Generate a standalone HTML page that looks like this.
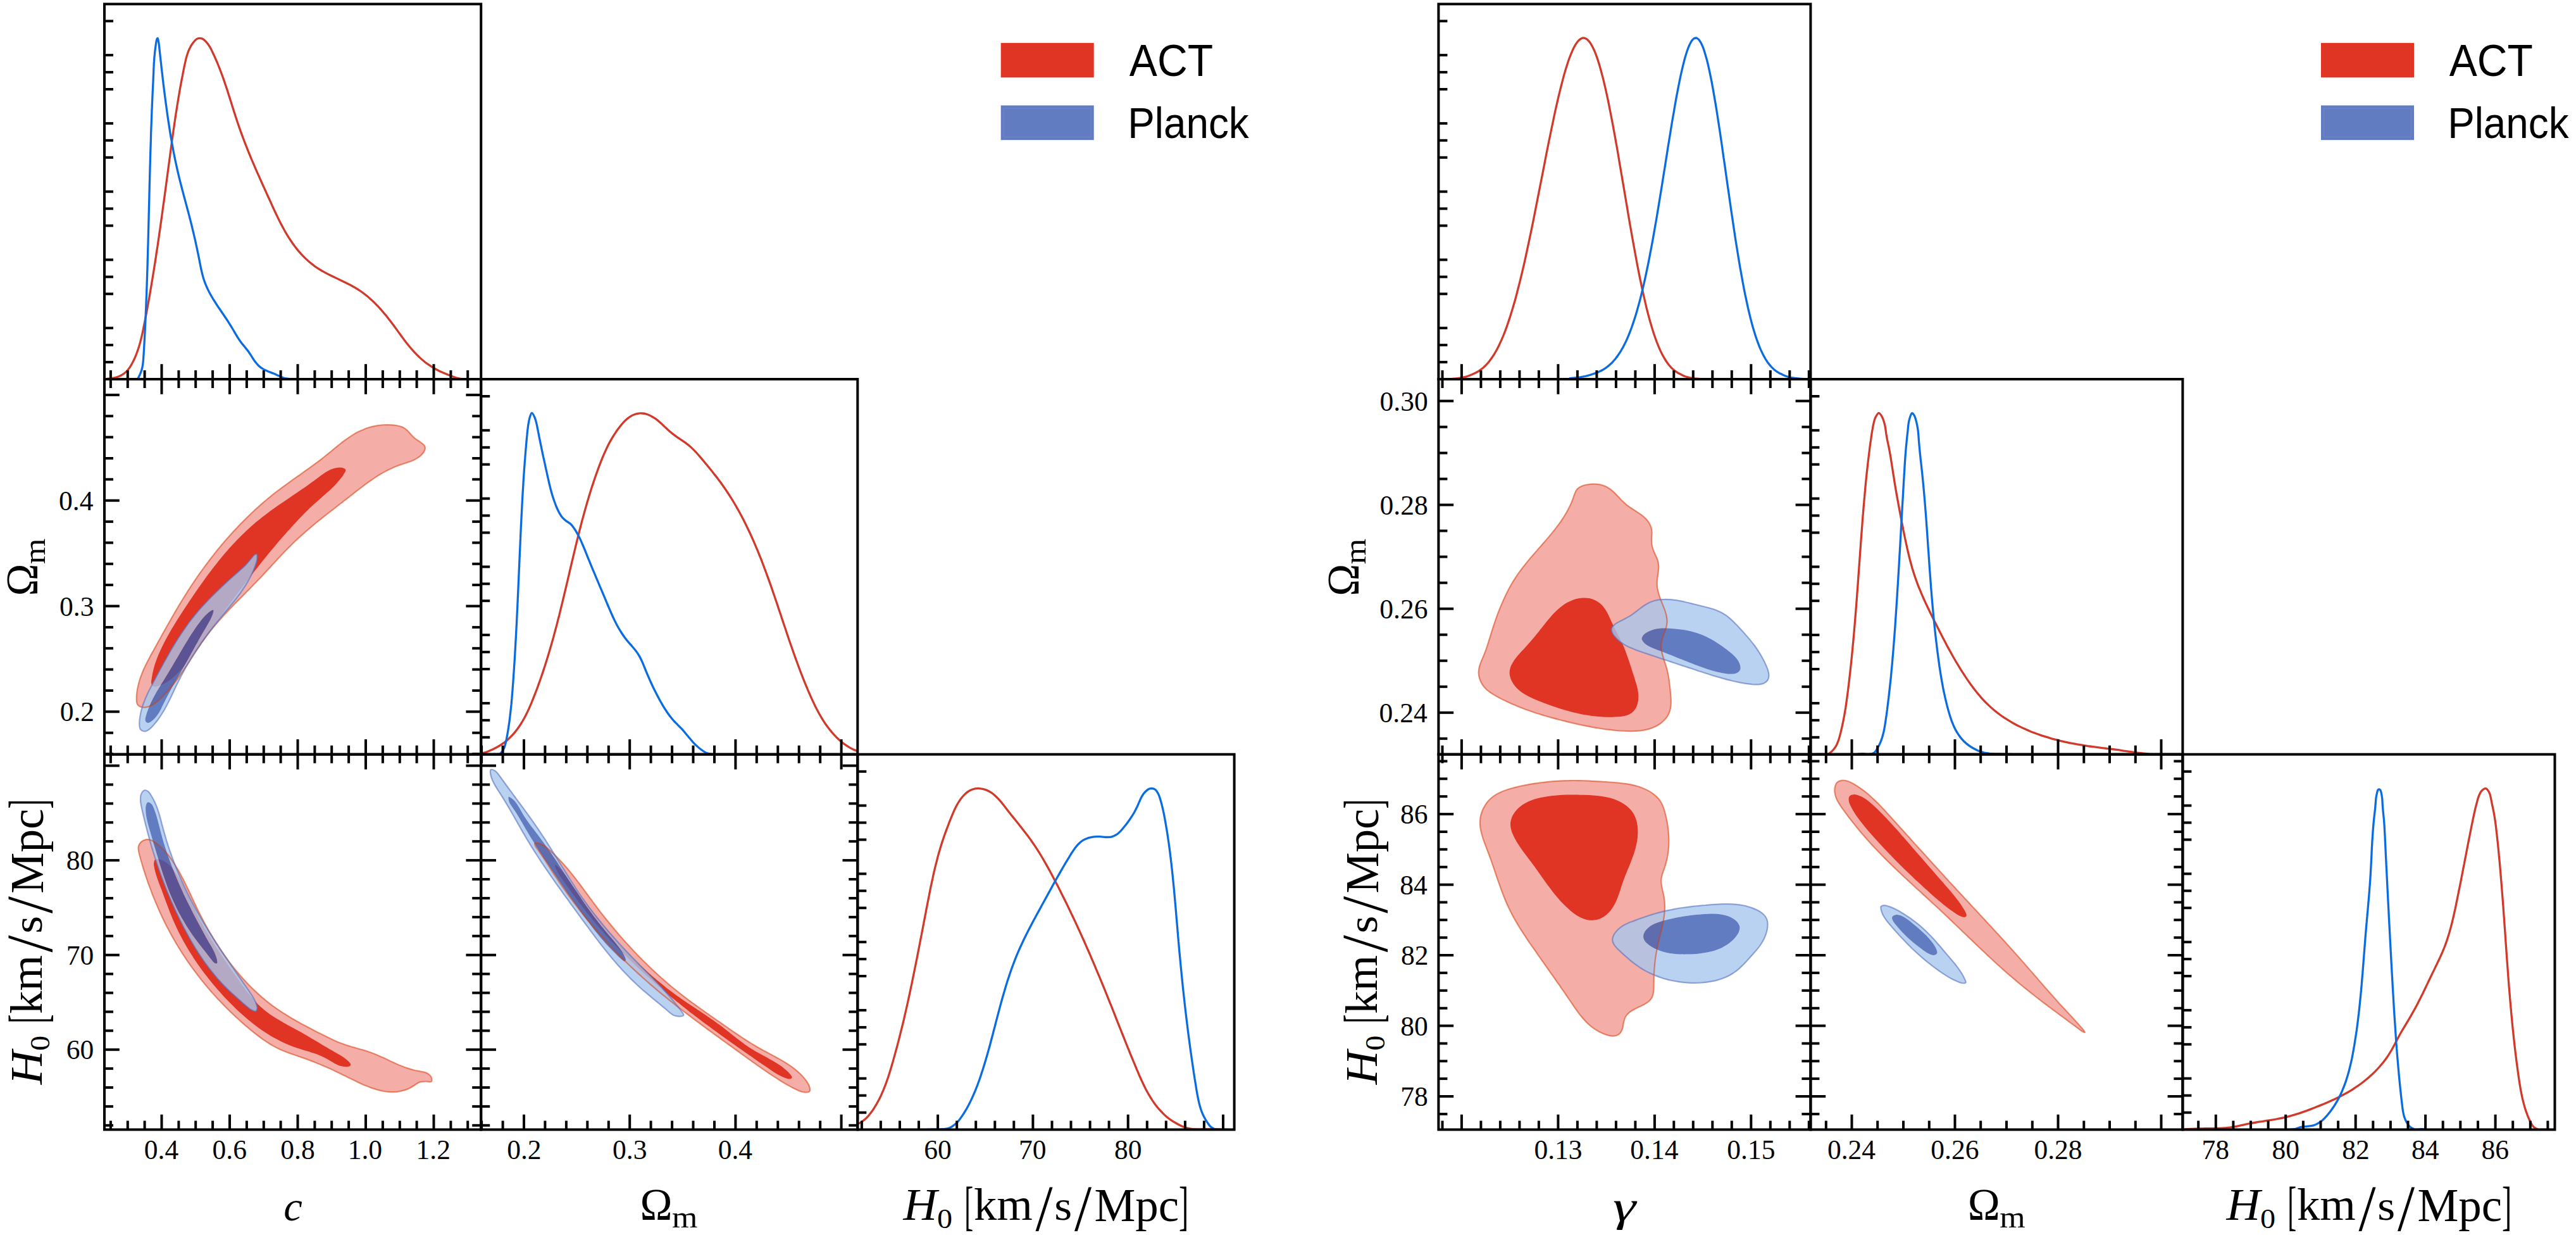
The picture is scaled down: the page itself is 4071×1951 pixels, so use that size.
<!DOCTYPE html>
<html><head><meta charset="utf-8"><title>Triangle plots: ACT vs Planck</title>
<style>html,body{margin:0;padding:0;background:#fff}svg{display:block}</style></head>
<body>
<svg width="4071" height="1951" viewBox="0 0 4071 1951">
<rect width="4071" height="1951" fill="#fff"/>
<clipPath id="cL00"><rect x="165" y="6.4" width="595.2" height="592.6"/></clipPath>
<g clip-path="url(#cL00)">
<path d="M165 598.8C166.4 598.7 170.5 598.4 173.5 598C176.5 597.6 179.9 597.2 183 596.3C186.1 595.5 189.2 594.3 191.9 592.8C194.6 591.4 197 589.5 199.2 587.4C201.3 585.4 203.1 583.1 204.9 580.6C206.6 578.2 208 575.5 209.5 572.8C210.9 570.1 212.2 567.4 213.4 564.6C214.6 561.9 215.7 559.1 216.7 556.3C217.7 553.5 218.7 550.6 219.6 547.8C220.4 544.9 221.3 542 222 539.1C222.8 536.2 223.5 533.3 224.2 530.3C224.9 527.4 225.5 524.5 226.1 521.5C226.7 518.6 227.3 515.6 227.9 512.6C228.5 509.7 229.1 506.7 229.6 503.7C230.2 500.8 230.8 497.8 231.3 494.9C231.9 491.9 232.4 488.9 233 486C233.5 483 234.1 480 234.6 477.1C235.1 474.1 235.7 471.1 236.2 468.2C236.7 465.2 237.2 462.2 237.7 459.3C238.2 456.3 238.7 453.3 239.2 450.4C239.7 447.4 240.2 444.4 240.7 441.5C241.2 438.5 241.7 435.5 242.2 432.5C242.7 429.6 243.1 426.6 243.6 423.6C244.1 420.7 244.5 417.7 245 414.7C245.5 411.7 245.9 408.8 246.4 405.8C246.8 402.8 247.3 399.9 247.7 396.9C248.2 393.9 248.6 390.9 249.1 388C249.5 385 250 382 250.4 379C250.8 376.1 251.3 373.1 251.7 370.1C252.1 367.1 252.5 364.1 253 361.2C253.4 358.2 253.8 355.2 254.2 352.2C254.6 349.3 255.1 346.3 255.5 343.3C255.9 340.3 256.3 337.3 256.7 334.4C257.1 331.4 257.5 328.4 257.9 325.4C258.3 322.4 258.8 319.5 259.2 316.5C259.6 313.5 260 310.5 260.4 307.5C260.8 304.6 261.2 301.6 261.6 298.6C262 295.6 262.4 292.6 262.8 289.7C263.2 286.7 263.6 283.7 264 280.7C264.4 277.7 264.8 274.7 265.2 271.8C265.6 268.8 266 265.8 266.4 262.8C266.8 259.8 267.2 256.8 267.6 253.9C268 250.9 268.4 247.9 268.8 244.9C269.2 241.9 269.6 238.9 270 235.9C270.4 233 270.8 230 271.2 227C271.6 224 272 221 272.4 218C272.9 215.1 273.3 212.1 273.7 209.1C274.1 206.1 274.5 203.1 275 200.2C275.4 197.2 275.8 194.2 276.3 191.2C276.7 188.2 277.2 185.3 277.6 182.3C278.1 179.3 278.5 176.3 279 173.4C279.5 170.4 279.9 167.4 280.4 164.4C280.9 161.5 281.4 158.5 281.9 155.5C282.4 152.6 282.9 149.6 283.4 146.6C283.9 143.7 284.4 140.7 284.9 137.8C285.5 134.8 286 131.9 286.6 128.9C287.1 126 287.7 123 288.3 120.1C288.8 117.1 289.4 114.2 290 111.2C290.6 108.3 291.2 105.4 291.8 102.4C292.5 99.5 293.1 96.5 293.8 93.6C294.5 90.7 295.3 87.8 296.3 85C297.2 82.2 298.3 79.3 299.7 76.6C301 73.9 302.5 71.1 304.4 68.6C306.3 66.1 308.5 62.9 310.9 61.6C313.3 60.3 316.3 60 318.9 60.9C321.5 61.7 324.3 64.5 326.5 66.8C328.6 69.1 330.2 71.8 331.8 74.4C333.4 77.1 334.6 79.8 335.9 82.5C337.2 85.2 338.5 88 339.7 90.7C340.9 93.4 342.1 96.1 343.3 98.9C344.4 101.6 345.5 104.4 346.6 107.1C347.7 109.9 348.8 112.7 349.8 115.5C350.9 118.3 351.9 121.1 352.9 123.9C353.9 126.8 354.9 129.6 355.8 132.4C356.8 135.3 357.7 138.1 358.7 141C359.6 143.9 360.5 146.7 361.4 149.6C362.4 152.5 363.3 155.4 364.2 158.3C365.1 161.1 366 164 366.9 166.9C367.8 169.8 368.7 172.7 369.6 175.6C370.6 178.4 371.5 181.3 372.4 184.2C373.3 187.1 374.3 189.9 375.2 192.8C376.2 195.7 377.2 198.5 378.1 201.4C379.1 204.2 380.1 207 381.2 209.9C382.2 212.7 383.2 215.5 384.3 218.3C385.3 221.2 386.4 224 387.5 226.8C388.6 229.6 389.7 232.3 390.8 235.1C391.9 237.9 393 240.7 394.2 243.5C395.3 246.2 396.5 249 397.6 251.8C398.8 254.5 400 257.3 401.2 260.1C402.3 262.8 403.5 265.6 404.7 268.3C405.9 271.1 407.1 273.8 408.4 276.6C409.6 279.3 410.8 282.1 412 284.8C413.3 287.5 414.5 290.3 415.7 293C417 295.8 418.2 298.5 419.5 301.3C420.7 304 422 306.7 423.2 309.5C424.5 312.2 425.7 315 427 317.7C428.2 320.5 429.5 323.2 430.7 326C432 328.7 433.2 331.5 434.5 334.2C435.8 337 437.1 339.7 438.4 342.4C439.7 345.1 441.1 347.9 442.4 350.5C443.8 353.2 445.2 355.9 446.6 358.6C448 361.2 449.5 363.9 451 366.5C452.5 369.1 454.1 371.6 455.6 374.2C457.2 376.7 458.9 379.2 460.6 381.7C462.3 384.2 464 386.6 465.8 389C467.6 391.4 469.5 393.8 471.4 396.1C473.3 398.3 475.3 400.6 477.4 402.8C479.4 404.9 481.5 407.1 483.7 409.1C485.9 411.2 488.1 413.2 490.4 415.1C492.7 417 495 418.8 497.4 420.6C499.9 422.3 502.4 424 504.9 425.5C507.5 427.1 510.1 428.6 512.8 430.1C515.4 431.5 518.1 432.9 520.8 434.3C523.6 435.7 526.3 437 529.1 438.3C531.8 439.6 534.6 440.9 537.4 442.2C540.1 443.5 542.9 444.8 545.6 446.2C548.4 447.5 551.1 448.9 553.8 450.3C556.4 451.7 559.1 453.1 561.6 454.7C564.2 456.2 566.7 457.8 569.2 459.5C571.7 461.2 574.1 462.9 576.4 464.7C578.8 466.5 581.1 468.4 583.3 470.4C585.5 472.3 587.7 474.3 589.9 476.4C592 478.4 594.1 480.6 596.2 482.7C598.3 484.9 600.3 487.1 602.3 489.3C604.3 491.6 606.2 493.8 608.1 496.2C610.1 498.5 612 500.8 613.8 503.2C615.7 505.6 617.5 508 619.4 510.4C621.2 512.8 623 515.3 624.8 517.7C626.6 520.2 628.3 522.6 630.1 525.1C631.9 527.6 633.7 530 635.5 532.5C637.3 534.9 639.1 537.3 640.9 539.7C642.8 542.1 644.6 544.5 646.5 546.8C648.4 549.1 650.4 551.4 652.4 553.7C654.4 555.9 656.4 558.1 658.5 560.2C660.6 562.4 662.8 564.4 665 566.4C667.3 568.4 669.6 570.3 671.9 572.2C674.3 574 676.8 575.7 679.3 577.4C681.8 579.1 684.3 580.7 686.9 582.2C689.5 583.6 692.2 585.1 694.9 586.4C697.6 587.7 700.4 588.8 703.2 590C705.9 591.2 708.8 592.4 711.7 593.5C714.5 594.6 717.4 595.6 720.3 596.5C723.3 597.3 726.2 598.2 729.2 598.6C732.2 599 735.2 598.8 738.2 598.8C741.2 598.8 744.2 598.8 747.3 598.8C750.3 598.8 754.9 598.8 756.4 598.8" fill="none" stroke="#D1392B" stroke-width="3.3" stroke-linejoin="round"/>
<path d="M217.6 598.8C218.4 597.2 220.9 592.4 222.1 589.4C223.3 586.5 224.1 583.9 224.8 581C225.4 578.2 225.8 575.2 226.1 572.2C226.5 569.2 226.6 566.2 226.8 563.2C227.1 560.2 227.2 557.1 227.4 554.1C227.6 551.1 227.7 548.1 227.9 545C228.1 542 228.3 539 228.4 536C228.6 533 228.7 530 228.9 527C229 524 229.2 521 229.3 518C229.5 515 229.6 512 229.8 509C229.9 506 230 503 230.2 500C230.3 497 230.4 494 230.5 491C230.7 488 230.8 485 230.9 482C231 479 231.1 476 231.2 473C231.4 470 231.5 467 231.6 464C231.7 461 231.8 458 231.9 455C232 452 232.1 449 232.2 446C232.3 443 232.4 440 232.5 437C232.6 434 232.7 431 232.8 428C232.9 425 233 422 233.1 419C233.1 416 233.2 413 233.3 410C233.4 407 233.5 404 233.6 401C233.7 398 233.7 395 233.8 392C233.9 389 234 386 234.1 383C234.1 380 234.2 377 234.3 374C234.4 371 234.5 368 234.5 365C234.6 361.9 234.7 358.9 234.8 355.9C234.8 352.9 234.9 349.9 235 346.9C235.1 343.9 235.1 340.9 235.2 337.9C235.3 334.9 235.4 331.9 235.4 328.9C235.5 325.9 235.6 322.9 235.7 319.9C235.7 316.9 235.8 313.9 235.9 310.9C236 307.9 236 304.9 236.1 301.9C236.2 298.9 236.3 295.8 236.3 292.8C236.4 289.8 236.5 286.8 236.6 283.8C236.6 280.8 236.7 277.8 236.8 274.8C236.9 271.8 237 268.8 237 265.8C237.1 262.8 237.2 259.8 237.3 256.8C237.4 253.8 237.5 250.8 237.5 247.8C237.6 244.8 237.7 241.8 237.8 238.8C237.9 235.8 238 232.8 238.1 229.8C238.2 226.8 238.3 223.8 238.4 220.8C238.5 217.8 238.5 214.8 238.6 211.8C238.7 208.8 238.8 205.8 238.9 202.8C239.1 199.8 239.2 196.8 239.3 193.8C239.4 190.8 239.5 187.8 239.6 184.7C239.7 181.7 239.8 178.7 239.9 175.7C240.1 172.7 240.2 169.7 240.3 166.7C240.4 163.7 240.6 160.7 240.7 157.7C240.8 154.6 241 151.6 241.1 148.6C241.2 145.6 241.4 142.5 241.5 139.5C241.7 136.5 241.8 133.5 242 130.6C242.1 127.7 242.2 124.7 242.3 121.9C242.5 119.1 242.6 116.3 242.7 113.6C242.8 110.8 242.8 108.2 243 105.4C243.1 102.6 243.2 99.8 243.5 96.7C243.7 93.6 243.9 90.5 244.3 86.9C244.6 83.3 245.1 79.1 245.6 75.4C246.1 71.6 246.7 66.9 247.3 64.4C247.9 61.9 248.5 60 249.1 60.4C249.7 60.8 250.2 63.7 250.7 66.7C251.2 69.7 251.7 74.6 252.1 78.4C252.5 82.2 252.9 86.1 253.3 89.6C253.7 93 254 96.1 254.4 99.1C254.7 102.1 255 104.9 255.3 107.7C255.6 110.5 255.9 113.1 256.3 115.9C256.6 118.6 256.9 121.4 257.2 124.2C257.6 127 257.9 129.9 258.2 132.7C258.6 135.6 258.9 138.5 259.3 141.4C259.7 144.3 260 147.2 260.4 150.2C260.8 153.1 261.2 156.1 261.6 159.1C261.9 162.1 262.3 165.1 262.8 168.1C263.2 171.1 263.6 174.1 264 177.1C264.4 180.1 264.9 183.2 265.3 186.2C265.7 189.2 266.2 192.2 266.7 195.3C267.1 198.3 267.6 201.3 268.1 204.3C268.5 207.3 269 210.3 269.5 213.3C270 216.3 270.5 219.3 271.1 222.3C271.6 225.2 272.1 228.2 272.7 231.1C273.2 234.1 273.7 237 274.3 240C274.9 242.9 275.5 245.8 276 248.7C276.6 251.6 277.2 254.5 277.9 257.4C278.5 260.3 279.1 263.2 279.8 266.2C280.4 269.1 281.1 272 281.8 274.9C282.5 277.8 283.2 280.7 283.9 283.6C284.6 286.5 285.4 289.4 286.1 292.3C286.9 295.2 287.6 298.1 288.4 301.1C289.2 304 289.9 306.9 290.7 309.8C291.5 312.7 292.3 315.6 293.1 318.6C293.9 321.5 294.6 324.4 295.4 327.3C296.2 330.2 297 333.2 297.8 336.1C298.5 339 299.3 341.9 300 344.8C300.8 347.7 301.5 350.6 302.3 353.5C303 356.4 303.7 359.3 304.4 362.3C305.1 365.2 305.8 368.1 306.5 371C307.1 373.9 307.8 376.8 308.5 379.7C309.1 382.6 309.7 385.5 310.4 388.5C311 391.4 311.6 394.3 312.3 397.3C312.9 400.2 313.5 403.1 314.1 406.1C314.7 409.1 315.2 412 315.8 415C316.4 418 317 421 317.6 424C318.3 426.9 318.9 429.9 319.7 432.8C320.4 435.8 321.2 438.7 322.1 441.5C323.1 444.4 324.1 447.2 325.2 449.9C326.4 452.7 327.6 455.4 328.9 458.1C330.2 460.7 331.6 463.4 333.1 466C334.5 468.6 336.1 471.1 337.6 473.7C339.2 476.3 340.8 478.8 342.5 481.3C344.1 483.8 345.8 486.3 347.5 488.8C349.2 491.3 350.9 493.8 352.6 496.3C354.3 498.8 356 501.3 357.7 503.8C359.4 506.3 361 508.8 362.6 511.4C364.2 513.9 365.8 516.5 367.3 519C368.9 521.6 370.3 524.2 371.9 526.8C373.4 529.3 374.9 531.9 376.5 534.4C378.1 536.9 379.8 539.3 381.6 541.7C383.4 544 385.4 546.2 387.2 548.6C389.1 550.9 391.1 553.2 392.9 555.7C394.6 558.2 396.2 560.8 397.9 563.4C399.6 566 401.1 568.7 402.9 571.1C404.7 573.4 406.6 575.8 408.7 577.7C410.8 579.7 413.2 581.4 415.7 582.9C418.2 584.3 421 585.5 423.7 586.7C426.5 587.9 429.4 588.8 432.2 590C435.1 591.1 437.9 592.5 440.8 593.7C443.6 594.9 446.4 596.4 449.3 597.3C452.1 598.1 456.5 598.5 458 598.8" fill="none" stroke="#0A6CE0" stroke-width="3.3" stroke-linejoin="round"/>
</g>
<clipPath id="cL10"><rect x="165" y="599" width="595.2" height="592.7"/></clipPath>
<g clip-path="url(#cL10)">
<path d="M215.7 1102.8C215.7 1099.8 216.1 1096.6 216.4 1093.6C216.8 1090.5 217.3 1087.5 218 1084.6C218.6 1081.7 219.4 1078.7 220.2 1075.9C221.1 1073 222 1070.2 223.1 1067.3C224.1 1064.5 225.2 1061.8 226.4 1059C227.6 1056.2 228.9 1053.5 230.2 1050.8C231.5 1048.1 232.9 1045.4 234.3 1042.7C235.7 1040 237.2 1037.3 238.6 1034.6C240.1 1032 241.5 1029.3 243 1026.7C244.5 1024 246 1021.4 247.4 1018.7C248.9 1016.1 250.4 1013.4 251.8 1010.8C253.3 1008.1 254.8 1005.5 256.2 1002.8C257.7 1000.2 259.2 997.5 260.7 994.9C262.1 992.3 263.6 989.6 265.1 987C266.6 984.4 268.1 981.8 269.6 979.2C271 976.5 272.5 973.9 274.1 971.3C275.6 968.7 277.1 966.1 278.6 963.5C280.1 960.9 281.7 958.3 283.2 955.8C284.8 953.2 286.3 950.6 287.9 948C289.5 945.5 291.1 942.9 292.7 940.4C294.3 937.8 295.9 935.3 297.5 932.7C299.2 930.2 300.8 927.7 302.5 925.2C304.1 922.6 305.8 920.1 307.5 917.6C309.2 915.1 310.9 912.7 312.6 910.2C314.3 907.7 316.1 905.2 317.8 902.8C319.6 900.3 321.4 897.9 323.2 895.4C324.9 893 326.7 890.6 328.6 888.2C330.4 885.8 332.2 883.4 334.1 881C335.9 878.6 337.8 876.2 339.6 873.9C341.5 871.5 343.4 869.1 345.3 866.8C347.2 864.5 349.2 862.2 351.1 859.8C353.1 857.5 355 855.2 357 853C359 850.7 361 848.4 363 846.2C365 843.9 367 841.7 369 839.5C371.1 837.3 373.1 835.1 375.2 832.9C377.3 830.7 379.4 828.5 381.5 826.4C383.6 824.2 385.7 822.1 387.9 820C390 817.8 392.2 815.7 394.3 813.7C396.5 811.6 398.7 809.5 400.9 807.5C403.1 805.4 405.3 803.4 407.6 801.4C409.8 799.4 412.1 797.4 414.3 795.4C416.6 793.4 418.9 791.5 421.2 789.5C423.5 787.6 425.9 785.7 428.2 783.8C430.5 781.9 432.9 780.1 435.3 778.2C437.7 776.4 440.1 774.5 442.5 772.7C444.9 770.9 447.3 769.1 449.7 767.3C452.2 765.5 454.6 763.8 457.1 762C459.5 760.2 462 758.5 464.4 756.7C466.9 755 469.4 753.2 471.8 751.5C474.3 749.7 476.8 748 479.2 746.2C481.7 744.5 484.2 742.7 486.6 741C489.1 739.2 491.5 737.4 494 735.7C496.4 733.9 498.8 732.1 501.2 730.3C503.7 728.5 506.1 726.6 508.5 724.8C510.9 722.9 513.2 721.1 515.6 719.2C517.9 717.3 520.3 715.4 522.6 713.5C525 711.5 527.3 709.6 529.6 707.7C531.9 705.8 534.3 703.9 536.6 702C539 700.1 541.3 698.3 543.7 696.5C546.1 694.7 548.6 692.9 551 691.3C553.5 689.6 556 688 558.5 686.4C561.1 684.9 563.7 683.4 566.3 682.1C569 680.8 571.7 679.5 574.5 678.4C577.3 677.2 580.2 676.2 583.1 675.3C586.1 674.5 589.1 673.7 592.1 673.1C595.2 672.5 598.3 672 601.4 671.7C604.4 671.3 607.6 671.1 610.6 671C613.7 671 616.8 671.1 619.8 671.3C622.8 671.5 625.8 671.8 628.6 672.5C631.4 673.1 634.2 673.8 636.7 675C639.2 676.2 641.3 677.9 643.5 679.8C645.6 681.7 647.3 684.2 649.5 686.4C651.6 688.6 653.9 691.1 656.5 693.2C659.1 695.3 662.7 697.1 665.1 699C667.5 700.9 670.2 702.7 671.2 704.8C672.2 706.9 671.9 709.3 671.1 711.5C670.2 713.8 668.3 716.3 666.2 718.4C664.2 720.5 661.4 722.5 658.8 724.1C656.2 725.8 653.4 727.1 650.6 728.3C647.7 729.5 644.8 730.4 641.9 731.3C639 732.3 636 733.1 633.1 734.1C630.2 735.1 627.4 736.2 624.6 737.3C621.8 738.4 619.1 739.7 616.3 741C613.6 742.3 611 743.6 608.3 745.1C605.7 746.5 603.1 748 600.5 749.5C598 751.1 595.4 752.7 592.9 754.3C590.4 756 587.9 757.7 585.5 759.4C583 761.1 580.6 762.9 578.1 764.7C575.7 766.5 573.3 768.3 570.9 770.1C568.5 772 566.1 773.8 563.7 775.7C561.3 777.5 558.9 779.4 556.5 781.3C554.2 783.2 551.8 785 549.4 786.9C547 788.8 544.6 790.6 542.2 792.5C539.8 794.3 537.4 796.2 535 798C532.7 799.9 530.3 801.7 527.9 803.6C525.5 805.4 523.1 807.3 520.7 809.1C518.3 811 516 812.9 513.6 814.7C511.2 816.6 508.9 818.5 506.5 820.4C504.2 822.2 501.8 824.1 499.5 826C497.2 827.9 494.8 829.9 492.5 831.8C490.2 833.7 487.9 835.7 485.7 837.6C483.4 839.6 481.1 841.6 478.9 843.6C476.6 845.6 474.4 847.6 472.2 849.6C470 851.6 467.8 853.7 465.6 855.8C463.4 857.8 461.3 860 459.2 862.1C457 864.2 454.9 866.3 452.8 868.5C450.7 870.6 448.6 872.8 446.5 875C444.5 877.2 442.4 879.4 440.3 881.6C438.3 883.8 436.2 886 434.2 888.2C432.1 890.4 430.1 892.7 428 894.9C426 897.1 423.9 899.3 421.9 901.5C419.8 903.8 417.8 906 415.7 908.2C413.6 910.4 411.6 912.6 409.5 914.8C407.4 917 405.3 919.1 403.2 921.3C401.1 923.5 399 925.6 396.9 927.8C394.8 929.9 392.7 932.1 390.5 934.2C388.4 936.4 386.3 938.5 384.2 940.7C382.1 942.8 379.9 944.9 377.8 947.1C375.7 949.2 373.6 951.4 371.5 953.5C369.4 955.7 367.3 957.8 365.2 960C363.1 962.2 361 964.3 358.9 966.5C356.9 968.7 354.8 970.9 352.8 973.1C350.8 975.3 348.8 977.6 346.8 979.8C344.8 982.1 342.8 984.3 340.8 986.6C338.9 988.9 337 991.2 335.1 993.5C333.2 995.9 331.3 998.2 329.4 1000.6C327.6 1003 325.8 1005.4 324 1007.9C322.2 1010.3 320.5 1012.8 318.7 1015.2C317 1017.7 315.3 1020.2 313.6 1022.8C311.9 1025.3 310.2 1027.8 308.6 1030.3C306.9 1032.9 305.3 1035.4 303.6 1038C302 1040.5 300.3 1043.1 298.7 1045.6C297 1048.1 295.4 1050.7 293.7 1053.2C292 1055.7 290.4 1058.2 288.7 1060.7C287 1063.2 285.3 1065.7 283.5 1068.1C281.8 1070.6 280 1073 278.3 1075.4C276.5 1077.8 274.7 1080.1 272.8 1082.5C270.9 1084.8 269 1087.1 267.1 1089.4C265.1 1091.6 263.1 1093.9 261 1096.1C259 1098.3 256.9 1100.4 254.6 1102.6C252.4 1104.7 250.2 1106.9 247.8 1108.8C245.4 1110.7 242.9 1112.7 240.2 1114.1C237.5 1115.5 234.4 1116.7 231.4 1117.2C228.4 1117.6 224.6 1117.7 222.2 1116.8C219.7 1115.9 217.7 1113.9 216.6 1111.6C215.6 1109.3 215.8 1105.8 215.7 1102.8Z" fill="#F4ADA7"/>
<path d="M239.7 1078.9C239.3 1076.6 240.2 1072.7 240.7 1069.7C241.1 1066.7 241.7 1063.6 242.4 1060.7C243.1 1057.7 243.9 1054.7 244.7 1051.8C245.6 1048.9 246.6 1046 247.6 1043.2C248.6 1040.3 249.8 1037.5 250.9 1034.7C252.1 1031.9 253.3 1029.2 254.6 1026.4C255.9 1023.7 257.2 1021 258.6 1018.3C259.9 1015.6 261.3 1012.9 262.7 1010.3C264.2 1007.6 265.6 1005 267.1 1002.4C268.5 999.8 270 997.2 271.5 994.6C273 992.1 274.6 989.5 276.1 987C277.7 984.4 279.2 981.9 280.8 979.4C282.4 976.8 284 974.3 285.6 971.8C287.2 969.3 288.9 966.8 290.5 964.3C292.1 961.8 293.8 959.3 295.4 956.8C297.1 954.3 298.8 951.8 300.4 949.3C302.1 946.8 303.8 944.3 305.5 941.8C307.2 939.3 308.9 936.8 310.6 934.3C312.3 931.9 314 929.4 315.8 926.9C317.5 924.4 319.2 922 321 919.5C322.8 917.1 324.5 914.6 326.3 912.2C328.1 909.7 329.9 907.3 331.7 904.9C333.5 902.5 335.4 900.1 337.2 897.7C339.1 895.3 340.9 892.9 342.8 890.5C344.7 888.2 346.6 885.8 348.5 883.5C350.4 881.2 352.3 878.8 354.3 876.5C356.2 874.2 358.2 871.9 360.2 869.7C362.1 867.4 364.1 865.2 366.2 863C368.2 860.7 370.2 858.5 372.3 856.4C374.3 854.2 376.4 852 378.5 849.9C380.6 847.8 382.8 845.6 384.9 843.6C387 841.5 389.2 839.4 391.4 837.4C393.6 835.4 395.8 833.4 398 831.4C400.3 829.4 402.5 827.5 404.8 825.5C407.1 823.6 409.4 821.7 411.8 819.9C414.1 818 416.5 816.2 418.8 814.4C421.2 812.6 423.6 810.8 426 809C428.4 807.3 430.8 805.5 433.3 803.8C435.7 802 438.2 800.3 440.6 798.6C443.1 796.9 445.6 795.2 448.1 793.5C450.5 791.8 453 790.1 455.5 788.4C458 786.7 460.5 785 463 783.3C465.5 781.7 468 780 470.5 778.3C473 776.6 475.5 774.9 478 773.1C480.5 771.4 483 769.7 485.5 767.9C487.9 766.2 490.4 764.4 492.9 762.6C495.3 760.8 497.8 759 500.2 757.2C502.7 755.4 505.1 753.5 507.5 751.7C510 750 512.4 748.2 515 746.6C517.5 745.1 520 743.6 522.7 742.4C525.4 741.3 528.1 740.4 531 739.8C533.9 739.3 537.6 739 540 739.4C542.5 739.9 545.4 740.8 545.7 742.6C545.9 744.4 543.5 747.7 541.8 750.3C540.1 753 537.7 755.8 535.6 758.3C533.5 760.8 531.4 763.2 529.3 765.5C527.1 767.7 524.9 769.9 522.8 772C520.6 774.1 518.4 776.1 516.2 778.1C514 780.1 511.8 782 509.6 783.9C507.4 785.8 505.1 787.7 502.9 789.7C500.7 791.6 498.5 793.6 496.4 795.6C494.2 797.5 492 799.6 489.8 801.6C487.7 803.7 485.5 805.8 483.4 807.9C481.3 810 479.1 812.2 477 814.4C474.9 816.5 472.8 818.7 470.7 820.9C468.6 823.1 466.6 825.4 464.5 827.6C462.4 829.8 460.4 832 458.4 834.3C456.3 836.5 454.3 838.8 452.3 841C450.3 843.3 448.3 845.6 446.3 847.8C444.3 850.1 442.4 852.4 440.4 854.6C438.4 856.9 436.5 859.2 434.6 861.5C432.6 863.8 430.7 866.1 428.8 868.4C426.9 870.7 424.9 873 423 875.3C421.1 877.6 419.3 880 417.4 882.3C415.5 884.6 413.6 887 411.7 889.3C409.9 891.6 408 894 406.2 896.3C404.3 898.7 402.5 901 400.6 903.4C398.8 905.8 396.9 908.1 395.1 910.5C393.3 912.9 391.5 915.2 389.6 917.6C387.8 920 386 922.4 384.2 924.8C382.4 927.2 380.6 929.6 378.8 932C377 934.4 375.2 936.8 373.4 939.2C371.6 941.6 369.8 944 368 946.5C366.2 948.9 364.4 951.3 362.6 953.7C360.8 956.2 359 958.6 357.2 961C355.5 963.5 353.7 965.9 351.9 968.3C350.1 970.8 348.3 973.2 346.6 975.7C344.8 978.1 343 980.6 341.3 983C339.5 985.4 337.8 987.9 336 990.3C334.2 992.8 332.5 995.2 330.7 997.7C329 1000.1 327.3 1002.6 325.5 1005C323.8 1007.4 322.1 1009.9 320.3 1012.3C318.6 1014.7 316.9 1017.2 315.2 1019.6C313.5 1022 311.7 1024.4 310 1026.9C308.3 1029.3 306.5 1031.7 304.8 1034.1C303 1036.4 301.2 1038.8 299.4 1041.2C297.6 1043.5 295.7 1045.9 293.8 1048.2C291.9 1050.5 289.9 1052.8 287.9 1055C285.9 1057.3 283.8 1059.5 281.6 1061.7C279.5 1063.9 277.2 1066.1 274.9 1068.2C272.6 1070.2 270.2 1072.2 267.8 1074C265.3 1075.8 262.8 1077.5 260.1 1078.9C257.5 1080.3 254.7 1081.6 251.9 1082.4C249.1 1083.3 245.4 1084.6 243.3 1084C241.3 1083.4 240.1 1081.3 239.7 1078.9Z" fill="#E03424" stroke="#E03424" stroke-width="1.2"/>
<path d="M220.3 1143.2C220.2 1140.3 220.6 1137 221 1134C221.4 1131 222 1128 222.6 1125C223.3 1122.1 224.1 1119.2 225 1116.3C225.9 1113.5 226.9 1110.6 228 1107.8C229.1 1105 230.3 1102.2 231.5 1099.5C232.8 1096.7 234.1 1094 235.4 1091.3C236.8 1088.6 238.2 1085.9 239.6 1083.2C241 1080.5 242.4 1077.8 243.8 1075.1C245.3 1072.4 246.7 1069.7 248.1 1067C249.6 1064.4 251 1061.7 252.4 1059C253.9 1056.3 255.3 1053.7 256.8 1051C258.2 1048.4 259.7 1045.7 261.1 1043.1C262.6 1040.4 264.1 1037.8 265.6 1035.2C267.1 1032.5 268.6 1029.9 270.1 1027.3C271.6 1024.7 273.1 1022.1 274.7 1019.6C276.2 1017 277.8 1014.4 279.4 1011.9C281 1009.3 282.6 1006.8 284.3 1004.3C285.9 1001.8 287.6 999.3 289.3 996.8C290.9 994.3 292.7 991.8 294.4 989.4C296.2 986.9 297.9 984.5 299.7 982.1C301.5 979.7 303.4 977.3 305.3 975C307.1 972.6 309.1 970.3 311 968C312.9 965.7 314.9 963.4 316.9 961.1C318.9 958.9 321 956.6 323 954.4C325.1 952.2 327.2 950 329.3 947.8C331.4 945.6 333.5 943.4 335.7 941.3C337.8 939.1 340 937 342.1 934.9C344.3 932.8 346.5 930.7 348.7 928.6C350.9 926.5 353.1 924.5 355.3 922.4C357.6 920.3 359.8 918.3 362 916.3C364.2 914.3 366.5 912.3 368.7 910.3C370.9 908.3 373.1 906.3 375.4 904.3C377.6 902.3 379.8 900.4 382 898.4C384.2 896.4 386.4 894.5 388.6 892.2C390.7 890 392.8 887.4 394.9 884.9C397.1 882.4 399.6 878.8 401.4 877.2C403.2 875.7 405.1 874.7 405.9 875.8C406.7 876.9 406.6 880.8 406.2 883.7C405.9 886.5 404.7 889.8 403.7 892.8C402.7 895.7 401.5 898.7 400.3 901.6C399.1 904.5 397.7 907.3 396.4 910C395 912.7 393.5 915.4 392 918.1C390.5 920.7 389 923.3 387.4 925.8C385.7 928.4 384.1 930.9 382.3 933.4C380.6 935.8 378.9 938.3 377.1 940.7C375.3 943.1 373.5 945.4 371.6 947.8C369.8 950.2 367.9 952.5 366 954.8C364.1 957.2 362.2 959.5 360.3 961.8C358.4 964.1 356.4 966.4 354.5 968.7C352.6 971 350.7 973.4 348.8 975.7C346.9 978 345 980.4 343.1 982.7C341.2 985.1 339.3 987.5 337.5 989.8C335.6 992.2 333.8 994.6 331.9 997C330.1 999.5 328.3 1001.9 326.5 1004.3C324.7 1006.8 322.9 1009.2 321.2 1011.7C319.4 1014.2 317.7 1016.7 316 1019.2C314.3 1021.7 312.6 1024.2 310.9 1026.7C309.2 1029.2 307.6 1031.8 305.9 1034.3C304.3 1036.9 302.7 1039.4 301.1 1042C299.5 1044.6 298 1047.2 296.4 1049.8C294.9 1052.4 293.4 1055 291.9 1057.7C290.4 1060.3 289 1063 287.6 1065.6C286.1 1068.3 284.7 1071 283.4 1073.7C282 1076.4 280.7 1079.1 279.3 1081.8C278 1084.5 276.7 1087.2 275.4 1090C274.2 1092.7 272.9 1095.4 271.6 1098.2C270.3 1100.9 269 1103.6 267.7 1106.3C266.3 1109 265 1111.7 263.6 1114.3C262.1 1117 260.7 1119.7 259.2 1122.3C257.7 1124.9 256.1 1127.4 254.4 1130C252.8 1132.5 251 1135 249.2 1137.5C247.4 1139.9 245.4 1142.3 243.4 1144.6C241.3 1147 239.2 1149.6 236.9 1151.4C234.6 1153.2 231.9 1155.2 229.4 1155.3C226.8 1155.4 223.3 1153.9 221.8 1151.9C220.3 1149.9 220.4 1146.2 220.3 1143.2ZM337 963.8C336.2 963.1 333.1 965 330.9 966.7C328.6 968.3 325.9 971.2 323.6 973.5C321.4 975.8 319.5 978.3 317.5 980.7C315.6 983.1 313.8 985.6 312 988C310.2 990.4 308.6 992.9 306.9 995.4C305.2 997.8 303.6 1000.3 302 1002.8C300.4 1005.3 298.8 1007.9 297.3 1010.4C295.7 1013 294.1 1015.6 292.6 1018.1C291 1020.7 289.4 1023.4 287.9 1026C286.3 1028.6 284.8 1031.2 283.2 1033.9C281.7 1036.5 280.2 1039.1 278.6 1041.8C277.1 1044.4 275.5 1047 274 1049.7C272.4 1052.3 270.9 1054.9 269.3 1057.5C267.8 1060.1 266.2 1062.7 264.7 1065.3C263.1 1067.9 261.5 1070.4 260 1073C258.4 1075.5 256.8 1078 255.2 1080.5C253.7 1083.1 252.1 1085.6 250.6 1088.1C249 1090.7 247.5 1093.2 246 1095.8C244.6 1098.5 243.1 1101.1 241.7 1103.8C240.3 1106.5 239 1109.2 237.7 1112.1C236.4 1114.9 235.2 1117.8 234 1120.8C232.9 1123.9 231.6 1127.2 230.8 1130.2C230.1 1133.1 229.1 1136.7 229.7 1138.6C230.3 1140.6 232.3 1142.2 234.3 1142C236.4 1141.8 239.5 1139.5 241.8 1137.5C244.2 1135.5 246.6 1132.5 248.5 1130C250.4 1127.4 251.9 1124.8 253.4 1122.2C254.8 1119.6 256 1116.9 257.3 1114.3C258.7 1111.6 259.9 1109 261.3 1106.3C262.6 1103.6 264 1101 265.4 1098.3C266.8 1095.6 268.2 1093 269.7 1090.3C271.1 1087.6 272.6 1084.9 274.1 1082.2C275.5 1079.6 277 1076.9 278.5 1074.2C280 1071.6 281.6 1068.9 283.1 1066.2C284.6 1063.6 286.1 1060.9 287.6 1058.3C289.1 1055.6 290.5 1053 292 1050.4C293.5 1047.8 294.9 1045.2 296.4 1042.5C297.8 1039.9 299.3 1037.3 300.7 1034.7C302.1 1032.1 303.6 1029.6 305 1027C306.5 1024.3 307.9 1021.7 309.3 1019.1C310.8 1016.5 312.3 1013.9 313.7 1011.2C315.2 1008.6 316.7 1005.9 318.2 1003.3C319.8 1000.6 321.3 997.9 322.9 995.2C324.5 992.5 326.2 989.7 327.7 986.9C329.3 984.2 331 981.4 332.4 978.7C333.7 975.9 335.1 973.1 335.9 970.6C336.7 968.1 337.9 964.5 337 963.8Z" fill="#A9C7EE" fill-opacity="0.8" fill-rule="evenodd" stroke="none"/>
<path d="M337 963.8C336.2 963.1 333.1 965 330.9 966.7C328.6 968.3 325.9 971.2 323.6 973.5C321.4 975.8 319.5 978.3 317.5 980.7C315.6 983.1 313.8 985.6 312 988C310.2 990.4 308.6 992.9 306.9 995.4C305.2 997.8 303.6 1000.3 302 1002.8C300.4 1005.3 298.8 1007.9 297.3 1010.4C295.7 1013 294.1 1015.6 292.6 1018.1C291 1020.7 289.4 1023.4 287.9 1026C286.3 1028.6 284.8 1031.2 283.2 1033.9C281.7 1036.5 280.2 1039.1 278.6 1041.8C277.1 1044.4 275.5 1047 274 1049.7C272.4 1052.3 270.9 1054.9 269.3 1057.5C267.8 1060.1 266.2 1062.7 264.7 1065.3C263.1 1067.9 261.5 1070.4 260 1073C258.4 1075.5 256.8 1078 255.2 1080.5C253.7 1083.1 252.1 1085.6 250.6 1088.1C249 1090.7 247.5 1093.2 246 1095.8C244.6 1098.5 243.1 1101.1 241.7 1103.8C240.3 1106.5 239 1109.2 237.7 1112.1C236.4 1114.9 235.2 1117.8 234 1120.8C232.9 1123.9 231.6 1127.2 230.8 1130.2C230.1 1133.1 229.1 1136.7 229.7 1138.6C230.3 1140.6 232.3 1142.2 234.3 1142C236.4 1141.8 239.5 1139.5 241.8 1137.5C244.2 1135.5 246.6 1132.5 248.5 1130C250.4 1127.4 251.9 1124.8 253.4 1122.2C254.8 1119.6 256 1116.9 257.3 1114.3C258.7 1111.6 259.9 1109 261.3 1106.3C262.6 1103.6 264 1101 265.4 1098.3C266.8 1095.6 268.2 1093 269.7 1090.3C271.1 1087.6 272.6 1084.9 274.1 1082.2C275.5 1079.6 277 1076.9 278.5 1074.2C280 1071.6 281.6 1068.9 283.1 1066.2C284.6 1063.6 286.1 1060.9 287.6 1058.3C289.1 1055.6 290.5 1053 292 1050.4C293.5 1047.8 294.9 1045.2 296.4 1042.5C297.8 1039.9 299.3 1037.3 300.7 1034.7C302.1 1032.1 303.6 1029.6 305 1027C306.5 1024.3 307.9 1021.7 309.3 1019.1C310.8 1016.5 312.3 1013.9 313.7 1011.2C315.2 1008.6 316.7 1005.9 318.2 1003.3C319.8 1000.6 321.3 997.9 322.9 995.2C324.5 992.5 326.2 989.7 327.7 986.9C329.3 984.2 331 981.4 332.4 978.7C333.7 975.9 335.1 973.1 335.9 970.6C336.7 968.1 337.9 964.5 337 963.8Z" fill="#3A5BB0" fill-opacity="0.8"/>
<path d="M215.7 1102.8C215.7 1099.8 216.1 1096.6 216.4 1093.6C216.8 1090.5 217.3 1087.5 218 1084.6C218.6 1081.7 219.4 1078.7 220.2 1075.9C221.1 1073 222 1070.2 223.1 1067.3C224.1 1064.5 225.2 1061.8 226.4 1059C227.6 1056.2 228.9 1053.5 230.2 1050.8C231.5 1048.1 232.9 1045.4 234.3 1042.7C235.7 1040 237.2 1037.3 238.6 1034.6C240.1 1032 241.5 1029.3 243 1026.7C244.5 1024 246 1021.4 247.4 1018.7C248.9 1016.1 250.4 1013.4 251.8 1010.8C253.3 1008.1 254.8 1005.5 256.2 1002.8C257.7 1000.2 259.2 997.5 260.7 994.9C262.1 992.3 263.6 989.6 265.1 987C266.6 984.4 268.1 981.8 269.6 979.2C271 976.5 272.5 973.9 274.1 971.3C275.6 968.7 277.1 966.1 278.6 963.5C280.1 960.9 281.7 958.3 283.2 955.8C284.8 953.2 286.3 950.6 287.9 948C289.5 945.5 291.1 942.9 292.7 940.4C294.3 937.8 295.9 935.3 297.5 932.7C299.2 930.2 300.8 927.7 302.5 925.2C304.1 922.6 305.8 920.1 307.5 917.6C309.2 915.1 310.9 912.7 312.6 910.2C314.3 907.7 316.1 905.2 317.8 902.8C319.6 900.3 321.4 897.9 323.2 895.4C324.9 893 326.7 890.6 328.6 888.2C330.4 885.8 332.2 883.4 334.1 881C335.9 878.6 337.8 876.2 339.6 873.9C341.5 871.5 343.4 869.1 345.3 866.8C347.2 864.5 349.2 862.2 351.1 859.8C353.1 857.5 355 855.2 357 853C359 850.7 361 848.4 363 846.2C365 843.9 367 841.7 369 839.5C371.1 837.3 373.1 835.1 375.2 832.9C377.3 830.7 379.4 828.5 381.5 826.4C383.6 824.2 385.7 822.1 387.9 820C390 817.8 392.2 815.7 394.3 813.7C396.5 811.6 398.7 809.5 400.9 807.5C403.1 805.4 405.3 803.4 407.6 801.4C409.8 799.4 412.1 797.4 414.3 795.4C416.6 793.4 418.9 791.5 421.2 789.5C423.5 787.6 425.9 785.7 428.2 783.8C430.5 781.9 432.9 780.1 435.3 778.2C437.7 776.4 440.1 774.5 442.5 772.7C444.9 770.9 447.3 769.1 449.7 767.3C452.2 765.5 454.6 763.8 457.1 762C459.5 760.2 462 758.5 464.4 756.7C466.9 755 469.4 753.2 471.8 751.5C474.3 749.7 476.8 748 479.2 746.2C481.7 744.5 484.2 742.7 486.6 741C489.1 739.2 491.5 737.4 494 735.7C496.4 733.9 498.8 732.1 501.2 730.3C503.7 728.5 506.1 726.6 508.5 724.8C510.9 722.9 513.2 721.1 515.6 719.2C517.9 717.3 520.3 715.4 522.6 713.5C525 711.5 527.3 709.6 529.6 707.7C531.9 705.8 534.3 703.9 536.6 702C539 700.1 541.3 698.3 543.7 696.5C546.1 694.7 548.6 692.9 551 691.3C553.5 689.6 556 688 558.5 686.4C561.1 684.9 563.7 683.4 566.3 682.1C569 680.8 571.7 679.5 574.5 678.4C577.3 677.2 580.2 676.2 583.1 675.3C586.1 674.5 589.1 673.7 592.1 673.1C595.2 672.5 598.3 672 601.4 671.7C604.4 671.3 607.6 671.1 610.6 671C613.7 671 616.8 671.1 619.8 671.3C622.8 671.5 625.8 671.8 628.6 672.5C631.4 673.1 634.2 673.8 636.7 675C639.2 676.2 641.3 677.9 643.5 679.8C645.6 681.7 647.3 684.2 649.5 686.4C651.6 688.6 653.9 691.1 656.5 693.2C659.1 695.3 662.7 697.1 665.1 699C667.5 700.9 670.2 702.7 671.2 704.8C672.2 706.9 671.9 709.3 671.1 711.5C670.2 713.8 668.3 716.3 666.2 718.4C664.2 720.5 661.4 722.5 658.8 724.1C656.2 725.8 653.4 727.1 650.6 728.3C647.7 729.5 644.8 730.4 641.9 731.3C639 732.3 636 733.1 633.1 734.1C630.2 735.1 627.4 736.2 624.6 737.3C621.8 738.4 619.1 739.7 616.3 741C613.6 742.3 611 743.6 608.3 745.1C605.7 746.5 603.1 748 600.5 749.5C598 751.1 595.4 752.7 592.9 754.3C590.4 756 587.9 757.7 585.5 759.4C583 761.1 580.6 762.9 578.1 764.7C575.7 766.5 573.3 768.3 570.9 770.1C568.5 772 566.1 773.8 563.7 775.7C561.3 777.5 558.9 779.4 556.5 781.3C554.2 783.2 551.8 785 549.4 786.9C547 788.8 544.6 790.6 542.2 792.5C539.8 794.3 537.4 796.2 535 798C532.7 799.9 530.3 801.7 527.9 803.6C525.5 805.4 523.1 807.3 520.7 809.1C518.3 811 516 812.9 513.6 814.7C511.2 816.6 508.9 818.5 506.5 820.4C504.2 822.2 501.8 824.1 499.5 826C497.2 827.9 494.8 829.9 492.5 831.8C490.2 833.7 487.9 835.7 485.7 837.6C483.4 839.6 481.1 841.6 478.9 843.6C476.6 845.6 474.4 847.6 472.2 849.6C470 851.6 467.8 853.7 465.6 855.8C463.4 857.8 461.3 860 459.2 862.1C457 864.2 454.9 866.3 452.8 868.5C450.7 870.6 448.6 872.8 446.5 875C444.5 877.2 442.4 879.4 440.3 881.6C438.3 883.8 436.2 886 434.2 888.2C432.1 890.4 430.1 892.7 428 894.9C426 897.1 423.9 899.3 421.9 901.5C419.8 903.8 417.8 906 415.7 908.2C413.6 910.4 411.6 912.6 409.5 914.8C407.4 917 405.3 919.1 403.2 921.3C401.1 923.5 399 925.6 396.9 927.8C394.8 929.9 392.7 932.1 390.5 934.2C388.4 936.4 386.3 938.5 384.2 940.7C382.1 942.8 379.9 944.9 377.8 947.1C375.7 949.2 373.6 951.4 371.5 953.5C369.4 955.7 367.3 957.8 365.2 960C363.1 962.2 361 964.3 358.9 966.5C356.9 968.7 354.8 970.9 352.8 973.1C350.8 975.3 348.8 977.6 346.8 979.8C344.8 982.1 342.8 984.3 340.8 986.6C338.9 988.9 337 991.2 335.1 993.5C333.2 995.9 331.3 998.2 329.4 1000.6C327.6 1003 325.8 1005.4 324 1007.9C322.2 1010.3 320.5 1012.8 318.7 1015.2C317 1017.7 315.3 1020.2 313.6 1022.8C311.9 1025.3 310.2 1027.8 308.6 1030.3C306.9 1032.9 305.3 1035.4 303.6 1038C302 1040.5 300.3 1043.1 298.7 1045.6C297 1048.1 295.4 1050.7 293.7 1053.2C292 1055.7 290.4 1058.2 288.7 1060.7C287 1063.2 285.3 1065.7 283.5 1068.1C281.8 1070.6 280 1073 278.3 1075.4C276.5 1077.8 274.7 1080.1 272.8 1082.5C270.9 1084.8 269 1087.1 267.1 1089.4C265.1 1091.6 263.1 1093.9 261 1096.1C259 1098.3 256.9 1100.4 254.6 1102.6C252.4 1104.7 250.2 1106.9 247.8 1108.8C245.4 1110.7 242.9 1112.7 240.2 1114.1C237.5 1115.5 234.4 1116.7 231.4 1117.2C228.4 1117.6 224.6 1117.7 222.2 1116.8C219.7 1115.9 217.7 1113.9 216.6 1111.6C215.6 1109.3 215.8 1105.8 215.7 1102.8Z" fill="none" stroke="#D63C0C" stroke-opacity="0.55" stroke-width="2.2"/>
<path d="M220.3 1143.2C220.2 1140.3 220.6 1137 221 1134C221.4 1131 222 1128 222.6 1125C223.3 1122.1 224.1 1119.2 225 1116.3C225.9 1113.5 226.9 1110.6 228 1107.8C229.1 1105 230.3 1102.2 231.5 1099.5C232.8 1096.7 234.1 1094 235.4 1091.3C236.8 1088.6 238.2 1085.9 239.6 1083.2C241 1080.5 242.4 1077.8 243.8 1075.1C245.3 1072.4 246.7 1069.7 248.1 1067C249.6 1064.4 251 1061.7 252.4 1059C253.9 1056.3 255.3 1053.7 256.8 1051C258.2 1048.4 259.7 1045.7 261.1 1043.1C262.6 1040.4 264.1 1037.8 265.6 1035.2C267.1 1032.5 268.6 1029.9 270.1 1027.3C271.6 1024.7 273.1 1022.1 274.7 1019.6C276.2 1017 277.8 1014.4 279.4 1011.9C281 1009.3 282.6 1006.8 284.3 1004.3C285.9 1001.8 287.6 999.3 289.3 996.8C290.9 994.3 292.7 991.8 294.4 989.4C296.2 986.9 297.9 984.5 299.7 982.1C301.5 979.7 303.4 977.3 305.3 975C307.1 972.6 309.1 970.3 311 968C312.9 965.7 314.9 963.4 316.9 961.1C318.9 958.9 321 956.6 323 954.4C325.1 952.2 327.2 950 329.3 947.8C331.4 945.6 333.5 943.4 335.7 941.3C337.8 939.1 340 937 342.1 934.9C344.3 932.8 346.5 930.7 348.7 928.6C350.9 926.5 353.1 924.5 355.3 922.4C357.6 920.3 359.8 918.3 362 916.3C364.2 914.3 366.5 912.3 368.7 910.3C370.9 908.3 373.1 906.3 375.4 904.3C377.6 902.3 379.8 900.4 382 898.4C384.2 896.4 386.4 894.5 388.6 892.2C390.7 890 392.8 887.4 394.9 884.9C397.1 882.4 399.6 878.8 401.4 877.2C403.2 875.7 405.1 874.7 405.9 875.8C406.7 876.9 406.6 880.8 406.2 883.7C405.9 886.5 404.7 889.8 403.7 892.8C402.7 895.7 401.5 898.7 400.3 901.6C399.1 904.5 397.7 907.3 396.4 910C395 912.7 393.5 915.4 392 918.1C390.5 920.7 389 923.3 387.4 925.8C385.7 928.4 384.1 930.9 382.3 933.4C380.6 935.8 378.9 938.3 377.1 940.7C375.3 943.1 373.5 945.4 371.6 947.8C369.8 950.2 367.9 952.5 366 954.8C364.1 957.2 362.2 959.5 360.3 961.8C358.4 964.1 356.4 966.4 354.5 968.7C352.6 971 350.7 973.4 348.8 975.7C346.9 978 345 980.4 343.1 982.7C341.2 985.1 339.3 987.5 337.5 989.8C335.6 992.2 333.8 994.6 331.9 997C330.1 999.5 328.3 1001.9 326.5 1004.3C324.7 1006.8 322.9 1009.2 321.2 1011.7C319.4 1014.2 317.7 1016.7 316 1019.2C314.3 1021.7 312.6 1024.2 310.9 1026.7C309.2 1029.2 307.6 1031.8 305.9 1034.3C304.3 1036.9 302.7 1039.4 301.1 1042C299.5 1044.6 298 1047.2 296.4 1049.8C294.9 1052.4 293.4 1055 291.9 1057.7C290.4 1060.3 289 1063 287.6 1065.6C286.1 1068.3 284.7 1071 283.4 1073.7C282 1076.4 280.7 1079.1 279.3 1081.8C278 1084.5 276.7 1087.2 275.4 1090C274.2 1092.7 272.9 1095.4 271.6 1098.2C270.3 1100.9 269 1103.6 267.7 1106.3C266.3 1109 265 1111.7 263.6 1114.3C262.1 1117 260.7 1119.7 259.2 1122.3C257.7 1124.9 256.1 1127.4 254.4 1130C252.8 1132.5 251 1135 249.2 1137.5C247.4 1139.9 245.4 1142.3 243.4 1144.6C241.3 1147 239.2 1149.6 236.9 1151.4C234.6 1153.2 231.9 1155.2 229.4 1155.3C226.8 1155.4 223.3 1153.9 221.8 1151.9C220.3 1149.9 220.4 1146.2 220.3 1143.2Z" fill="none" stroke="#5570BE" stroke-opacity="0.6" stroke-width="2.2"/>
</g>
<clipPath id="cL11"><rect x="760.2" y="599" width="595.1" height="592.7"/></clipPath>
<g clip-path="url(#cL11)">
<path d="M760 1190.4C761.5 1190 765.9 1189.1 768.8 1188.1C771.7 1187.1 774.6 1185.7 777.4 1184.4C780.2 1183.1 783 1181.8 785.7 1180.3C788.3 1178.8 791 1177.2 793.5 1175.4C796 1173.7 798.5 1171.8 800.8 1169.9C803.1 1167.9 805.3 1165.9 807.4 1163.7C809.5 1161.6 811.5 1159.4 813.4 1157.1C815.3 1154.8 817.1 1152.5 818.9 1150C820.6 1147.6 822.3 1145.1 823.8 1142.6C825.4 1140 826.9 1137.4 828.4 1134.8C829.8 1132.2 831.2 1129.5 832.5 1126.8C833.9 1124.1 835.1 1121.3 836.4 1118.5C837.6 1115.8 838.8 1113 840 1110.2C841.1 1107.4 842.3 1104.5 843.4 1101.7C844.5 1098.9 845.6 1096 846.7 1093.2C847.8 1090.4 848.9 1087.5 849.9 1084.7C850.9 1081.8 852 1079 853 1076.1C854 1073.2 855 1070.4 856 1067.5C857 1064.7 857.9 1061.8 858.9 1058.9C859.8 1056 860.8 1053.2 861.7 1050.3C862.6 1047.4 863.5 1044.5 864.4 1041.6C865.3 1038.8 866.2 1035.9 867 1033C867.9 1030.1 868.8 1027.2 869.6 1024.3C870.5 1021.4 871.3 1018.5 872.1 1015.6C872.9 1012.7 873.7 1009.8 874.6 1006.9C875.4 1004 876.1 1001.1 876.9 998.1C877.7 995.2 878.5 992.3 879.3 989.4C880 986.5 880.8 983.6 881.5 980.6C882.3 977.7 883 974.8 883.8 971.9C884.5 968.9 885.2 966 885.9 963.1C886.7 960.2 887.4 957.2 888.1 954.3C888.8 951.4 889.5 948.4 890.2 945.5C890.9 942.6 891.6 939.6 892.3 936.7C893 933.8 893.7 930.8 894.4 927.9C895.1 924.9 895.8 922 896.5 919.1C897.2 916.1 897.9 913.2 898.6 910.2C899.3 907.3 900 904.4 900.6 901.4C901.3 898.5 902 895.5 902.7 892.6C903.4 889.7 904.1 886.7 904.8 883.8C905.5 880.8 906.2 877.9 906.9 875C907.6 872 908.3 869.1 909 866.1C909.7 863.2 910.4 860.3 911.1 857.3C911.8 854.4 912.6 851.5 913.3 848.5C914 845.6 914.8 842.7 915.5 839.7C916.2 836.8 917 833.9 917.7 831C918.5 828 919.3 825.1 920 822.2C920.8 819.3 921.6 816.4 922.4 813.5C923.2 810.5 924 807.6 924.8 804.7C925.6 801.8 926.5 798.9 927.3 796C928.1 793.1 929 790.2 929.9 787.3C930.7 784.4 931.6 781.6 932.5 778.7C933.4 775.8 934.3 772.9 935.2 770C936.2 767.2 937.1 764.3 938.1 761.4C939 758.6 940 755.7 941 752.8C942 750 943 747.1 944 744.3C945 741.4 946.1 738.6 947.1 735.8C948.2 732.9 949.3 730.1 950.4 727.3C951.5 724.5 952.7 721.7 953.9 718.9C955.1 716.1 956.3 713.4 957.6 710.6C958.8 707.9 960.2 705.2 961.5 702.5C962.9 699.8 964.4 697.2 965.8 694.6C967.3 692 968.9 689.4 970.5 686.8C972.2 684.3 973.8 681.8 975.6 679.3C977.4 676.9 979.2 674.4 981.2 672.1C983.1 669.7 985.1 667.4 987.3 665.2C989.4 663.1 991.7 661 994.1 659.3C996.6 657.6 999.2 656 1002 655C1004.8 653.9 1007.8 653.1 1010.8 652.9C1013.7 652.6 1016.8 653 1019.7 653.6C1022.6 654.3 1025.6 655.5 1028.3 656.9C1031.1 658.2 1033.7 660 1036.2 661.7C1038.7 663.5 1041 665.5 1043.3 667.5C1045.6 669.5 1047.7 671.6 1049.8 673.6C1052 675.6 1054.1 677.7 1056.4 679.7C1058.6 681.7 1060.9 683.6 1063.2 685.4C1065.6 687.3 1068 689.1 1070.5 690.8C1073 692.5 1075.6 694.1 1078.1 695.8C1080.6 697.5 1083.1 699.2 1085.5 701.1C1087.9 702.9 1090.2 704.9 1092.4 706.9C1094.6 708.9 1096.7 711.1 1098.7 713.2C1100.8 715.4 1102.8 717.7 1104.8 719.9C1106.8 722.2 1108.7 724.5 1110.7 726.8C1112.6 729.1 1114.5 731.5 1116.5 733.8C1118.4 736.1 1120.3 738.5 1122.2 740.8C1124.2 743.2 1126.1 745.5 1127.9 747.9C1129.8 750.3 1131.7 752.6 1133.5 755C1135.3 757.5 1137.2 759.9 1139 762.3C1140.7 764.7 1142.5 767.2 1144.2 769.7C1146 772.2 1147.7 774.7 1149.3 777.2C1151 779.7 1152.6 782.2 1154.3 784.8C1155.9 787.3 1157.5 789.9 1159 792.5C1160.6 795.1 1162.1 797.7 1163.6 800.3C1165.1 802.9 1166.6 805.5 1168.1 808.2C1169.5 810.8 1171 813.5 1172.4 816.2C1173.8 818.8 1175.2 821.5 1176.5 824.2C1177.9 826.9 1179.2 829.6 1180.5 832.4C1181.9 835.1 1183.2 837.8 1184.4 840.5C1185.7 843.3 1187 846 1188.2 848.8C1189.5 851.6 1190.7 854.3 1191.9 857.1C1193.1 859.9 1194.3 862.6 1195.4 865.4C1196.6 868.2 1197.8 871 1198.9 873.8C1200 876.6 1201.1 879.4 1202.3 882.2C1203.4 885 1204.5 887.8 1205.5 890.6C1206.6 893.4 1207.7 896.3 1208.7 899.1C1209.8 901.9 1210.8 904.7 1211.9 907.6C1212.9 910.4 1213.9 913.3 1215 916.1C1216 918.9 1217 921.8 1218 924.6C1219 927.5 1220 930.3 1221 933.2C1221.9 936 1222.9 938.9 1223.9 941.7C1224.9 944.6 1225.8 947.5 1226.8 950.3C1227.8 953.2 1228.7 956 1229.7 958.9C1230.6 961.8 1231.6 964.6 1232.6 967.5C1233.5 970.4 1234.5 973.2 1235.4 976.1C1236.4 979 1237.3 981.8 1238.3 984.7C1239.2 987.5 1240.2 990.4 1241.2 993.3C1242.1 996.1 1243.1 999 1244 1001.9C1245 1004.7 1246 1007.6 1246.9 1010.5C1247.9 1013.3 1248.9 1016.2 1249.9 1019C1250.9 1021.9 1251.9 1024.7 1252.9 1027.6C1253.9 1030.4 1254.9 1033.3 1255.9 1036.1C1256.9 1039 1257.9 1041.8 1259 1044.7C1260 1047.5 1261.1 1050.3 1262.1 1053.2C1263.2 1056 1264.3 1058.8 1265.3 1061.7C1266.4 1064.5 1267.5 1067.3 1268.6 1070.1C1269.7 1072.9 1270.9 1075.7 1272 1078.6C1273.1 1081.4 1274.3 1084.2 1275.5 1087C1276.6 1089.8 1277.8 1092.5 1279 1095.3C1280.3 1098.1 1281.5 1100.9 1282.7 1103.6C1284 1106.4 1285.3 1109.2 1286.6 1111.9C1287.9 1114.6 1289.2 1117.3 1290.6 1120C1292 1122.7 1293.4 1125.4 1294.9 1128C1296.4 1130.6 1297.9 1133.2 1299.5 1135.8C1301 1138.3 1302.7 1140.8 1304.3 1143.3C1306 1145.8 1307.8 1148.2 1309.6 1150.6C1311.4 1153 1313.3 1155.3 1315.3 1157.6C1317.3 1159.8 1319.3 1162 1321.4 1164.2C1323.6 1166.3 1325.8 1168.4 1328.1 1170.4C1330.4 1172.4 1332.8 1174.4 1335.3 1176.2C1337.7 1177.9 1340.3 1179.6 1343 1181.1C1345.6 1182.6 1348.4 1184 1351.2 1185.1C1354.1 1186.2 1358.5 1187.4 1360 1187.9" fill="none" stroke="#D1392B" stroke-width="3.3" stroke-linejoin="round"/>
<path d="M780 1191.4C781.6 1191.3 787.1 1192.1 789.7 1190.9C792.2 1189.8 793.9 1186.9 795.4 1184.5C796.9 1182.1 797.7 1179.2 798.5 1176.3C799.4 1173.4 799.9 1170.2 800.5 1167.2C801.1 1164.1 801.7 1161 802.2 1158C802.7 1154.9 803.2 1151.9 803.7 1148.8C804.1 1145.8 804.6 1142.8 805 1139.7C805.4 1136.7 805.8 1133.7 806.1 1130.7C806.5 1127.7 806.8 1124.7 807.1 1121.7C807.5 1118.7 807.8 1115.7 808.1 1112.7C808.3 1109.7 808.6 1106.7 808.9 1103.7C809.1 1100.7 809.4 1097.7 809.6 1094.7C809.9 1091.7 810.1 1088.7 810.3 1085.7C810.5 1082.7 810.8 1079.7 811 1076.7C811.2 1073.7 811.4 1070.7 811.6 1067.7C811.8 1064.7 812 1061.7 812.2 1058.7C812.4 1055.7 812.6 1052.7 812.8 1049.7C813 1046.7 813.2 1043.7 813.4 1040.7C813.5 1037.7 813.7 1034.7 813.9 1031.7C814.1 1028.7 814.3 1025.6 814.4 1022.6C814.6 1019.6 814.8 1016.6 814.9 1013.6C815.1 1010.6 815.3 1007.6 815.4 1004.5C815.6 1001.5 815.7 998.5 815.9 995.5C816 992.5 816.2 989.4 816.4 986.4C816.5 983.4 816.7 980.4 816.8 977.4C816.9 974.3 817.1 971.3 817.2 968.3C817.4 965.3 817.5 962.3 817.7 959.2C817.8 956.2 817.9 953.2 818.1 950.2C818.2 947.1 818.3 944.1 818.5 941.1C818.6 938.1 818.8 935 818.9 932C819 929 819.2 926 819.3 923C819.4 919.9 819.6 916.9 819.7 913.9C819.8 910.9 819.9 907.8 820.1 904.8C820.2 901.8 820.3 898.8 820.5 895.7C820.6 892.7 820.7 889.7 820.9 886.7C821 883.6 821.1 880.6 821.3 877.6C821.4 874.6 821.5 871.6 821.7 868.5C821.8 865.5 821.9 862.5 822.1 859.5C822.2 856.5 822.3 853.4 822.5 850.4C822.6 847.4 822.7 844.4 822.9 841.4C823 838.4 823.2 835.4 823.3 832.3C823.5 829.3 823.6 826.3 823.8 823.3C823.9 820.3 824 817.3 824.2 814.3C824.4 811.3 824.5 808.3 824.7 805.2C824.8 802.2 825 799.2 825.1 796.2C825.3 793.2 825.5 790.2 825.6 787.2C825.8 784.2 826 781.2 826.1 778.2C826.3 775.2 826.5 772.2 826.7 769.2C826.9 766.2 827 763.2 827.2 760.1C827.4 757.1 827.6 754.1 827.8 751.1C828 748.1 828.2 745 828.4 742C828.6 739 828.9 735.9 829.1 732.9C829.3 729.9 829.5 726.8 829.8 723.7C830 720.7 830.3 717.6 830.5 714.6C830.8 711.5 831 708.4 831.3 705.4C831.5 702.4 831.8 699.4 832.1 696.5C832.3 693.6 832.6 690.7 832.9 687.9C833.1 685 833.4 682.5 833.7 679.6C834.1 676.8 834.4 674.1 834.9 670.8C835.5 667.5 836.1 663 837.1 659.9C838 656.9 839.2 652.4 840.5 652.3C841.9 652.2 843.7 656.5 844.9 659.3C846.2 662.1 847.2 666.1 847.9 669.2C848.7 672.3 849.2 675 849.7 677.9C850.3 680.8 850.8 683.6 851.4 686.4C851.9 689.3 852.5 692.2 853.1 695.1C853.7 698 854.3 700.9 854.9 703.9C855.5 706.8 856.1 709.7 856.7 712.7C857.3 715.6 858 718.6 858.6 721.6C859.3 724.5 859.9 727.5 860.6 730.5C861.2 733.4 861.9 736.4 862.5 739.4C863.2 742.3 863.8 745.3 864.5 748.3C865.1 751.2 865.8 754.2 866.5 757.2C867.1 760.1 867.8 763.1 868.5 766C869.2 768.9 870 771.9 870.7 774.8C871.5 777.7 872.3 780.6 873.2 783.5C874.1 786.3 875 789.2 876.1 792C877.1 794.9 878.1 797.7 879.3 800.5C880.5 803.3 881.7 806.1 883.1 808.8C884.5 811.4 886 814.1 887.8 816.5C889.7 818.8 891.9 820.7 894.3 822.6C896.6 824.5 899.6 825.8 901.8 827.8C904 829.8 905.7 832.4 907.4 834.8C909.1 837.2 910.6 839.8 912.1 842.4C913.6 845.1 914.9 847.7 916.3 850.4C917.6 853.1 918.8 855.9 920 858.7C921.3 861.5 922.4 864.3 923.6 867.1C924.7 869.9 925.8 872.7 927 875.6C928.1 878.4 929.2 881.2 930.4 884C931.5 886.8 932.7 889.6 933.8 892.4C935 895.2 936.1 898 937.3 900.8C938.5 903.6 939.6 906.3 940.8 909.1C942 911.9 943.1 914.7 944.3 917.4C945.5 920.2 946.7 923 947.8 925.8C949 928.5 950.2 931.3 951.4 934.1C952.5 936.9 953.7 939.7 954.9 942.4C956.1 945.2 957.2 948 958.4 950.8C959.6 953.6 960.7 956.4 961.9 959.2C963.1 961.9 964.3 964.7 965.5 967.5C966.7 970.3 967.9 973 969.2 975.7C970.5 978.5 971.8 981.2 973.2 983.9C974.5 986.5 976 989.2 977.4 991.8C978.9 994.4 980.5 997 982.1 999.5C983.7 1002.1 985.4 1004.5 987.2 1007C989 1009.4 990.9 1011.8 992.9 1014.1C994.8 1016.4 996.9 1018.7 998.9 1021C1000.9 1023.3 1002.9 1025.6 1004.7 1028C1006.6 1030.4 1008.3 1032.9 1009.8 1035.5C1011.4 1038 1012.7 1040.8 1014 1043.5C1015.3 1046.2 1016.4 1049.1 1017.6 1051.9C1018.7 1054.7 1019.8 1057.5 1021 1060.3C1022.1 1063.1 1023.3 1065.9 1024.5 1068.7C1025.7 1071.5 1026.9 1074.3 1028.2 1077C1029.4 1079.8 1030.7 1082.5 1032 1085.2C1033.3 1087.9 1034.6 1090.6 1036 1093.3C1037.3 1096 1038.7 1098.7 1040.2 1101.4C1041.6 1104 1043 1106.7 1044.5 1109.3C1046 1111.9 1047.5 1114.6 1049.1 1117.2C1050.7 1119.8 1052.3 1122.3 1054 1124.8C1055.7 1127.3 1057.4 1129.8 1059.3 1132.1C1061.1 1134.5 1063 1136.8 1065 1139C1067 1141.1 1069.2 1143.1 1071.3 1145.3C1073.4 1147.4 1075.5 1149.5 1077.6 1151.7C1079.6 1154 1081.6 1156.3 1083.6 1158.7C1085.6 1161 1087.5 1163.5 1089.5 1165.8C1091.5 1168.2 1093.5 1170.6 1095.5 1172.8C1097.6 1175 1099.7 1177.2 1101.9 1179.1C1104.1 1181.1 1106.4 1182.9 1108.8 1184.7C1111.2 1186.4 1113.8 1188.4 1116.5 1189.6C1119.2 1190.7 1122.1 1191.2 1125.2 1191.5C1128.3 1191.8 1133.4 1191.5 1135 1191.5" fill="none" stroke="#0A6CE0" stroke-width="3.3" stroke-linejoin="round"/>
</g>
<clipPath id="cL20"><rect x="165" y="1191.7" width="595.2" height="592.8"/></clipPath>
<g clip-path="url(#cL20)">
<path d="M230.6 1326.3C227.9 1326.8 224.9 1328.3 223 1330.1C221 1332 219.3 1334.8 218.7 1337.6C218.2 1340.3 219 1343.7 219.5 1346.7C220.1 1349.8 221.1 1353 221.9 1356C222.7 1359 223.6 1361.9 224.4 1364.8C225.3 1367.8 226.1 1370.6 227 1373.4C227.9 1376.3 228.8 1379.1 229.7 1381.9C230.6 1384.7 231.6 1387.5 232.6 1390.3C233.5 1393.1 234.5 1395.9 235.5 1398.7C236.6 1401.5 237.6 1404.3 238.7 1407.1C239.7 1409.9 240.8 1412.7 241.9 1415.5C243 1418.3 244.2 1421.1 245.3 1423.9C246.5 1426.7 247.7 1429.4 248.9 1432.2C250.1 1435 251.3 1437.7 252.5 1440.5C253.8 1443.2 255 1446 256.3 1448.7C257.6 1451.5 259 1454.2 260.3 1456.9C261.6 1459.6 263 1462.3 264.4 1465C265.8 1467.6 267.2 1470.3 268.6 1473C270 1475.6 271.5 1478.3 273 1480.9C274.5 1483.5 276 1486.1 277.5 1488.7C279 1491.3 280.6 1493.9 282.1 1496.4C283.7 1499 285.3 1501.5 286.9 1504.1C288.5 1506.6 290.1 1509.1 291.8 1511.6C293.4 1514.1 295.1 1516.6 296.8 1519.1C298.5 1521.5 300.2 1524 302 1526.4C303.7 1528.8 305.5 1531.3 307.3 1533.7C309.1 1536.1 310.9 1538.5 312.7 1540.8C314.5 1543.2 316.4 1545.6 318.2 1547.9C320.1 1550.3 322 1552.6 323.9 1554.9C325.8 1557.2 327.7 1559.5 329.7 1561.8C331.6 1564.1 333.6 1566.3 335.6 1568.6C337.6 1570.8 339.6 1573 341.6 1575.2C343.6 1577.5 345.7 1579.7 347.8 1581.8C349.8 1584 351.9 1586.2 354 1588.3C356.1 1590.5 358.2 1592.6 360.4 1594.7C362.5 1596.8 364.7 1598.9 366.9 1601C369 1603.1 371.2 1605.1 373.5 1607.2C375.7 1609.2 377.9 1611.3 380.2 1613.3C382.4 1615.3 384.7 1617.3 387 1619.3C389.3 1621.2 391.6 1623.2 393.9 1625.1C396.2 1627.1 398.6 1629 400.9 1630.9C403.3 1632.8 405.7 1634.7 408.1 1636.5C410.5 1638.3 412.9 1640.1 415.4 1641.9C417.8 1643.6 420.3 1645.3 422.8 1646.9C425.4 1648.5 427.9 1650.1 430.5 1651.6C433.1 1653.1 435.7 1654.5 438.3 1655.8C441 1657.2 443.7 1658.4 446.4 1659.6C449.1 1660.7 451.9 1661.8 454.7 1662.8C457.5 1663.9 460.3 1664.8 463.1 1665.8C465.9 1666.8 468.8 1667.7 471.6 1668.7C474.5 1669.7 477.3 1670.6 480.2 1671.6C483 1672.6 485.9 1673.7 488.7 1674.7C491.5 1675.8 494.4 1676.9 497.2 1678C500 1679.1 502.8 1680.3 505.6 1681.4C508.4 1682.6 511.2 1683.8 513.9 1685C516.7 1686.1 519.4 1687.4 522.1 1688.6C524.8 1689.8 527.5 1691.1 530.2 1692.4C532.8 1693.6 535.5 1694.9 538.1 1696.2C540.8 1697.5 543.4 1698.8 546.1 1700.1C548.7 1701.4 551.4 1702.7 554.1 1704.1C556.8 1705.4 559.5 1706.7 562.3 1708C565 1709.4 567.8 1710.7 570.6 1711.9C573.4 1713.2 576.3 1714.5 579.1 1715.6C582 1716.8 584.9 1717.9 587.8 1718.9C590.6 1719.9 593.6 1720.8 596.5 1721.6C599.4 1722.4 602.3 1723.1 605.2 1723.7C608.2 1724.2 611.1 1724.7 614 1724.9C617 1725.1 619.9 1725.2 622.8 1725.1C625.8 1725 628.7 1724.7 631.6 1724.1C634.5 1723.6 637.4 1722.8 640.3 1721.9C643.1 1720.9 645.9 1719.7 648.5 1718.4C651.2 1717 653.6 1715.2 656 1713.7C658.5 1712.2 660.7 1710.3 663.5 1709.4C666.3 1708.6 669.8 1708.6 672.8 1708.5C675.9 1708.3 680.3 1709.9 681.7 1708.6C683.1 1707.4 682.6 1703.2 681.2 1700.9C679.9 1698.6 676.4 1696.1 673.7 1694.7C671 1693.4 667.9 1693.3 665 1692.7C662.1 1692 659.1 1691.6 656.2 1691C653.3 1690.3 650.5 1689.5 647.6 1688.6C644.8 1687.8 641.9 1686.8 639.1 1685.8C636.3 1684.7 633.5 1683.6 630.7 1682.5C628 1681.3 625.2 1680.1 622.5 1678.8C619.7 1677.6 617 1676.3 614.3 1675C611.5 1673.7 608.8 1672.4 606.1 1671.1C603.4 1669.8 600.7 1668.6 597.9 1667.4C595.2 1666.2 592.4 1665 589.6 1664C586.8 1662.9 584 1661.9 581.2 1661C578.3 1660.1 575.4 1659.2 572.6 1658.4C569.7 1657.6 566.8 1656.8 563.9 1656C561.1 1655.1 558.2 1654.4 555.3 1653.5C552.4 1652.7 549.6 1651.8 546.7 1650.9C543.9 1649.9 541.1 1648.9 538.3 1647.8C535.5 1646.8 532.7 1645.6 530 1644.4C527.2 1643.2 524.5 1641.9 521.8 1640.6C519.1 1639.3 516.4 1638 513.7 1636.6C511 1635.3 508.3 1633.9 505.6 1632.5C502.9 1631.2 500.2 1629.8 497.5 1628.4C494.8 1627 492.2 1625.6 489.5 1624.2C486.8 1622.8 484.1 1621.4 481.5 1620C478.8 1618.6 476.2 1617.2 473.5 1615.7C470.9 1614.2 468.3 1612.8 465.7 1611.3C463.1 1609.8 460.5 1608.3 457.9 1606.7C455.4 1605.2 452.8 1603.6 450.3 1602C447.7 1600.4 445.2 1598.8 442.7 1597.1C440.3 1595.5 437.8 1593.8 435.4 1592.1C432.9 1590.3 430.5 1588.6 428.2 1586.8C425.8 1585 423.4 1583.2 421.1 1581.3C418.8 1579.4 416.5 1577.5 414.2 1575.6C412 1573.6 409.7 1571.6 407.5 1569.6C405.3 1567.6 403.1 1565.6 401 1563.5C398.8 1561.4 396.7 1559.3 394.6 1557.2C392.5 1555.1 390.4 1552.9 388.4 1550.7C386.3 1548.5 384.3 1546.3 382.3 1544.1C380.3 1541.8 378.3 1539.5 376.4 1537.2C374.5 1535 372.5 1532.6 370.6 1530.3C368.8 1527.9 366.9 1525.6 365.1 1523.2C363.2 1520.8 361.4 1518.4 359.6 1515.9C357.8 1513.5 356.1 1511 354.3 1508.6C352.6 1506.1 350.9 1503.6 349.2 1501.1C347.5 1498.6 345.8 1496 344.2 1493.5C342.5 1491 340.9 1488.4 339.3 1485.8C337.7 1483.2 336.1 1480.6 334.6 1478C333 1475.4 331.5 1472.8 330 1470.2C328.5 1467.6 327 1464.9 325.5 1462.3C324.1 1459.6 322.7 1457 321.2 1454.3C319.8 1451.6 318.4 1448.9 317.1 1446.3C315.7 1443.6 314.3 1440.9 313 1438.2C311.7 1435.5 310.4 1432.8 309.1 1430.1C307.8 1427.4 306.5 1424.7 305.3 1422C304 1419.3 302.7 1416.5 301.5 1413.8C300.2 1411.1 299 1408.4 297.7 1405.8C296.4 1403.1 295.1 1400.4 293.8 1397.7C292.5 1395.1 291.2 1392.4 289.9 1389.8C288.5 1387.1 287.1 1384.5 285.7 1381.9C284.3 1379.3 282.9 1376.7 281.4 1374.1C279.9 1371.5 278.3 1369 276.7 1366.5C275.2 1364 273.5 1361.5 271.8 1359C270.1 1356.6 268.3 1354.1 266.5 1351.7C264.6 1349.3 262.7 1347 260.7 1344.7C258.6 1342.4 256.5 1340.2 254.2 1338.1C251.9 1335.9 249.4 1333.7 246.8 1331.9C244.3 1330.1 241.6 1328.3 238.8 1327.3C236.1 1326.4 233.2 1325.8 230.6 1326.3Z" fill="#F4ADA7"/>
<path d="M245.7 1358.3C244 1359.4 243.8 1362.3 243.7 1365.1C243.7 1367.9 244.7 1371.8 245.4 1374.9C246.1 1378.1 247.1 1381.1 248 1384.1C248.9 1387 249.9 1389.8 251 1392.6C252 1395.5 253.1 1398.2 254.2 1401C255.2 1403.7 256.3 1406.5 257.3 1409.3C258.4 1412.1 259.4 1414.9 260.4 1417.8C261.5 1420.6 262.5 1423.4 263.6 1426.3C264.6 1429.1 265.7 1432 266.8 1434.8C267.8 1437.6 268.9 1440.5 270.1 1443.3C271.2 1446.1 272.3 1448.9 273.5 1451.7C274.7 1454.5 275.9 1457.3 277.2 1460C278.4 1462.8 279.7 1465.5 281 1468.2C282.3 1471 283.7 1473.7 285.1 1476.4C286.5 1479 287.9 1481.7 289.3 1484.4C290.7 1487 292.2 1489.7 293.7 1492.3C295.2 1494.9 296.8 1497.5 298.3 1500.1C299.9 1502.7 301.5 1505.3 303.1 1507.8C304.7 1510.4 306.4 1512.9 308 1515.4C309.7 1517.9 311.4 1520.4 313.1 1522.9C314.9 1525.4 316.6 1527.9 318.4 1530.3C320.2 1532.8 322 1535.2 323.8 1537.6C325.7 1540 327.5 1542.4 329.4 1544.8C331.3 1547.2 333.2 1549.5 335.1 1551.9C337 1554.2 339 1556.5 341 1558.8C342.9 1561.2 344.9 1563.4 346.9 1565.7C349 1568 351 1570.2 353.1 1572.5C355.1 1574.7 357.2 1576.9 359.3 1579.1C361.4 1581.3 363.5 1583.5 365.7 1585.6C367.8 1587.8 370 1589.9 372.2 1592C374.4 1594.2 376.6 1596.2 378.8 1598.3C381 1600.4 383.3 1602.4 385.6 1604.4C387.8 1606.4 390.1 1608.4 392.4 1610.3C394.8 1612.2 397.1 1614.1 399.5 1616C401.9 1617.9 404.3 1619.7 406.7 1621.5C409.1 1623.3 411.5 1625 414 1626.7C416.5 1628.4 419 1630.1 421.5 1631.7C424 1633.3 426.6 1634.9 429.2 1636.4C431.8 1638 434.4 1639.4 437 1640.8C439.6 1642.3 442.3 1643.6 445 1644.9C447.7 1646.3 450.4 1647.5 453.2 1648.7C455.9 1649.9 458.7 1651 461.5 1652.1C464.3 1653.2 467.2 1654.2 470.1 1655.2C472.9 1656.1 475.8 1657 478.8 1657.9C481.7 1658.8 484.6 1659.6 487.5 1660.5C490.4 1661.5 493.3 1662.3 496.2 1663.3C499.1 1664.3 502 1665.3 504.8 1666.5C507.6 1667.6 510.4 1668.8 513.1 1670.2C515.9 1671.6 518.5 1673.1 521.1 1674.7C523.8 1676.2 526.4 1678 529.1 1679.4C531.8 1680.8 534.6 1682.3 537.6 1683.2C540.6 1684 544.6 1684.7 547.2 1684.6C549.9 1684.4 553.2 1683.5 553.6 1682.2C554.1 1680.9 551.6 1678.5 549.9 1676.7C548.1 1674.9 545.6 1673.1 543.2 1671.3C540.8 1669.6 538 1667.9 535.3 1666.3C532.6 1664.6 529.7 1663 526.9 1661.4C524.1 1659.8 521.3 1658.3 518.6 1656.7C515.9 1655.1 513.3 1653.6 510.7 1652C508 1650.4 505.5 1648.9 502.9 1647.3C500.3 1645.8 497.8 1644.3 495.2 1642.7C492.7 1641.2 490.2 1639.7 487.6 1638.2C485.1 1636.7 482.5 1635.2 479.9 1633.8C477.4 1632.3 474.7 1630.8 472.1 1629.4C469.5 1627.9 466.8 1626.5 464.1 1625C461.5 1623.6 458.8 1622.1 456.1 1620.7C453.4 1619.2 450.7 1617.7 448 1616.2C445.4 1614.7 442.7 1613.2 440.1 1611.6C437.4 1610.1 434.8 1608.5 432.3 1606.8C429.7 1605.1 427.2 1603.4 424.7 1601.7C422.3 1599.9 419.9 1598.1 417.5 1596.2C415.2 1594.3 412.9 1592.3 410.7 1590.3C408.5 1588.2 406.4 1586.1 404.4 1583.9C402.3 1581.7 400.3 1579.5 398.4 1577.2C396.4 1574.9 394.5 1572.5 392.7 1570.1C390.8 1567.8 389 1565.3 387.2 1562.9C385.3 1560.5 383.5 1558 381.8 1555.6C380 1553.1 378.2 1550.7 376.4 1548.2C374.6 1545.7 372.9 1543.3 371.1 1540.8C369.3 1538.3 367.6 1535.9 365.8 1533.4C364.1 1530.9 362.3 1528.4 360.6 1525.9C358.9 1523.4 357.2 1520.9 355.5 1518.4C353.8 1515.9 352.1 1513.4 350.4 1510.9C348.7 1508.4 347 1505.9 345.4 1503.3C343.7 1500.8 342.1 1498.3 340.4 1495.7C338.8 1493.2 337.2 1490.6 335.6 1488C334 1485.5 332.4 1482.9 330.9 1480.3C329.3 1477.7 327.8 1475.1 326.3 1472.5C324.7 1469.9 323.2 1467.3 321.7 1464.6C320.3 1462 318.8 1459.4 317.4 1456.7C315.9 1454.1 314.5 1451.4 313.1 1448.7C311.7 1446 310.3 1443.3 309 1440.6C307.6 1437.9 306.3 1435.2 305 1432.5C303.7 1429.7 302.4 1427 301.1 1424.2C299.9 1421.5 298.6 1418.8 297.3 1416C296 1413.3 294.7 1410.5 293.4 1407.8C292 1405.1 290.7 1402.4 289.3 1399.7C287.9 1397.1 286.4 1394.4 284.9 1391.8C283.4 1389.1 281.9 1386.5 280.3 1384C278.6 1381.4 277 1378.9 275.2 1376.4C273.3 1374 271.5 1371.5 269.4 1369.3C267.3 1367.1 265.1 1364.9 262.6 1363.2C260 1361.4 256.7 1359.6 253.9 1358.8C251.1 1357.9 247.4 1357.2 245.7 1358.3Z" fill="#E03424" stroke="#E03424" stroke-width="1.2"/>
<path d="M228.2 1248.5C226.2 1249.2 223.8 1252.6 222.8 1255.3C221.7 1258 222 1261.8 222.1 1264.9C222.2 1268 222.8 1270.9 223.4 1273.9C223.9 1276.8 224.7 1279.7 225.3 1282.7C226 1285.6 226.7 1288.5 227.4 1291.5C228.1 1294.4 228.8 1297.4 229.5 1300.3C230.3 1303.3 231 1306.2 231.8 1309.2C232.5 1312.1 233.3 1315.1 234.1 1318C234.9 1320.9 235.7 1323.9 236.5 1326.8C237.3 1329.7 238.2 1332.7 239 1335.6C239.9 1338.5 240.8 1341.4 241.6 1344.3C242.5 1347.2 243.4 1350.1 244.3 1353C245.2 1355.9 246.2 1358.8 247.1 1361.7C248.1 1364.6 249 1367.4 250 1370.3C251 1373.1 252 1376 253 1378.8C254 1381.7 255 1384.5 256.1 1387.3C257.1 1390.2 258.2 1393 259.3 1395.8C260.4 1398.6 261.5 1401.4 262.6 1404.3C263.7 1407.1 264.8 1409.8 266 1412.6C267.2 1415.4 268.3 1418.2 269.5 1421C270.7 1423.8 271.9 1426.5 273.2 1429.3C274.4 1432.1 275.6 1434.8 276.9 1437.6C278.2 1440.3 279.4 1443.1 280.8 1445.8C282.1 1448.5 283.4 1451.3 284.7 1454C286.1 1456.7 287.4 1459.5 288.8 1462.2C290.2 1464.9 291.6 1467.6 293.1 1470.3C294.5 1473 295.9 1475.6 297.4 1478.3C298.9 1481 300.4 1483.6 301.9 1486.3C303.4 1488.9 305 1491.5 306.6 1494.2C308.1 1496.8 309.7 1499.4 311.4 1501.9C313 1504.5 314.6 1507 316.3 1509.6C318 1512.1 319.7 1514.6 321.4 1517.1C323.2 1519.6 324.9 1522.1 326.7 1524.5C328.5 1526.9 330.3 1529.3 332.2 1531.7C334 1534.1 335.9 1536.5 337.8 1538.8C339.7 1541.1 341.7 1543.4 343.6 1545.7C345.6 1547.9 347.6 1550.2 349.7 1552.4C351.7 1554.6 353.8 1556.7 355.9 1558.9C358 1561 360.2 1563.1 362.3 1565.2C364.5 1567.2 366.7 1569.3 368.9 1571.3C371.2 1573.3 373.4 1575.4 375.7 1577.4C378 1579.4 380.3 1581.4 382.6 1583.5C384.9 1585.5 387.2 1587.7 389.6 1589.6C392 1591.6 394.7 1593.9 397.1 1595.2C399.6 1596.5 402.8 1598.1 404.4 1597.5C405.9 1596.8 406.6 1593.9 406.4 1591.2C406.2 1588.6 404.6 1584.7 403.3 1581.7C401.9 1578.6 400.1 1575.7 398.5 1573C396.9 1570.3 395.2 1568 393.6 1565.6C391.9 1563.1 390.2 1560.7 388.5 1558.3C386.8 1555.9 385.1 1553.4 383.4 1551C381.7 1548.5 380 1546 378.2 1543.5C376.5 1541.1 374.8 1538.6 373.1 1536.1C371.3 1533.6 369.6 1531.1 367.9 1528.6C366.2 1526.1 364.4 1523.6 362.7 1521C361 1518.5 359.3 1516 357.6 1513.5C355.9 1511 354.1 1508.4 352.5 1505.9C350.8 1503.4 349.1 1500.9 347.4 1498.3C345.7 1495.8 344.1 1493.2 342.4 1490.7C340.7 1488.2 339.1 1485.6 337.5 1483.1C335.8 1480.5 334.2 1478 332.6 1475.4C331 1472.8 329.4 1470.3 327.8 1467.7C326.2 1465.1 324.7 1462.5 323.1 1459.9C321.5 1457.3 320 1454.7 318.5 1452.1C317 1449.5 315.4 1446.9 314 1444.3C312.5 1441.6 311 1439 309.5 1436.4C308.1 1433.7 306.6 1431.1 305.2 1428.4C303.8 1425.7 302.4 1423 301 1420.4C299.6 1417.7 298.2 1415 296.9 1412.2C295.5 1409.5 294.2 1406.8 292.9 1404.1C291.6 1401.3 290.3 1398.6 289.1 1395.8C287.8 1393.1 286.6 1390.3 285.4 1387.5C284.1 1384.7 282.9 1381.9 281.8 1379.1C280.6 1376.3 279.4 1373.5 278.3 1370.7C277.2 1367.9 276.1 1365 275 1362.2C273.9 1359.4 272.8 1356.5 271.8 1353.7C270.8 1350.8 269.8 1347.9 268.8 1345.1C267.8 1342.2 266.8 1339.3 265.9 1336.5C265 1333.6 264 1330.7 263.1 1327.8C262.3 1324.9 261.4 1322 260.6 1319.1C259.7 1316.2 258.9 1313.3 258.1 1310.4C257.3 1307.5 256.6 1304.5 255.8 1301.6C255.1 1298.7 254.3 1295.8 253.5 1292.9C252.7 1290 251.9 1287.1 251 1284.2C250.1 1281.3 249.1 1278.4 248.1 1275.5C247 1272.7 245.8 1269.8 244.5 1267C243.2 1264.2 241.7 1261.4 240.1 1258.7C238.5 1256 236.7 1252.6 234.7 1250.9C232.7 1249.2 230.2 1247.7 228.2 1248.5ZM233.7 1267.3C232.1 1267.8 231 1270.8 230.4 1273.6C229.9 1276.3 230.2 1280.6 230.4 1283.8C230.7 1287 231.2 1290 231.8 1293C232.4 1295.9 233.1 1298.7 233.8 1301.5C234.6 1304.4 235.4 1307.2 236.2 1310.1C237 1313 237.8 1315.9 238.7 1318.8C239.5 1321.6 240.4 1324.5 241.3 1327.4C242.2 1330.3 243 1333.3 243.9 1336.2C244.8 1339.1 245.7 1342 246.6 1344.9C247.5 1347.8 248.3 1350.7 249.2 1353.6C250.1 1356.5 251 1359.3 251.9 1362.2C252.8 1365.1 253.6 1368 254.6 1370.9C255.5 1373.8 256.4 1376.6 257.3 1379.5C258.3 1382.4 259.2 1385.2 260.2 1388.1C261.2 1390.9 262.2 1393.8 263.2 1396.6C264.2 1399.4 265.2 1402.2 266.3 1405.1C267.4 1407.9 268.5 1410.7 269.7 1413.5C270.8 1416.2 272 1419 273.3 1421.8C274.5 1424.5 275.8 1427.3 277.1 1430C278.4 1432.8 279.7 1435.5 281.1 1438.2C282.5 1440.9 283.9 1443.6 285.4 1446.2C286.8 1448.9 288.3 1451.5 289.9 1454.1C291.4 1456.7 292.9 1459.3 294.5 1461.9C296.1 1464.4 297.7 1467 299.4 1469.5C301 1472 302.7 1474.4 304.4 1476.9C306.1 1479.3 307.8 1481.7 309.5 1484C311.3 1486.4 313 1488.7 314.8 1491.1C316.7 1493.4 318.5 1495.8 320.4 1498.2C322.3 1500.6 324.2 1503 326.2 1505.6C328.2 1508.2 330.3 1511 332.3 1513.5C334.4 1516.1 336.8 1519.4 338.6 1520.8C340.3 1522.1 342.4 1522.6 343 1521.5C343.6 1520.4 343 1517 342.2 1514.1C341.5 1511.2 339.9 1507.3 338.6 1504.3C337.2 1501.3 335.7 1498.7 334.3 1496C332.8 1493.4 331.3 1491 329.8 1488.4C328.4 1485.9 326.9 1483.3 325.4 1480.7C324 1478.1 322.5 1475.5 321.1 1472.8C319.6 1470.2 318.2 1467.5 316.7 1464.8C315.3 1462.1 313.9 1459.4 312.4 1456.7C311 1454.1 309.6 1451.4 308.2 1448.7C306.8 1446 305.4 1443.3 304 1440.7C302.7 1438 301.3 1435.3 300 1432.6C298.6 1429.9 297.3 1427.2 295.9 1424.5C294.6 1421.8 293.3 1419.1 292 1416.4C290.7 1413.7 289.4 1411 288.2 1408.2C286.9 1405.5 285.7 1402.7 284.4 1400C283.2 1397.2 282 1394.4 280.8 1391.7C279.6 1388.9 278.5 1386.1 277.3 1383.3C276.2 1380.5 275 1377.7 273.9 1374.8C272.8 1372 271.7 1369.2 270.7 1366.3C269.6 1363.5 268.6 1360.7 267.5 1357.8C266.5 1355 265.5 1352.1 264.6 1349.2C263.6 1346.4 262.6 1343.5 261.7 1340.6C260.8 1337.8 259.9 1334.9 259 1332C258.2 1329.1 257.3 1326.3 256.5 1323.4C255.7 1320.5 254.9 1317.6 254.2 1314.7C253.4 1311.9 252.7 1309 251.9 1306.1C251.2 1303.2 250.5 1300.3 249.7 1297.4C248.9 1294.5 248.1 1291.5 247.2 1288.6C246.2 1285.6 245.3 1282.5 244.1 1279.5C242.9 1276.5 241.7 1272.8 240 1270.8C238.3 1268.8 235.3 1266.8 233.7 1267.3Z" fill="#A9C7EE" fill-opacity="0.8" fill-rule="evenodd" stroke="none"/>
<path d="M233.7 1267.3C232.1 1267.8 231 1270.8 230.4 1273.6C229.9 1276.3 230.2 1280.6 230.4 1283.8C230.7 1287 231.2 1290 231.8 1293C232.4 1295.9 233.1 1298.7 233.8 1301.5C234.6 1304.4 235.4 1307.2 236.2 1310.1C237 1313 237.8 1315.9 238.7 1318.8C239.5 1321.6 240.4 1324.5 241.3 1327.4C242.2 1330.3 243 1333.3 243.9 1336.2C244.8 1339.1 245.7 1342 246.6 1344.9C247.5 1347.8 248.3 1350.7 249.2 1353.6C250.1 1356.5 251 1359.3 251.9 1362.2C252.8 1365.1 253.6 1368 254.6 1370.9C255.5 1373.8 256.4 1376.6 257.3 1379.5C258.3 1382.4 259.2 1385.2 260.2 1388.1C261.2 1390.9 262.2 1393.8 263.2 1396.6C264.2 1399.4 265.2 1402.2 266.3 1405.1C267.4 1407.9 268.5 1410.7 269.7 1413.5C270.8 1416.2 272 1419 273.3 1421.8C274.5 1424.5 275.8 1427.3 277.1 1430C278.4 1432.8 279.7 1435.5 281.1 1438.2C282.5 1440.9 283.9 1443.6 285.4 1446.2C286.8 1448.9 288.3 1451.5 289.9 1454.1C291.4 1456.7 292.9 1459.3 294.5 1461.9C296.1 1464.4 297.7 1467 299.4 1469.5C301 1472 302.7 1474.4 304.4 1476.9C306.1 1479.3 307.8 1481.7 309.5 1484C311.3 1486.4 313 1488.7 314.8 1491.1C316.7 1493.4 318.5 1495.8 320.4 1498.2C322.3 1500.6 324.2 1503 326.2 1505.6C328.2 1508.2 330.3 1511 332.3 1513.5C334.4 1516.1 336.8 1519.4 338.6 1520.8C340.3 1522.1 342.4 1522.6 343 1521.5C343.6 1520.4 343 1517 342.2 1514.1C341.5 1511.2 339.9 1507.3 338.6 1504.3C337.2 1501.3 335.7 1498.7 334.3 1496C332.8 1493.4 331.3 1491 329.8 1488.4C328.4 1485.9 326.9 1483.3 325.4 1480.7C324 1478.1 322.5 1475.5 321.1 1472.8C319.6 1470.2 318.2 1467.5 316.7 1464.8C315.3 1462.1 313.9 1459.4 312.4 1456.7C311 1454.1 309.6 1451.4 308.2 1448.7C306.8 1446 305.4 1443.3 304 1440.7C302.7 1438 301.3 1435.3 300 1432.6C298.6 1429.9 297.3 1427.2 295.9 1424.5C294.6 1421.8 293.3 1419.1 292 1416.4C290.7 1413.7 289.4 1411 288.2 1408.2C286.9 1405.5 285.7 1402.7 284.4 1400C283.2 1397.2 282 1394.4 280.8 1391.7C279.6 1388.9 278.5 1386.1 277.3 1383.3C276.2 1380.5 275 1377.7 273.9 1374.8C272.8 1372 271.7 1369.2 270.7 1366.3C269.6 1363.5 268.6 1360.7 267.5 1357.8C266.5 1355 265.5 1352.1 264.6 1349.2C263.6 1346.4 262.6 1343.5 261.7 1340.6C260.8 1337.8 259.9 1334.9 259 1332C258.2 1329.1 257.3 1326.3 256.5 1323.4C255.7 1320.5 254.9 1317.6 254.2 1314.7C253.4 1311.9 252.7 1309 251.9 1306.1C251.2 1303.2 250.5 1300.3 249.7 1297.4C248.9 1294.5 248.1 1291.5 247.2 1288.6C246.2 1285.6 245.3 1282.5 244.1 1279.5C242.9 1276.5 241.7 1272.8 240 1270.8C238.3 1268.8 235.3 1266.8 233.7 1267.3Z" fill="#3A5BB0" fill-opacity="0.8"/>
<path d="M230.6 1326.3C227.9 1326.8 224.9 1328.3 223 1330.1C221 1332 219.3 1334.8 218.7 1337.6C218.2 1340.3 219 1343.7 219.5 1346.7C220.1 1349.8 221.1 1353 221.9 1356C222.7 1359 223.6 1361.9 224.4 1364.8C225.3 1367.8 226.1 1370.6 227 1373.4C227.9 1376.3 228.8 1379.1 229.7 1381.9C230.6 1384.7 231.6 1387.5 232.6 1390.3C233.5 1393.1 234.5 1395.9 235.5 1398.7C236.6 1401.5 237.6 1404.3 238.7 1407.1C239.7 1409.9 240.8 1412.7 241.9 1415.5C243 1418.3 244.2 1421.1 245.3 1423.9C246.5 1426.7 247.7 1429.4 248.9 1432.2C250.1 1435 251.3 1437.7 252.5 1440.5C253.8 1443.2 255 1446 256.3 1448.7C257.6 1451.5 259 1454.2 260.3 1456.9C261.6 1459.6 263 1462.3 264.4 1465C265.8 1467.6 267.2 1470.3 268.6 1473C270 1475.6 271.5 1478.3 273 1480.9C274.5 1483.5 276 1486.1 277.5 1488.7C279 1491.3 280.6 1493.9 282.1 1496.4C283.7 1499 285.3 1501.5 286.9 1504.1C288.5 1506.6 290.1 1509.1 291.8 1511.6C293.4 1514.1 295.1 1516.6 296.8 1519.1C298.5 1521.5 300.2 1524 302 1526.4C303.7 1528.8 305.5 1531.3 307.3 1533.7C309.1 1536.1 310.9 1538.5 312.7 1540.8C314.5 1543.2 316.4 1545.6 318.2 1547.9C320.1 1550.3 322 1552.6 323.9 1554.9C325.8 1557.2 327.7 1559.5 329.7 1561.8C331.6 1564.1 333.6 1566.3 335.6 1568.6C337.6 1570.8 339.6 1573 341.6 1575.2C343.6 1577.5 345.7 1579.7 347.8 1581.8C349.8 1584 351.9 1586.2 354 1588.3C356.1 1590.5 358.2 1592.6 360.4 1594.7C362.5 1596.8 364.7 1598.9 366.9 1601C369 1603.1 371.2 1605.1 373.5 1607.2C375.7 1609.2 377.9 1611.3 380.2 1613.3C382.4 1615.3 384.7 1617.3 387 1619.3C389.3 1621.2 391.6 1623.2 393.9 1625.1C396.2 1627.1 398.6 1629 400.9 1630.9C403.3 1632.8 405.7 1634.7 408.1 1636.5C410.5 1638.3 412.9 1640.1 415.4 1641.9C417.8 1643.6 420.3 1645.3 422.8 1646.9C425.4 1648.5 427.9 1650.1 430.5 1651.6C433.1 1653.1 435.7 1654.5 438.3 1655.8C441 1657.2 443.7 1658.4 446.4 1659.6C449.1 1660.7 451.9 1661.8 454.7 1662.8C457.5 1663.9 460.3 1664.8 463.1 1665.8C465.9 1666.8 468.8 1667.7 471.6 1668.7C474.5 1669.7 477.3 1670.6 480.2 1671.6C483 1672.6 485.9 1673.7 488.7 1674.7C491.5 1675.8 494.4 1676.9 497.2 1678C500 1679.1 502.8 1680.3 505.6 1681.4C508.4 1682.6 511.2 1683.8 513.9 1685C516.7 1686.1 519.4 1687.4 522.1 1688.6C524.8 1689.8 527.5 1691.1 530.2 1692.4C532.8 1693.6 535.5 1694.9 538.1 1696.2C540.8 1697.5 543.4 1698.8 546.1 1700.1C548.7 1701.4 551.4 1702.7 554.1 1704.1C556.8 1705.4 559.5 1706.7 562.3 1708C565 1709.4 567.8 1710.7 570.6 1711.9C573.4 1713.2 576.3 1714.5 579.1 1715.6C582 1716.8 584.9 1717.9 587.8 1718.9C590.6 1719.9 593.6 1720.8 596.5 1721.6C599.4 1722.4 602.3 1723.1 605.2 1723.7C608.2 1724.2 611.1 1724.7 614 1724.9C617 1725.1 619.9 1725.2 622.8 1725.1C625.8 1725 628.7 1724.7 631.6 1724.1C634.5 1723.6 637.4 1722.8 640.3 1721.9C643.1 1720.9 645.9 1719.7 648.5 1718.4C651.2 1717 653.6 1715.2 656 1713.7C658.5 1712.2 660.7 1710.3 663.5 1709.4C666.3 1708.6 669.8 1708.6 672.8 1708.5C675.9 1708.3 680.3 1709.9 681.7 1708.6C683.1 1707.4 682.6 1703.2 681.2 1700.9C679.9 1698.6 676.4 1696.1 673.7 1694.7C671 1693.4 667.9 1693.3 665 1692.7C662.1 1692 659.1 1691.6 656.2 1691C653.3 1690.3 650.5 1689.5 647.6 1688.6C644.8 1687.8 641.9 1686.8 639.1 1685.8C636.3 1684.7 633.5 1683.6 630.7 1682.5C628 1681.3 625.2 1680.1 622.5 1678.8C619.7 1677.6 617 1676.3 614.3 1675C611.5 1673.7 608.8 1672.4 606.1 1671.1C603.4 1669.8 600.7 1668.6 597.9 1667.4C595.2 1666.2 592.4 1665 589.6 1664C586.8 1662.9 584 1661.9 581.2 1661C578.3 1660.1 575.4 1659.2 572.6 1658.4C569.7 1657.6 566.8 1656.8 563.9 1656C561.1 1655.1 558.2 1654.4 555.3 1653.5C552.4 1652.7 549.6 1651.8 546.7 1650.9C543.9 1649.9 541.1 1648.9 538.3 1647.8C535.5 1646.8 532.7 1645.6 530 1644.4C527.2 1643.2 524.5 1641.9 521.8 1640.6C519.1 1639.3 516.4 1638 513.7 1636.6C511 1635.3 508.3 1633.9 505.6 1632.5C502.9 1631.2 500.2 1629.8 497.5 1628.4C494.8 1627 492.2 1625.6 489.5 1624.2C486.8 1622.8 484.1 1621.4 481.5 1620C478.8 1618.6 476.2 1617.2 473.5 1615.7C470.9 1614.2 468.3 1612.8 465.7 1611.3C463.1 1609.8 460.5 1608.3 457.9 1606.7C455.4 1605.2 452.8 1603.6 450.3 1602C447.7 1600.4 445.2 1598.8 442.7 1597.1C440.3 1595.5 437.8 1593.8 435.4 1592.1C432.9 1590.3 430.5 1588.6 428.2 1586.8C425.8 1585 423.4 1583.2 421.1 1581.3C418.8 1579.4 416.5 1577.5 414.2 1575.6C412 1573.6 409.7 1571.6 407.5 1569.6C405.3 1567.6 403.1 1565.6 401 1563.5C398.8 1561.4 396.7 1559.3 394.6 1557.2C392.5 1555.1 390.4 1552.9 388.4 1550.7C386.3 1548.5 384.3 1546.3 382.3 1544.1C380.3 1541.8 378.3 1539.5 376.4 1537.2C374.5 1535 372.5 1532.6 370.6 1530.3C368.8 1527.9 366.9 1525.6 365.1 1523.2C363.2 1520.8 361.4 1518.4 359.6 1515.9C357.8 1513.5 356.1 1511 354.3 1508.6C352.6 1506.1 350.9 1503.6 349.2 1501.1C347.5 1498.6 345.8 1496 344.2 1493.5C342.5 1491 340.9 1488.4 339.3 1485.8C337.7 1483.2 336.1 1480.6 334.6 1478C333 1475.4 331.5 1472.8 330 1470.2C328.5 1467.6 327 1464.9 325.5 1462.3C324.1 1459.6 322.7 1457 321.2 1454.3C319.8 1451.6 318.4 1448.9 317.1 1446.3C315.7 1443.6 314.3 1440.9 313 1438.2C311.7 1435.5 310.4 1432.8 309.1 1430.1C307.8 1427.4 306.5 1424.7 305.3 1422C304 1419.3 302.7 1416.5 301.5 1413.8C300.2 1411.1 299 1408.4 297.7 1405.8C296.4 1403.1 295.1 1400.4 293.8 1397.7C292.5 1395.1 291.2 1392.4 289.9 1389.8C288.5 1387.1 287.1 1384.5 285.7 1381.9C284.3 1379.3 282.9 1376.7 281.4 1374.1C279.9 1371.5 278.3 1369 276.7 1366.5C275.2 1364 273.5 1361.5 271.8 1359C270.1 1356.6 268.3 1354.1 266.5 1351.7C264.6 1349.3 262.7 1347 260.7 1344.7C258.6 1342.4 256.5 1340.2 254.2 1338.1C251.9 1335.9 249.4 1333.7 246.8 1331.9C244.3 1330.1 241.6 1328.3 238.8 1327.3C236.1 1326.4 233.2 1325.8 230.6 1326.3Z" fill="none" stroke="#D63C0C" stroke-opacity="0.55" stroke-width="2.2"/>
<path d="M228.2 1248.5C226.2 1249.2 223.8 1252.6 222.8 1255.3C221.7 1258 222 1261.8 222.1 1264.9C222.2 1268 222.8 1270.9 223.4 1273.9C223.9 1276.8 224.7 1279.7 225.3 1282.7C226 1285.6 226.7 1288.5 227.4 1291.5C228.1 1294.4 228.8 1297.4 229.5 1300.3C230.3 1303.3 231 1306.2 231.8 1309.2C232.5 1312.1 233.3 1315.1 234.1 1318C234.9 1320.9 235.7 1323.9 236.5 1326.8C237.3 1329.7 238.2 1332.7 239 1335.6C239.9 1338.5 240.8 1341.4 241.6 1344.3C242.5 1347.2 243.4 1350.1 244.3 1353C245.2 1355.9 246.2 1358.8 247.1 1361.7C248.1 1364.6 249 1367.4 250 1370.3C251 1373.1 252 1376 253 1378.8C254 1381.7 255 1384.5 256.1 1387.3C257.1 1390.2 258.2 1393 259.3 1395.8C260.4 1398.6 261.5 1401.4 262.6 1404.3C263.7 1407.1 264.8 1409.8 266 1412.6C267.2 1415.4 268.3 1418.2 269.5 1421C270.7 1423.8 271.9 1426.5 273.2 1429.3C274.4 1432.1 275.6 1434.8 276.9 1437.6C278.2 1440.3 279.4 1443.1 280.8 1445.8C282.1 1448.5 283.4 1451.3 284.7 1454C286.1 1456.7 287.4 1459.5 288.8 1462.2C290.2 1464.9 291.6 1467.6 293.1 1470.3C294.5 1473 295.9 1475.6 297.4 1478.3C298.9 1481 300.4 1483.6 301.9 1486.3C303.4 1488.9 305 1491.5 306.6 1494.2C308.1 1496.8 309.7 1499.4 311.4 1501.9C313 1504.5 314.6 1507 316.3 1509.6C318 1512.1 319.7 1514.6 321.4 1517.1C323.2 1519.6 324.9 1522.1 326.7 1524.5C328.5 1526.9 330.3 1529.3 332.2 1531.7C334 1534.1 335.9 1536.5 337.8 1538.8C339.7 1541.1 341.7 1543.4 343.6 1545.7C345.6 1547.9 347.6 1550.2 349.7 1552.4C351.7 1554.6 353.8 1556.7 355.9 1558.9C358 1561 360.2 1563.1 362.3 1565.2C364.5 1567.2 366.7 1569.3 368.9 1571.3C371.2 1573.3 373.4 1575.4 375.7 1577.4C378 1579.4 380.3 1581.4 382.6 1583.5C384.9 1585.5 387.2 1587.7 389.6 1589.6C392 1591.6 394.7 1593.9 397.1 1595.2C399.6 1596.5 402.8 1598.1 404.4 1597.5C405.9 1596.8 406.6 1593.9 406.4 1591.2C406.2 1588.6 404.6 1584.7 403.3 1581.7C401.9 1578.6 400.1 1575.7 398.5 1573C396.9 1570.3 395.2 1568 393.6 1565.6C391.9 1563.1 390.2 1560.7 388.5 1558.3C386.8 1555.9 385.1 1553.4 383.4 1551C381.7 1548.5 380 1546 378.2 1543.5C376.5 1541.1 374.8 1538.6 373.1 1536.1C371.3 1533.6 369.6 1531.1 367.9 1528.6C366.2 1526.1 364.4 1523.6 362.7 1521C361 1518.5 359.3 1516 357.6 1513.5C355.9 1511 354.1 1508.4 352.5 1505.9C350.8 1503.4 349.1 1500.9 347.4 1498.3C345.7 1495.8 344.1 1493.2 342.4 1490.7C340.7 1488.2 339.1 1485.6 337.5 1483.1C335.8 1480.5 334.2 1478 332.6 1475.4C331 1472.8 329.4 1470.3 327.8 1467.7C326.2 1465.1 324.7 1462.5 323.1 1459.9C321.5 1457.3 320 1454.7 318.5 1452.1C317 1449.5 315.4 1446.9 314 1444.3C312.5 1441.6 311 1439 309.5 1436.4C308.1 1433.7 306.6 1431.1 305.2 1428.4C303.8 1425.7 302.4 1423 301 1420.4C299.6 1417.7 298.2 1415 296.9 1412.2C295.5 1409.5 294.2 1406.8 292.9 1404.1C291.6 1401.3 290.3 1398.6 289.1 1395.8C287.8 1393.1 286.6 1390.3 285.4 1387.5C284.1 1384.7 282.9 1381.9 281.8 1379.1C280.6 1376.3 279.4 1373.5 278.3 1370.7C277.2 1367.9 276.1 1365 275 1362.2C273.9 1359.4 272.8 1356.5 271.8 1353.7C270.8 1350.8 269.8 1347.9 268.8 1345.1C267.8 1342.2 266.8 1339.3 265.9 1336.5C265 1333.6 264 1330.7 263.1 1327.8C262.3 1324.9 261.4 1322 260.6 1319.1C259.7 1316.2 258.9 1313.3 258.1 1310.4C257.3 1307.5 256.6 1304.5 255.8 1301.6C255.1 1298.7 254.3 1295.8 253.5 1292.9C252.7 1290 251.9 1287.1 251 1284.2C250.1 1281.3 249.1 1278.4 248.1 1275.5C247 1272.7 245.8 1269.8 244.5 1267C243.2 1264.2 241.7 1261.4 240.1 1258.7C238.5 1256 236.7 1252.6 234.7 1250.9C232.7 1249.2 230.2 1247.7 228.2 1248.5Z" fill="none" stroke="#5570BE" stroke-opacity="0.6" stroke-width="2.2"/>
</g>
<clipPath id="cL21"><rect x="760.2" y="1191.7" width="595.1" height="592.8"/></clipPath>
<g clip-path="url(#cL21)">
<path d="M845.2 1331.8C846.2 1331 850.1 1331.7 852.7 1332.6C855.4 1333.5 858.6 1335.3 861.2 1337C863.8 1338.8 866.1 1340.9 868.4 1342.9C870.7 1344.9 872.9 1347 875.1 1349.1C877.3 1351.2 879.5 1353.3 881.6 1355.5C883.7 1357.6 885.8 1359.8 887.8 1362C889.9 1364.3 891.9 1366.5 893.8 1368.8C895.8 1371 897.8 1373.3 899.7 1375.6C901.6 1377.9 903.5 1380.3 905.3 1382.6C907.2 1385 909.1 1387.4 910.9 1389.8C912.7 1392.1 914.5 1394.5 916.4 1397C918.2 1399.4 920 1401.8 921.7 1404.2C923.5 1406.6 925.3 1409.1 927.1 1411.5C928.9 1413.9 930.7 1416.4 932.5 1418.8C934.3 1421.2 936.1 1423.7 937.9 1426.1C939.7 1428.5 941.5 1431 943.3 1433.4C945.1 1435.8 947 1438.2 948.8 1440.6C950.7 1443 952.5 1445.3 954.4 1447.7C956.3 1450.1 958.2 1452.5 960.1 1454.8C962 1457.2 963.9 1459.5 965.8 1461.8C967.8 1464.2 969.7 1466.5 971.6 1468.8C973.6 1471.1 975.6 1473.4 977.5 1475.7C979.5 1478 981.5 1480.3 983.5 1482.6C985.5 1484.8 987.5 1487.1 989.5 1489.3C991.6 1491.6 993.6 1493.8 995.7 1496C997.7 1498.2 999.8 1500.5 1001.9 1502.7C1003.9 1504.8 1006 1507 1008.1 1509.2C1010.2 1511.4 1012.3 1513.5 1014.5 1515.7C1016.6 1517.8 1018.7 1519.9 1020.9 1522C1023.1 1524.2 1025.2 1526.3 1027.4 1528.3C1029.6 1530.4 1031.8 1532.5 1034 1534.6C1036.2 1536.6 1038.4 1538.6 1040.7 1540.7C1042.9 1542.7 1045.1 1544.7 1047.4 1546.7C1049.7 1548.7 1051.9 1550.7 1054.2 1552.6C1056.5 1554.6 1058.8 1556.5 1061.1 1558.5C1063.5 1560.4 1065.8 1562.3 1068.1 1564.2C1070.5 1566.1 1072.8 1568 1075.2 1569.8C1077.6 1571.7 1080 1573.5 1082.4 1575.3C1084.8 1577.2 1087.2 1579 1089.6 1580.8C1092 1582.6 1094.4 1584.4 1096.9 1586.1C1099.3 1587.9 1101.7 1589.7 1104.2 1591.4C1106.6 1593.2 1109.1 1595 1111.6 1596.7C1114 1598.4 1116.5 1600.2 1119 1601.9C1121.4 1603.7 1123.9 1605.4 1126.4 1607.1C1128.9 1608.9 1131.4 1610.6 1133.9 1612.3C1136.3 1614 1138.8 1615.8 1141.3 1617.5C1143.8 1619.2 1146.3 1621 1148.8 1622.7C1151.3 1624.4 1153.7 1626.2 1156.2 1627.9C1158.7 1629.6 1161.2 1631.3 1163.7 1633C1166.2 1634.7 1168.7 1636.4 1171.3 1638.1C1173.8 1639.8 1176.3 1641.4 1178.8 1643C1181.4 1644.7 1183.9 1646.3 1186.5 1647.9C1189.1 1649.4 1191.6 1651 1194.2 1652.5C1196.8 1654.1 1199.4 1655.6 1202 1657C1204.6 1658.5 1207.2 1659.9 1209.9 1661.3C1212.5 1662.7 1215.2 1664.1 1217.8 1665.5C1220.4 1666.9 1223.1 1668.3 1225.7 1669.7C1228.4 1671.1 1231 1672.6 1233.6 1674.1C1236.2 1675.6 1238.8 1677.1 1241.3 1678.7C1243.9 1680.3 1246.4 1681.9 1248.9 1683.7C1251.4 1685.4 1253.9 1687.2 1256.3 1689.1C1258.7 1691.1 1261.1 1693.1 1263.4 1695.3C1265.6 1697.4 1268 1699.7 1270 1702.1C1272.1 1704.5 1274.1 1707 1275.7 1709.6C1277.3 1712.1 1278.9 1714.9 1279.5 1717.4C1280.1 1719.8 1280.7 1722.9 1279.3 1724.2C1277.9 1725.6 1273.9 1725.7 1271 1725.4C1268 1725.2 1264.6 1723.9 1261.7 1722.7C1258.7 1721.6 1256 1720.1 1253.3 1718.7C1250.5 1717.3 1247.9 1715.9 1245.2 1714.4C1242.6 1712.9 1240 1711.4 1237.4 1709.8C1234.8 1708.3 1232.3 1706.7 1229.8 1705C1227.3 1703.4 1224.7 1701.8 1222.2 1700.1C1219.7 1698.5 1217.2 1696.8 1214.7 1695.2C1212.2 1693.5 1209.7 1691.8 1207.3 1690.1C1204.8 1688.4 1202.3 1686.6 1199.8 1684.9C1197.3 1683.2 1194.9 1681.4 1192.4 1679.7C1190 1677.9 1187.5 1676.2 1185 1674.4C1182.6 1672.7 1180.1 1670.9 1177.7 1669.1C1175.2 1667.4 1172.8 1665.6 1170.3 1663.8C1167.9 1662 1165.4 1660.3 1163 1658.5C1160.5 1656.7 1158.1 1654.9 1155.6 1653.2C1153.2 1651.4 1150.7 1649.6 1148.3 1647.8C1145.8 1646.1 1143.4 1644.3 1140.9 1642.5C1138.5 1640.7 1136 1639 1133.6 1637.2C1131.1 1635.4 1128.7 1633.6 1126.3 1631.8C1123.8 1630.1 1121.4 1628.3 1118.9 1626.5C1116.5 1624.7 1114.1 1622.9 1111.6 1621.1C1109.2 1619.3 1106.8 1617.5 1104.4 1615.7C1101.9 1613.9 1099.5 1612.1 1097.1 1610.3C1094.7 1608.5 1092.3 1606.7 1089.9 1604.9C1087.5 1603 1085.1 1601.2 1082.7 1599.4C1080.3 1597.5 1077.9 1595.7 1075.5 1593.8C1073.1 1592 1070.7 1590.1 1068.4 1588.3C1066 1586.4 1063.6 1584.5 1061.3 1582.7C1058.9 1580.8 1056.6 1578.9 1054.2 1577C1051.9 1575.1 1049.5 1573.2 1047.2 1571.3C1044.8 1569.4 1042.5 1567.4 1040.2 1565.5C1037.9 1563.6 1035.6 1561.6 1033.3 1559.7C1031 1557.7 1028.7 1555.7 1026.4 1553.8C1024.1 1551.8 1021.8 1549.8 1019.6 1547.8C1017.3 1545.8 1015 1543.8 1012.8 1541.7C1010.5 1539.7 1008.3 1537.7 1006.1 1535.6C1003.9 1533.6 1001.6 1531.5 999.4 1529.4C997.2 1527.4 995 1525.3 992.9 1523.2C990.7 1521.1 988.5 1519 986.4 1516.9C984.2 1514.8 982.1 1512.6 979.9 1510.5C977.8 1508.3 975.7 1506.2 973.6 1504C971.5 1501.9 969.4 1499.7 967.3 1497.5C965.3 1495.3 963.2 1493.1 961.2 1490.9C959.1 1488.7 957.1 1486.5 955.1 1484.2C953.1 1482 951.1 1479.8 949.1 1477.5C947.1 1475.2 945.1 1473 943.1 1470.7C941.2 1468.4 939.2 1466.1 937.3 1463.8C935.3 1461.5 933.4 1459.2 931.5 1456.8C929.5 1454.5 927.6 1452.2 925.7 1449.8C923.8 1447.5 921.9 1445.1 920 1442.7C918.2 1440.3 916.3 1437.9 914.4 1435.5C912.6 1433.1 910.7 1430.7 908.9 1428.3C907 1425.8 905.2 1423.4 903.4 1421C901.6 1418.5 899.8 1416.1 898 1413.6C896.2 1411.2 894.4 1408.7 892.7 1406.2C890.9 1403.8 889.2 1401.3 887.5 1398.8C885.8 1396.3 884.1 1393.9 882.4 1391.4C880.7 1388.9 879.1 1386.5 877.4 1384C875.8 1381.5 874.2 1379 872.6 1376.6C871 1374.1 869.4 1371.6 867.8 1369.2C866.2 1366.7 864.7 1364.2 863 1361.6C861.4 1359.1 859.7 1356.5 858 1353.9C856.2 1351.2 854.3 1348.5 852.5 1345.8C850.6 1343 847.8 1339.7 846.6 1337.4C845.4 1335 844.2 1332.6 845.2 1331.8Z" fill="#F4ADA7"/>
<path d="M877.5 1367C878 1366.7 880.8 1369 882.7 1370.9C884.7 1372.7 887.1 1375.7 889.1 1378.2C891.1 1380.7 892.9 1383.3 894.7 1385.8C896.6 1388.3 898.4 1390.8 900.2 1393.3C902 1395.8 903.9 1398.2 905.7 1400.6C907.5 1403 909.3 1405.4 911.1 1407.8C912.9 1410.2 914.7 1412.6 916.5 1415C918.3 1417.4 920.2 1419.8 922 1422.2C923.8 1424.5 925.6 1426.9 927.4 1429.3C929.3 1431.7 931.1 1434.1 932.9 1436.5C934.8 1438.9 936.6 1441.3 938.5 1443.7C940.3 1446.1 942.2 1448.5 944.1 1450.8C945.9 1453.2 947.8 1455.6 949.7 1457.9C951.6 1460.3 953.5 1462.6 955.5 1465C957.4 1467.3 959.3 1469.7 961.3 1472C963.2 1474.3 965.2 1476.6 967.2 1478.9C969.2 1481.2 971.2 1483.4 973.2 1485.7C975.2 1488 977.2 1490.2 979.3 1492.5C981.3 1494.7 983.4 1496.9 985.4 1499.1C987.5 1501.3 989.6 1503.5 991.7 1505.7C993.8 1507.9 995.9 1510 998.1 1512.2C1000.2 1514.3 1002.3 1516.5 1004.5 1518.6C1006.7 1520.7 1008.8 1522.8 1011 1524.9C1013.2 1526.9 1015.4 1529 1017.7 1531C1019.9 1533.1 1022.1 1535.1 1024.4 1537.1C1026.6 1539.1 1028.9 1541.1 1031.2 1543.1C1033.5 1545.1 1035.8 1547 1038.1 1549C1040.4 1550.9 1042.7 1552.8 1045.1 1554.7C1047.4 1556.6 1049.8 1558.5 1052.1 1560.4C1054.5 1562.2 1056.9 1564.1 1059.3 1565.9C1061.7 1567.7 1064.1 1569.5 1066.5 1571.3C1069 1573.1 1071.4 1574.8 1073.9 1576.6C1076.4 1578.3 1078.8 1580 1081.3 1581.7C1083.8 1583.4 1086.3 1585.1 1088.8 1586.8C1091.3 1588.5 1093.8 1590.1 1096.4 1591.8C1098.9 1593.5 1101.4 1595.1 1103.9 1596.8C1106.4 1598.5 1108.9 1600.2 1111.5 1601.8C1114 1603.5 1116.5 1605.2 1119 1606.9C1121.5 1608.6 1124 1610.3 1126.5 1612.1C1128.9 1613.8 1131.4 1615.6 1133.9 1617.4C1136.3 1619.2 1138.8 1621 1141.2 1622.8C1143.6 1624.7 1146 1626.6 1148.4 1628.4C1150.8 1630.3 1153.2 1632.2 1155.6 1634.1C1157.9 1636 1160.3 1637.9 1162.7 1639.8C1165.1 1641.6 1167.5 1643.5 1169.9 1645.3C1172.3 1647.1 1174.7 1648.9 1177.2 1650.7C1179.6 1652.4 1182.1 1654.1 1184.6 1655.7C1187.1 1657.3 1189.6 1658.8 1192.2 1660.4C1194.8 1661.9 1197.4 1663.3 1200 1664.7C1202.6 1666.2 1205.2 1667.6 1207.8 1669C1210.5 1670.4 1213.1 1671.9 1215.8 1673.4C1218.4 1674.9 1221.1 1676.4 1223.8 1678C1226.4 1679.6 1229.1 1681.3 1231.7 1683.1C1234.4 1684.9 1237.1 1686.9 1239.5 1688.9C1241.9 1690.8 1244.4 1693 1246.3 1695.1C1248.2 1697.2 1250.7 1700 1251 1701.5C1251.2 1703 1249.9 1704 1247.8 1704C1245.6 1704 1241.3 1702.4 1238.3 1701.2C1235.3 1700.1 1232.4 1698.6 1229.7 1697.1C1227 1695.6 1224.5 1693.8 1222 1692.2C1219.5 1690.5 1217 1688.8 1214.5 1687.1C1212 1685.4 1209.5 1683.7 1207 1682C1204.5 1680.3 1202.1 1678.6 1199.6 1676.9C1197.1 1675.2 1194.6 1673.5 1192.1 1671.7C1189.7 1670 1187.2 1668.3 1184.7 1666.6C1182.2 1664.9 1179.8 1663.1 1177.3 1661.4C1174.8 1659.7 1172.3 1657.9 1169.9 1656.2C1167.4 1654.5 1164.9 1652.7 1162.5 1651C1160 1649.2 1157.5 1647.5 1155.1 1645.7C1152.6 1644 1150.1 1642.2 1147.7 1640.5C1145.2 1638.7 1142.8 1636.9 1140.3 1635.2C1137.8 1633.4 1135.4 1631.6 1132.9 1629.8C1130.5 1628.1 1128.1 1626.3 1125.6 1624.5C1123.2 1622.7 1120.7 1620.9 1118.3 1619.1C1115.9 1617.3 1113.5 1615.5 1111 1613.7C1108.6 1611.8 1106.2 1610 1103.8 1608.2C1101.4 1606.4 1099 1604.5 1096.6 1602.7C1094.2 1600.9 1091.8 1599 1089.4 1597.2C1087 1595.3 1084.6 1593.4 1082.2 1591.6C1079.8 1589.7 1077.5 1587.8 1075.1 1585.9C1072.8 1584 1070.4 1582.2 1068.1 1580.3C1065.7 1578.4 1063.4 1576.4 1061 1574.5C1058.7 1572.6 1056.4 1570.7 1054.1 1568.7C1051.8 1566.8 1049.5 1564.9 1047.2 1562.9C1044.9 1561 1042.6 1559 1040.3 1557C1038 1555.1 1035.7 1553.1 1033.5 1551.1C1031.2 1549.1 1029 1547.1 1026.7 1545.1C1024.5 1543.1 1022.2 1541 1020 1539C1017.8 1537 1015.6 1534.9 1013.3 1532.9C1011.1 1530.8 1008.9 1528.8 1006.7 1526.7C1004.5 1524.6 1002.4 1522.5 1000.2 1520.4C998 1518.3 995.8 1516.2 993.7 1514.1C991.5 1512 989.4 1509.8 987.2 1507.7C985.1 1505.5 983 1503.4 980.8 1501.2C978.7 1499 976.6 1496.8 974.5 1494.6C972.4 1492.4 970.3 1490.2 968.2 1488C966.2 1485.8 964.1 1483.5 962.1 1481.3C960 1479.1 958 1476.8 956 1474.6C953.9 1472.3 951.9 1470 950 1467.8C948 1465.5 946 1463.2 944.1 1460.9C942.1 1458.6 940.2 1456.3 938.3 1454C936.4 1451.7 934.5 1449.4 932.6 1447.1C930.8 1444.8 928.9 1442.5 927.1 1440.1C925.2 1437.8 923.4 1435.4 921.6 1433.1C919.8 1430.7 917.9 1428.3 916.1 1425.9C914.3 1423.5 912.5 1421.1 910.7 1418.7C908.9 1416.2 907.1 1413.8 905.3 1411.3C903.5 1408.8 901.7 1406.3 899.8 1403.7C898 1401.2 896.2 1398.7 894.4 1396.1C892.5 1393.5 890.6 1390.8 888.8 1388.2C887.1 1385.6 885.2 1383 883.7 1380.4C882.1 1377.9 880.6 1375.3 879.5 1373C878.5 1370.8 876.9 1367.4 877.5 1367Z" fill="#E03424" stroke="#E03424" stroke-width="1.2"/>
<path d="M775.5 1215.9C776.7 1214.9 780.6 1216.6 782.9 1218.1C785.2 1219.7 787.2 1222.7 789.2 1225.2C791.2 1227.7 792.9 1230.4 794.8 1233C796.6 1235.5 798.4 1238 800.2 1240.5C802 1243 803.8 1245.4 805.6 1247.8C807.4 1250.3 809.1 1252.7 810.9 1255.1C812.7 1257.5 814.5 1259.8 816.2 1262.3C818 1264.7 819.8 1267.1 821.6 1269.5C823.4 1271.9 825.2 1274.3 826.9 1276.7C828.7 1279.2 830.5 1281.6 832.3 1284.1C834.1 1286.5 835.8 1289 837.6 1291.4C839.4 1293.9 841.1 1296.3 842.9 1298.8C844.6 1301.3 846.3 1303.8 848.1 1306.3C849.8 1308.8 851.5 1311.3 853.2 1313.8C854.9 1316.3 856.5 1318.9 858.2 1321.4C859.9 1323.9 861.5 1326.5 863.2 1329C864.8 1331.6 866.4 1334.1 868 1336.7C869.7 1339.2 871.3 1341.8 872.9 1344.4C874.5 1346.9 876.1 1349.5 877.7 1352.1C879.3 1354.7 880.9 1357.2 882.5 1359.8C884.1 1362.4 885.7 1365 887.3 1367.5C888.9 1370.1 890.5 1372.7 892.1 1375.2C893.7 1377.8 895.3 1380.4 896.9 1382.9C898.5 1385.5 900.1 1388 901.7 1390.6C903.4 1393.1 905 1395.7 906.7 1398.2C908.3 1400.7 910 1403.3 911.6 1405.8C913.3 1408.3 915 1410.8 916.7 1413.3C918.4 1415.8 920.1 1418.3 921.9 1420.7C923.6 1423.2 925.4 1425.7 927.2 1428.1C928.9 1430.5 930.7 1433 932.6 1435.4C934.4 1437.8 936.2 1440.2 938.1 1442.6C939.9 1445 941.8 1447.3 943.7 1449.7C945.6 1452.1 947.5 1454.4 949.4 1456.8C951.3 1459.1 953.2 1461.4 955.2 1463.8C957.1 1466.1 959.1 1468.4 961 1470.7C963 1473 965 1475.3 967 1477.5C969 1479.8 971 1482.1 973 1484.3C975 1486.6 977.1 1488.8 979.1 1491.1C981.2 1493.3 983.2 1495.5 985.3 1497.7C987.3 1500 989.4 1502.2 991.5 1504.4C993.5 1506.6 995.6 1508.7 997.7 1510.9C999.8 1513.1 1001.9 1515.3 1004 1517.5C1006.1 1519.6 1008.2 1521.8 1010.3 1523.9C1012.4 1526.1 1014.5 1528.2 1016.7 1530.4C1018.8 1532.5 1020.9 1534.6 1023 1536.8C1025.1 1538.9 1027.3 1541.1 1029.4 1543.2C1031.5 1545.4 1033.6 1547.5 1035.7 1549.7C1037.8 1551.8 1039.9 1554 1042 1556.2C1044.1 1558.4 1046.1 1560.6 1048.2 1562.9C1050.2 1565.1 1052.3 1567.4 1054.3 1569.7C1056.3 1572 1058.3 1574.3 1060.3 1576.7C1062.3 1579 1064.3 1581.4 1066.2 1583.8C1068.1 1586.2 1070 1588.6 1071.9 1590.9C1073.7 1593.3 1075.9 1595.9 1077.3 1598C1078.7 1600.2 1081.1 1602.7 1080.3 1604C1079.5 1605.2 1075.2 1605.7 1072.4 1605.6C1069.7 1605.5 1066.4 1604.7 1063.8 1603.5C1061.3 1602.3 1059.2 1600.1 1056.9 1598.3C1054.6 1596.5 1052.4 1594.4 1050.1 1592.5C1047.8 1590.6 1045.5 1588.6 1043.2 1586.7C1040.8 1584.8 1038.5 1582.9 1036.1 1580.9C1033.8 1579 1031.4 1577.1 1029.1 1575.1C1026.8 1573.2 1024.4 1571.2 1022.1 1569.2C1019.8 1567.3 1017.4 1565.3 1015.1 1563.3C1012.8 1561.3 1010.6 1559.2 1008.3 1557.2C1006.1 1555.1 1003.9 1553 1001.7 1550.9C999.5 1548.8 997.3 1546.7 995.2 1544.6C993.1 1542.4 991 1540.3 988.9 1538.1C986.8 1535.9 984.7 1533.7 982.7 1531.5C980.7 1529.2 978.6 1527 976.6 1524.7C974.6 1522.5 972.7 1520.2 970.7 1517.9C968.7 1515.6 966.8 1513.3 964.9 1511C963 1508.7 961.1 1506.3 959.2 1504C957.3 1501.6 955.4 1499.3 953.5 1496.9C951.6 1494.5 949.8 1492.2 947.9 1489.8C946.1 1487.4 944.3 1485 942.4 1482.6C940.6 1480.2 938.8 1477.8 937 1475.4C935.2 1472.9 933.4 1470.5 931.6 1468.1C929.8 1465.7 928 1463.2 926.2 1460.8C924.4 1458.3 922.6 1455.9 920.8 1453.5C919 1451 917.2 1448.6 915.4 1446.1C913.7 1443.7 911.9 1441.2 910.1 1438.8C908.3 1436.4 906.5 1433.9 904.7 1431.5C902.9 1429 901.1 1426.6 899.4 1424.1C897.6 1421.7 895.8 1419.2 894 1416.8C892.2 1414.3 890.5 1411.8 888.7 1409.4C886.9 1406.9 885.2 1404.5 883.4 1402C881.6 1399.5 879.9 1397.1 878.1 1394.6C876.4 1392.1 874.6 1389.6 872.9 1387.2C871.2 1384.7 869.4 1382.2 867.7 1379.7C866 1377.2 864.3 1374.7 862.6 1372.2C860.9 1369.7 859.2 1367.2 857.5 1364.7C855.8 1362.2 854.2 1359.7 852.5 1357.1C850.9 1354.6 849.2 1352.1 847.6 1349.5C845.9 1347 844.3 1344.5 842.7 1341.9C841.1 1339.4 839.5 1336.8 837.9 1334.2C836.4 1331.7 834.8 1329.1 833.2 1326.5C831.7 1323.9 830.2 1321.3 828.7 1318.7C827.1 1316.1 825.6 1313.5 824.1 1310.9C822.6 1308.3 821.2 1305.7 819.7 1303.1C818.2 1300.4 816.7 1297.8 815.2 1295.2C813.7 1292.6 812.2 1289.9 810.7 1287.3C809.2 1284.7 807.7 1282.1 806.2 1279.5C804.7 1276.8 803.2 1274.2 801.6 1271.6C800.1 1269 798.5 1266.4 796.9 1263.8C795.3 1261.2 793.7 1258.6 792.1 1256.1C790.4 1253.5 788.7 1250.9 787.1 1248.4C785.5 1245.8 783.8 1243.2 782.3 1240.6C780.8 1237.9 779.4 1235.3 778.2 1232.5C777.1 1229.7 775.9 1226.6 775.4 1223.8C775 1221 774.2 1216.8 775.5 1215.9ZM803.8 1258.8C804.9 1258.1 808.8 1261.1 811 1263C813.2 1264.9 815.2 1267.7 817 1270.2C818.8 1272.7 820.2 1275.4 821.8 1278C823.3 1280.6 824.8 1283.3 826.3 1285.9C827.9 1288.5 829.5 1291 831.2 1293.6C832.9 1296.1 834.6 1298.5 836.4 1301C838.2 1303.4 840 1305.9 841.9 1308.3C843.7 1310.7 845.6 1313.1 847.4 1315.5C849.3 1317.9 851.1 1320.3 852.9 1322.7C854.7 1325.1 856.5 1327.6 858.3 1330C860.1 1332.5 861.8 1334.9 863.6 1337.4C865.3 1339.9 867.1 1342.3 868.8 1344.8C870.5 1347.3 872.2 1349.8 873.9 1352.3C875.6 1354.8 877.3 1357.3 879 1359.8C880.6 1362.4 882.3 1364.9 884 1367.4C885.6 1369.9 887.3 1372.5 889 1375C890.6 1377.5 892.3 1380.1 893.9 1382.6C895.6 1385.2 897.3 1387.7 898.9 1390.2C900.6 1392.8 902.3 1395.3 903.9 1397.9C905.6 1400.4 907.3 1403 909 1405.5C910.7 1408 912.4 1410.6 914.1 1413.1C915.8 1415.6 917.5 1418.1 919.2 1420.7C920.9 1423.2 922.7 1425.7 924.4 1428.2C926.1 1430.7 927.9 1433.1 929.6 1435.6C931.4 1438.1 933.2 1440.6 935 1443C936.8 1445.5 938.6 1447.9 940.4 1450.3C942.2 1452.7 944 1455.1 945.9 1457.5C947.7 1459.9 949.6 1462.3 951.5 1464.6C953.4 1467 955.3 1469.3 957.2 1471.6C959.1 1473.9 961.1 1476.2 963 1478.5C965 1480.7 966.9 1483 968.9 1485.3C970.9 1487.7 972.8 1490 974.8 1492.4C976.7 1494.9 978.7 1497.4 980.5 1500C982.4 1502.6 984.5 1505.5 985.9 1508.2C987.3 1510.9 988.8 1514.4 988.9 1516.1C988.9 1517.8 987.9 1519.1 986.2 1518.6C984.6 1518 981.5 1515 979 1512.8C976.5 1510.5 973.6 1507.4 971.2 1505C968.8 1502.6 966.7 1500.6 964.7 1498.5C962.6 1496.4 960.7 1494.5 958.7 1492.3C956.8 1490.2 954.8 1488 952.9 1485.8C950.9 1483.5 949 1481.2 947.1 1478.9C945.2 1476.5 943.2 1474.1 941.3 1471.7C939.4 1469.3 937.5 1466.9 935.7 1464.4C933.8 1462 931.9 1459.5 930.1 1457.1C928.2 1454.6 926.4 1452.2 924.6 1449.7C922.8 1447.3 921 1444.8 919.2 1442.4C917.4 1439.9 915.6 1437.5 913.9 1435C912.1 1432.5 910.3 1430.1 908.6 1427.6C906.8 1425.1 905.1 1422.6 903.4 1420.2C901.6 1417.7 899.9 1415.2 898.2 1412.7C896.5 1410.2 894.8 1407.7 893 1405.3C891.3 1402.8 889.6 1400.3 887.9 1397.8C886.2 1395.3 884.5 1392.8 882.8 1390.3C881.1 1387.8 879.4 1385.2 877.7 1382.7C876 1380.2 874.3 1377.7 872.6 1375.2C870.9 1372.7 869.2 1370.1 867.5 1367.6C865.8 1365.1 864.1 1362.5 862.4 1360C860.7 1357.5 859.1 1354.9 857.4 1352.4C855.7 1349.8 854.1 1347.3 852.4 1344.7C850.8 1342.1 849.1 1339.6 847.5 1337C845.9 1334.4 844.3 1331.9 842.7 1329.3C841.1 1326.7 839.5 1324.1 837.9 1321.5C836.4 1318.9 834.8 1316.3 833.3 1313.7C831.7 1311.1 830.2 1308.5 828.7 1305.9C827.2 1303.3 825.7 1300.7 824.1 1298.1C822.6 1295.5 821.1 1292.8 819.5 1290.2C817.9 1287.7 816.3 1285.1 814.7 1282.5C813 1279.9 811.1 1277.5 809.5 1274.9C807.8 1272.3 805.6 1269.6 804.7 1266.9C803.7 1264.2 802.8 1259.4 803.8 1258.8Z" fill="#A9C7EE" fill-opacity="0.8" fill-rule="evenodd" stroke="none"/>
<path d="M803.8 1258.8C804.9 1258.1 808.8 1261.1 811 1263C813.2 1264.9 815.2 1267.7 817 1270.2C818.8 1272.7 820.2 1275.4 821.8 1278C823.3 1280.6 824.8 1283.3 826.3 1285.9C827.9 1288.5 829.5 1291 831.2 1293.6C832.9 1296.1 834.6 1298.5 836.4 1301C838.2 1303.4 840 1305.9 841.9 1308.3C843.7 1310.7 845.6 1313.1 847.4 1315.5C849.3 1317.9 851.1 1320.3 852.9 1322.7C854.7 1325.1 856.5 1327.6 858.3 1330C860.1 1332.5 861.8 1334.9 863.6 1337.4C865.3 1339.9 867.1 1342.3 868.8 1344.8C870.5 1347.3 872.2 1349.8 873.9 1352.3C875.6 1354.8 877.3 1357.3 879 1359.8C880.6 1362.4 882.3 1364.9 884 1367.4C885.6 1369.9 887.3 1372.5 889 1375C890.6 1377.5 892.3 1380.1 893.9 1382.6C895.6 1385.2 897.3 1387.7 898.9 1390.2C900.6 1392.8 902.3 1395.3 903.9 1397.9C905.6 1400.4 907.3 1403 909 1405.5C910.7 1408 912.4 1410.6 914.1 1413.1C915.8 1415.6 917.5 1418.1 919.2 1420.7C920.9 1423.2 922.7 1425.7 924.4 1428.2C926.1 1430.7 927.9 1433.1 929.6 1435.6C931.4 1438.1 933.2 1440.6 935 1443C936.8 1445.5 938.6 1447.9 940.4 1450.3C942.2 1452.7 944 1455.1 945.9 1457.5C947.7 1459.9 949.6 1462.3 951.5 1464.6C953.4 1467 955.3 1469.3 957.2 1471.6C959.1 1473.9 961.1 1476.2 963 1478.5C965 1480.7 966.9 1483 968.9 1485.3C970.9 1487.7 972.8 1490 974.8 1492.4C976.7 1494.9 978.7 1497.4 980.5 1500C982.4 1502.6 984.5 1505.5 985.9 1508.2C987.3 1510.9 988.8 1514.4 988.9 1516.1C988.9 1517.8 987.9 1519.1 986.2 1518.6C984.6 1518 981.5 1515 979 1512.8C976.5 1510.5 973.6 1507.4 971.2 1505C968.8 1502.6 966.7 1500.6 964.7 1498.5C962.6 1496.4 960.7 1494.5 958.7 1492.3C956.8 1490.2 954.8 1488 952.9 1485.8C950.9 1483.5 949 1481.2 947.1 1478.9C945.2 1476.5 943.2 1474.1 941.3 1471.7C939.4 1469.3 937.5 1466.9 935.7 1464.4C933.8 1462 931.9 1459.5 930.1 1457.1C928.2 1454.6 926.4 1452.2 924.6 1449.7C922.8 1447.3 921 1444.8 919.2 1442.4C917.4 1439.9 915.6 1437.5 913.9 1435C912.1 1432.5 910.3 1430.1 908.6 1427.6C906.8 1425.1 905.1 1422.6 903.4 1420.2C901.6 1417.7 899.9 1415.2 898.2 1412.7C896.5 1410.2 894.8 1407.7 893 1405.3C891.3 1402.8 889.6 1400.3 887.9 1397.8C886.2 1395.3 884.5 1392.8 882.8 1390.3C881.1 1387.8 879.4 1385.2 877.7 1382.7C876 1380.2 874.3 1377.7 872.6 1375.2C870.9 1372.7 869.2 1370.1 867.5 1367.6C865.8 1365.1 864.1 1362.5 862.4 1360C860.7 1357.5 859.1 1354.9 857.4 1352.4C855.7 1349.8 854.1 1347.3 852.4 1344.7C850.8 1342.1 849.1 1339.6 847.5 1337C845.9 1334.4 844.3 1331.9 842.7 1329.3C841.1 1326.7 839.5 1324.1 837.9 1321.5C836.4 1318.9 834.8 1316.3 833.3 1313.7C831.7 1311.1 830.2 1308.5 828.7 1305.9C827.2 1303.3 825.7 1300.7 824.1 1298.1C822.6 1295.5 821.1 1292.8 819.5 1290.2C817.9 1287.7 816.3 1285.1 814.7 1282.5C813 1279.9 811.1 1277.5 809.5 1274.9C807.8 1272.3 805.6 1269.6 804.7 1266.9C803.7 1264.2 802.8 1259.4 803.8 1258.8Z" fill="#3A5BB0" fill-opacity="0.8"/>
<path d="M845.2 1331.8C846.2 1331 850.1 1331.7 852.7 1332.6C855.4 1333.5 858.6 1335.3 861.2 1337C863.8 1338.8 866.1 1340.9 868.4 1342.9C870.7 1344.9 872.9 1347 875.1 1349.1C877.3 1351.2 879.5 1353.3 881.6 1355.5C883.7 1357.6 885.8 1359.8 887.8 1362C889.9 1364.3 891.9 1366.5 893.8 1368.8C895.8 1371 897.8 1373.3 899.7 1375.6C901.6 1377.9 903.5 1380.3 905.3 1382.6C907.2 1385 909.1 1387.4 910.9 1389.8C912.7 1392.1 914.5 1394.5 916.4 1397C918.2 1399.4 920 1401.8 921.7 1404.2C923.5 1406.6 925.3 1409.1 927.1 1411.5C928.9 1413.9 930.7 1416.4 932.5 1418.8C934.3 1421.2 936.1 1423.7 937.9 1426.1C939.7 1428.5 941.5 1431 943.3 1433.4C945.1 1435.8 947 1438.2 948.8 1440.6C950.7 1443 952.5 1445.3 954.4 1447.7C956.3 1450.1 958.2 1452.5 960.1 1454.8C962 1457.2 963.9 1459.5 965.8 1461.8C967.8 1464.2 969.7 1466.5 971.6 1468.8C973.6 1471.1 975.6 1473.4 977.5 1475.7C979.5 1478 981.5 1480.3 983.5 1482.6C985.5 1484.8 987.5 1487.1 989.5 1489.3C991.6 1491.6 993.6 1493.8 995.7 1496C997.7 1498.2 999.8 1500.5 1001.9 1502.7C1003.9 1504.8 1006 1507 1008.1 1509.2C1010.2 1511.4 1012.3 1513.5 1014.5 1515.7C1016.6 1517.8 1018.7 1519.9 1020.9 1522C1023.1 1524.2 1025.2 1526.3 1027.4 1528.3C1029.6 1530.4 1031.8 1532.5 1034 1534.6C1036.2 1536.6 1038.4 1538.6 1040.7 1540.7C1042.9 1542.7 1045.1 1544.7 1047.4 1546.7C1049.7 1548.7 1051.9 1550.7 1054.2 1552.6C1056.5 1554.6 1058.8 1556.5 1061.1 1558.5C1063.5 1560.4 1065.8 1562.3 1068.1 1564.2C1070.5 1566.1 1072.8 1568 1075.2 1569.8C1077.6 1571.7 1080 1573.5 1082.4 1575.3C1084.8 1577.2 1087.2 1579 1089.6 1580.8C1092 1582.6 1094.4 1584.4 1096.9 1586.1C1099.3 1587.9 1101.7 1589.7 1104.2 1591.4C1106.6 1593.2 1109.1 1595 1111.6 1596.7C1114 1598.4 1116.5 1600.2 1119 1601.9C1121.4 1603.7 1123.9 1605.4 1126.4 1607.1C1128.9 1608.9 1131.4 1610.6 1133.9 1612.3C1136.3 1614 1138.8 1615.8 1141.3 1617.5C1143.8 1619.2 1146.3 1621 1148.8 1622.7C1151.3 1624.4 1153.7 1626.2 1156.2 1627.9C1158.7 1629.6 1161.2 1631.3 1163.7 1633C1166.2 1634.7 1168.7 1636.4 1171.3 1638.1C1173.8 1639.8 1176.3 1641.4 1178.8 1643C1181.4 1644.7 1183.9 1646.3 1186.5 1647.9C1189.1 1649.4 1191.6 1651 1194.2 1652.5C1196.8 1654.1 1199.4 1655.6 1202 1657C1204.6 1658.5 1207.2 1659.9 1209.9 1661.3C1212.5 1662.7 1215.2 1664.1 1217.8 1665.5C1220.4 1666.9 1223.1 1668.3 1225.7 1669.7C1228.4 1671.1 1231 1672.6 1233.6 1674.1C1236.2 1675.6 1238.8 1677.1 1241.3 1678.7C1243.9 1680.3 1246.4 1681.9 1248.9 1683.7C1251.4 1685.4 1253.9 1687.2 1256.3 1689.1C1258.7 1691.1 1261.1 1693.1 1263.4 1695.3C1265.6 1697.4 1268 1699.7 1270 1702.1C1272.1 1704.5 1274.1 1707 1275.7 1709.6C1277.3 1712.1 1278.9 1714.9 1279.5 1717.4C1280.1 1719.8 1280.7 1722.9 1279.3 1724.2C1277.9 1725.6 1273.9 1725.7 1271 1725.4C1268 1725.2 1264.6 1723.9 1261.7 1722.7C1258.7 1721.6 1256 1720.1 1253.3 1718.7C1250.5 1717.3 1247.9 1715.9 1245.2 1714.4C1242.6 1712.9 1240 1711.4 1237.4 1709.8C1234.8 1708.3 1232.3 1706.7 1229.8 1705C1227.3 1703.4 1224.7 1701.8 1222.2 1700.1C1219.7 1698.5 1217.2 1696.8 1214.7 1695.2C1212.2 1693.5 1209.7 1691.8 1207.3 1690.1C1204.8 1688.4 1202.3 1686.6 1199.8 1684.9C1197.3 1683.2 1194.9 1681.4 1192.4 1679.7C1190 1677.9 1187.5 1676.2 1185 1674.4C1182.6 1672.7 1180.1 1670.9 1177.7 1669.1C1175.2 1667.4 1172.8 1665.6 1170.3 1663.8C1167.9 1662 1165.4 1660.3 1163 1658.5C1160.5 1656.7 1158.1 1654.9 1155.6 1653.2C1153.2 1651.4 1150.7 1649.6 1148.3 1647.8C1145.8 1646.1 1143.4 1644.3 1140.9 1642.5C1138.5 1640.7 1136 1639 1133.6 1637.2C1131.1 1635.4 1128.7 1633.6 1126.3 1631.8C1123.8 1630.1 1121.4 1628.3 1118.9 1626.5C1116.5 1624.7 1114.1 1622.9 1111.6 1621.1C1109.2 1619.3 1106.8 1617.5 1104.4 1615.7C1101.9 1613.9 1099.5 1612.1 1097.1 1610.3C1094.7 1608.5 1092.3 1606.7 1089.9 1604.9C1087.5 1603 1085.1 1601.2 1082.7 1599.4C1080.3 1597.5 1077.9 1595.7 1075.5 1593.8C1073.1 1592 1070.7 1590.1 1068.4 1588.3C1066 1586.4 1063.6 1584.5 1061.3 1582.7C1058.9 1580.8 1056.6 1578.9 1054.2 1577C1051.9 1575.1 1049.5 1573.2 1047.2 1571.3C1044.8 1569.4 1042.5 1567.4 1040.2 1565.5C1037.9 1563.6 1035.6 1561.6 1033.3 1559.7C1031 1557.7 1028.7 1555.7 1026.4 1553.8C1024.1 1551.8 1021.8 1549.8 1019.6 1547.8C1017.3 1545.8 1015 1543.8 1012.8 1541.7C1010.5 1539.7 1008.3 1537.7 1006.1 1535.6C1003.9 1533.6 1001.6 1531.5 999.4 1529.4C997.2 1527.4 995 1525.3 992.9 1523.2C990.7 1521.1 988.5 1519 986.4 1516.9C984.2 1514.8 982.1 1512.6 979.9 1510.5C977.8 1508.3 975.7 1506.2 973.6 1504C971.5 1501.9 969.4 1499.7 967.3 1497.5C965.3 1495.3 963.2 1493.1 961.2 1490.9C959.1 1488.7 957.1 1486.5 955.1 1484.2C953.1 1482 951.1 1479.8 949.1 1477.5C947.1 1475.2 945.1 1473 943.1 1470.7C941.2 1468.4 939.2 1466.1 937.3 1463.8C935.3 1461.5 933.4 1459.2 931.5 1456.8C929.5 1454.5 927.6 1452.2 925.7 1449.8C923.8 1447.5 921.9 1445.1 920 1442.7C918.2 1440.3 916.3 1437.9 914.4 1435.5C912.6 1433.1 910.7 1430.7 908.9 1428.3C907 1425.8 905.2 1423.4 903.4 1421C901.6 1418.5 899.8 1416.1 898 1413.6C896.2 1411.2 894.4 1408.7 892.7 1406.2C890.9 1403.8 889.2 1401.3 887.5 1398.8C885.8 1396.3 884.1 1393.9 882.4 1391.4C880.7 1388.9 879.1 1386.5 877.4 1384C875.8 1381.5 874.2 1379 872.6 1376.6C871 1374.1 869.4 1371.6 867.8 1369.2C866.2 1366.7 864.7 1364.2 863 1361.6C861.4 1359.1 859.7 1356.5 858 1353.9C856.2 1351.2 854.3 1348.5 852.5 1345.8C850.6 1343 847.8 1339.7 846.6 1337.4C845.4 1335 844.2 1332.6 845.2 1331.8Z" fill="none" stroke="#D63C0C" stroke-opacity="0.55" stroke-width="2.2"/>
<path d="M775.5 1215.9C776.7 1214.9 780.6 1216.6 782.9 1218.1C785.2 1219.7 787.2 1222.7 789.2 1225.2C791.2 1227.7 792.9 1230.4 794.8 1233C796.6 1235.5 798.4 1238 800.2 1240.5C802 1243 803.8 1245.4 805.6 1247.8C807.4 1250.3 809.1 1252.7 810.9 1255.1C812.7 1257.5 814.5 1259.8 816.2 1262.3C818 1264.7 819.8 1267.1 821.6 1269.5C823.4 1271.9 825.2 1274.3 826.9 1276.7C828.7 1279.2 830.5 1281.6 832.3 1284.1C834.1 1286.5 835.8 1289 837.6 1291.4C839.4 1293.9 841.1 1296.3 842.9 1298.8C844.6 1301.3 846.3 1303.8 848.1 1306.3C849.8 1308.8 851.5 1311.3 853.2 1313.8C854.9 1316.3 856.5 1318.9 858.2 1321.4C859.9 1323.9 861.5 1326.5 863.2 1329C864.8 1331.6 866.4 1334.1 868 1336.7C869.7 1339.2 871.3 1341.8 872.9 1344.4C874.5 1346.9 876.1 1349.5 877.7 1352.1C879.3 1354.7 880.9 1357.2 882.5 1359.8C884.1 1362.4 885.7 1365 887.3 1367.5C888.9 1370.1 890.5 1372.7 892.1 1375.2C893.7 1377.8 895.3 1380.4 896.9 1382.9C898.5 1385.5 900.1 1388 901.7 1390.6C903.4 1393.1 905 1395.7 906.7 1398.2C908.3 1400.7 910 1403.3 911.6 1405.8C913.3 1408.3 915 1410.8 916.7 1413.3C918.4 1415.8 920.1 1418.3 921.9 1420.7C923.6 1423.2 925.4 1425.7 927.2 1428.1C928.9 1430.5 930.7 1433 932.6 1435.4C934.4 1437.8 936.2 1440.2 938.1 1442.6C939.9 1445 941.8 1447.3 943.7 1449.7C945.6 1452.1 947.5 1454.4 949.4 1456.8C951.3 1459.1 953.2 1461.4 955.2 1463.8C957.1 1466.1 959.1 1468.4 961 1470.7C963 1473 965 1475.3 967 1477.5C969 1479.8 971 1482.1 973 1484.3C975 1486.6 977.1 1488.8 979.1 1491.1C981.2 1493.3 983.2 1495.5 985.3 1497.7C987.3 1500 989.4 1502.2 991.5 1504.4C993.5 1506.6 995.6 1508.7 997.7 1510.9C999.8 1513.1 1001.9 1515.3 1004 1517.5C1006.1 1519.6 1008.2 1521.8 1010.3 1523.9C1012.4 1526.1 1014.5 1528.2 1016.7 1530.4C1018.8 1532.5 1020.9 1534.6 1023 1536.8C1025.1 1538.9 1027.3 1541.1 1029.4 1543.2C1031.5 1545.4 1033.6 1547.5 1035.7 1549.7C1037.8 1551.8 1039.9 1554 1042 1556.2C1044.1 1558.4 1046.1 1560.6 1048.2 1562.9C1050.2 1565.1 1052.3 1567.4 1054.3 1569.7C1056.3 1572 1058.3 1574.3 1060.3 1576.7C1062.3 1579 1064.3 1581.4 1066.2 1583.8C1068.1 1586.2 1070 1588.6 1071.9 1590.9C1073.7 1593.3 1075.9 1595.9 1077.3 1598C1078.7 1600.2 1081.1 1602.7 1080.3 1604C1079.5 1605.2 1075.2 1605.7 1072.4 1605.6C1069.7 1605.5 1066.4 1604.7 1063.8 1603.5C1061.3 1602.3 1059.2 1600.1 1056.9 1598.3C1054.6 1596.5 1052.4 1594.4 1050.1 1592.5C1047.8 1590.6 1045.5 1588.6 1043.2 1586.7C1040.8 1584.8 1038.5 1582.9 1036.1 1580.9C1033.8 1579 1031.4 1577.1 1029.1 1575.1C1026.8 1573.2 1024.4 1571.2 1022.1 1569.2C1019.8 1567.3 1017.4 1565.3 1015.1 1563.3C1012.8 1561.3 1010.6 1559.2 1008.3 1557.2C1006.1 1555.1 1003.9 1553 1001.7 1550.9C999.5 1548.8 997.3 1546.7 995.2 1544.6C993.1 1542.4 991 1540.3 988.9 1538.1C986.8 1535.9 984.7 1533.7 982.7 1531.5C980.7 1529.2 978.6 1527 976.6 1524.7C974.6 1522.5 972.7 1520.2 970.7 1517.9C968.7 1515.6 966.8 1513.3 964.9 1511C963 1508.7 961.1 1506.3 959.2 1504C957.3 1501.6 955.4 1499.3 953.5 1496.9C951.6 1494.5 949.8 1492.2 947.9 1489.8C946.1 1487.4 944.3 1485 942.4 1482.6C940.6 1480.2 938.8 1477.8 937 1475.4C935.2 1472.9 933.4 1470.5 931.6 1468.1C929.8 1465.7 928 1463.2 926.2 1460.8C924.4 1458.3 922.6 1455.9 920.8 1453.5C919 1451 917.2 1448.6 915.4 1446.1C913.7 1443.7 911.9 1441.2 910.1 1438.8C908.3 1436.4 906.5 1433.9 904.7 1431.5C902.9 1429 901.1 1426.6 899.4 1424.1C897.6 1421.7 895.8 1419.2 894 1416.8C892.2 1414.3 890.5 1411.8 888.7 1409.4C886.9 1406.9 885.2 1404.5 883.4 1402C881.6 1399.5 879.9 1397.1 878.1 1394.6C876.4 1392.1 874.6 1389.6 872.9 1387.2C871.2 1384.7 869.4 1382.2 867.7 1379.7C866 1377.2 864.3 1374.7 862.6 1372.2C860.9 1369.7 859.2 1367.2 857.5 1364.7C855.8 1362.2 854.2 1359.7 852.5 1357.1C850.9 1354.6 849.2 1352.1 847.6 1349.5C845.9 1347 844.3 1344.5 842.7 1341.9C841.1 1339.4 839.5 1336.8 837.9 1334.2C836.4 1331.7 834.8 1329.1 833.2 1326.5C831.7 1323.9 830.2 1321.3 828.7 1318.7C827.1 1316.1 825.6 1313.5 824.1 1310.9C822.6 1308.3 821.2 1305.7 819.7 1303.1C818.2 1300.4 816.7 1297.8 815.2 1295.2C813.7 1292.6 812.2 1289.9 810.7 1287.3C809.2 1284.7 807.7 1282.1 806.2 1279.5C804.7 1276.8 803.2 1274.2 801.6 1271.6C800.1 1269 798.5 1266.4 796.9 1263.8C795.3 1261.2 793.7 1258.6 792.1 1256.1C790.4 1253.5 788.7 1250.9 787.1 1248.4C785.5 1245.8 783.8 1243.2 782.3 1240.6C780.8 1237.9 779.4 1235.3 778.2 1232.5C777.1 1229.7 775.9 1226.6 775.4 1223.8C775 1221 774.2 1216.8 775.5 1215.9Z" fill="none" stroke="#5570BE" stroke-opacity="0.6" stroke-width="2.2"/>
</g>
<clipPath id="cL22"><rect x="1355.3" y="1191.7" width="595.3" height="592.8"/></clipPath>
<g clip-path="url(#cL22)">
<path d="M1352 1777.1C1353.4 1776.4 1357.8 1774.6 1360.4 1773.1C1363 1771.5 1365.3 1769.6 1367.5 1767.7C1369.8 1765.7 1371.8 1763.5 1373.7 1761.2C1375.7 1758.9 1377.4 1756.4 1379.2 1754C1380.9 1751.5 1382.5 1748.9 1384 1746.3C1385.5 1743.8 1387 1741.1 1388.4 1738.5C1389.8 1735.8 1391.1 1733.1 1392.4 1730.4C1393.6 1727.7 1394.8 1725 1396 1722.2C1397.1 1719.4 1398.2 1716.6 1399.3 1713.8C1400.4 1711 1401.4 1708.2 1402.4 1705.3C1403.3 1702.5 1404.3 1699.6 1405.2 1696.7C1406.1 1693.8 1407 1691 1407.9 1688.1C1408.7 1685.2 1409.6 1682.3 1410.4 1679.4C1411.3 1676.4 1412.1 1673.5 1412.9 1670.6C1413.7 1667.7 1414.5 1664.8 1415.3 1661.9C1416.1 1659 1416.9 1656.1 1417.7 1653.2C1418.5 1650.2 1419.2 1647.3 1420 1644.4C1420.7 1641.5 1421.5 1638.6 1422.2 1635.7C1423 1632.7 1423.7 1629.8 1424.4 1626.9C1425.1 1624 1425.9 1621 1426.6 1618.1C1427.3 1615.2 1428 1612.3 1428.7 1609.3C1429.3 1606.4 1430 1603.5 1430.7 1600.5C1431.4 1597.6 1432.1 1594.7 1432.7 1591.7C1433.4 1588.8 1434 1585.9 1434.7 1582.9C1435.3 1580 1436 1577.1 1436.6 1574.1C1437.3 1571.2 1437.9 1568.2 1438.5 1565.3C1439.1 1562.3 1439.8 1559.4 1440.4 1556.5C1441 1553.5 1441.6 1550.6 1442.2 1547.6C1442.8 1544.7 1443.4 1541.7 1444 1538.8C1444.6 1535.8 1445.2 1532.9 1445.8 1529.9C1446.4 1527 1447 1524 1447.6 1521.1C1448.2 1518.1 1448.8 1515.2 1449.4 1512.2C1449.9 1509.3 1450.5 1506.3 1451.1 1503.4C1451.7 1500.4 1452.2 1497.5 1452.8 1494.5C1453.4 1491.6 1454 1488.6 1454.5 1485.7C1455.1 1482.7 1455.7 1479.7 1456.3 1476.8C1456.8 1473.8 1457.4 1470.9 1458 1467.9C1458.5 1465 1459.1 1462 1459.7 1459C1460.2 1456.1 1460.8 1453.1 1461.4 1450.2C1461.9 1447.2 1462.5 1444.2 1463.1 1441.3C1463.6 1438.3 1464.2 1435.4 1464.8 1432.4C1465.4 1429.4 1465.9 1426.5 1466.5 1423.5C1467.1 1420.5 1467.7 1417.6 1468.3 1414.6C1468.8 1411.7 1469.4 1408.7 1470 1405.8C1470.6 1402.8 1471.2 1399.8 1471.9 1396.9C1472.5 1393.9 1473.1 1391 1473.8 1388C1474.4 1385.1 1475 1382.2 1475.7 1379.2C1476.4 1376.3 1477.1 1373.4 1477.8 1370.4C1478.5 1367.5 1479.2 1364.6 1480 1361.7C1480.7 1358.8 1481.5 1355.8 1482.2 1352.9C1483 1350 1483.8 1347.2 1484.7 1344.3C1485.5 1341.4 1486.4 1338.5 1487.3 1335.6C1488.2 1332.8 1489.1 1329.9 1490 1327.1C1491 1324.2 1491.9 1321.4 1492.9 1318.6C1494 1315.7 1495 1312.9 1496 1310.1C1497.1 1307.3 1498.2 1304.5 1499.2 1301.7C1500.3 1298.8 1501.4 1296 1502.6 1293.2C1503.7 1290.4 1504.8 1287.6 1506 1284.8C1507.2 1282 1508.4 1279.2 1509.8 1276.5C1511.1 1273.8 1512.5 1271.1 1514.1 1268.5C1515.7 1265.9 1517.3 1263.4 1519.2 1261C1521.1 1258.6 1523.2 1256.2 1525.4 1254.1C1527.7 1252.1 1530.1 1250.2 1532.8 1248.8C1535.4 1247.4 1538.2 1246.3 1541.1 1245.8C1544 1245.3 1547.2 1245.4 1550.2 1245.8C1553.1 1246.1 1556.1 1247 1558.9 1248.1C1561.6 1249.1 1564.1 1250.6 1566.6 1252.2C1569 1253.8 1571.2 1255.7 1573.4 1257.7C1575.6 1259.7 1577.7 1261.9 1579.7 1264.2C1581.7 1266.5 1583.7 1268.9 1585.6 1271.3C1587.5 1273.7 1589.4 1276.2 1591.3 1278.7C1593.2 1281.1 1595.1 1283.5 1597 1285.9C1598.9 1288.3 1600.8 1290.7 1602.7 1293.1C1604.6 1295.4 1606.5 1297.8 1608.3 1300.1C1610.2 1302.5 1612.1 1304.8 1613.9 1307.1C1615.8 1309.5 1617.6 1311.8 1619.5 1314.2C1621.3 1316.5 1623.1 1318.9 1624.9 1321.3C1626.6 1323.7 1628.4 1326.1 1630.1 1328.5C1631.8 1331 1633.5 1333.4 1635.2 1335.9C1636.8 1338.4 1638.5 1340.9 1640.1 1343.4C1641.7 1345.9 1643.3 1348.5 1644.8 1351C1646.4 1353.6 1647.9 1356.2 1649.4 1358.8C1650.9 1361.4 1652.4 1364 1653.9 1366.6C1655.4 1369.2 1656.9 1371.9 1658.3 1374.5C1659.8 1377.2 1661.2 1379.8 1662.6 1382.5C1664 1385.1 1665.4 1387.8 1666.8 1390.5C1668.2 1393.2 1669.6 1395.9 1671 1398.5C1672.4 1401.2 1673.8 1403.9 1675.1 1406.6C1676.5 1409.3 1677.8 1412 1679.2 1414.7C1680.5 1417.4 1681.9 1420.1 1683.2 1422.8C1684.6 1425.5 1685.9 1428.2 1687.2 1430.9C1688.5 1433.7 1689.8 1436.4 1691.1 1439.1C1692.4 1441.8 1693.7 1444.5 1695 1447.3C1696.3 1450 1697.6 1452.7 1698.9 1455.4C1700.2 1458.2 1701.4 1460.9 1702.7 1463.6C1703.9 1466.4 1705.2 1469.1 1706.5 1471.9C1707.7 1474.6 1708.9 1477.3 1710.2 1480.1C1711.4 1482.8 1712.7 1485.6 1713.9 1488.3C1715.1 1491.1 1716.3 1493.8 1717.5 1496.6C1718.7 1499.3 1720 1502.1 1721.2 1504.9C1722.4 1507.6 1723.6 1510.4 1724.7 1513.1C1725.9 1515.9 1727.1 1518.7 1728.3 1521.4C1729.5 1524.2 1730.7 1527 1731.8 1529.8C1733 1532.5 1734.2 1535.3 1735.3 1538.1C1736.5 1540.8 1737.6 1543.6 1738.8 1546.4C1739.9 1549.2 1741.1 1552 1742.2 1554.7C1743.4 1557.5 1744.5 1560.3 1745.7 1563.1C1746.8 1565.9 1747.9 1568.6 1749 1571.4C1750.2 1574.2 1751.3 1577 1752.4 1579.8C1753.5 1582.6 1754.6 1585.4 1755.8 1588.2C1756.9 1590.9 1758 1593.7 1759.1 1596.5C1760.2 1599.3 1761.3 1602.1 1762.4 1604.9C1763.5 1607.7 1764.6 1610.5 1765.7 1613.3C1766.8 1616.1 1767.9 1618.9 1769 1621.7C1770.2 1624.5 1771.3 1627.3 1772.4 1630.1C1773.5 1632.8 1774.6 1635.6 1775.7 1638.4C1776.8 1641.2 1777.9 1644 1779.1 1646.8C1780.2 1649.6 1781.3 1652.4 1782.4 1655.2C1783.6 1658 1784.7 1660.8 1785.8 1663.6C1787 1666.4 1788.1 1669.2 1789.3 1672C1790.4 1674.8 1791.6 1677.6 1792.8 1680.4C1793.9 1683.2 1795.1 1686 1796.3 1688.8C1797.5 1691.6 1798.6 1694.4 1799.8 1697.2C1801.1 1700 1802.3 1702.8 1803.5 1705.5C1804.8 1708.3 1806 1711 1807.4 1713.8C1808.7 1716.5 1810 1719.2 1811.4 1721.9C1812.9 1724.5 1814.3 1727.2 1815.8 1729.7C1817.3 1732.3 1818.9 1734.9 1820.5 1737.4C1822.2 1739.9 1823.9 1742.3 1825.6 1744.7C1827.4 1747.1 1829.3 1749.4 1831.2 1751.7C1833.2 1754 1835.2 1756.2 1837.4 1758.3C1839.5 1760.4 1841.7 1762.5 1844 1764.4C1846.3 1766.3 1848.7 1768.2 1851.2 1769.8C1853.7 1771.5 1856.3 1773 1858.9 1774.5C1861.5 1776 1864.3 1777.4 1867 1778.7C1869.8 1779.9 1872.7 1781.1 1875.6 1781.9C1878.5 1782.8 1881.5 1783.3 1884.5 1783.7C1887.5 1784 1890.6 1784.1 1893.7 1784.2C1896.8 1784.2 1899.9 1784 1903 1783.9C1906.1 1783.8 1909.2 1783.6 1912.3 1783.6C1915.3 1783.5 1918.4 1783.5 1921.3 1783.7C1924.3 1783.8 1928.6 1784.2 1930 1784.3" fill="none" stroke="#D1392B" stroke-width="3.3" stroke-linejoin="round"/>
<path d="M1465 1784.3C1466.4 1784.3 1470.4 1784.2 1473.4 1784.1C1476.4 1784.1 1479.6 1784.3 1482.8 1784.2C1486 1784.1 1489.3 1784.1 1492.4 1783.7C1495.5 1783.2 1498.6 1782.6 1501.4 1781.4C1504.2 1780.2 1506.8 1778.2 1509.1 1776.3C1511.5 1774.4 1513.5 1772.3 1515.4 1770C1517.3 1767.7 1519 1765.1 1520.7 1762.6C1522.4 1760.1 1524.1 1757.5 1525.6 1754.9C1527.2 1752.3 1528.7 1749.6 1530.1 1747C1531.5 1744.3 1532.9 1741.6 1534.2 1738.9C1535.5 1736.2 1536.8 1733.5 1538 1730.7C1539.2 1728 1540.4 1725.2 1541.5 1722.4C1542.6 1719.6 1543.7 1716.8 1544.8 1714C1545.8 1711.1 1546.9 1708.3 1547.9 1705.5C1548.9 1702.6 1549.8 1699.8 1550.8 1696.9C1551.7 1694 1552.7 1691.2 1553.6 1688.3C1554.5 1685.4 1555.4 1682.5 1556.3 1679.6C1557.1 1676.8 1558 1673.9 1558.8 1671C1559.7 1668.1 1560.5 1665.2 1561.3 1662.2C1562.1 1659.3 1563 1656.4 1563.8 1653.5C1564.6 1650.6 1565.3 1647.7 1566.1 1644.7C1566.9 1641.8 1567.7 1638.9 1568.4 1636C1569.2 1633 1570 1630.1 1570.7 1627.2C1571.5 1624.3 1572.3 1621.3 1573 1618.4C1573.8 1615.5 1574.5 1612.6 1575.3 1609.6C1576.1 1606.7 1576.8 1603.8 1577.6 1600.8C1578.4 1597.9 1579.2 1595 1579.9 1592.1C1580.7 1589.2 1581.5 1586.3 1582.3 1583.3C1583.1 1580.4 1583.9 1577.5 1584.7 1574.6C1585.6 1571.7 1586.4 1568.8 1587.3 1565.9C1588.1 1563 1589 1560.1 1589.8 1557.3C1590.7 1554.4 1591.6 1551.5 1592.5 1548.6C1593.5 1545.8 1594.4 1542.9 1595.4 1540C1596.3 1537.2 1597.3 1534.3 1598.3 1531.5C1599.3 1528.7 1600.3 1525.8 1601.4 1523C1602.5 1520.2 1603.5 1517.4 1604.6 1514.6C1605.8 1511.8 1606.9 1509 1608.1 1506.2C1609.2 1503.5 1610.5 1500.7 1611.7 1497.9C1612.9 1495.2 1614.2 1492.4 1615.5 1489.7C1616.7 1487 1618 1484.3 1619.4 1481.5C1620.7 1478.8 1622.1 1476.1 1623.4 1473.4C1624.8 1470.7 1626.2 1468 1627.6 1465.3C1629 1462.7 1630.4 1460 1631.8 1457.3C1633.2 1454.6 1634.6 1452 1636.1 1449.3C1637.5 1446.6 1639 1444 1640.4 1441.3C1641.9 1438.7 1643.3 1436 1644.8 1433.4C1646.2 1430.7 1647.7 1428.1 1649.1 1425.5C1650.6 1422.8 1652 1420.2 1653.5 1417.5C1654.9 1414.9 1656.3 1412.3 1657.8 1409.6C1659.2 1407 1660.7 1404.4 1662.1 1401.8C1663.6 1399.1 1665 1396.5 1666.5 1393.9C1668 1391.2 1669.4 1388.6 1670.9 1386C1672.4 1383.4 1673.9 1380.8 1675.4 1378.1C1676.9 1375.5 1678.4 1372.9 1679.9 1370.3C1681.4 1367.7 1683 1365.1 1684.5 1362.4C1686.1 1359.8 1687.7 1357.2 1689.3 1354.6C1690.9 1352 1692.4 1349.3 1694.1 1346.8C1695.8 1344.2 1697.5 1341.6 1699.3 1339.2C1701.1 1336.9 1703 1334.5 1705.2 1332.5C1707.3 1330.5 1709.6 1328.7 1712.1 1327.2C1714.6 1325.7 1717.4 1324.5 1720.3 1323.6C1723.1 1322.8 1726.2 1322.2 1729.2 1321.8C1732.2 1321.5 1735.4 1321.6 1738.5 1321.7C1741.5 1321.8 1744.6 1322.4 1747.6 1322.5C1750.6 1322.5 1753.6 1322.7 1756.3 1322.1C1759.1 1321.5 1761.7 1320.3 1764.2 1318.7C1766.7 1317.1 1769 1314.8 1771.2 1312.6C1773.4 1310.3 1775.4 1307.7 1777.4 1305.3C1779.4 1302.9 1781.2 1300.5 1783 1298C1784.8 1295.6 1786.4 1293.2 1788 1290.7C1789.6 1288.3 1791.1 1285.8 1792.6 1283.2C1794 1280.7 1795.3 1278 1796.7 1275.3C1798 1272.6 1799.1 1269.7 1800.4 1266.9C1801.7 1264 1802.8 1261 1804.4 1258.4C1805.9 1255.7 1807.5 1253 1809.7 1251C1811.8 1248.9 1814.5 1246.5 1817.1 1245.8C1819.8 1245.2 1823.1 1245.7 1825.4 1247.2C1827.7 1248.7 1829.4 1252 1830.8 1254.8C1832.3 1257.5 1833 1260.7 1833.9 1263.6C1834.8 1266.5 1835.6 1269.5 1836.3 1272.4C1837.1 1275.4 1837.8 1278.3 1838.4 1281.3C1839.1 1284.2 1839.6 1287.1 1840.2 1290.1C1840.8 1293 1841.3 1295.9 1841.8 1298.9C1842.3 1301.9 1842.8 1304.8 1843.3 1307.8C1843.8 1310.7 1844.3 1313.7 1844.8 1316.7C1845.2 1319.6 1845.7 1322.6 1846.1 1325.6C1846.5 1328.6 1847 1331.6 1847.4 1334.6C1847.8 1337.5 1848.2 1340.5 1848.6 1343.5C1849 1346.5 1849.4 1349.5 1849.7 1352.5C1850.1 1355.5 1850.5 1358.5 1850.8 1361.5C1851.2 1364.5 1851.5 1367.5 1851.8 1370.5C1852.2 1373.5 1852.5 1376.5 1852.8 1379.6C1853.1 1382.6 1853.4 1385.6 1853.7 1388.6C1854 1391.6 1854.3 1394.6 1854.6 1397.6C1854.9 1400.6 1855.2 1403.6 1855.5 1406.6C1855.8 1409.6 1856 1412.6 1856.3 1415.7C1856.6 1418.7 1856.9 1421.7 1857.1 1424.7C1857.4 1427.7 1857.6 1430.7 1857.9 1433.7C1858.2 1436.7 1858.4 1439.7 1858.7 1442.8C1858.9 1445.8 1859.2 1448.8 1859.4 1451.8C1859.7 1454.8 1860 1457.8 1860.2 1460.8C1860.5 1463.8 1860.7 1466.8 1861 1469.8C1861.2 1472.8 1861.5 1475.9 1861.7 1478.9C1862 1481.9 1862.3 1484.9 1862.5 1487.9C1862.8 1490.9 1863 1493.9 1863.3 1496.9C1863.6 1499.9 1863.8 1502.9 1864.1 1505.9C1864.4 1508.9 1864.7 1511.9 1865 1514.9C1865.2 1517.9 1865.5 1520.9 1865.8 1523.9C1866.1 1526.9 1866.4 1529.9 1866.7 1532.9C1867 1535.9 1867.3 1538.9 1867.6 1541.9C1867.9 1544.9 1868.2 1547.9 1868.5 1550.9C1868.8 1553.9 1869.1 1556.9 1869.4 1559.9C1869.7 1562.9 1870.1 1565.9 1870.4 1568.9C1870.7 1571.9 1871 1574.9 1871.4 1577.9C1871.7 1580.9 1872 1583.8 1872.4 1586.8C1872.7 1589.8 1873.1 1592.8 1873.4 1595.8C1873.8 1598.8 1874.1 1601.8 1874.5 1604.8C1874.8 1607.8 1875.2 1610.8 1875.6 1613.8C1875.9 1616.8 1876.3 1619.8 1876.7 1622.8C1877 1625.8 1877.4 1628.8 1877.8 1631.7C1878.2 1634.7 1878.6 1637.7 1879 1640.7C1879.4 1643.7 1879.8 1646.7 1880.2 1649.7C1880.6 1652.7 1881 1655.7 1881.4 1658.7C1881.8 1661.7 1882.3 1664.7 1882.7 1667.7C1883.1 1670.7 1883.5 1673.7 1884 1676.7C1884.4 1679.7 1884.8 1682.7 1885.3 1685.7C1885.7 1688.7 1886.2 1691.7 1886.6 1694.7C1887.1 1697.7 1887.6 1700.7 1888 1703.7C1888.5 1706.7 1889 1709.7 1889.5 1712.7C1889.9 1715.7 1890.4 1718.7 1890.9 1721.7C1891.4 1724.7 1891.9 1727.7 1892.5 1730.6C1893 1733.6 1893.6 1736.6 1894.3 1739.5C1894.9 1742.5 1895.7 1745.4 1896.5 1748.2C1897.3 1751.1 1898.3 1753.9 1899.3 1756.7C1900.4 1759.5 1901.6 1762.2 1903 1764.8C1904.3 1767.4 1905.8 1769.9 1907.6 1772.5C1909.3 1775 1911.1 1778.1 1913.4 1780.1C1915.7 1782 1918.3 1783.6 1921.3 1784.3C1924.3 1785 1928.2 1784.3 1931.3 1784.3C1934.4 1784.3 1938.5 1784.3 1940 1784.3" fill="none" stroke="#0A6CE0" stroke-width="3.3" stroke-linejoin="round"/>
</g>
<g stroke="#000" fill="none" stroke-linecap="butt">
<rect x="165" y="6.4" width="595.2" height="592.6" stroke-width="4.0"/>
<line x1="174.9" x2="174.9" y1="585" y2="599" stroke-width="4.0"/>
<line x1="201.8" x2="201.8" y1="585" y2="599" stroke-width="4.0"/>
<line x1="228.6" x2="228.6" y1="585" y2="599" stroke-width="4.0"/>
<line x1="255.5" x2="255.5" y1="575.2" y2="599" stroke-width="4.0"/>
<line x1="282.4" x2="282.4" y1="585" y2="599" stroke-width="4.0"/>
<line x1="309.2" x2="309.2" y1="585" y2="599" stroke-width="4.0"/>
<line x1="336.1" x2="336.1" y1="585" y2="599" stroke-width="4.0"/>
<line x1="363" x2="363" y1="575.2" y2="599" stroke-width="4.0"/>
<line x1="389.9" x2="389.9" y1="585" y2="599" stroke-width="4.0"/>
<line x1="416.8" x2="416.8" y1="585" y2="599" stroke-width="4.0"/>
<line x1="443.6" x2="443.6" y1="585" y2="599" stroke-width="4.0"/>
<line x1="470.5" x2="470.5" y1="575.2" y2="599" stroke-width="4.0"/>
<line x1="497.4" x2="497.4" y1="585" y2="599" stroke-width="4.0"/>
<line x1="524.2" x2="524.2" y1="585" y2="599" stroke-width="4.0"/>
<line x1="551.1" x2="551.1" y1="585" y2="599" stroke-width="4.0"/>
<line x1="578" x2="578" y1="575.2" y2="599" stroke-width="4.0"/>
<line x1="604.9" x2="604.9" y1="585" y2="599" stroke-width="4.0"/>
<line x1="631.8" x2="631.8" y1="585" y2="599" stroke-width="4.0"/>
<line x1="658.6" x2="658.6" y1="585" y2="599" stroke-width="4.0"/>
<line x1="685.5" x2="685.5" y1="575.2" y2="599" stroke-width="4.0"/>
<line x1="712.4" x2="712.4" y1="585" y2="599" stroke-width="4.0"/>
<line x1="739.2" x2="739.2" y1="585" y2="599" stroke-width="4.0"/>
<line x1="165" x2="179" y1="572.1" y2="572.1" stroke-width="4.0"/>
<line x1="165" x2="179" y1="545.1" y2="545.1" stroke-width="4.0"/>
<line x1="165" x2="179" y1="518.2" y2="518.2" stroke-width="4.0"/>
<line x1="165" x2="179" y1="464.3" y2="464.3" stroke-width="4.0"/>
<line x1="165" x2="179" y1="437.4" y2="437.4" stroke-width="4.0"/>
<line x1="165" x2="179" y1="410.4" y2="410.4" stroke-width="4.0"/>
<line x1="165" x2="179" y1="356.5" y2="356.5" stroke-width="4.0"/>
<line x1="165" x2="179" y1="329.6" y2="329.6" stroke-width="4.0"/>
<line x1="165" x2="179" y1="302.7" y2="302.7" stroke-width="4.0"/>
<line x1="165" x2="179" y1="248.8" y2="248.8" stroke-width="4.0"/>
<line x1="165" x2="179" y1="221.8" y2="221.8" stroke-width="4.0"/>
<line x1="165" x2="179" y1="194.9" y2="194.9" stroke-width="4.0"/>
<line x1="165" x2="179" y1="141" y2="141" stroke-width="4.0"/>
<line x1="165" x2="179" y1="114.1" y2="114.1" stroke-width="4.0"/>
<line x1="165" x2="179" y1="87.1" y2="87.1" stroke-width="4.0"/>
<line x1="165" x2="179" y1="33.3" y2="33.3" stroke-width="4.0"/>
<rect x="165" y="599" width="595.2" height="592.7" stroke-width="4.0"/>
<line x1="174.9" x2="174.9" y1="1177.7" y2="1191.7" stroke-width="4.0"/>
<line x1="174.9" x2="174.9" y1="599" y2="613" stroke-width="4.0"/>
<line x1="201.8" x2="201.8" y1="1177.7" y2="1191.7" stroke-width="4.0"/>
<line x1="201.8" x2="201.8" y1="599" y2="613" stroke-width="4.0"/>
<line x1="228.6" x2="228.6" y1="1177.7" y2="1191.7" stroke-width="4.0"/>
<line x1="228.6" x2="228.6" y1="599" y2="613" stroke-width="4.0"/>
<line x1="255.5" x2="255.5" y1="1167.9" y2="1191.7" stroke-width="4.0"/>
<line x1="255.5" x2="255.5" y1="599" y2="622.8" stroke-width="4.0"/>
<line x1="282.4" x2="282.4" y1="1177.7" y2="1191.7" stroke-width="4.0"/>
<line x1="282.4" x2="282.4" y1="599" y2="613" stroke-width="4.0"/>
<line x1="309.2" x2="309.2" y1="1177.7" y2="1191.7" stroke-width="4.0"/>
<line x1="309.2" x2="309.2" y1="599" y2="613" stroke-width="4.0"/>
<line x1="336.1" x2="336.1" y1="1177.7" y2="1191.7" stroke-width="4.0"/>
<line x1="336.1" x2="336.1" y1="599" y2="613" stroke-width="4.0"/>
<line x1="363" x2="363" y1="1167.9" y2="1191.7" stroke-width="4.0"/>
<line x1="363" x2="363" y1="599" y2="622.8" stroke-width="4.0"/>
<line x1="389.9" x2="389.9" y1="1177.7" y2="1191.7" stroke-width="4.0"/>
<line x1="389.9" x2="389.9" y1="599" y2="613" stroke-width="4.0"/>
<line x1="416.8" x2="416.8" y1="1177.7" y2="1191.7" stroke-width="4.0"/>
<line x1="416.8" x2="416.8" y1="599" y2="613" stroke-width="4.0"/>
<line x1="443.6" x2="443.6" y1="1177.7" y2="1191.7" stroke-width="4.0"/>
<line x1="443.6" x2="443.6" y1="599" y2="613" stroke-width="4.0"/>
<line x1="470.5" x2="470.5" y1="1167.9" y2="1191.7" stroke-width="4.0"/>
<line x1="470.5" x2="470.5" y1="599" y2="622.8" stroke-width="4.0"/>
<line x1="497.4" x2="497.4" y1="1177.7" y2="1191.7" stroke-width="4.0"/>
<line x1="497.4" x2="497.4" y1="599" y2="613" stroke-width="4.0"/>
<line x1="524.2" x2="524.2" y1="1177.7" y2="1191.7" stroke-width="4.0"/>
<line x1="524.2" x2="524.2" y1="599" y2="613" stroke-width="4.0"/>
<line x1="551.1" x2="551.1" y1="1177.7" y2="1191.7" stroke-width="4.0"/>
<line x1="551.1" x2="551.1" y1="599" y2="613" stroke-width="4.0"/>
<line x1="578" x2="578" y1="1167.9" y2="1191.7" stroke-width="4.0"/>
<line x1="578" x2="578" y1="599" y2="622.8" stroke-width="4.0"/>
<line x1="604.9" x2="604.9" y1="1177.7" y2="1191.7" stroke-width="4.0"/>
<line x1="604.9" x2="604.9" y1="599" y2="613" stroke-width="4.0"/>
<line x1="631.8" x2="631.8" y1="1177.7" y2="1191.7" stroke-width="4.0"/>
<line x1="631.8" x2="631.8" y1="599" y2="613" stroke-width="4.0"/>
<line x1="658.6" x2="658.6" y1="1177.7" y2="1191.7" stroke-width="4.0"/>
<line x1="658.6" x2="658.6" y1="599" y2="613" stroke-width="4.0"/>
<line x1="685.5" x2="685.5" y1="1167.9" y2="1191.7" stroke-width="4.0"/>
<line x1="685.5" x2="685.5" y1="599" y2="622.8" stroke-width="4.0"/>
<line x1="712.4" x2="712.4" y1="1177.7" y2="1191.7" stroke-width="4.0"/>
<line x1="712.4" x2="712.4" y1="599" y2="613" stroke-width="4.0"/>
<line x1="739.2" x2="739.2" y1="1177.7" y2="1191.7" stroke-width="4.0"/>
<line x1="739.2" x2="739.2" y1="599" y2="613" stroke-width="4.0"/>
<line x1="165" x2="179" y1="1191" y2="1191" stroke-width="4.0"/>
<line x1="746.2" x2="760.2" y1="1191" y2="1191" stroke-width="4.0"/>
<line x1="165" x2="179" y1="1157.7" y2="1157.7" stroke-width="4.0"/>
<line x1="746.2" x2="760.2" y1="1157.7" y2="1157.7" stroke-width="4.0"/>
<line x1="165" x2="188.8" y1="1124.3" y2="1124.3" stroke-width="4.0"/>
<line x1="736.4" x2="760.2" y1="1124.3" y2="1124.3" stroke-width="4.0"/>
<line x1="165" x2="179" y1="1090.9" y2="1090.9" stroke-width="4.0"/>
<line x1="746.2" x2="760.2" y1="1090.9" y2="1090.9" stroke-width="4.0"/>
<line x1="165" x2="179" y1="1057.6" y2="1057.6" stroke-width="4.0"/>
<line x1="746.2" x2="760.2" y1="1057.6" y2="1057.6" stroke-width="4.0"/>
<line x1="165" x2="179" y1="1024.2" y2="1024.2" stroke-width="4.0"/>
<line x1="746.2" x2="760.2" y1="1024.2" y2="1024.2" stroke-width="4.0"/>
<line x1="165" x2="179" y1="990.9" y2="990.9" stroke-width="4.0"/>
<line x1="746.2" x2="760.2" y1="990.9" y2="990.9" stroke-width="4.0"/>
<line x1="165" x2="188.8" y1="957.5" y2="957.5" stroke-width="4.0"/>
<line x1="736.4" x2="760.2" y1="957.5" y2="957.5" stroke-width="4.0"/>
<line x1="165" x2="179" y1="924.1" y2="924.1" stroke-width="4.0"/>
<line x1="746.2" x2="760.2" y1="924.1" y2="924.1" stroke-width="4.0"/>
<line x1="165" x2="179" y1="890.8" y2="890.8" stroke-width="4.0"/>
<line x1="746.2" x2="760.2" y1="890.8" y2="890.8" stroke-width="4.0"/>
<line x1="165" x2="179" y1="857.4" y2="857.4" stroke-width="4.0"/>
<line x1="746.2" x2="760.2" y1="857.4" y2="857.4" stroke-width="4.0"/>
<line x1="165" x2="179" y1="824.1" y2="824.1" stroke-width="4.0"/>
<line x1="746.2" x2="760.2" y1="824.1" y2="824.1" stroke-width="4.0"/>
<line x1="165" x2="188.8" y1="790.7" y2="790.7" stroke-width="4.0"/>
<line x1="736.4" x2="760.2" y1="790.7" y2="790.7" stroke-width="4.0"/>
<line x1="165" x2="179" y1="757.3" y2="757.3" stroke-width="4.0"/>
<line x1="746.2" x2="760.2" y1="757.3" y2="757.3" stroke-width="4.0"/>
<line x1="165" x2="179" y1="724" y2="724" stroke-width="4.0"/>
<line x1="746.2" x2="760.2" y1="724" y2="724" stroke-width="4.0"/>
<line x1="165" x2="179" y1="690.6" y2="690.6" stroke-width="4.0"/>
<line x1="746.2" x2="760.2" y1="690.6" y2="690.6" stroke-width="4.0"/>
<line x1="165" x2="179" y1="657.3" y2="657.3" stroke-width="4.0"/>
<line x1="746.2" x2="760.2" y1="657.3" y2="657.3" stroke-width="4.0"/>
<line x1="165" x2="188.8" y1="623.9" y2="623.9" stroke-width="4.0"/>
<line x1="736.4" x2="760.2" y1="623.9" y2="623.9" stroke-width="4.0"/>
<rect x="760.2" y="599" width="595.1" height="592.7" stroke-width="4.0"/>
<line x1="761.1" x2="761.1" y1="1177.7" y2="1191.7" stroke-width="4.0"/>
<line x1="794.6" x2="794.6" y1="1177.7" y2="1191.7" stroke-width="4.0"/>
<line x1="828" x2="828" y1="1167.9" y2="1191.7" stroke-width="4.0"/>
<line x1="861.4" x2="861.4" y1="1177.7" y2="1191.7" stroke-width="4.0"/>
<line x1="894.9" x2="894.9" y1="1177.7" y2="1191.7" stroke-width="4.0"/>
<line x1="928.3" x2="928.3" y1="1177.7" y2="1191.7" stroke-width="4.0"/>
<line x1="961.8" x2="961.8" y1="1177.7" y2="1191.7" stroke-width="4.0"/>
<line x1="995.2" x2="995.2" y1="1167.9" y2="1191.7" stroke-width="4.0"/>
<line x1="1028.6" x2="1028.6" y1="1177.7" y2="1191.7" stroke-width="4.0"/>
<line x1="1062.1" x2="1062.1" y1="1177.7" y2="1191.7" stroke-width="4.0"/>
<line x1="1095.5" x2="1095.5" y1="1177.7" y2="1191.7" stroke-width="4.0"/>
<line x1="1129" x2="1129" y1="1177.7" y2="1191.7" stroke-width="4.0"/>
<line x1="1162.4" x2="1162.4" y1="1167.9" y2="1191.7" stroke-width="4.0"/>
<line x1="1195.8" x2="1195.8" y1="1177.7" y2="1191.7" stroke-width="4.0"/>
<line x1="1229.3" x2="1229.3" y1="1177.7" y2="1191.7" stroke-width="4.0"/>
<line x1="1262.7" x2="1262.7" y1="1177.7" y2="1191.7" stroke-width="4.0"/>
<line x1="1296.2" x2="1296.2" y1="1177.7" y2="1191.7" stroke-width="4.0"/>
<line x1="1329.6" x2="1329.6" y1="1167.9" y2="1191.7" stroke-width="4.0"/>
<line x1="760.2" x2="774.2" y1="1164.8" y2="1164.8" stroke-width="4.0"/>
<line x1="760.2" x2="774.2" y1="1137.8" y2="1137.8" stroke-width="4.0"/>
<line x1="760.2" x2="774.2" y1="1110.9" y2="1110.9" stroke-width="4.0"/>
<line x1="760.2" x2="774.2" y1="1057" y2="1057" stroke-width="4.0"/>
<line x1="760.2" x2="774.2" y1="1030.1" y2="1030.1" stroke-width="4.0"/>
<line x1="760.2" x2="774.2" y1="1003.1" y2="1003.1" stroke-width="4.0"/>
<line x1="760.2" x2="774.2" y1="949.2" y2="949.2" stroke-width="4.0"/>
<line x1="760.2" x2="774.2" y1="922.3" y2="922.3" stroke-width="4.0"/>
<line x1="760.2" x2="774.2" y1="895.4" y2="895.4" stroke-width="4.0"/>
<line x1="760.2" x2="774.2" y1="841.5" y2="841.5" stroke-width="4.0"/>
<line x1="760.2" x2="774.2" y1="814.5" y2="814.5" stroke-width="4.0"/>
<line x1="760.2" x2="774.2" y1="787.6" y2="787.6" stroke-width="4.0"/>
<line x1="760.2" x2="774.2" y1="733.7" y2="733.7" stroke-width="4.0"/>
<line x1="760.2" x2="774.2" y1="706.8" y2="706.8" stroke-width="4.0"/>
<line x1="760.2" x2="774.2" y1="679.8" y2="679.8" stroke-width="4.0"/>
<line x1="760.2" x2="774.2" y1="626" y2="626" stroke-width="4.0"/>
<rect x="165" y="1191.7" width="595.2" height="592.8" stroke-width="4.0"/>
<line x1="174.9" x2="174.9" y1="1770.5" y2="1784.5" stroke-width="4.0"/>
<line x1="174.9" x2="174.9" y1="1191.7" y2="1205.7" stroke-width="4.0"/>
<line x1="201.8" x2="201.8" y1="1770.5" y2="1784.5" stroke-width="4.0"/>
<line x1="201.8" x2="201.8" y1="1191.7" y2="1205.7" stroke-width="4.0"/>
<line x1="228.6" x2="228.6" y1="1770.5" y2="1784.5" stroke-width="4.0"/>
<line x1="228.6" x2="228.6" y1="1191.7" y2="1205.7" stroke-width="4.0"/>
<line x1="255.5" x2="255.5" y1="1760.7" y2="1784.5" stroke-width="4.0"/>
<line x1="255.5" x2="255.5" y1="1191.7" y2="1215.5" stroke-width="4.0"/>
<line x1="282.4" x2="282.4" y1="1770.5" y2="1784.5" stroke-width="4.0"/>
<line x1="282.4" x2="282.4" y1="1191.7" y2="1205.7" stroke-width="4.0"/>
<line x1="309.2" x2="309.2" y1="1770.5" y2="1784.5" stroke-width="4.0"/>
<line x1="309.2" x2="309.2" y1="1191.7" y2="1205.7" stroke-width="4.0"/>
<line x1="336.1" x2="336.1" y1="1770.5" y2="1784.5" stroke-width="4.0"/>
<line x1="336.1" x2="336.1" y1="1191.7" y2="1205.7" stroke-width="4.0"/>
<line x1="363" x2="363" y1="1760.7" y2="1784.5" stroke-width="4.0"/>
<line x1="363" x2="363" y1="1191.7" y2="1215.5" stroke-width="4.0"/>
<line x1="389.9" x2="389.9" y1="1770.5" y2="1784.5" stroke-width="4.0"/>
<line x1="389.9" x2="389.9" y1="1191.7" y2="1205.7" stroke-width="4.0"/>
<line x1="416.8" x2="416.8" y1="1770.5" y2="1784.5" stroke-width="4.0"/>
<line x1="416.8" x2="416.8" y1="1191.7" y2="1205.7" stroke-width="4.0"/>
<line x1="443.6" x2="443.6" y1="1770.5" y2="1784.5" stroke-width="4.0"/>
<line x1="443.6" x2="443.6" y1="1191.7" y2="1205.7" stroke-width="4.0"/>
<line x1="470.5" x2="470.5" y1="1760.7" y2="1784.5" stroke-width="4.0"/>
<line x1="470.5" x2="470.5" y1="1191.7" y2="1215.5" stroke-width="4.0"/>
<line x1="497.4" x2="497.4" y1="1770.5" y2="1784.5" stroke-width="4.0"/>
<line x1="497.4" x2="497.4" y1="1191.7" y2="1205.7" stroke-width="4.0"/>
<line x1="524.2" x2="524.2" y1="1770.5" y2="1784.5" stroke-width="4.0"/>
<line x1="524.2" x2="524.2" y1="1191.7" y2="1205.7" stroke-width="4.0"/>
<line x1="551.1" x2="551.1" y1="1770.5" y2="1784.5" stroke-width="4.0"/>
<line x1="551.1" x2="551.1" y1="1191.7" y2="1205.7" stroke-width="4.0"/>
<line x1="578" x2="578" y1="1760.7" y2="1784.5" stroke-width="4.0"/>
<line x1="578" x2="578" y1="1191.7" y2="1215.5" stroke-width="4.0"/>
<line x1="604.9" x2="604.9" y1="1770.5" y2="1784.5" stroke-width="4.0"/>
<line x1="604.9" x2="604.9" y1="1191.7" y2="1205.7" stroke-width="4.0"/>
<line x1="631.8" x2="631.8" y1="1770.5" y2="1784.5" stroke-width="4.0"/>
<line x1="631.8" x2="631.8" y1="1191.7" y2="1205.7" stroke-width="4.0"/>
<line x1="658.6" x2="658.6" y1="1770.5" y2="1784.5" stroke-width="4.0"/>
<line x1="658.6" x2="658.6" y1="1191.7" y2="1205.7" stroke-width="4.0"/>
<line x1="685.5" x2="685.5" y1="1760.7" y2="1784.5" stroke-width="4.0"/>
<line x1="685.5" x2="685.5" y1="1191.7" y2="1215.5" stroke-width="4.0"/>
<line x1="712.4" x2="712.4" y1="1770.5" y2="1784.5" stroke-width="4.0"/>
<line x1="712.4" x2="712.4" y1="1191.7" y2="1205.7" stroke-width="4.0"/>
<line x1="739.2" x2="739.2" y1="1770.5" y2="1784.5" stroke-width="4.0"/>
<line x1="739.2" x2="739.2" y1="1191.7" y2="1205.7" stroke-width="4.0"/>
<line x1="165" x2="179" y1="1777.8" y2="1777.8" stroke-width="4.0"/>
<line x1="746.2" x2="760.2" y1="1777.8" y2="1777.8" stroke-width="4.0"/>
<line x1="165" x2="179" y1="1747.9" y2="1747.9" stroke-width="4.0"/>
<line x1="746.2" x2="760.2" y1="1747.9" y2="1747.9" stroke-width="4.0"/>
<line x1="165" x2="179" y1="1718" y2="1718" stroke-width="4.0"/>
<line x1="746.2" x2="760.2" y1="1718" y2="1718" stroke-width="4.0"/>
<line x1="165" x2="179" y1="1688.1" y2="1688.1" stroke-width="4.0"/>
<line x1="746.2" x2="760.2" y1="1688.1" y2="1688.1" stroke-width="4.0"/>
<line x1="165" x2="188.8" y1="1658.2" y2="1658.2" stroke-width="4.0"/>
<line x1="736.4" x2="760.2" y1="1658.2" y2="1658.2" stroke-width="4.0"/>
<line x1="165" x2="179" y1="1628.3" y2="1628.3" stroke-width="4.0"/>
<line x1="746.2" x2="760.2" y1="1628.3" y2="1628.3" stroke-width="4.0"/>
<line x1="165" x2="179" y1="1598.4" y2="1598.4" stroke-width="4.0"/>
<line x1="746.2" x2="760.2" y1="1598.4" y2="1598.4" stroke-width="4.0"/>
<line x1="165" x2="179" y1="1568.5" y2="1568.5" stroke-width="4.0"/>
<line x1="746.2" x2="760.2" y1="1568.5" y2="1568.5" stroke-width="4.0"/>
<line x1="165" x2="179" y1="1538.6" y2="1538.6" stroke-width="4.0"/>
<line x1="746.2" x2="760.2" y1="1538.6" y2="1538.6" stroke-width="4.0"/>
<line x1="165" x2="188.8" y1="1508.7" y2="1508.7" stroke-width="4.0"/>
<line x1="736.4" x2="760.2" y1="1508.7" y2="1508.7" stroke-width="4.0"/>
<line x1="165" x2="179" y1="1478.7" y2="1478.7" stroke-width="4.0"/>
<line x1="746.2" x2="760.2" y1="1478.7" y2="1478.7" stroke-width="4.0"/>
<line x1="165" x2="179" y1="1448.8" y2="1448.8" stroke-width="4.0"/>
<line x1="746.2" x2="760.2" y1="1448.8" y2="1448.8" stroke-width="4.0"/>
<line x1="165" x2="179" y1="1418.9" y2="1418.9" stroke-width="4.0"/>
<line x1="746.2" x2="760.2" y1="1418.9" y2="1418.9" stroke-width="4.0"/>
<line x1="165" x2="179" y1="1389" y2="1389" stroke-width="4.0"/>
<line x1="746.2" x2="760.2" y1="1389" y2="1389" stroke-width="4.0"/>
<line x1="165" x2="188.8" y1="1359.1" y2="1359.1" stroke-width="4.0"/>
<line x1="736.4" x2="760.2" y1="1359.1" y2="1359.1" stroke-width="4.0"/>
<line x1="165" x2="179" y1="1329.2" y2="1329.2" stroke-width="4.0"/>
<line x1="746.2" x2="760.2" y1="1329.2" y2="1329.2" stroke-width="4.0"/>
<line x1="165" x2="179" y1="1299.3" y2="1299.3" stroke-width="4.0"/>
<line x1="746.2" x2="760.2" y1="1299.3" y2="1299.3" stroke-width="4.0"/>
<line x1="165" x2="179" y1="1269.4" y2="1269.4" stroke-width="4.0"/>
<line x1="746.2" x2="760.2" y1="1269.4" y2="1269.4" stroke-width="4.0"/>
<line x1="165" x2="179" y1="1239.5" y2="1239.5" stroke-width="4.0"/>
<line x1="746.2" x2="760.2" y1="1239.5" y2="1239.5" stroke-width="4.0"/>
<line x1="165" x2="188.8" y1="1209.6" y2="1209.6" stroke-width="4.0"/>
<line x1="736.4" x2="760.2" y1="1209.6" y2="1209.6" stroke-width="4.0"/>
<rect x="760.2" y="1191.7" width="595.1" height="592.8" stroke-width="4.0"/>
<line x1="761.1" x2="761.1" y1="1770.5" y2="1784.5" stroke-width="4.0"/>
<line x1="761.1" x2="761.1" y1="1191.7" y2="1205.7" stroke-width="4.0"/>
<line x1="794.6" x2="794.6" y1="1770.5" y2="1784.5" stroke-width="4.0"/>
<line x1="794.6" x2="794.6" y1="1191.7" y2="1205.7" stroke-width="4.0"/>
<line x1="828" x2="828" y1="1760.7" y2="1784.5" stroke-width="4.0"/>
<line x1="828" x2="828" y1="1191.7" y2="1215.5" stroke-width="4.0"/>
<line x1="861.4" x2="861.4" y1="1770.5" y2="1784.5" stroke-width="4.0"/>
<line x1="861.4" x2="861.4" y1="1191.7" y2="1205.7" stroke-width="4.0"/>
<line x1="894.9" x2="894.9" y1="1770.5" y2="1784.5" stroke-width="4.0"/>
<line x1="894.9" x2="894.9" y1="1191.7" y2="1205.7" stroke-width="4.0"/>
<line x1="928.3" x2="928.3" y1="1770.5" y2="1784.5" stroke-width="4.0"/>
<line x1="928.3" x2="928.3" y1="1191.7" y2="1205.7" stroke-width="4.0"/>
<line x1="961.8" x2="961.8" y1="1770.5" y2="1784.5" stroke-width="4.0"/>
<line x1="961.8" x2="961.8" y1="1191.7" y2="1205.7" stroke-width="4.0"/>
<line x1="995.2" x2="995.2" y1="1760.7" y2="1784.5" stroke-width="4.0"/>
<line x1="995.2" x2="995.2" y1="1191.7" y2="1215.5" stroke-width="4.0"/>
<line x1="1028.6" x2="1028.6" y1="1770.5" y2="1784.5" stroke-width="4.0"/>
<line x1="1028.6" x2="1028.6" y1="1191.7" y2="1205.7" stroke-width="4.0"/>
<line x1="1062.1" x2="1062.1" y1="1770.5" y2="1784.5" stroke-width="4.0"/>
<line x1="1062.1" x2="1062.1" y1="1191.7" y2="1205.7" stroke-width="4.0"/>
<line x1="1095.5" x2="1095.5" y1="1770.5" y2="1784.5" stroke-width="4.0"/>
<line x1="1095.5" x2="1095.5" y1="1191.7" y2="1205.7" stroke-width="4.0"/>
<line x1="1129" x2="1129" y1="1770.5" y2="1784.5" stroke-width="4.0"/>
<line x1="1129" x2="1129" y1="1191.7" y2="1205.7" stroke-width="4.0"/>
<line x1="1162.4" x2="1162.4" y1="1760.7" y2="1784.5" stroke-width="4.0"/>
<line x1="1162.4" x2="1162.4" y1="1191.7" y2="1215.5" stroke-width="4.0"/>
<line x1="1195.8" x2="1195.8" y1="1770.5" y2="1784.5" stroke-width="4.0"/>
<line x1="1195.8" x2="1195.8" y1="1191.7" y2="1205.7" stroke-width="4.0"/>
<line x1="1229.3" x2="1229.3" y1="1770.5" y2="1784.5" stroke-width="4.0"/>
<line x1="1229.3" x2="1229.3" y1="1191.7" y2="1205.7" stroke-width="4.0"/>
<line x1="1262.7" x2="1262.7" y1="1770.5" y2="1784.5" stroke-width="4.0"/>
<line x1="1262.7" x2="1262.7" y1="1191.7" y2="1205.7" stroke-width="4.0"/>
<line x1="1296.2" x2="1296.2" y1="1770.5" y2="1784.5" stroke-width="4.0"/>
<line x1="1296.2" x2="1296.2" y1="1191.7" y2="1205.7" stroke-width="4.0"/>
<line x1="1329.6" x2="1329.6" y1="1760.7" y2="1784.5" stroke-width="4.0"/>
<line x1="1329.6" x2="1329.6" y1="1191.7" y2="1215.5" stroke-width="4.0"/>
<line x1="760.2" x2="774.2" y1="1777.8" y2="1777.8" stroke-width="4.0"/>
<line x1="1341.3" x2="1355.3" y1="1777.8" y2="1777.8" stroke-width="4.0"/>
<line x1="760.2" x2="774.2" y1="1747.9" y2="1747.9" stroke-width="4.0"/>
<line x1="1341.3" x2="1355.3" y1="1747.9" y2="1747.9" stroke-width="4.0"/>
<line x1="760.2" x2="774.2" y1="1718" y2="1718" stroke-width="4.0"/>
<line x1="1341.3" x2="1355.3" y1="1718" y2="1718" stroke-width="4.0"/>
<line x1="760.2" x2="774.2" y1="1688.1" y2="1688.1" stroke-width="4.0"/>
<line x1="1341.3" x2="1355.3" y1="1688.1" y2="1688.1" stroke-width="4.0"/>
<line x1="760.2" x2="784" y1="1658.2" y2="1658.2" stroke-width="4.0"/>
<line x1="1331.5" x2="1355.3" y1="1658.2" y2="1658.2" stroke-width="4.0"/>
<line x1="760.2" x2="774.2" y1="1628.3" y2="1628.3" stroke-width="4.0"/>
<line x1="1341.3" x2="1355.3" y1="1628.3" y2="1628.3" stroke-width="4.0"/>
<line x1="760.2" x2="774.2" y1="1598.4" y2="1598.4" stroke-width="4.0"/>
<line x1="1341.3" x2="1355.3" y1="1598.4" y2="1598.4" stroke-width="4.0"/>
<line x1="760.2" x2="774.2" y1="1568.5" y2="1568.5" stroke-width="4.0"/>
<line x1="1341.3" x2="1355.3" y1="1568.5" y2="1568.5" stroke-width="4.0"/>
<line x1="760.2" x2="774.2" y1="1538.6" y2="1538.6" stroke-width="4.0"/>
<line x1="1341.3" x2="1355.3" y1="1538.6" y2="1538.6" stroke-width="4.0"/>
<line x1="760.2" x2="784" y1="1508.7" y2="1508.7" stroke-width="4.0"/>
<line x1="1331.5" x2="1355.3" y1="1508.7" y2="1508.7" stroke-width="4.0"/>
<line x1="760.2" x2="774.2" y1="1478.7" y2="1478.7" stroke-width="4.0"/>
<line x1="1341.3" x2="1355.3" y1="1478.7" y2="1478.7" stroke-width="4.0"/>
<line x1="760.2" x2="774.2" y1="1448.8" y2="1448.8" stroke-width="4.0"/>
<line x1="1341.3" x2="1355.3" y1="1448.8" y2="1448.8" stroke-width="4.0"/>
<line x1="760.2" x2="774.2" y1="1418.9" y2="1418.9" stroke-width="4.0"/>
<line x1="1341.3" x2="1355.3" y1="1418.9" y2="1418.9" stroke-width="4.0"/>
<line x1="760.2" x2="774.2" y1="1389" y2="1389" stroke-width="4.0"/>
<line x1="1341.3" x2="1355.3" y1="1389" y2="1389" stroke-width="4.0"/>
<line x1="760.2" x2="784" y1="1359.1" y2="1359.1" stroke-width="4.0"/>
<line x1="1331.5" x2="1355.3" y1="1359.1" y2="1359.1" stroke-width="4.0"/>
<line x1="760.2" x2="774.2" y1="1329.2" y2="1329.2" stroke-width="4.0"/>
<line x1="1341.3" x2="1355.3" y1="1329.2" y2="1329.2" stroke-width="4.0"/>
<line x1="760.2" x2="774.2" y1="1299.3" y2="1299.3" stroke-width="4.0"/>
<line x1="1341.3" x2="1355.3" y1="1299.3" y2="1299.3" stroke-width="4.0"/>
<line x1="760.2" x2="774.2" y1="1269.4" y2="1269.4" stroke-width="4.0"/>
<line x1="1341.3" x2="1355.3" y1="1269.4" y2="1269.4" stroke-width="4.0"/>
<line x1="760.2" x2="774.2" y1="1239.5" y2="1239.5" stroke-width="4.0"/>
<line x1="1341.3" x2="1355.3" y1="1239.5" y2="1239.5" stroke-width="4.0"/>
<line x1="760.2" x2="784" y1="1209.6" y2="1209.6" stroke-width="4.0"/>
<line x1="1331.5" x2="1355.3" y1="1209.6" y2="1209.6" stroke-width="4.0"/>
<rect x="1355.3" y="1191.7" width="595.3" height="592.8" stroke-width="4.0"/>
<line x1="1361.9" x2="1361.9" y1="1770.5" y2="1784.5" stroke-width="4.0"/>
<line x1="1391.9" x2="1391.9" y1="1770.5" y2="1784.5" stroke-width="4.0"/>
<line x1="1422" x2="1422" y1="1770.5" y2="1784.5" stroke-width="4.0"/>
<line x1="1452" x2="1452" y1="1770.5" y2="1784.5" stroke-width="4.0"/>
<line x1="1482.1" x2="1482.1" y1="1760.7" y2="1784.5" stroke-width="4.0"/>
<line x1="1512.2" x2="1512.2" y1="1770.5" y2="1784.5" stroke-width="4.0"/>
<line x1="1542.2" x2="1542.2" y1="1770.5" y2="1784.5" stroke-width="4.0"/>
<line x1="1572.3" x2="1572.3" y1="1770.5" y2="1784.5" stroke-width="4.0"/>
<line x1="1602.3" x2="1602.3" y1="1770.5" y2="1784.5" stroke-width="4.0"/>
<line x1="1632.4" x2="1632.4" y1="1760.7" y2="1784.5" stroke-width="4.0"/>
<line x1="1662.5" x2="1662.5" y1="1770.5" y2="1784.5" stroke-width="4.0"/>
<line x1="1692.5" x2="1692.5" y1="1770.5" y2="1784.5" stroke-width="4.0"/>
<line x1="1722.6" x2="1722.6" y1="1770.5" y2="1784.5" stroke-width="4.0"/>
<line x1="1752.6" x2="1752.6" y1="1770.5" y2="1784.5" stroke-width="4.0"/>
<line x1="1782.7" x2="1782.7" y1="1760.7" y2="1784.5" stroke-width="4.0"/>
<line x1="1812.8" x2="1812.8" y1="1770.5" y2="1784.5" stroke-width="4.0"/>
<line x1="1842.8" x2="1842.8" y1="1770.5" y2="1784.5" stroke-width="4.0"/>
<line x1="1872.9" x2="1872.9" y1="1770.5" y2="1784.5" stroke-width="4.0"/>
<line x1="1902.9" x2="1902.9" y1="1770.5" y2="1784.5" stroke-width="4.0"/>
<line x1="1933" x2="1933" y1="1760.7" y2="1784.5" stroke-width="4.0"/>
<line x1="1355.3" x2="1369.3" y1="1757.6" y2="1757.6" stroke-width="4.0"/>
<line x1="1355.3" x2="1369.3" y1="1730.6" y2="1730.6" stroke-width="4.0"/>
<line x1="1355.3" x2="1369.3" y1="1703.7" y2="1703.7" stroke-width="4.0"/>
<line x1="1355.3" x2="1369.3" y1="1649.8" y2="1649.8" stroke-width="4.0"/>
<line x1="1355.3" x2="1369.3" y1="1622.9" y2="1622.9" stroke-width="4.0"/>
<line x1="1355.3" x2="1369.3" y1="1595.9" y2="1595.9" stroke-width="4.0"/>
<line x1="1355.3" x2="1369.3" y1="1542" y2="1542" stroke-width="4.0"/>
<line x1="1355.3" x2="1369.3" y1="1515.1" y2="1515.1" stroke-width="4.0"/>
<line x1="1355.3" x2="1369.3" y1="1488.2" y2="1488.2" stroke-width="4.0"/>
<line x1="1355.3" x2="1369.3" y1="1434.3" y2="1434.3" stroke-width="4.0"/>
<line x1="1355.3" x2="1369.3" y1="1407.3" y2="1407.3" stroke-width="4.0"/>
<line x1="1355.3" x2="1369.3" y1="1380.4" y2="1380.4" stroke-width="4.0"/>
<line x1="1355.3" x2="1369.3" y1="1326.5" y2="1326.5" stroke-width="4.0"/>
<line x1="1355.3" x2="1369.3" y1="1299.6" y2="1299.6" stroke-width="4.0"/>
<line x1="1355.3" x2="1369.3" y1="1272.6" y2="1272.6" stroke-width="4.0"/>
<line x1="1355.3" x2="1369.3" y1="1218.8" y2="1218.8" stroke-width="4.0"/>
</g>
<text font-family="'Liberation Serif', serif" font-size="43.5" x="227.8" y="1831">0.4</text>
<text font-family="'Liberation Serif', serif" font-size="43.5" x="335.6" y="1831">0.6</text>
<text font-family="'Liberation Serif', serif" font-size="43.5" x="443.3" y="1831">0.8</text>
<text font-family="'Liberation Serif', serif" font-size="43.5" x="549.7" y="1831">1.0</text>
<text font-family="'Liberation Serif', serif" font-size="43.5" x="657.6" y="1831">1.2</text>
<text font-family="'Liberation Serif', serif" font-size="43.5" x="801.2" y="1831">0.2</text>
<text font-family="'Liberation Serif', serif" font-size="43.5" x="968.1" y="1831">0.3</text>
<text font-family="'Liberation Serif', serif" font-size="43.5" x="1134.7" y="1831">0.4</text>
<text font-family="'Liberation Serif', serif" font-size="43.5" x="1460.2" y="1831.3">60</text>
<text font-family="'Liberation Serif', serif" font-size="43.5" x="1610.1" y="1831.3">70</text>
<text font-family="'Liberation Serif', serif" font-size="43.5" x="1760.9" y="1831.3">80</text>
<text font-family="'Liberation Serif', serif" font-size="43.5" x="94.7" y="1139.4">0.2</text>
<text font-family="'Liberation Serif', serif" font-size="43.5" x="94.1" y="972.6">0.3</text>
<text font-family="'Liberation Serif', serif" font-size="43.5" x="93" y="805.8">0.4</text>
<text font-family="'Liberation Serif', serif" font-size="43.5" x="104.8" y="1673.4">60</text>
<text font-family="'Liberation Serif', serif" font-size="43.5" x="104.8" y="1523.9">70</text>
<text font-family="'Liberation Serif', serif" font-size="43.5" x="104.8" y="1374.3">80</text>
<clipPath id="cR00"><rect x="2273.4" y="6.4" width="588" height="592.6"/></clipPath>
<g clip-path="url(#cR00)">
<path d="M2273 598.8C2273.6 598.8 2275.4 598.8 2276.6 598.8C2277.8 598.8 2279 598.8 2280.2 598.8C2281.3 598.8 2282.5 598.8 2283.7 598.8C2284.9 598.8 2286.1 598.7 2287.3 598.7C2288.5 598.7 2289.7 598.6 2290.9 598.6C2292.1 598.5 2293.3 598.4 2294.5 598.4C2295.6 598.3 2296.8 598.2 2298 598.1C2299.2 598 2300.4 597.9 2301.6 597.8C2302.8 597.7 2304 597.5 2305.2 597.4C2306.4 597.2 2307.6 597 2308.8 596.8C2309.9 596.6 2311.1 596.4 2312.3 596.1C2313.5 595.9 2314.7 595.6 2315.9 595.3C2317.1 595 2318.3 594.6 2319.5 594.2C2320.7 593.8 2321.9 593.4 2323.1 592.9C2324.2 592.5 2325.4 591.9 2326.6 591.4C2327.8 590.8 2329 590.3 2330.2 589.8C2331.4 589.2 2332.6 588.6 2333.8 588C2335 587.3 2336.2 586.6 2337.4 585.8C2338.6 585 2339.7 584.2 2340.9 583.3C2342.1 582.4 2343.3 581.4 2344.5 580.4C2345.7 579.3 2346.9 578.2 2348.1 577C2349.3 575.7 2350.5 574.4 2351.7 573.1C2352.9 571.7 2354 570.2 2355.2 568.6C2356.4 567 2357.6 565.3 2358.8 563.5C2360 561.7 2361.2 559.8 2362.4 557.8C2363.6 555.8 2364.8 553.7 2366 551.5C2367.2 549.2 2368.3 546.9 2369.5 544.4C2370.7 541.9 2371.9 539.3 2373.1 536.6C2374.3 533.8 2375.5 531 2376.7 528C2377.9 525 2379.1 521.9 2380.3 518.6C2381.5 515.4 2382.6 512 2383.8 508.5C2385 505 2386.2 501.3 2387.4 497.5C2388.6 493.7 2389.8 489.8 2391 485.8C2392.2 481.7 2393.4 477.5 2394.6 473.2C2395.8 468.9 2397 464.5 2398.1 459.9C2399.3 455.3 2400.5 450.6 2401.7 445.8C2402.9 441 2404.1 436.1 2405.3 431.1C2406.5 426 2407.7 420.9 2408.9 415.6C2410.1 410.4 2411.3 405 2412.4 399.6C2413.6 394.1 2414.8 388.6 2416 382.9C2417.2 377.3 2418.4 371.6 2419.6 365.8C2420.8 360.1 2422 354.2 2423.2 348.3C2424.4 342.4 2425.6 336.4 2426.7 330.4C2427.9 324.4 2429.1 318.4 2430.3 312.3C2431.5 306.3 2432.7 300.1 2433.9 294C2435.1 287.9 2436.3 281.8 2437.5 275.7C2438.7 269.6 2439.9 263.5 2441.1 257.4C2442.2 251.4 2443.4 245.3 2444.6 239.3C2445.8 233.3 2447 227.3 2448.2 221.5C2449.4 215.6 2450.6 209.7 2451.8 204C2453 198.2 2454.2 192.5 2455.4 187C2456.5 181.4 2457.7 175.9 2458.9 170.6C2460.1 165.3 2461.3 160 2462.5 154.9C2463.7 149.9 2464.9 144.9 2466.1 140.1C2467.3 135.3 2468.5 130.7 2469.7 126.2C2470.8 121.8 2472 117.5 2473.2 113.4C2474.4 109.3 2475.6 105.4 2476.8 101.7C2478 98.1 2479.2 94.6 2480.4 91.3C2481.6 88.1 2482.8 85.1 2484 82.3C2485.1 79.5 2486.3 77 2487.5 74.7C2488.7 72.4 2489.9 70.4 2491.1 68.6C2492.3 66.8 2493.5 65.3 2494.7 64.1C2495.9 62.8 2497.1 61.9 2498.3 61.2C2499.5 60.5 2500.6 60.1 2501.8 60C2503 59.9 2504.2 60.1 2505.4 60.6C2506.6 61 2507.8 61.8 2509 62.9C2510.2 63.9 2511.4 65.3 2512.6 66.9C2513.8 68.5 2514.9 70.5 2516.1 72.7C2517.3 74.9 2518.5 77.4 2519.7 80.2C2520.9 83 2522.1 86.1 2523.3 89.4C2524.5 92.7 2525.7 96.3 2526.9 100.2C2528.1 104.1 2529.2 108.2 2530.4 112.6C2531.6 117 2532.8 121.6 2534 126.4C2535.2 131.3 2536.4 136.4 2537.6 141.7C2538.8 147 2540 152.5 2541.2 158.2C2542.4 163.8 2543.5 169.7 2544.7 175.8C2545.9 181.8 2547.1 188.1 2548.3 194.4C2549.5 200.8 2550.7 207.3 2551.9 213.9C2553.1 220.5 2554.3 227.2 2555.5 234C2556.7 240.8 2557.9 247.7 2559 254.7C2560.2 261.6 2561.4 268.7 2562.6 275.7C2563.8 282.8 2565 289.9 2566.2 296.9C2567.4 304 2568.6 311.1 2569.8 318.2C2571 325.2 2572.2 332.3 2573.3 339.2C2574.5 346.2 2575.7 353.2 2576.9 360C2578.1 366.8 2579.3 373.6 2580.5 380.3C2581.7 387 2582.9 393.6 2584.1 400C2585.3 406.5 2586.5 412.8 2587.6 419C2588.8 425.2 2590 431.2 2591.2 437.1C2592.4 443 2593.6 448.8 2594.8 454.3C2596 459.9 2597.2 465.3 2598.4 470.5C2599.6 475.7 2600.8 480.8 2601.9 485.6C2603.1 490.5 2604.3 495.1 2605.5 499.6C2606.7 504.1 2607.9 508.4 2609.1 512.4C2610.3 516.5 2611.5 520.4 2612.7 524.2C2613.9 527.9 2615.1 531.4 2616.3 534.7C2617.4 538.1 2618.6 541.2 2619.8 544.2C2621 547.2 2622.2 550 2623.4 552.6C2624.6 555.2 2625.8 557.7 2627 560C2628.2 562.3 2629.4 564.4 2630.6 566.4C2631.7 568.4 2632.9 570.3 2634.1 572C2635.3 573.7 2636.5 575.3 2637.7 576.7C2638.9 578.2 2640.1 579.5 2641.3 580.8C2642.5 582 2643.7 583.1 2644.9 584.1C2646 585.2 2647.2 586.1 2648.4 586.9C2649.6 587.8 2650.8 588.5 2652 589.2C2653.2 589.9 2654.4 590.5 2655.6 591.1C2656.8 591.7 2658 592.4 2659.2 593C2660.4 593.5 2661.5 594 2662.7 594.5C2663.9 594.9 2665.1 595.3 2666.3 595.6C2667.5 596 2668.7 596.3 2669.9 596.5C2671.1 596.8 2672.3 597 2673.5 597.2C2674.7 597.4 2675.8 597.6 2677 597.7C2678.2 597.9 2679.4 598 2680.6 598.1C2681.8 598.2 2683 598.3 2684.2 598.4C2685.4 598.5 2686.6 598.6 2687.8 598.6C2689 598.7 2690.1 598.7 2691.3 598.8C2692.5 598.8 2693.7 598.8 2694.9 598.8C2696.1 598.8 2697.3 598.8 2698.5 598.8C2699.7 598.8 2700.9 598.8 2702.1 598.8C2703.3 598.8 2704.4 598.8 2705.6 598.8C2706.8 598.8 2708 598.8 2709.2 598.8C2710.4 598.8 2711.6 598.8 2712.8 598.8C2714 598.8 2715.2 598.8 2716.4 598.8C2717.6 598.8 2718.8 598.8 2719.9 598.8C2721.1 598.8 2722.3 598.8 2723.5 598.8C2724.7 598.8 2725.9 598.8 2727.1 598.8C2728.3 598.8 2729.5 598.8 2730.7 598.8C2731.9 598.8 2733.1 598.8 2734.2 598.8C2735.4 598.8 2736.6 598.8 2737.8 598.8C2739 598.8 2740.2 598.8 2741.4 598.8C2742.6 598.8 2743.8 598.8 2745 598.8C2746.2 598.8 2747.4 598.8 2748.5 598.8C2749.7 598.8 2750.9 598.8 2752.1 598.8C2753.3 598.8 2754.5 598.8 2755.7 598.8C2756.9 598.8 2758.1 598.8 2759.3 598.8C2760.5 598.8 2761.7 598.8 2762.8 598.8C2764 598.8 2765.2 598.8 2766.4 598.8C2767.6 598.8 2769.4 598.8 2770 598.8" fill="none" stroke="#D1392B" stroke-width="3.3" stroke-linejoin="round"/>
<path d="M2480 597.7C2480.5 597.6 2481.8 597.5 2482.7 597.5C2483.7 597.4 2484.6 597.3 2485.5 597.2C2486.4 597.2 2487.3 597.1 2488.2 597C2489.1 596.9 2490.1 596.8 2491 596.7C2491.9 596.6 2492.8 596.5 2493.7 596.3C2494.6 596.2 2495.5 596.1 2496.4 596C2497.4 595.8 2498.3 595.7 2499.2 595.5C2500.1 595.4 2501 595.2 2501.9 595C2502.8 594.9 2503.8 594.7 2504.7 594.5C2505.6 594.3 2506.5 594.1 2507.4 593.9C2508.3 593.6 2509.2 593.4 2510.2 593.1C2511.1 592.9 2512 592.6 2512.9 592.3C2513.8 592.1 2514.7 591.7 2515.6 591.4C2516.5 591.1 2517.5 590.8 2518.4 590.5C2519.3 590.2 2520.2 589.9 2521.1 589.6C2522 589.3 2522.9 589 2523.9 588.6C2524.8 588.2 2525.7 587.8 2526.6 587.4C2527.5 587 2528.4 586.6 2529.3 586.1C2530.3 585.7 2531.2 585.2 2532.1 584.7C2533 584.2 2533.9 583.7 2534.8 583.1C2535.7 582.5 2536.6 581.9 2537.6 581.3C2538.5 580.6 2539.4 580 2540.3 579.3C2541.2 578.6 2542.1 577.8 2543 577C2544 576.3 2544.9 575.4 2545.8 574.6C2546.7 573.7 2547.6 572.8 2548.5 571.8C2549.4 570.9 2550.4 569.9 2551.3 568.8C2552.2 567.7 2553.1 566.6 2554 565.4C2554.9 564.3 2555.8 563.1 2556.7 561.8C2557.7 560.5 2558.6 559.1 2559.5 557.7C2560.4 556.3 2561.3 554.8 2562.2 553.3C2563.1 551.7 2564.1 550.1 2565 548.4C2565.9 546.7 2566.8 545 2567.7 543.1C2568.6 541.3 2569.5 539.4 2570.5 537.4C2571.4 535.4 2572.3 533.3 2573.2 531.1C2574.1 528.9 2575 526.7 2575.9 524.3C2576.8 522 2577.8 519.5 2578.7 517C2579.6 514.4 2580.5 511.8 2581.4 509.1C2582.3 506.3 2583.2 503.5 2584.2 500.6C2585.1 497.6 2586 494.6 2586.9 491.5C2587.8 488.3 2588.7 485.1 2589.6 481.7C2590.6 478.4 2591.5 474.9 2592.4 471.3C2593.3 467.8 2594.2 464.1 2595.1 460.3C2596 456.5 2596.9 452.7 2597.9 448.7C2598.8 444.7 2599.7 440.5 2600.6 436.3C2601.5 432.1 2602.4 427.8 2603.3 423.4C2604.3 419 2605.2 414.4 2606.1 409.8C2607 405.2 2607.9 400.4 2608.8 395.6C2609.7 390.8 2610.7 385.9 2611.6 380.9C2612.5 375.9 2613.4 370.8 2614.3 365.6C2615.2 360.4 2616.1 355.1 2617.1 349.8C2618 344.5 2618.9 339.1 2619.8 333.6C2620.7 328.1 2621.6 322.6 2622.5 317C2623.4 311.4 2624.4 305.8 2625.3 300.1C2626.2 294.5 2627.1 288.7 2628 283C2628.9 277.3 2629.8 271.5 2630.8 265.8C2631.7 260 2632.6 254.2 2633.5 248.5C2634.4 242.8 2635.3 237 2636.2 231.3C2637.2 225.6 2638.1 219.9 2639 214.3C2639.9 208.6 2640.8 203 2641.7 197.5C2642.6 192 2643.5 186.6 2644.5 181.2C2645.4 175.8 2646.3 170.6 2647.2 165.4C2648.1 160.3 2649 155.2 2649.9 150.3C2650.9 145.4 2651.8 140.6 2652.7 135.9C2653.6 131.3 2654.5 126.8 2655.4 122.5C2656.3 118.2 2657.3 114 2658.2 110.1C2659.1 106.1 2660 102.3 2660.9 98.8C2661.8 95.2 2662.7 91.9 2663.6 88.8C2664.6 85.7 2665.5 82.8 2666.4 80.1C2667.3 77.5 2668.2 75.1 2669.1 72.9C2670 70.8 2671 68.9 2671.9 67.2C2672.8 65.6 2673.7 64.2 2674.6 63.2C2675.5 62.1 2676.4 61.3 2677.4 60.7C2678.3 60.2 2679.2 60 2680.1 60C2681 60 2681.9 60.4 2682.8 61C2683.7 61.6 2684.7 62.5 2685.6 63.7C2686.5 64.9 2687.4 66.4 2688.3 68.1C2689.2 69.9 2690.1 71.9 2691.1 74.2C2692 76.5 2692.9 79.1 2693.8 81.9C2694.7 84.8 2695.6 87.9 2696.5 91.3C2697.5 94.6 2698.4 98.3 2699.3 102.1C2700.2 105.9 2701.1 110 2702 114.3C2702.9 118.6 2703.8 123.2 2704.8 127.9C2705.7 132.6 2706.6 137.5 2707.5 142.6C2708.4 147.7 2709.3 153 2710.2 158.4C2711.2 163.9 2712.1 169.5 2713 175.2C2713.9 180.9 2714.8 186.8 2715.7 192.7C2716.6 198.7 2717.6 204.8 2718.5 210.9C2719.4 217.1 2720.3 223.3 2721.2 229.6C2722.1 235.9 2723 242.3 2723.9 248.7C2724.9 255 2725.8 261.5 2726.7 267.9C2727.6 274.4 2728.5 280.8 2729.4 287.3C2730.3 293.7 2731.3 300.2 2732.2 306.5C2733.1 312.9 2734 319.3 2734.9 325.6C2735.8 332 2736.7 338.2 2737.7 344.4C2738.6 350.6 2739.5 356.8 2740.4 362.8C2741.3 368.8 2742.2 374.8 2743.1 380.7C2744.1 386.5 2745 392.3 2745.9 397.9C2746.8 403.6 2747.7 409.1 2748.6 414.5C2749.5 419.9 2750.4 425.2 2751.4 430.4C2752.3 435.5 2753.2 440.6 2754.1 445.5C2755 450.3 2755.9 455.1 2756.8 459.7C2757.8 464.3 2758.7 468.8 2759.6 473.1C2760.5 477.4 2761.4 481.6 2762.3 485.7C2763.2 489.7 2764.2 493.6 2765.1 497.3C2766 501.1 2766.9 504.7 2767.8 508.1C2768.7 511.6 2769.6 514.9 2770.5 518.1C2771.5 521.3 2772.4 524.3 2773.3 527.2C2774.2 530.1 2775.1 532.9 2776 535.6C2776.9 538.2 2777.9 540.7 2778.8 543.1C2779.7 545.5 2780.6 547.8 2781.5 550C2782.4 552.1 2783.3 554.2 2784.3 556.1C2785.2 558 2786.1 559.9 2787 561.6C2787.9 563.3 2788.8 565 2789.7 566.5C2790.6 568 2791.6 569.5 2792.5 570.8C2793.4 572.2 2794.3 573.5 2795.2 574.6C2796.1 575.8 2797 577 2798 578C2798.9 579 2799.8 580 2800.7 580.9C2801.6 581.8 2802.5 582.7 2803.4 583.5C2804.4 584.3 2805.3 585 2806.2 585.7C2807.1 586.4 2808 587 2808.9 587.6C2809.8 588.2 2810.7 588.7 2811.7 589.2C2812.6 589.7 2813.5 590.1 2814.4 590.6C2815.3 591 2816.2 591.5 2817.1 592C2818.1 592.4 2819 592.8 2819.9 593.2C2820.8 593.6 2821.7 593.9 2822.6 594.3C2823.5 594.6 2824.5 594.9 2825.4 595.1C2826.3 595.4 2827.2 595.7 2828.1 595.9C2829 596.1 2829.9 596.3 2830.8 596.5C2831.8 596.7 2832.7 596.8 2833.6 597C2834.5 597.1 2835.4 597.3 2836.3 597.4C2837.2 597.5 2838.2 597.6 2839.1 597.7C2840 597.8 2840.9 597.9 2841.8 598C2842.7 598.1 2843.6 598.2 2844.6 598.2C2845.5 598.3 2846.4 598.4 2847.3 598.4C2848.2 598.5 2849.1 598.5 2850 598.6C2850.9 598.6 2851.9 598.6 2852.8 598.7C2853.7 598.7 2854.6 598.7 2855.5 598.8C2856.4 598.8 2857.3 598.8 2858.3 598.8C2859.2 598.8 2860.5 598.8 2861 598.8" fill="none" stroke="#0A6CE0" stroke-width="3.3" stroke-linejoin="round"/>
</g>
<clipPath id="cR10"><rect x="2273.4" y="599" width="588" height="592.7"/></clipPath>
<g clip-path="url(#cR10)">
<path d="M2336.7 1062.7C2336.7 1059.6 2337.1 1056.6 2337.8 1053.7C2338.5 1050.7 2339.6 1047.9 2340.7 1045.1C2341.8 1042.3 2343.1 1039.6 2344.3 1036.8C2345.4 1034 2346.5 1031.2 2347.6 1028.4C2348.6 1025.6 2349.6 1022.8 2350.5 1020C2351.5 1017.1 2352.3 1014.3 2353.2 1011.4C2354.1 1008.6 2355 1005.7 2355.9 1002.9C2356.7 1000 2357.6 997.1 2358.5 994.3C2359.5 991.4 2360.4 988.5 2361.4 985.7C2362.3 982.8 2363.3 979.9 2364.3 977.1C2365.3 974.2 2366.4 971.4 2367.4 968.5C2368.5 965.7 2369.6 962.9 2370.7 960.1C2371.9 957.3 2373.1 954.5 2374.3 951.7C2375.5 948.9 2376.7 946.1 2378 943.4C2379.3 940.7 2380.6 937.9 2382 935.3C2383.3 932.6 2384.7 929.9 2386.2 927.3C2387.6 924.6 2389.1 922 2390.7 919.4C2392.2 916.9 2393.8 914.3 2395.5 911.8C2397.2 909.3 2398.9 906.8 2400.6 904.4C2402.4 901.9 2404.2 899.5 2406 897.2C2407.8 894.8 2409.7 892.4 2411.6 890.1C2413.5 887.7 2415.4 885.4 2417.3 883.1C2419.3 880.8 2421.2 878.5 2423.2 876.2C2425.2 873.9 2427.2 871.7 2429.2 869.4C2431.1 867.1 2433.1 864.9 2435.1 862.6C2437.1 860.3 2439.1 858 2441.1 855.8C2443.1 853.5 2445 851.2 2447 848.9C2448.9 846.6 2450.9 844.3 2452.8 841.9C2454.7 839.6 2456.5 837.3 2458.4 834.9C2460.2 832.5 2462 830.1 2463.8 827.7C2465.5 825.3 2467.3 822.8 2468.9 820.3C2470.6 817.8 2472.2 815.3 2473.7 812.7C2475.3 810.2 2476.7 807.6 2478.1 804.9C2479.5 802.3 2480.9 799.6 2482.1 796.9C2483.4 794.1 2484.5 791.4 2485.6 788.5C2486.6 785.7 2487.4 782.6 2488.6 779.9C2489.7 777.3 2490.8 774.5 2492.6 772.5C2494.5 770.5 2496.9 769.2 2499.6 768C2502.2 766.8 2505.4 766 2508.5 765.5C2511.6 764.9 2515 764.6 2518.2 764.6C2521.5 764.6 2524.9 764.8 2527.9 765.4C2531 766 2534.1 766.9 2536.8 768.1C2539.5 769.3 2542 770.8 2544.4 772.5C2546.7 774.1 2548.9 776.1 2551 778.1C2553.2 780.1 2555.2 782.3 2557.2 784.4C2559.3 786.5 2561.3 788.8 2563.4 790.9C2565.6 793 2567.7 795.1 2570.1 797.1C2572.4 799 2575 800.8 2577.5 802.5C2580 804.3 2582.7 805.8 2585.3 807.5C2587.9 809.2 2590.5 810.8 2593 812.7C2595.4 814.5 2597.8 816.3 2599.9 818.4C2602 820.5 2603.9 822.7 2605.5 825.1C2607.1 827.5 2608.4 830.1 2609.3 832.8C2610.1 835.6 2610.5 838.5 2610.6 841.5C2610.7 844.4 2610.1 847.6 2610.1 850.7C2610.1 853.8 2610 856.8 2610.4 859.8C2610.9 862.8 2611.7 865.6 2612.7 868.5C2613.7 871.3 2615.1 874.1 2616.3 877C2617.5 879.8 2619 882.6 2619.8 885.4C2620.6 888.3 2621.1 891.2 2621.3 894.2C2621.4 897.1 2621 900.2 2620.7 903.2C2620.4 906.2 2619.8 909.3 2619.4 912.3C2619.1 915.3 2618.7 918.3 2618.7 921.3C2618.7 924.3 2619 927.2 2619.5 930.1C2620 933 2620.8 935.9 2621.6 938.7C2622.4 941.6 2623.5 944.4 2624.5 947.3C2625.6 950.2 2626.8 953 2627.9 955.9C2629 958.7 2630.2 961.6 2631.2 964.5C2632.2 967.4 2633.1 970.3 2633.7 973.2C2634.2 976.1 2634.6 979 2634.6 981.9C2634.5 984.8 2634 987.7 2633.3 990.7C2632.7 993.6 2631.5 996.5 2630.5 999.5C2629.5 1002.4 2628.2 1005.4 2627.4 1008.3C2626.5 1011.3 2625.7 1014.2 2625.4 1017.2C2625.1 1020.1 2625.2 1023.1 2625.5 1026C2625.9 1029 2626.7 1031.9 2627.4 1034.9C2628.2 1037.8 2629.3 1040.7 2630.2 1043.6C2631.1 1046.6 2632.2 1049.5 2633 1052.4C2633.9 1055.2 2634.6 1058.1 2635.3 1061C2635.9 1063.9 2636.5 1066.7 2637 1069.6C2637.5 1072.5 2637.9 1075.5 2638.2 1078.4C2638.6 1081.4 2638.9 1084.3 2639.3 1087.4C2639.6 1090.4 2639.9 1093.5 2640.2 1096.6C2640.4 1099.7 2640.7 1102.9 2640.8 1106C2640.8 1109.1 2640.8 1112.3 2640.4 1115.3C2640.1 1118.3 2639.6 1121.3 2638.6 1124.1C2637.7 1126.9 2636.3 1129.6 2634.7 1132.1C2633.1 1134.6 2631 1136.9 2628.8 1139C2626.7 1141 2624.3 1142.9 2621.9 1144.5C2619.5 1146.1 2616.9 1147.4 2614.3 1148.6C2611.6 1149.8 2608.9 1150.8 2606.1 1151.6C2603.2 1152.5 2600.3 1153.1 2597.4 1153.6C2594.4 1154.1 2591.4 1154.5 2588.4 1154.7C2585.3 1155 2582.2 1155.1 2579.1 1155.1C2576.1 1155.2 2572.9 1155.1 2569.8 1155C2566.7 1154.9 2563.6 1154.7 2560.5 1154.5C2557.4 1154.3 2554.4 1154 2551.3 1153.7C2548.3 1153.4 2545.3 1153.1 2542.3 1152.7C2539.3 1152.4 2536.3 1152 2533.3 1151.5C2530.3 1151.1 2527.4 1150.6 2524.4 1150.1C2521.5 1149.7 2518.5 1149.1 2515.6 1148.6C2512.7 1148.1 2509.8 1147.5 2506.8 1146.9C2503.9 1146.3 2501 1145.7 2498.1 1145.1C2495.2 1144.5 2492.3 1143.8 2489.4 1143.1C2486.5 1142.5 2483.6 1141.8 2480.7 1141.1C2477.8 1140.4 2474.9 1139.7 2472 1138.9C2469.1 1138.2 2466.1 1137.5 2463.2 1136.7C2460.3 1136 2457.4 1135.2 2454.5 1134.4C2451.6 1133.6 2448.6 1132.8 2445.7 1132C2442.8 1131.1 2439.9 1130.3 2437 1129.4C2434.1 1128.5 2431.2 1127.6 2428.3 1126.7C2425.4 1125.7 2422.5 1124.8 2419.7 1123.8C2416.8 1122.8 2413.9 1121.8 2411.1 1120.8C2408.2 1119.7 2405.4 1118.7 2402.6 1117.5C2399.8 1116.4 2397 1115.3 2394.2 1114.1C2391.4 1112.9 2388.6 1111.7 2385.9 1110.5C2383.1 1109.2 2380.4 1107.9 2377.7 1106.6C2374.9 1105.3 2372.3 1103.9 2369.6 1102.5C2366.9 1101.1 2364.2 1099.6 2361.7 1098.1C2359.1 1096.6 2356.5 1095 2354.2 1093.2C2351.8 1091.5 2349.5 1089.6 2347.5 1087.5C2345.5 1085.4 2343.6 1083.1 2342.1 1080.6C2340.5 1078 2339.2 1075.1 2338.3 1072.1C2337.4 1069.2 2336.8 1065.8 2336.7 1062.7Z" fill="#F4ADA7"/>
<path d="M2386.2 1062.8C2386.2 1060 2386.7 1057.3 2387.5 1054.6C2388.4 1051.9 2389.7 1049.3 2391.3 1046.7C2392.8 1044.1 2394.7 1041.6 2396.6 1039.1C2398.6 1036.6 2400.8 1034.1 2403 1031.7C2405.2 1029.3 2407.5 1026.9 2409.6 1024.6C2411.8 1022.2 2413.8 1020 2415.8 1017.7C2417.9 1015.5 2419.8 1013.3 2421.7 1011C2423.6 1008.8 2425.4 1006.6 2427.2 1004.4C2429.1 1002.1 2430.8 999.9 2432.7 997.6C2434.5 995.3 2436.3 992.9 2438.2 990.6C2440.1 988.2 2442 985.8 2443.9 983.4C2445.8 981 2447.8 978.6 2449.8 976.3C2451.8 974 2453.8 971.7 2455.9 969.5C2458 967.3 2460.2 965.1 2462.4 963.1C2464.7 961.1 2467 959.1 2469.4 957.4C2471.8 955.6 2474.2 954 2476.8 952.5C2479.5 951 2482.2 949.7 2485 948.7C2487.9 947.6 2490.9 946.7 2494 946.1C2497 945.5 2500.2 945.1 2503.2 945C2506.3 945 2509.4 945.2 2512.3 945.8C2515.2 946.4 2518 947.4 2520.6 948.7C2523.3 949.9 2525.7 951.6 2528 953.5C2530.2 955.3 2532.3 957.5 2534.1 959.8C2535.9 962.1 2537.5 964.7 2539 967.3C2540.5 969.9 2541.7 972.7 2543.1 975.5C2544.4 978.3 2545.6 981.2 2546.9 984C2548.2 986.8 2549.6 989.6 2550.9 992.3C2552.3 995.1 2553.8 997.8 2555.2 1000.5C2556.5 1003.2 2558 1005.8 2559.3 1008.5C2560.6 1011.2 2561.9 1013.9 2563.2 1016.6C2564.4 1019.3 2565.6 1022.1 2566.7 1024.8C2567.8 1027.5 2568.8 1030.3 2569.8 1033.1C2570.9 1035.9 2571.8 1038.7 2572.8 1041.5C2573.8 1044.3 2574.7 1047.1 2575.6 1050C2576.6 1052.9 2577.5 1055.7 2578.4 1058.6C2579.4 1061.6 2580.3 1064.5 2581.3 1067.4C2582.2 1070.4 2583.2 1073.4 2584.1 1076.4C2585.1 1079.4 2586 1082.4 2586.7 1085.4C2587.4 1088.4 2588 1091.5 2588.3 1094.5C2588.7 1097.5 2588.8 1100.5 2588.6 1103.5C2588.4 1106.5 2588 1109.6 2587.1 1112.3C2586.3 1115.1 2585.1 1117.9 2583.5 1120.2C2582 1122.4 2580.1 1124.5 2577.8 1126C2575.6 1127.6 2572.9 1128.7 2570.2 1129.6C2567.4 1130.5 2564.3 1130.9 2561.2 1131.4C2558.1 1131.8 2554.9 1131.9 2551.7 1132C2548.5 1132.2 2545.4 1132.2 2542.2 1132.2C2539.1 1132.1 2536 1132 2532.9 1131.9C2529.8 1131.7 2526.8 1131.5 2523.8 1131.2C2520.7 1130.9 2517.7 1130.6 2514.7 1130.2C2511.7 1129.8 2508.8 1129.3 2505.8 1128.8C2502.9 1128.3 2499.9 1127.7 2497 1127.1C2494.1 1126.5 2491.2 1125.9 2488.3 1125.2C2485.4 1124.5 2482.5 1123.7 2479.7 1123C2476.8 1122.2 2474 1121.4 2471.1 1120.5C2468.2 1119.7 2465.4 1118.8 2462.6 1117.9C2459.7 1116.9 2456.9 1116 2454 1115C2451.2 1114 2448.4 1113 2445.5 1111.9C2442.7 1110.8 2439.8 1109.8 2437 1108.6C2434.1 1107.5 2431.2 1106.4 2428.3 1105.2C2425.5 1104 2422.6 1102.8 2419.8 1101.5C2417 1100.1 2414.2 1098.7 2411.6 1097.2C2408.9 1095.7 2406.3 1094 2403.9 1092.2C2401.5 1090.4 2399.2 1088.4 2397.2 1086.3C2395.1 1084.1 2393.1 1081.6 2391.6 1079.1C2390 1076.6 2388.6 1073.8 2387.7 1071.1C2386.8 1068.4 2386.2 1065.5 2386.2 1062.8Z" fill="#E03424" stroke="#E03424" stroke-width="1.2"/>
<path d="M2546.7 993.4C2547.2 991 2549.1 988.8 2551.3 986.9C2553.4 985 2556.7 983.3 2559.5 981.8C2562.3 980.2 2565.1 979 2567.8 977.6C2570.5 976.2 2573 974.9 2575.5 973.4C2578.1 971.8 2580.5 970 2583 968.2C2585.4 966.4 2587.9 964.4 2590.3 962.5C2592.8 960.6 2595.3 958.7 2597.8 957C2600.3 955.3 2602.9 953.7 2605.5 952.4C2608.1 951.1 2610.8 950.1 2613.6 949.2C2616.4 948.4 2619.2 947.8 2622.1 947.4C2624.9 947 2627.9 946.8 2630.8 946.8C2633.8 946.7 2636.8 946.9 2639.8 947.1C2642.8 947.4 2645.9 947.8 2648.9 948.2C2652 948.7 2655.1 949.3 2658.2 949.9C2661.2 950.5 2664.3 951.3 2667.4 952C2670.5 952.7 2673.5 953.5 2676.6 954.2C2679.6 955 2682.7 955.8 2685.7 956.5C2688.7 957.2 2691.6 957.9 2694.6 958.7C2697.5 959.4 2700.4 960.2 2703.2 961C2706.1 961.9 2708.8 962.8 2711.6 963.8C2714.3 964.9 2717 966 2719.6 967.3C2722.2 968.6 2724.7 970.1 2727.2 971.7C2729.6 973.4 2732 975.3 2734.3 977.3C2736.6 979.3 2738.9 981.5 2741.1 983.7C2743.3 985.9 2745.4 988.3 2747.6 990.5C2749.7 992.8 2751.8 995.1 2753.8 997.3C2755.9 999.6 2757.9 1001.8 2759.9 1004.1C2761.8 1006.3 2763.8 1008.6 2765.7 1010.9C2767.5 1013.2 2769.4 1015.5 2771.2 1017.8C2773 1020.2 2774.7 1022.6 2776.4 1025C2778.1 1027.5 2779.7 1030 2781.3 1032.6C2782.9 1035.1 2784.4 1037.8 2785.8 1040.5C2787.3 1043.2 2788.7 1046 2790 1048.9C2791.3 1051.8 2792.7 1054.9 2793.7 1057.9C2794.6 1060.9 2795.5 1064 2795.5 1066.8C2795.5 1069.5 2795 1072.3 2793.6 1074.4C2792.3 1076.5 2790 1078.3 2787.5 1079.4C2785 1080.5 2781.8 1081 2778.7 1081.3C2775.6 1081.5 2772 1081.3 2768.8 1081.1C2765.5 1080.8 2762.2 1080.3 2759.2 1079.9C2756.1 1079.4 2753.2 1078.9 2750.3 1078.3C2747.4 1077.7 2744.5 1077.1 2741.6 1076.5C2738.7 1075.8 2735.8 1075.1 2732.9 1074.4C2730 1073.7 2727.1 1072.9 2724.2 1072.1C2721.3 1071.3 2718.4 1070.5 2715.5 1069.6C2712.6 1068.8 2709.7 1067.9 2706.8 1067.1C2703.9 1066.2 2701 1065.3 2698.1 1064.3C2695.2 1063.4 2692.3 1062.5 2689.4 1061.5C2686.5 1060.6 2683.6 1059.7 2680.7 1058.7C2677.8 1057.7 2674.9 1056.8 2672 1055.8C2669.1 1054.9 2666.2 1053.9 2663.4 1053C2660.5 1052 2657.6 1051 2654.7 1050.1C2651.9 1049.1 2649 1048.2 2646.1 1047.2C2643.3 1046.3 2640.4 1045.3 2637.5 1044.4C2634.7 1043.5 2631.8 1042.5 2628.9 1041.6C2626.1 1040.6 2623.2 1039.6 2620.3 1038.7C2617.5 1037.7 2614.6 1036.8 2611.7 1035.8C2608.9 1034.9 2606 1033.9 2603.1 1032.9C2600.2 1031.9 2597.4 1031 2594.5 1030C2591.6 1029 2588.7 1028 2585.9 1027C2583 1025.9 2580.2 1024.8 2577.4 1023.6C2574.6 1022.4 2571.9 1021.1 2569.2 1019.6C2566.6 1018.1 2564 1016.5 2561.6 1014.7C2559.1 1012.8 2556.7 1010.8 2554.5 1008.5C2552.4 1006.2 2549.9 1003.5 2548.6 1001C2547.3 998.5 2546.3 995.7 2546.7 993.4ZM2594.6 1009.6C2594.4 1007.4 2595.8 1004.8 2597.7 1002.7C2599.6 1000.7 2603.1 998.7 2606 997.3C2608.9 995.9 2612 994.9 2615 994.1C2617.9 993.3 2620.8 993 2623.7 992.7C2626.6 992.5 2629.5 992.5 2632.5 992.6C2635.4 992.6 2638.4 992.7 2641.4 992.9C2644.4 993.1 2647.5 993.3 2650.5 993.7C2653.6 994 2656.7 994.4 2659.7 994.8C2662.7 995.3 2665.8 995.9 2668.8 996.5C2671.8 997.1 2674.7 997.8 2677.6 998.7C2680.5 999.5 2683.4 1000.4 2686.2 1001.4C2688.9 1002.4 2691.6 1003.6 2694.3 1004.8C2697 1006 2699.6 1007.3 2702.2 1008.7C2704.7 1010.1 2707.3 1011.5 2709.8 1013.1C2712.3 1014.7 2714.8 1016.3 2717.4 1018C2719.9 1019.7 2722.4 1021.5 2724.9 1023.3C2727.4 1025.2 2730.1 1027.1 2732.5 1029.1C2735 1031.1 2737.5 1033.1 2739.8 1035.3C2742 1037.5 2744.1 1039.7 2745.7 1042.1C2747.4 1044.5 2748.9 1047.1 2749.7 1049.7C2750.4 1052.3 2751.1 1055.5 2750.2 1057.8C2749.4 1060.1 2747.1 1062.1 2744.7 1063.3C2742.4 1064.5 2739.2 1064.7 2736.1 1064.8C2733.1 1064.9 2729.6 1064.4 2726.4 1063.9C2723.2 1063.5 2720.1 1062.8 2717 1062.2C2713.9 1061.5 2710.9 1060.8 2708 1060C2705 1059.2 2702.2 1058.3 2699.3 1057.4C2696.5 1056.5 2693.7 1055.5 2690.9 1054.5C2688.1 1053.6 2685.3 1052.5 2682.6 1051.5C2679.8 1050.5 2677.1 1049.4 2674.3 1048.3C2671.5 1047.3 2668.8 1046.2 2666 1045.1C2663.2 1044 2660.5 1042.9 2657.7 1041.8C2654.9 1040.7 2652.1 1039.6 2649.3 1038.5C2646.5 1037.4 2643.7 1036.2 2640.9 1035.1C2638 1034 2635.2 1032.8 2632.4 1031.7C2629.5 1030.6 2626.6 1029.4 2623.8 1028.3C2620.9 1027.2 2618 1026.1 2615.1 1024.9C2612.2 1023.7 2609.2 1022.6 2606.6 1021.2C2604 1019.8 2601.3 1018.3 2599.3 1016.4C2597.3 1014.5 2594.9 1011.9 2594.6 1009.6Z" fill="#A9C7EE" fill-opacity="0.8" fill-rule="evenodd" stroke="none"/>
<path d="M2594.6 1009.6C2594.4 1007.4 2595.8 1004.8 2597.7 1002.7C2599.6 1000.7 2603.1 998.7 2606 997.3C2608.9 995.9 2612 994.9 2615 994.1C2617.9 993.3 2620.8 993 2623.7 992.7C2626.6 992.5 2629.5 992.5 2632.5 992.6C2635.4 992.6 2638.4 992.7 2641.4 992.9C2644.4 993.1 2647.5 993.3 2650.5 993.7C2653.6 994 2656.7 994.4 2659.7 994.8C2662.7 995.3 2665.8 995.9 2668.8 996.5C2671.8 997.1 2674.7 997.8 2677.6 998.7C2680.5 999.5 2683.4 1000.4 2686.2 1001.4C2688.9 1002.4 2691.6 1003.6 2694.3 1004.8C2697 1006 2699.6 1007.3 2702.2 1008.7C2704.7 1010.1 2707.3 1011.5 2709.8 1013.1C2712.3 1014.7 2714.8 1016.3 2717.4 1018C2719.9 1019.7 2722.4 1021.5 2724.9 1023.3C2727.4 1025.2 2730.1 1027.1 2732.5 1029.1C2735 1031.1 2737.5 1033.1 2739.8 1035.3C2742 1037.5 2744.1 1039.7 2745.7 1042.1C2747.4 1044.5 2748.9 1047.1 2749.7 1049.7C2750.4 1052.3 2751.1 1055.5 2750.2 1057.8C2749.4 1060.1 2747.1 1062.1 2744.7 1063.3C2742.4 1064.5 2739.2 1064.7 2736.1 1064.8C2733.1 1064.9 2729.6 1064.4 2726.4 1063.9C2723.2 1063.5 2720.1 1062.8 2717 1062.2C2713.9 1061.5 2710.9 1060.8 2708 1060C2705 1059.2 2702.2 1058.3 2699.3 1057.4C2696.5 1056.5 2693.7 1055.5 2690.9 1054.5C2688.1 1053.6 2685.3 1052.5 2682.6 1051.5C2679.8 1050.5 2677.1 1049.4 2674.3 1048.3C2671.5 1047.3 2668.8 1046.2 2666 1045.1C2663.2 1044 2660.5 1042.9 2657.7 1041.8C2654.9 1040.7 2652.1 1039.6 2649.3 1038.5C2646.5 1037.4 2643.7 1036.2 2640.9 1035.1C2638 1034 2635.2 1032.8 2632.4 1031.7C2629.5 1030.6 2626.6 1029.4 2623.8 1028.3C2620.9 1027.2 2618 1026.1 2615.1 1024.9C2612.2 1023.7 2609.2 1022.6 2606.6 1021.2C2604 1019.8 2601.3 1018.3 2599.3 1016.4C2597.3 1014.5 2594.9 1011.9 2594.6 1009.6Z" fill="#3A5BB0" fill-opacity="0.8"/>
<path d="M2336.7 1062.7C2336.7 1059.6 2337.1 1056.6 2337.8 1053.7C2338.5 1050.7 2339.6 1047.9 2340.7 1045.1C2341.8 1042.3 2343.1 1039.6 2344.3 1036.8C2345.4 1034 2346.5 1031.2 2347.6 1028.4C2348.6 1025.6 2349.6 1022.8 2350.5 1020C2351.5 1017.1 2352.3 1014.3 2353.2 1011.4C2354.1 1008.6 2355 1005.7 2355.9 1002.9C2356.7 1000 2357.6 997.1 2358.5 994.3C2359.5 991.4 2360.4 988.5 2361.4 985.7C2362.3 982.8 2363.3 979.9 2364.3 977.1C2365.3 974.2 2366.4 971.4 2367.4 968.5C2368.5 965.7 2369.6 962.9 2370.7 960.1C2371.9 957.3 2373.1 954.5 2374.3 951.7C2375.5 948.9 2376.7 946.1 2378 943.4C2379.3 940.7 2380.6 937.9 2382 935.3C2383.3 932.6 2384.7 929.9 2386.2 927.3C2387.6 924.6 2389.1 922 2390.7 919.4C2392.2 916.9 2393.8 914.3 2395.5 911.8C2397.2 909.3 2398.9 906.8 2400.6 904.4C2402.4 901.9 2404.2 899.5 2406 897.2C2407.8 894.8 2409.7 892.4 2411.6 890.1C2413.5 887.7 2415.4 885.4 2417.3 883.1C2419.3 880.8 2421.2 878.5 2423.2 876.2C2425.2 873.9 2427.2 871.7 2429.2 869.4C2431.1 867.1 2433.1 864.9 2435.1 862.6C2437.1 860.3 2439.1 858 2441.1 855.8C2443.1 853.5 2445 851.2 2447 848.9C2448.9 846.6 2450.9 844.3 2452.8 841.9C2454.7 839.6 2456.5 837.3 2458.4 834.9C2460.2 832.5 2462 830.1 2463.8 827.7C2465.5 825.3 2467.3 822.8 2468.9 820.3C2470.6 817.8 2472.2 815.3 2473.7 812.7C2475.3 810.2 2476.7 807.6 2478.1 804.9C2479.5 802.3 2480.9 799.6 2482.1 796.9C2483.4 794.1 2484.5 791.4 2485.6 788.5C2486.6 785.7 2487.4 782.6 2488.6 779.9C2489.7 777.3 2490.8 774.5 2492.6 772.5C2494.5 770.5 2496.9 769.2 2499.6 768C2502.2 766.8 2505.4 766 2508.5 765.5C2511.6 764.9 2515 764.6 2518.2 764.6C2521.5 764.6 2524.9 764.8 2527.9 765.4C2531 766 2534.1 766.9 2536.8 768.1C2539.5 769.3 2542 770.8 2544.4 772.5C2546.7 774.1 2548.9 776.1 2551 778.1C2553.2 780.1 2555.2 782.3 2557.2 784.4C2559.3 786.5 2561.3 788.8 2563.4 790.9C2565.6 793 2567.7 795.1 2570.1 797.1C2572.4 799 2575 800.8 2577.5 802.5C2580 804.3 2582.7 805.8 2585.3 807.5C2587.9 809.2 2590.5 810.8 2593 812.7C2595.4 814.5 2597.8 816.3 2599.9 818.4C2602 820.5 2603.9 822.7 2605.5 825.1C2607.1 827.5 2608.4 830.1 2609.3 832.8C2610.1 835.6 2610.5 838.5 2610.6 841.5C2610.7 844.4 2610.1 847.6 2610.1 850.7C2610.1 853.8 2610 856.8 2610.4 859.8C2610.9 862.8 2611.7 865.6 2612.7 868.5C2613.7 871.3 2615.1 874.1 2616.3 877C2617.5 879.8 2619 882.6 2619.8 885.4C2620.6 888.3 2621.1 891.2 2621.3 894.2C2621.4 897.1 2621 900.2 2620.7 903.2C2620.4 906.2 2619.8 909.3 2619.4 912.3C2619.1 915.3 2618.7 918.3 2618.7 921.3C2618.7 924.3 2619 927.2 2619.5 930.1C2620 933 2620.8 935.9 2621.6 938.7C2622.4 941.6 2623.5 944.4 2624.5 947.3C2625.6 950.2 2626.8 953 2627.9 955.9C2629 958.7 2630.2 961.6 2631.2 964.5C2632.2 967.4 2633.1 970.3 2633.7 973.2C2634.2 976.1 2634.6 979 2634.6 981.9C2634.5 984.8 2634 987.7 2633.3 990.7C2632.7 993.6 2631.5 996.5 2630.5 999.5C2629.5 1002.4 2628.2 1005.4 2627.4 1008.3C2626.5 1011.3 2625.7 1014.2 2625.4 1017.2C2625.1 1020.1 2625.2 1023.1 2625.5 1026C2625.9 1029 2626.7 1031.9 2627.4 1034.9C2628.2 1037.8 2629.3 1040.7 2630.2 1043.6C2631.1 1046.6 2632.2 1049.5 2633 1052.4C2633.9 1055.2 2634.6 1058.1 2635.3 1061C2635.9 1063.9 2636.5 1066.7 2637 1069.6C2637.5 1072.5 2637.9 1075.5 2638.2 1078.4C2638.6 1081.4 2638.9 1084.3 2639.3 1087.4C2639.6 1090.4 2639.9 1093.5 2640.2 1096.6C2640.4 1099.7 2640.7 1102.9 2640.8 1106C2640.8 1109.1 2640.8 1112.3 2640.4 1115.3C2640.1 1118.3 2639.6 1121.3 2638.6 1124.1C2637.7 1126.9 2636.3 1129.6 2634.7 1132.1C2633.1 1134.6 2631 1136.9 2628.8 1139C2626.7 1141 2624.3 1142.9 2621.9 1144.5C2619.5 1146.1 2616.9 1147.4 2614.3 1148.6C2611.6 1149.8 2608.9 1150.8 2606.1 1151.6C2603.2 1152.5 2600.3 1153.1 2597.4 1153.6C2594.4 1154.1 2591.4 1154.5 2588.4 1154.7C2585.3 1155 2582.2 1155.1 2579.1 1155.1C2576.1 1155.2 2572.9 1155.1 2569.8 1155C2566.7 1154.9 2563.6 1154.7 2560.5 1154.5C2557.4 1154.3 2554.4 1154 2551.3 1153.7C2548.3 1153.4 2545.3 1153.1 2542.3 1152.7C2539.3 1152.4 2536.3 1152 2533.3 1151.5C2530.3 1151.1 2527.4 1150.6 2524.4 1150.1C2521.5 1149.7 2518.5 1149.1 2515.6 1148.6C2512.7 1148.1 2509.8 1147.5 2506.8 1146.9C2503.9 1146.3 2501 1145.7 2498.1 1145.1C2495.2 1144.5 2492.3 1143.8 2489.4 1143.1C2486.5 1142.5 2483.6 1141.8 2480.7 1141.1C2477.8 1140.4 2474.9 1139.7 2472 1138.9C2469.1 1138.2 2466.1 1137.5 2463.2 1136.7C2460.3 1136 2457.4 1135.2 2454.5 1134.4C2451.6 1133.6 2448.6 1132.8 2445.7 1132C2442.8 1131.1 2439.9 1130.3 2437 1129.4C2434.1 1128.5 2431.2 1127.6 2428.3 1126.7C2425.4 1125.7 2422.5 1124.8 2419.7 1123.8C2416.8 1122.8 2413.9 1121.8 2411.1 1120.8C2408.2 1119.7 2405.4 1118.7 2402.6 1117.5C2399.8 1116.4 2397 1115.3 2394.2 1114.1C2391.4 1112.9 2388.6 1111.7 2385.9 1110.5C2383.1 1109.2 2380.4 1107.9 2377.7 1106.6C2374.9 1105.3 2372.3 1103.9 2369.6 1102.5C2366.9 1101.1 2364.2 1099.6 2361.7 1098.1C2359.1 1096.6 2356.5 1095 2354.2 1093.2C2351.8 1091.5 2349.5 1089.6 2347.5 1087.5C2345.5 1085.4 2343.6 1083.1 2342.1 1080.6C2340.5 1078 2339.2 1075.1 2338.3 1072.1C2337.4 1069.2 2336.8 1065.8 2336.7 1062.7Z" fill="none" stroke="#D63C0C" stroke-opacity="0.55" stroke-width="2.2"/>
<path d="M2546.7 993.4C2547.2 991 2549.1 988.8 2551.3 986.9C2553.4 985 2556.7 983.3 2559.5 981.8C2562.3 980.2 2565.1 979 2567.8 977.6C2570.5 976.2 2573 974.9 2575.5 973.4C2578.1 971.8 2580.5 970 2583 968.2C2585.4 966.4 2587.9 964.4 2590.3 962.5C2592.8 960.6 2595.3 958.7 2597.8 957C2600.3 955.3 2602.9 953.7 2605.5 952.4C2608.1 951.1 2610.8 950.1 2613.6 949.2C2616.4 948.4 2619.2 947.8 2622.1 947.4C2624.9 947 2627.9 946.8 2630.8 946.8C2633.8 946.7 2636.8 946.9 2639.8 947.1C2642.8 947.4 2645.9 947.8 2648.9 948.2C2652 948.7 2655.1 949.3 2658.2 949.9C2661.2 950.5 2664.3 951.3 2667.4 952C2670.5 952.7 2673.5 953.5 2676.6 954.2C2679.6 955 2682.7 955.8 2685.7 956.5C2688.7 957.2 2691.6 957.9 2694.6 958.7C2697.5 959.4 2700.4 960.2 2703.2 961C2706.1 961.9 2708.8 962.8 2711.6 963.8C2714.3 964.9 2717 966 2719.6 967.3C2722.2 968.6 2724.7 970.1 2727.2 971.7C2729.6 973.4 2732 975.3 2734.3 977.3C2736.6 979.3 2738.9 981.5 2741.1 983.7C2743.3 985.9 2745.4 988.3 2747.6 990.5C2749.7 992.8 2751.8 995.1 2753.8 997.3C2755.9 999.6 2757.9 1001.8 2759.9 1004.1C2761.8 1006.3 2763.8 1008.6 2765.7 1010.9C2767.5 1013.2 2769.4 1015.5 2771.2 1017.8C2773 1020.2 2774.7 1022.6 2776.4 1025C2778.1 1027.5 2779.7 1030 2781.3 1032.6C2782.9 1035.1 2784.4 1037.8 2785.8 1040.5C2787.3 1043.2 2788.7 1046 2790 1048.9C2791.3 1051.8 2792.7 1054.9 2793.7 1057.9C2794.6 1060.9 2795.5 1064 2795.5 1066.8C2795.5 1069.5 2795 1072.3 2793.6 1074.4C2792.3 1076.5 2790 1078.3 2787.5 1079.4C2785 1080.5 2781.8 1081 2778.7 1081.3C2775.6 1081.5 2772 1081.3 2768.8 1081.1C2765.5 1080.8 2762.2 1080.3 2759.2 1079.9C2756.1 1079.4 2753.2 1078.9 2750.3 1078.3C2747.4 1077.7 2744.5 1077.1 2741.6 1076.5C2738.7 1075.8 2735.8 1075.1 2732.9 1074.4C2730 1073.7 2727.1 1072.9 2724.2 1072.1C2721.3 1071.3 2718.4 1070.5 2715.5 1069.6C2712.6 1068.8 2709.7 1067.9 2706.8 1067.1C2703.9 1066.2 2701 1065.3 2698.1 1064.3C2695.2 1063.4 2692.3 1062.5 2689.4 1061.5C2686.5 1060.6 2683.6 1059.7 2680.7 1058.7C2677.8 1057.7 2674.9 1056.8 2672 1055.8C2669.1 1054.9 2666.2 1053.9 2663.4 1053C2660.5 1052 2657.6 1051 2654.7 1050.1C2651.9 1049.1 2649 1048.2 2646.1 1047.2C2643.3 1046.3 2640.4 1045.3 2637.5 1044.4C2634.7 1043.5 2631.8 1042.5 2628.9 1041.6C2626.1 1040.6 2623.2 1039.6 2620.3 1038.7C2617.5 1037.7 2614.6 1036.8 2611.7 1035.8C2608.9 1034.9 2606 1033.9 2603.1 1032.9C2600.2 1031.9 2597.4 1031 2594.5 1030C2591.6 1029 2588.7 1028 2585.9 1027C2583 1025.9 2580.2 1024.8 2577.4 1023.6C2574.6 1022.4 2571.9 1021.1 2569.2 1019.6C2566.6 1018.1 2564 1016.5 2561.6 1014.7C2559.1 1012.8 2556.7 1010.8 2554.5 1008.5C2552.4 1006.2 2549.9 1003.5 2548.6 1001C2547.3 998.5 2546.3 995.7 2546.7 993.4Z" fill="none" stroke="#5570BE" stroke-opacity="0.6" stroke-width="2.2"/>
</g>
<clipPath id="cR11"><rect x="2861.4" y="599" width="588" height="592.7"/></clipPath>
<g clip-path="url(#cR11)">
<path d="M2870 1191.5C2871.6 1191.5 2876.4 1191.5 2879.5 1191.5C2882.6 1191.5 2885.6 1192.4 2888.3 1191.5C2891.1 1190.6 2893.7 1188.2 2895.8 1186.1C2898 1184 2899.8 1181.4 2901.4 1178.9C2902.9 1176.3 2904 1173.6 2905 1170.8C2906.1 1167.9 2906.9 1164.9 2907.7 1162C2908.5 1159 2909.2 1156.1 2909.9 1153.1C2910.6 1150.2 2911.3 1147.2 2911.9 1144.2C2912.6 1141.3 2913.1 1138.3 2913.7 1135.3C2914.3 1132.4 2914.8 1129.4 2915.3 1126.4C2915.8 1123.4 2916.3 1120.5 2916.8 1117.5C2917.2 1114.5 2917.7 1111.5 2918.1 1108.6C2918.5 1105.6 2918.9 1102.6 2919.3 1099.6C2919.7 1096.6 2920.1 1093.7 2920.5 1090.7C2920.8 1087.7 2921.2 1084.7 2921.6 1081.7C2921.9 1078.7 2922.3 1075.8 2922.6 1072.8C2923 1069.8 2923.3 1066.8 2923.7 1063.8C2924 1060.8 2924.3 1057.8 2924.6 1054.8C2925 1051.9 2925.3 1048.9 2925.6 1045.9C2925.9 1042.9 2926.2 1039.9 2926.5 1036.9C2926.8 1033.9 2927.1 1030.9 2927.4 1027.9C2927.7 1024.9 2928 1021.9 2928.2 1018.9C2928.5 1015.9 2928.8 1012.9 2929.1 1010C2929.3 1007 2929.6 1004 2929.9 1001C2930.1 998 2930.4 995 2930.6 992C2930.9 989 2931.2 986 2931.4 983C2931.7 980 2931.9 977 2932.1 974C2932.4 971 2932.6 968 2932.9 965C2933.1 962 2933.3 959 2933.6 956C2933.8 953 2934 950 2934.3 947C2934.5 944 2934.7 941 2934.9 938C2935.2 934.9 2935.4 931.9 2935.6 928.9C2935.8 925.9 2936.1 922.9 2936.3 919.9C2936.5 916.9 2936.7 913.9 2936.9 910.9C2937.1 907.9 2937.4 904.9 2937.6 901.9C2937.8 898.9 2938 895.9 2938.2 892.9C2938.4 889.9 2938.7 886.9 2938.9 883.9C2939.1 880.9 2939.3 877.9 2939.5 874.8C2939.7 871.8 2940 868.8 2940.2 865.8C2940.4 862.8 2940.6 859.8 2940.8 856.8C2941 853.8 2941.3 850.8 2941.5 847.8C2941.7 844.8 2941.9 841.8 2942.2 838.8C2942.4 835.8 2942.6 832.8 2942.9 829.8C2943.1 826.7 2943.3 823.7 2943.5 820.7C2943.8 817.7 2944 814.7 2944.3 811.7C2944.5 808.7 2944.8 805.7 2945 802.7C2945.3 799.7 2945.5 796.7 2945.8 793.7C2946 790.7 2946.3 787.7 2946.6 784.7C2946.8 781.7 2947.1 778.7 2947.4 775.7C2947.6 772.7 2947.9 769.7 2948.2 766.7C2948.5 763.7 2948.8 760.7 2949.1 757.7C2949.4 754.8 2949.7 751.8 2950 748.8C2950.3 745.8 2950.7 742.8 2951 739.8C2951.3 736.8 2951.7 733.9 2952 730.9C2952.3 727.9 2952.7 724.9 2953.1 721.9C2953.4 719 2953.8 716 2954.2 713C2954.5 710.1 2954.9 707.1 2955.3 704.1C2955.7 701.2 2956.1 698.2 2956.6 695.2C2957 692.3 2957.4 689.3 2957.8 686.4C2958.3 683.4 2958.7 680.5 2959.3 677.5C2959.8 674.6 2960.2 671.7 2961 668.7C2961.7 665.7 2962.4 662.3 2963.8 659.6C2965.2 656.9 2967.3 652.4 2969.1 652.3C2970.9 652.2 2973.1 656.4 2974.6 659C2976 661.7 2977.1 665.3 2977.9 668.3C2978.8 671.2 2979.2 674.1 2979.7 677C2980.2 679.9 2980.5 682.7 2980.9 685.6C2981.4 688.4 2981.9 691.3 2982.4 694.3C2983 697.2 2983.7 700.2 2984.3 703.1C2984.9 706.1 2985.5 709.1 2986.1 712.1C2986.6 715.1 2987.1 718 2987.7 721C2988.2 724 2988.6 727 2989.1 729.9C2989.6 732.9 2990 735.9 2990.5 738.9C2990.9 741.9 2991.4 744.8 2991.9 747.8C2992.3 750.8 2992.8 753.7 2993.3 756.7C2993.7 759.7 2994.2 762.7 2994.7 765.6C2995.2 768.6 2995.7 771.6 2996.2 774.5C2996.7 777.5 2997.2 780.4 2997.8 783.4C2998.3 786.4 2998.8 789.3 2999.4 792.3C2999.9 795.2 3000.5 798.2 3001 801.2C3001.6 804.1 3002.1 807.1 3002.7 810C3003.2 813 3003.8 815.9 3004.4 818.9C3004.9 821.9 3005.5 824.8 3006.1 827.8C3006.7 830.7 3007.3 833.7 3007.8 836.6C3008.4 839.6 3009 842.6 3009.6 845.5C3010.2 848.5 3010.8 851.4 3011.5 854.4C3012.1 857.3 3012.7 860.3 3013.4 863.2C3014 866.2 3014.7 869.1 3015.4 872C3016.1 875 3016.8 877.9 3017.5 880.8C3018.2 883.7 3019 886.6 3019.8 889.5C3020.6 892.5 3021.4 895.3 3022.2 898.2C3023.1 901.1 3024 904 3024.9 906.8C3025.8 909.7 3026.8 912.5 3027.8 915.4C3028.8 918.2 3029.8 921 3030.9 923.8C3032 926.7 3033.1 929.4 3034.3 932.2C3035.4 935 3036.6 937.8 3037.8 940.6C3039 943.3 3040.2 946.1 3041.5 948.8C3042.7 951.6 3044 954.3 3045.3 957C3046.6 959.8 3047.9 962.5 3049.2 965.2C3050.5 967.9 3051.9 970.6 3053.2 973.3C3054.5 976 3055.9 978.7 3057.2 981.4C3058.6 984.1 3059.9 986.8 3061.3 989.5C3062.6 992.2 3064 994.8 3065.3 997.5C3066.7 1000.2 3068.1 1002.9 3069.4 1005.5C3070.8 1008.2 3072.2 1010.9 3073.6 1013.5C3075 1016.2 3076.4 1018.8 3077.8 1021.5C3079.2 1024.1 3080.7 1026.7 3082.1 1029.3C3083.6 1032 3085 1034.6 3086.5 1037.2C3088 1039.8 3089.5 1042.4 3091 1045C3092.6 1047.6 3094.1 1050.2 3095.7 1052.7C3097.2 1055.3 3098.8 1057.9 3100.4 1060.4C3102.1 1063 3103.7 1065.5 3105.4 1068C3107 1070.6 3108.7 1073.1 3110.5 1075.6C3112.2 1078.1 3114 1080.6 3115.8 1083C3117.6 1085.5 3119.4 1087.9 3121.3 1090.3C3123.1 1092.7 3125 1095 3127 1097.3C3128.9 1099.7 3130.9 1101.9 3132.9 1104.2C3135 1106.4 3137 1108.6 3139.2 1110.7C3141.3 1112.8 3143.5 1114.9 3145.7 1116.9C3147.9 1118.9 3150.1 1120.9 3152.5 1122.7C3154.8 1124.6 3157.1 1126.5 3159.5 1128.2C3161.9 1130 3164.3 1131.7 3166.8 1133.4C3169.3 1135 3171.8 1136.6 3174.4 1138.2C3176.9 1139.8 3179.5 1141.3 3182.1 1142.7C3184.7 1144.2 3187.4 1145.6 3190.1 1146.9C3192.8 1148.3 3195.5 1149.6 3198.2 1150.8C3200.9 1152.1 3203.7 1153.3 3206.5 1154.4C3209.3 1155.6 3212.1 1156.7 3214.9 1157.8C3217.7 1158.9 3220.6 1159.9 3223.4 1160.9C3226.3 1161.9 3229.2 1162.8 3232.1 1163.7C3235 1164.6 3237.9 1165.5 3240.8 1166.3C3243.7 1167.2 3246.7 1167.9 3249.6 1168.7C3252.5 1169.5 3255.5 1170.2 3258.4 1170.9C3261.4 1171.6 3264.3 1172.2 3267.3 1172.8C3270.2 1173.5 3273.2 1174.1 3276.2 1174.6C3279.1 1175.2 3282.1 1175.7 3285 1176.2C3288 1176.7 3290.9 1177.2 3293.9 1177.7C3296.8 1178.1 3299.8 1178.6 3302.8 1179C3305.7 1179.4 3308.7 1179.8 3311.6 1180.2C3314.6 1180.6 3317.6 1181 3320.5 1181.4C3323.5 1181.7 3326.5 1182.1 3329.4 1182.5C3332.4 1182.8 3335.4 1183.1 3338.4 1183.5C3341.3 1183.9 3344.3 1184.3 3347.3 1184.7C3350.3 1185.2 3353.3 1185.6 3356.3 1186.1C3359.3 1186.5 3362.3 1186.9 3365.3 1187.3C3368.3 1187.8 3371.3 1188.2 3374.3 1188.6C3377.3 1189 3380.3 1189.4 3383.3 1189.7C3386.3 1190.1 3389.3 1190.4 3392.3 1190.7C3395.3 1191 3398.4 1191.4 3401.4 1191.5C3404.4 1191.6 3407.4 1191.5 3410.4 1191.5C3413.4 1191.5 3416.4 1191.5 3419.4 1191.5C3422.5 1191.5 3425.5 1191.5 3428.5 1191.5C3431.5 1191.5 3434.5 1191.5 3437.5 1191.5C3440.5 1191.5 3445 1191.5 3446.5 1191.5" fill="none" stroke="#D1392B" stroke-width="3.3" stroke-linejoin="round"/>
<path d="M2935 1191.5C2936.4 1191.4 2940.3 1190.6 2943.4 1190.6C2946.5 1190.6 2950.5 1191.8 2953.6 1191.5C2956.7 1191.2 2959.7 1190.7 2962 1189C2964.3 1187.2 2965.9 1183.8 2967.5 1181.2C2969.1 1178.5 2970.4 1175.9 2971.6 1173.2C2972.7 1170.5 2973.7 1167.6 2974.6 1164.8C2975.5 1162 2976.2 1159.1 2976.9 1156.2C2977.5 1153.3 2978.1 1150.3 2978.6 1147.3C2979.1 1144.4 2979.6 1141.4 2980 1138.4C2980.4 1135.4 2980.8 1132.4 2981.3 1129.4C2981.7 1126.4 2982.1 1123.4 2982.5 1120.4C2982.8 1117.4 2983.2 1114.4 2983.6 1111.4C2984 1108.4 2984.3 1105.5 2984.7 1102.5C2985 1099.5 2985.4 1096.5 2985.7 1093.5C2986.1 1090.5 2986.4 1087.5 2986.7 1084.5C2987 1081.5 2987.4 1078.5 2987.7 1075.5C2988 1072.5 2988.3 1069.6 2988.6 1066.6C2988.9 1063.6 2989.1 1060.6 2989.4 1057.6C2989.7 1054.6 2990 1051.6 2990.3 1048.6C2990.5 1045.6 2990.8 1042.6 2991 1039.6C2991.3 1036.6 2991.6 1033.7 2991.8 1030.7C2992.1 1027.7 2992.3 1024.7 2992.5 1021.7C2992.8 1018.7 2993 1015.7 2993.2 1012.7C2993.5 1009.7 2993.7 1006.7 2993.9 1003.7C2994.1 1000.7 2994.3 997.7 2994.6 994.8C2994.8 991.8 2995 988.8 2995.2 985.8C2995.4 982.8 2995.6 979.8 2995.8 976.8C2996 973.8 2996.2 970.8 2996.4 967.8C2996.6 964.8 2996.8 961.8 2997 958.8C2997.2 955.8 2997.4 952.8 2997.6 949.8C2997.8 946.8 2998 943.8 2998.2 940.8C2998.3 937.8 2998.5 934.8 2998.7 931.8C2998.9 928.8 2999.1 925.8 2999.3 922.8C2999.4 919.8 2999.6 916.8 2999.8 913.8C3000 910.8 3000.2 907.8 3000.4 904.8C3000.5 901.8 3000.7 898.8 3000.9 895.8C3001.1 892.8 3001.2 889.8 3001.4 886.8C3001.6 883.8 3001.8 880.8 3001.9 877.8C3002.1 874.8 3002.3 871.8 3002.5 868.8C3002.6 865.8 3002.8 862.8 3003 859.8C3003.1 856.8 3003.3 853.8 3003.5 850.8C3003.7 847.8 3003.8 844.8 3004 841.8C3004.2 838.8 3004.3 835.8 3004.5 832.8C3004.7 829.8 3004.8 826.8 3005 823.8C3005.2 820.8 3005.4 817.8 3005.5 814.8C3005.7 811.8 3005.9 808.8 3006 805.8C3006.2 802.8 3006.4 799.8 3006.5 796.8C3006.7 793.8 3006.9 790.8 3007.1 787.8C3007.2 784.8 3007.4 781.8 3007.6 778.8C3007.7 775.8 3007.9 772.8 3008.1 769.8C3008.3 766.8 3008.4 763.8 3008.6 760.8C3008.8 757.8 3009 754.8 3009.1 751.8C3009.3 748.8 3009.5 745.8 3009.7 742.8C3009.9 739.8 3010 736.8 3010.2 733.8C3010.4 730.8 3010.6 727.8 3010.8 724.8C3011 721.8 3011.2 718.8 3011.5 715.8C3011.7 712.8 3012 709.8 3012.2 706.8C3012.5 703.8 3012.8 700.8 3013.1 697.9C3013.4 694.9 3013.7 691.9 3014 688.9C3014.3 685.9 3014.7 683 3015 680.1C3015.3 677.2 3015.4 674.4 3015.8 671.5C3016.2 668.5 3016.5 665.5 3017.5 662.4C3018.4 659.3 3020 653.8 3021.4 652.9C3022.8 652.1 3024.6 655 3025.8 657.5C3027.1 659.9 3028.1 664.5 3028.9 667.8C3029.7 671.1 3030.2 674.1 3030.7 677.1C3031.2 680 3031.4 682.8 3031.7 685.7C3032 688.5 3032.1 691.2 3032.3 694C3032.5 696.8 3032.7 699.6 3033 702.4C3033.2 705.3 3033.5 708.2 3033.8 711.2C3034 714.1 3034.4 717.1 3034.7 720.1C3035 723.1 3035.3 726.2 3035.7 729.2C3036 732.3 3036.4 735.3 3036.7 738.4C3037 741.4 3037.4 744.5 3037.7 747.5C3038 750.5 3038.3 753.6 3038.6 756.6C3038.9 759.6 3039.2 762.6 3039.5 765.6C3039.8 768.6 3040.1 771.6 3040.3 774.6C3040.6 777.6 3040.9 780.6 3041.1 783.6C3041.4 786.6 3041.6 789.6 3041.9 792.6C3042.1 795.5 3042.4 798.5 3042.6 801.5C3042.8 804.5 3043.1 807.5 3043.3 810.4C3043.5 813.4 3043.8 816.4 3044 819.4C3044.2 822.3 3044.4 825.3 3044.6 828.3C3044.8 831.3 3045.1 834.3 3045.3 837.3C3045.5 840.2 3045.7 843.2 3045.9 846.2C3046.1 849.2 3046.3 852.2 3046.5 855.2C3046.7 858.2 3046.9 861.2 3047.1 864.2C3047.3 867.2 3047.5 870.2 3047.8 873.2C3048 876.2 3048.2 879.2 3048.4 882.2C3048.6 885.2 3048.8 888.2 3049 891.2C3049.2 894.2 3049.4 897.2 3049.6 900.2C3049.9 903.2 3050.1 906.2 3050.3 909.2C3050.5 912.2 3050.7 915.2 3051 918.2C3051.2 921.2 3051.4 924.2 3051.6 927.2C3051.9 930.2 3052.1 933.2 3052.4 936.2C3052.6 939.2 3052.8 942.2 3053.1 945.2C3053.4 948.2 3053.6 951.2 3053.9 954.2C3054.1 957.2 3054.4 960.2 3054.7 963.2C3055 966.2 3055.2 969.2 3055.5 972.2C3055.8 975.2 3056.1 978.2 3056.4 981.2C3056.7 984.2 3057 987.2 3057.3 990.1C3057.7 993.1 3058 996.1 3058.3 999.1C3058.6 1002.1 3059 1005.1 3059.3 1008.1C3059.6 1011 3060 1014 3060.4 1017C3060.7 1020 3061.1 1023 3061.4 1025.9C3061.8 1028.9 3062.2 1031.9 3062.6 1034.9C3063 1037.8 3063.4 1040.8 3063.8 1043.8C3064.2 1046.7 3064.6 1049.7 3065 1052.7C3065.5 1055.6 3065.9 1058.6 3066.4 1061.5C3066.8 1064.5 3067.3 1067.5 3067.8 1070.4C3068.3 1073.4 3068.8 1076.3 3069.4 1079.3C3069.9 1082.2 3070.4 1085.2 3071 1088.1C3071.6 1091.1 3072.2 1094 3072.9 1097C3073.5 1099.9 3074.2 1102.8 3074.9 1105.8C3075.6 1108.7 3076.3 1111.7 3077 1114.6C3077.8 1117.5 3078.6 1120.5 3079.4 1123.4C3080.2 1126.3 3081.1 1129.2 3082 1132.1C3082.9 1135 3083.9 1137.9 3085 1140.7C3086.1 1143.5 3087.2 1146.3 3088.5 1149C3089.8 1151.7 3091.2 1154.3 3092.7 1156.9C3094.3 1159.4 3095.9 1161.9 3097.7 1164.3C3099.5 1166.6 3101.5 1168.9 3103.6 1171C3105.8 1173.1 3108 1175.1 3110.4 1176.9C3112.8 1178.7 3115.3 1180.3 3117.9 1181.8C3120.6 1183.3 3123.3 1184.7 3126.1 1185.9C3128.9 1187 3131.8 1188 3134.8 1188.8C3137.7 1189.5 3140.8 1189.9 3143.8 1190.3C3146.8 1190.6 3149.9 1190.7 3153 1190.8C3156.1 1190.9 3159.2 1190.9 3162.2 1191C3165.3 1191 3168.3 1191.1 3171.3 1191.2C3174.2 1191.3 3178.5 1191.4 3180 1191.5" fill="none" stroke="#0A6CE0" stroke-width="3.3" stroke-linejoin="round"/>
</g>
<clipPath id="cR20"><rect x="2273.4" y="1191.7" width="588" height="592.8"/></clipPath>
<g clip-path="url(#cR20)">
<path d="M2339.7 1290.6C2340.2 1287.7 2341 1284.8 2342.1 1282C2343.1 1279.2 2344.4 1276.4 2346 1273.8C2347.5 1271.2 2349.2 1268.6 2351.2 1266.3C2353.1 1264 2355.2 1261.9 2357.5 1260C2359.8 1258.1 2362.2 1256.5 2364.7 1254.9C2367.3 1253.4 2370 1252.1 2372.7 1250.9C2375.5 1249.7 2378.3 1248.6 2381.2 1247.7C2384.1 1246.7 2387.1 1245.8 2390.1 1245C2393 1244.2 2396.1 1243.5 2399 1242.8C2402 1242.1 2405 1241.5 2408 1240.9C2411 1240.3 2414 1239.7 2416.9 1239.1C2419.9 1238.6 2422.9 1238.1 2425.8 1237.6C2428.8 1237.2 2431.7 1236.8 2434.7 1236.4C2437.7 1236 2440.6 1235.6 2443.6 1235.3C2446.5 1235 2449.5 1234.7 2452.5 1234.4C2455.4 1234.2 2458.4 1234 2461.3 1233.8C2464.3 1233.6 2467.3 1233.4 2470.2 1233.3C2473.2 1233.2 2476.2 1233.1 2479.2 1233.1C2482.1 1233 2485.1 1233 2488.1 1233C2491.1 1233 2494.1 1233.1 2497.1 1233.1C2500.1 1233.2 2503.1 1233.3 2506.1 1233.4C2509.2 1233.5 2512.2 1233.6 2515.2 1233.8C2518.2 1233.9 2521.2 1234.1 2524.2 1234.3C2527.3 1234.5 2530.3 1234.7 2533.3 1234.9C2536.3 1235.1 2539.3 1235.3 2542.3 1235.5C2545.4 1235.7 2548.4 1235.9 2551.4 1236.2C2554.4 1236.4 2557.4 1236.7 2560.4 1237C2563.3 1237.3 2566.3 1237.7 2569.3 1238.1C2572.2 1238.5 2575.2 1239 2578.1 1239.6C2581 1240.3 2583.9 1240.9 2586.7 1241.8C2589.6 1242.6 2592.5 1243.6 2595.3 1244.7C2598.1 1245.8 2600.9 1247 2603.5 1248.4C2606.2 1249.8 2608.9 1251.4 2611.3 1253.1C2613.8 1254.9 2616.2 1256.8 2618.3 1258.9C2620.4 1261 2622.3 1263.2 2623.9 1265.7C2625.6 1268.1 2626.9 1270.8 2628 1273.6C2629.2 1276.3 2630 1279.3 2630.9 1282.2C2631.7 1285.1 2632.4 1288.1 2633.1 1291.1C2633.7 1294.1 2634.3 1297.1 2634.9 1300C2635.4 1303 2635.8 1306 2636.2 1309C2636.5 1312 2636.8 1315 2637 1318C2637.2 1321 2637.3 1323.9 2637.4 1326.9C2637.4 1329.9 2637.3 1332.9 2637.2 1335.9C2637 1338.8 2636.8 1341.8 2636.5 1344.8C2636.1 1347.7 2635.7 1350.7 2635.1 1353.6C2634.6 1356.6 2633.9 1359.5 2633.1 1362.4C2632.4 1365.3 2631.5 1368.2 2630.5 1371.1C2629.6 1374 2628.3 1376.8 2627.5 1379.7C2626.7 1382.6 2625.8 1385.4 2625.4 1388.4C2625.1 1391.3 2625.3 1394.3 2625.6 1397.2C2625.9 1400.2 2626.8 1403.2 2627.4 1406.2C2628.1 1409.2 2628.8 1412.2 2629.4 1415.1C2629.9 1418.1 2630.3 1421 2630.6 1424C2630.8 1427 2631 1429.9 2631 1432.8C2631 1435.8 2630.8 1438.8 2630.5 1441.7C2630.3 1444.7 2629.9 1447.7 2629.4 1450.6C2628.9 1453.6 2628.4 1456.6 2627.7 1459.5C2627.1 1462.5 2626.5 1465.5 2625.8 1468.4C2625.1 1471.4 2624.3 1474.4 2623.6 1477.3C2622.9 1480.3 2622.2 1483.2 2621.5 1486.1C2620.8 1489.1 2620.1 1492 2619.5 1494.9C2618.9 1497.8 2618.3 1500.7 2617.8 1503.6C2617.3 1506.5 2616.8 1509.4 2616.4 1512.3C2616 1515.2 2615.6 1518.1 2615.3 1521.1C2615 1524 2614.7 1527 2614.5 1530C2614.3 1533 2614.1 1536 2613.9 1539C2613.8 1542.1 2613.7 1545.1 2613.7 1548.3C2613.6 1551.4 2613.7 1554.6 2613.6 1557.8C2613.5 1560.9 2613.6 1564.2 2613.1 1567.1C2612.7 1570 2612.1 1572.9 2610.9 1575.4C2609.7 1577.8 2608 1579.9 2605.9 1581.8C2603.9 1583.7 2601.2 1585.2 2598.6 1586.7C2595.9 1588.2 2592.9 1589.4 2590.1 1590.8C2587.3 1592.2 2584.4 1593.5 2581.8 1595C2579.1 1596.5 2576.5 1598 2574.4 1599.9C2572.2 1601.8 2570.3 1603.8 2568.9 1606.3C2567.5 1608.8 2566.7 1611.9 2566 1614.9C2565.2 1617.9 2565.2 1621.5 2564.3 1624.4C2563.4 1627.2 2562.2 1629.9 2560.5 1631.9C2558.8 1633.8 2556.7 1635.2 2554.2 1636C2551.8 1636.7 2548.8 1636.7 2545.8 1636.4C2542.9 1636 2539.6 1635.1 2536.5 1634C2533.5 1632.9 2530.4 1631.5 2527.5 1630C2524.7 1628.5 2522 1626.9 2519.4 1625.1C2516.9 1623.4 2514.5 1621.5 2512.3 1619.6C2510 1617.6 2507.8 1615.6 2505.8 1613.4C2503.7 1611.3 2501.8 1609.1 2499.9 1606.8C2498 1604.5 2496.2 1602.2 2494.4 1599.8C2492.6 1597.4 2490.9 1595 2489.2 1592.6C2487.5 1590.1 2485.9 1587.7 2484.2 1585.2C2482.5 1582.7 2480.8 1580.3 2479.1 1577.8C2477.4 1575.4 2475.8 1572.9 2474.1 1570.5C2472.4 1568 2470.7 1565.5 2469 1563.1C2467.3 1560.6 2465.6 1558.2 2463.9 1555.7C2462.1 1553.3 2460.4 1550.8 2458.7 1548.4C2457 1545.9 2455.3 1543.5 2453.6 1541C2451.8 1538.6 2450.1 1536.1 2448.4 1533.7C2446.7 1531.2 2444.9 1528.8 2443.2 1526.3C2441.5 1523.8 2439.7 1521.4 2438 1518.9C2436.3 1516.5 2434.5 1514 2432.8 1511.5C2431.1 1509.1 2429.3 1506.6 2427.6 1504.1C2425.9 1501.7 2424.1 1499.2 2422.4 1496.7C2420.7 1494.2 2419 1491.7 2417.2 1489.3C2415.5 1486.8 2413.8 1484.3 2412.2 1481.8C2410.5 1479.2 2408.8 1476.7 2407.2 1474.2C2405.5 1471.7 2403.9 1469.1 2402.3 1466.6C2400.7 1464 2399.1 1461.5 2397.6 1458.9C2396.1 1456.3 2394.6 1453.7 2393.1 1451.1C2391.7 1448.5 2390.2 1445.9 2388.9 1443.2C2387.5 1440.6 2386.2 1437.9 2384.9 1435.3C2383.6 1432.6 2382.4 1429.9 2381.2 1427.2C2380 1424.5 2378.8 1421.7 2377.7 1419C2376.6 1416.2 2375.5 1413.5 2374.5 1410.7C2373.4 1407.9 2372.4 1405.1 2371.4 1402.3C2370.3 1399.5 2369.4 1396.7 2368.4 1393.9C2367.4 1391.1 2366.4 1388.2 2365.4 1385.4C2364.5 1382.5 2363.5 1379.7 2362.5 1376.8C2361.6 1374 2360.6 1371.1 2359.6 1368.2C2358.6 1365.4 2357.6 1362.5 2356.6 1359.6C2355.6 1356.8 2354.6 1353.9 2353.5 1351C2352.4 1348.1 2351.3 1345.2 2350.2 1342.4C2349.2 1339.5 2348 1336.6 2346.9 1333.7C2345.9 1330.9 2344.8 1328 2343.8 1325.1C2342.9 1322.2 2342 1319.3 2341.3 1316.5C2340.6 1313.6 2339.9 1310.7 2339.5 1307.8C2339.1 1304.9 2338.9 1302.1 2338.9 1299.2C2338.9 1296.3 2339.1 1293.4 2339.7 1290.6Z" fill="#F4ADA7"/>
<path d="M2387.6 1302C2387.6 1299.2 2388.1 1296.4 2389 1293.7C2389.8 1291 2391.1 1288.4 2392.7 1285.9C2394.2 1283.4 2396.1 1281 2398.2 1278.8C2400.2 1276.7 2402.6 1274.7 2405 1272.9C2407.4 1271.1 2410.1 1269.6 2412.8 1268.2C2415.5 1266.8 2418.3 1265.6 2421.2 1264.5C2424.1 1263.5 2427.2 1262.6 2430.2 1261.8C2433.2 1261 2436.3 1260.3 2439.3 1259.8C2442.4 1259.2 2445.5 1258.7 2448.5 1258.3C2451.6 1257.9 2454.6 1257.6 2457.6 1257.3C2460.5 1257 2463.5 1256.8 2466.5 1256.6C2469.4 1256.4 2472.4 1256.3 2475.3 1256.2C2478.3 1256.1 2481.2 1256.1 2484.1 1256.1C2487.1 1256 2490 1256.1 2493 1256.1C2496 1256.2 2499 1256.3 2502 1256.4C2505 1256.5 2508 1256.6 2511.1 1256.7C2514.1 1256.9 2517.2 1257.1 2520.3 1257.3C2523.4 1257.6 2526.4 1257.9 2529.5 1258.3C2532.5 1258.7 2535.6 1259.2 2538.6 1259.8C2541.6 1260.5 2544.6 1261.2 2547.5 1262.1C2550.4 1263 2553.3 1264 2556.1 1265.2C2558.8 1266.4 2561.6 1267.8 2564.2 1269.4C2566.7 1270.9 2569.2 1272.7 2571.5 1274.6C2573.7 1276.5 2575.9 1278.6 2577.7 1280.8C2579.5 1283.1 2581.1 1285.6 2582.4 1288.2C2583.7 1290.8 2584.7 1293.6 2585.5 1296.4C2586.4 1299.3 2586.9 1302.3 2587.3 1305.3C2587.6 1308.3 2587.8 1311.5 2587.8 1314.5C2587.7 1317.6 2587.5 1320.7 2587.2 1323.7C2586.9 1326.7 2586.4 1329.7 2585.8 1332.6C2585.2 1335.6 2584.5 1338.5 2583.7 1341.3C2582.9 1344.2 2582 1347 2581.1 1349.9C2580.1 1352.7 2579.1 1355.5 2578 1358.3C2576.9 1361.1 2575.8 1363.9 2574.7 1366.7C2573.6 1369.5 2572.4 1372.2 2571.2 1375C2570.1 1377.9 2568.9 1380.7 2567.8 1383.5C2566.7 1386.3 2565.6 1389.2 2564.6 1392.1C2563.5 1394.9 2562.6 1397.9 2561.6 1400.8C2560.6 1403.7 2559.8 1406.7 2558.8 1409.6C2557.8 1412.5 2556.8 1415.4 2555.7 1418.2C2554.5 1421.1 2553.4 1423.9 2552 1426.6C2550.6 1429.3 2549.1 1431.9 2547.4 1434.4C2545.7 1436.9 2543.8 1439.3 2541.7 1441.5C2539.6 1443.6 2537.3 1445.6 2534.9 1447.2C2532.5 1448.8 2529.9 1450.2 2527.2 1451.1C2524.6 1452.1 2521.7 1452.7 2518.9 1453C2516 1453.3 2513.1 1453.2 2510.3 1452.8C2507.4 1452.4 2504.5 1451.6 2501.8 1450.5C2499 1449.5 2496.3 1448.1 2493.7 1446.5C2491.1 1445 2488.5 1443.1 2486 1441.2C2483.5 1439.3 2481.1 1437.2 2478.8 1435.1C2476.4 1433 2474.2 1430.8 2472 1428.6C2469.8 1426.4 2467.7 1424.2 2465.7 1422C2463.7 1419.7 2461.7 1417.4 2459.8 1415.1C2457.8 1412.8 2456 1410.5 2454.1 1408.1C2452.3 1405.8 2450.5 1403.4 2448.7 1401C2446.9 1398.6 2445.2 1396.2 2443.5 1393.8C2441.7 1391.4 2440 1389 2438.3 1386.6C2436.6 1384.1 2434.9 1381.7 2433.2 1379.3C2431.4 1376.8 2429.7 1374.4 2427.9 1371.9C2426.2 1369.5 2424.4 1367.1 2422.6 1364.6C2420.8 1362.2 2418.9 1359.8 2417.1 1357.4C2415.2 1354.9 2413.4 1352.5 2411.5 1350C2409.7 1347.6 2407.9 1345.1 2406.1 1342.6C2404.3 1340.1 2402.6 1337.6 2400.9 1335C2399.2 1332.4 2397.6 1329.8 2396.1 1327.1C2394.6 1324.4 2393.1 1321.7 2391.9 1318.9C2390.6 1316.1 2389.5 1313.3 2388.8 1310.5C2388 1307.7 2387.6 1304.8 2387.6 1302Z" fill="#E03424" stroke="#E03424" stroke-width="1.2"/>
<path d="M2548.2 1484.8C2548.2 1482.2 2549.1 1479.3 2550.5 1476.7C2551.8 1474.1 2554.1 1471.3 2556.4 1469C2558.6 1466.7 2561.4 1464.6 2564 1462.8C2566.6 1461.1 2569.3 1459.9 2572 1458.7C2574.7 1457.4 2577.4 1456.5 2580.2 1455.4C2583 1454.4 2585.8 1453.3 2588.6 1452.3C2591.5 1451.2 2594.4 1450.2 2597.3 1449.2C2600.2 1448.2 2603.1 1447.2 2606.1 1446.2C2609 1445.3 2612 1444.4 2614.9 1443.5C2617.8 1442.7 2620.8 1441.8 2623.7 1441.1C2626.7 1440.3 2629.6 1439.6 2632.6 1438.9C2635.5 1438.3 2638.5 1437.6 2641.4 1437.1C2644.4 1436.5 2647.3 1435.9 2650.3 1435.4C2653.2 1434.9 2656.2 1434.4 2659.1 1434C2662.1 1433.6 2665.1 1433.2 2668 1432.8C2671 1432.4 2674 1432 2677 1431.7C2680 1431.4 2683 1431.1 2686 1430.8C2689 1430.5 2692.1 1430.2 2695.1 1430C2698.2 1429.7 2701.2 1429.5 2704.3 1429.2C2707.4 1429 2710.4 1428.8 2713.5 1428.6C2716.6 1428.5 2719.7 1428.3 2722.8 1428.2C2725.9 1428.2 2729 1428.1 2732.1 1428.2C2735.1 1428.3 2738.2 1428.4 2741.2 1428.6C2744.3 1428.9 2747.3 1429.2 2750.3 1429.6C2753.2 1430.1 2756.2 1430.6 2759.1 1431.3C2762 1432 2764.9 1432.9 2767.7 1433.9C2770.6 1434.9 2773.4 1436 2776.1 1437.3C2778.8 1438.7 2781.5 1440.1 2783.9 1441.9C2786.2 1443.7 2788.4 1445.6 2790 1448C2791.5 1450.3 2792.7 1453 2793.2 1455.9C2793.7 1458.8 2793.6 1462.2 2793.2 1465.4C2792.9 1468.6 2792 1472 2791 1475.1C2790.1 1478.1 2788.8 1481 2787.5 1483.8C2786.1 1486.5 2784.6 1489.1 2783 1491.5C2781.4 1494 2779.6 1496.3 2777.8 1498.6C2775.9 1500.9 2774 1503.1 2772 1505.3C2770.1 1507.6 2768 1509.8 2766 1512C2764 1514.3 2761.9 1516.6 2759.8 1518.9C2757.7 1521.1 2755.6 1523.5 2753.3 1525.6C2751.1 1527.8 2748.9 1529.9 2746.5 1531.8C2744.2 1533.7 2741.7 1535.5 2739.2 1537.2C2736.7 1538.8 2734.1 1540.3 2731.4 1541.7C2728.7 1543 2726 1544.2 2723.2 1545.3C2720.4 1546.4 2717.6 1547.3 2714.7 1548.1C2711.8 1549 2708.9 1549.7 2705.9 1550.2C2702.9 1550.8 2699.9 1551.3 2696.9 1551.7C2693.9 1552.1 2690.8 1552.4 2687.8 1552.5C2684.7 1552.7 2681.6 1552.8 2678.6 1552.8C2675.5 1552.8 2672.4 1552.8 2669.4 1552.6C2666.3 1552.5 2663.3 1552.2 2660.2 1551.9C2657.2 1551.6 2654.2 1551.2 2651.2 1550.7C2648.1 1550.2 2645.2 1549.7 2642.2 1549C2639.2 1548.4 2636.3 1547.7 2633.3 1546.9C2630.4 1546.1 2627.5 1545.2 2624.7 1544.2C2621.8 1543.3 2619 1542.2 2616.2 1541.1C2613.4 1540 2610.6 1538.8 2607.9 1537.5C2605.2 1536.2 2602.5 1534.8 2599.9 1533.4C2597.3 1531.9 2594.7 1530.4 2592.2 1528.8C2589.7 1527.1 2587.2 1525.5 2584.8 1523.7C2582.3 1521.9 2580 1520.1 2577.6 1518.1C2575.3 1516.2 2573 1514.2 2570.7 1512.2C2568.3 1510.1 2566 1508 2563.7 1505.9C2561.4 1503.7 2558.8 1501.5 2556.7 1499.3C2554.5 1497 2552.2 1494.7 2550.8 1492.3C2549.4 1489.9 2548.3 1487.4 2548.2 1484.8ZM2597.1 1479.2C2597.2 1476.6 2598.3 1473.6 2599.9 1471.1C2601.4 1468.7 2603.9 1466.3 2606.3 1464.4C2608.7 1462.5 2611.7 1460.9 2614.5 1459.6C2617.4 1458.2 2620.4 1457.2 2623.3 1456.2C2626.3 1455.2 2629.3 1454.4 2632.2 1453.6C2635.1 1452.8 2638.1 1452.1 2641 1451.5C2643.9 1450.8 2646.8 1450.2 2649.7 1449.6C2652.6 1449 2655.4 1448.5 2658.4 1448C2661.3 1447.5 2664.2 1447.1 2667.1 1446.7C2670 1446.3 2673 1445.9 2676 1445.6C2679 1445.2 2682 1444.9 2685.1 1444.7C2688.1 1444.4 2691.2 1444.1 2694.4 1443.9C2697.5 1443.7 2700.7 1443.6 2703.9 1443.5C2707 1443.5 2710.2 1443.5 2713.3 1443.8C2716.4 1444 2719.5 1444.3 2722.4 1444.9C2725.4 1445.5 2728.3 1446.3 2731.1 1447.3C2733.8 1448.4 2736.6 1449.7 2739 1451.3C2741.5 1452.9 2744 1454.8 2745.8 1456.9C2747.5 1459.1 2749 1461.5 2749.4 1464.1C2749.7 1466.6 2749.1 1469.5 2748 1472.2C2746.9 1475 2744.8 1477.9 2742.8 1480.4C2740.7 1483 2738.2 1485.4 2735.8 1487.6C2733.4 1489.7 2730.9 1491.4 2728.4 1493.1C2725.8 1494.7 2723.2 1496.1 2720.6 1497.4C2717.9 1498.6 2715.1 1499.7 2712.3 1500.7C2709.5 1501.7 2706.6 1502.5 2703.7 1503.3C2700.8 1504 2697.8 1504.6 2694.8 1505.1C2691.8 1505.6 2688.8 1506 2685.7 1506.4C2682.7 1506.7 2679.7 1507 2676.6 1507.2C2673.6 1507.3 2670.5 1507.5 2667.5 1507.6C2664.4 1507.6 2661.4 1507.7 2658.4 1507.6C2655.4 1507.6 2652.4 1507.5 2649.5 1507.2C2646.5 1507 2643.5 1506.7 2640.6 1506.2C2637.6 1505.8 2634.7 1505.2 2631.7 1504.4C2628.8 1503.7 2625.9 1502.8 2623 1501.7C2620.1 1500.6 2617.1 1499.4 2614.3 1497.9C2611.4 1496.4 2608.4 1494.7 2605.9 1492.8C2603.5 1491 2601 1488.9 2599.5 1486.6C2598.1 1484.3 2597 1481.8 2597.1 1479.2Z" fill="#A9C7EE" fill-opacity="0.8" fill-rule="evenodd" stroke="none"/>
<path d="M2597.1 1479.2C2597.2 1476.6 2598.3 1473.6 2599.9 1471.1C2601.4 1468.7 2603.9 1466.3 2606.3 1464.4C2608.7 1462.5 2611.7 1460.9 2614.5 1459.6C2617.4 1458.2 2620.4 1457.2 2623.3 1456.2C2626.3 1455.2 2629.3 1454.4 2632.2 1453.6C2635.1 1452.8 2638.1 1452.1 2641 1451.5C2643.9 1450.8 2646.8 1450.2 2649.7 1449.6C2652.6 1449 2655.4 1448.5 2658.4 1448C2661.3 1447.5 2664.2 1447.1 2667.1 1446.7C2670 1446.3 2673 1445.9 2676 1445.6C2679 1445.2 2682 1444.9 2685.1 1444.7C2688.1 1444.4 2691.2 1444.1 2694.4 1443.9C2697.5 1443.7 2700.7 1443.6 2703.9 1443.5C2707 1443.5 2710.2 1443.5 2713.3 1443.8C2716.4 1444 2719.5 1444.3 2722.4 1444.9C2725.4 1445.5 2728.3 1446.3 2731.1 1447.3C2733.8 1448.4 2736.6 1449.7 2739 1451.3C2741.5 1452.9 2744 1454.8 2745.8 1456.9C2747.5 1459.1 2749 1461.5 2749.4 1464.1C2749.7 1466.6 2749.1 1469.5 2748 1472.2C2746.9 1475 2744.8 1477.9 2742.8 1480.4C2740.7 1483 2738.2 1485.4 2735.8 1487.6C2733.4 1489.7 2730.9 1491.4 2728.4 1493.1C2725.8 1494.7 2723.2 1496.1 2720.6 1497.4C2717.9 1498.6 2715.1 1499.7 2712.3 1500.7C2709.5 1501.7 2706.6 1502.5 2703.7 1503.3C2700.8 1504 2697.8 1504.6 2694.8 1505.1C2691.8 1505.6 2688.8 1506 2685.7 1506.4C2682.7 1506.7 2679.7 1507 2676.6 1507.2C2673.6 1507.3 2670.5 1507.5 2667.5 1507.6C2664.4 1507.6 2661.4 1507.7 2658.4 1507.6C2655.4 1507.6 2652.4 1507.5 2649.5 1507.2C2646.5 1507 2643.5 1506.7 2640.6 1506.2C2637.6 1505.8 2634.7 1505.2 2631.7 1504.4C2628.8 1503.7 2625.9 1502.8 2623 1501.7C2620.1 1500.6 2617.1 1499.4 2614.3 1497.9C2611.4 1496.4 2608.4 1494.7 2605.9 1492.8C2603.5 1491 2601 1488.9 2599.5 1486.6C2598.1 1484.3 2597 1481.8 2597.1 1479.2Z" fill="#3A5BB0" fill-opacity="0.8"/>
<path d="M2339.7 1290.6C2340.2 1287.7 2341 1284.8 2342.1 1282C2343.1 1279.2 2344.4 1276.4 2346 1273.8C2347.5 1271.2 2349.2 1268.6 2351.2 1266.3C2353.1 1264 2355.2 1261.9 2357.5 1260C2359.8 1258.1 2362.2 1256.5 2364.7 1254.9C2367.3 1253.4 2370 1252.1 2372.7 1250.9C2375.5 1249.7 2378.3 1248.6 2381.2 1247.7C2384.1 1246.7 2387.1 1245.8 2390.1 1245C2393 1244.2 2396.1 1243.5 2399 1242.8C2402 1242.1 2405 1241.5 2408 1240.9C2411 1240.3 2414 1239.7 2416.9 1239.1C2419.9 1238.6 2422.9 1238.1 2425.8 1237.6C2428.8 1237.2 2431.7 1236.8 2434.7 1236.4C2437.7 1236 2440.6 1235.6 2443.6 1235.3C2446.5 1235 2449.5 1234.7 2452.5 1234.4C2455.4 1234.2 2458.4 1234 2461.3 1233.8C2464.3 1233.6 2467.3 1233.4 2470.2 1233.3C2473.2 1233.2 2476.2 1233.1 2479.2 1233.1C2482.1 1233 2485.1 1233 2488.1 1233C2491.1 1233 2494.1 1233.1 2497.1 1233.1C2500.1 1233.2 2503.1 1233.3 2506.1 1233.4C2509.2 1233.5 2512.2 1233.6 2515.2 1233.8C2518.2 1233.9 2521.2 1234.1 2524.2 1234.3C2527.3 1234.5 2530.3 1234.7 2533.3 1234.9C2536.3 1235.1 2539.3 1235.3 2542.3 1235.5C2545.4 1235.7 2548.4 1235.9 2551.4 1236.2C2554.4 1236.4 2557.4 1236.7 2560.4 1237C2563.3 1237.3 2566.3 1237.7 2569.3 1238.1C2572.2 1238.5 2575.2 1239 2578.1 1239.6C2581 1240.3 2583.9 1240.9 2586.7 1241.8C2589.6 1242.6 2592.5 1243.6 2595.3 1244.7C2598.1 1245.8 2600.9 1247 2603.5 1248.4C2606.2 1249.8 2608.9 1251.4 2611.3 1253.1C2613.8 1254.9 2616.2 1256.8 2618.3 1258.9C2620.4 1261 2622.3 1263.2 2623.9 1265.7C2625.6 1268.1 2626.9 1270.8 2628 1273.6C2629.2 1276.3 2630 1279.3 2630.9 1282.2C2631.7 1285.1 2632.4 1288.1 2633.1 1291.1C2633.7 1294.1 2634.3 1297.1 2634.9 1300C2635.4 1303 2635.8 1306 2636.2 1309C2636.5 1312 2636.8 1315 2637 1318C2637.2 1321 2637.3 1323.9 2637.4 1326.9C2637.4 1329.9 2637.3 1332.9 2637.2 1335.9C2637 1338.8 2636.8 1341.8 2636.5 1344.8C2636.1 1347.7 2635.7 1350.7 2635.1 1353.6C2634.6 1356.6 2633.9 1359.5 2633.1 1362.4C2632.4 1365.3 2631.5 1368.2 2630.5 1371.1C2629.6 1374 2628.3 1376.8 2627.5 1379.7C2626.7 1382.6 2625.8 1385.4 2625.4 1388.4C2625.1 1391.3 2625.3 1394.3 2625.6 1397.2C2625.9 1400.2 2626.8 1403.2 2627.4 1406.2C2628.1 1409.2 2628.8 1412.2 2629.4 1415.1C2629.9 1418.1 2630.3 1421 2630.6 1424C2630.8 1427 2631 1429.9 2631 1432.8C2631 1435.8 2630.8 1438.8 2630.5 1441.7C2630.3 1444.7 2629.9 1447.7 2629.4 1450.6C2628.9 1453.6 2628.4 1456.6 2627.7 1459.5C2627.1 1462.5 2626.5 1465.5 2625.8 1468.4C2625.1 1471.4 2624.3 1474.4 2623.6 1477.3C2622.9 1480.3 2622.2 1483.2 2621.5 1486.1C2620.8 1489.1 2620.1 1492 2619.5 1494.9C2618.9 1497.8 2618.3 1500.7 2617.8 1503.6C2617.3 1506.5 2616.8 1509.4 2616.4 1512.3C2616 1515.2 2615.6 1518.1 2615.3 1521.1C2615 1524 2614.7 1527 2614.5 1530C2614.3 1533 2614.1 1536 2613.9 1539C2613.8 1542.1 2613.7 1545.1 2613.7 1548.3C2613.6 1551.4 2613.7 1554.6 2613.6 1557.8C2613.5 1560.9 2613.6 1564.2 2613.1 1567.1C2612.7 1570 2612.1 1572.9 2610.9 1575.4C2609.7 1577.8 2608 1579.9 2605.9 1581.8C2603.9 1583.7 2601.2 1585.2 2598.6 1586.7C2595.9 1588.2 2592.9 1589.4 2590.1 1590.8C2587.3 1592.2 2584.4 1593.5 2581.8 1595C2579.1 1596.5 2576.5 1598 2574.4 1599.9C2572.2 1601.8 2570.3 1603.8 2568.9 1606.3C2567.5 1608.8 2566.7 1611.9 2566 1614.9C2565.2 1617.9 2565.2 1621.5 2564.3 1624.4C2563.4 1627.2 2562.2 1629.9 2560.5 1631.9C2558.8 1633.8 2556.7 1635.2 2554.2 1636C2551.8 1636.7 2548.8 1636.7 2545.8 1636.4C2542.9 1636 2539.6 1635.1 2536.5 1634C2533.5 1632.9 2530.4 1631.5 2527.5 1630C2524.7 1628.5 2522 1626.9 2519.4 1625.1C2516.9 1623.4 2514.5 1621.5 2512.3 1619.6C2510 1617.6 2507.8 1615.6 2505.8 1613.4C2503.7 1611.3 2501.8 1609.1 2499.9 1606.8C2498 1604.5 2496.2 1602.2 2494.4 1599.8C2492.6 1597.4 2490.9 1595 2489.2 1592.6C2487.5 1590.1 2485.9 1587.7 2484.2 1585.2C2482.5 1582.7 2480.8 1580.3 2479.1 1577.8C2477.4 1575.4 2475.8 1572.9 2474.1 1570.5C2472.4 1568 2470.7 1565.5 2469 1563.1C2467.3 1560.6 2465.6 1558.2 2463.9 1555.7C2462.1 1553.3 2460.4 1550.8 2458.7 1548.4C2457 1545.9 2455.3 1543.5 2453.6 1541C2451.8 1538.6 2450.1 1536.1 2448.4 1533.7C2446.7 1531.2 2444.9 1528.8 2443.2 1526.3C2441.5 1523.8 2439.7 1521.4 2438 1518.9C2436.3 1516.5 2434.5 1514 2432.8 1511.5C2431.1 1509.1 2429.3 1506.6 2427.6 1504.1C2425.9 1501.7 2424.1 1499.2 2422.4 1496.7C2420.7 1494.2 2419 1491.7 2417.2 1489.3C2415.5 1486.8 2413.8 1484.3 2412.2 1481.8C2410.5 1479.2 2408.8 1476.7 2407.2 1474.2C2405.5 1471.7 2403.9 1469.1 2402.3 1466.6C2400.7 1464 2399.1 1461.5 2397.6 1458.9C2396.1 1456.3 2394.6 1453.7 2393.1 1451.1C2391.7 1448.5 2390.2 1445.9 2388.9 1443.2C2387.5 1440.6 2386.2 1437.9 2384.9 1435.3C2383.6 1432.6 2382.4 1429.9 2381.2 1427.2C2380 1424.5 2378.8 1421.7 2377.7 1419C2376.6 1416.2 2375.5 1413.5 2374.5 1410.7C2373.4 1407.9 2372.4 1405.1 2371.4 1402.3C2370.3 1399.5 2369.4 1396.7 2368.4 1393.9C2367.4 1391.1 2366.4 1388.2 2365.4 1385.4C2364.5 1382.5 2363.5 1379.7 2362.5 1376.8C2361.6 1374 2360.6 1371.1 2359.6 1368.2C2358.6 1365.4 2357.6 1362.5 2356.6 1359.6C2355.6 1356.8 2354.6 1353.9 2353.5 1351C2352.4 1348.1 2351.3 1345.2 2350.2 1342.4C2349.2 1339.5 2348 1336.6 2346.9 1333.7C2345.9 1330.9 2344.8 1328 2343.8 1325.1C2342.9 1322.2 2342 1319.3 2341.3 1316.5C2340.6 1313.6 2339.9 1310.7 2339.5 1307.8C2339.1 1304.9 2338.9 1302.1 2338.9 1299.2C2338.9 1296.3 2339.1 1293.4 2339.7 1290.6Z" fill="none" stroke="#D63C0C" stroke-opacity="0.55" stroke-width="2.2"/>
<path d="M2548.2 1484.8C2548.2 1482.2 2549.1 1479.3 2550.5 1476.7C2551.8 1474.1 2554.1 1471.3 2556.4 1469C2558.6 1466.7 2561.4 1464.6 2564 1462.8C2566.6 1461.1 2569.3 1459.9 2572 1458.7C2574.7 1457.4 2577.4 1456.5 2580.2 1455.4C2583 1454.4 2585.8 1453.3 2588.6 1452.3C2591.5 1451.2 2594.4 1450.2 2597.3 1449.2C2600.2 1448.2 2603.1 1447.2 2606.1 1446.2C2609 1445.3 2612 1444.4 2614.9 1443.5C2617.8 1442.7 2620.8 1441.8 2623.7 1441.1C2626.7 1440.3 2629.6 1439.6 2632.6 1438.9C2635.5 1438.3 2638.5 1437.6 2641.4 1437.1C2644.4 1436.5 2647.3 1435.9 2650.3 1435.4C2653.2 1434.9 2656.2 1434.4 2659.1 1434C2662.1 1433.6 2665.1 1433.2 2668 1432.8C2671 1432.4 2674 1432 2677 1431.7C2680 1431.4 2683 1431.1 2686 1430.8C2689 1430.5 2692.1 1430.2 2695.1 1430C2698.2 1429.7 2701.2 1429.5 2704.3 1429.2C2707.4 1429 2710.4 1428.8 2713.5 1428.6C2716.6 1428.5 2719.7 1428.3 2722.8 1428.2C2725.9 1428.2 2729 1428.1 2732.1 1428.2C2735.1 1428.3 2738.2 1428.4 2741.2 1428.6C2744.3 1428.9 2747.3 1429.2 2750.3 1429.6C2753.2 1430.1 2756.2 1430.6 2759.1 1431.3C2762 1432 2764.9 1432.9 2767.7 1433.9C2770.6 1434.9 2773.4 1436 2776.1 1437.3C2778.8 1438.7 2781.5 1440.1 2783.9 1441.9C2786.2 1443.7 2788.4 1445.6 2790 1448C2791.5 1450.3 2792.7 1453 2793.2 1455.9C2793.7 1458.8 2793.6 1462.2 2793.2 1465.4C2792.9 1468.6 2792 1472 2791 1475.1C2790.1 1478.1 2788.8 1481 2787.5 1483.8C2786.1 1486.5 2784.6 1489.1 2783 1491.5C2781.4 1494 2779.6 1496.3 2777.8 1498.6C2775.9 1500.9 2774 1503.1 2772 1505.3C2770.1 1507.6 2768 1509.8 2766 1512C2764 1514.3 2761.9 1516.6 2759.8 1518.9C2757.7 1521.1 2755.6 1523.5 2753.3 1525.6C2751.1 1527.8 2748.9 1529.9 2746.5 1531.8C2744.2 1533.7 2741.7 1535.5 2739.2 1537.2C2736.7 1538.8 2734.1 1540.3 2731.4 1541.7C2728.7 1543 2726 1544.2 2723.2 1545.3C2720.4 1546.4 2717.6 1547.3 2714.7 1548.1C2711.8 1549 2708.9 1549.7 2705.9 1550.2C2702.9 1550.8 2699.9 1551.3 2696.9 1551.7C2693.9 1552.1 2690.8 1552.4 2687.8 1552.5C2684.7 1552.7 2681.6 1552.8 2678.6 1552.8C2675.5 1552.8 2672.4 1552.8 2669.4 1552.6C2666.3 1552.5 2663.3 1552.2 2660.2 1551.9C2657.2 1551.6 2654.2 1551.2 2651.2 1550.7C2648.1 1550.2 2645.2 1549.7 2642.2 1549C2639.2 1548.4 2636.3 1547.7 2633.3 1546.9C2630.4 1546.1 2627.5 1545.2 2624.7 1544.2C2621.8 1543.3 2619 1542.2 2616.2 1541.1C2613.4 1540 2610.6 1538.8 2607.9 1537.5C2605.2 1536.2 2602.5 1534.8 2599.9 1533.4C2597.3 1531.9 2594.7 1530.4 2592.2 1528.8C2589.7 1527.1 2587.2 1525.5 2584.8 1523.7C2582.3 1521.9 2580 1520.1 2577.6 1518.1C2575.3 1516.2 2573 1514.2 2570.7 1512.2C2568.3 1510.1 2566 1508 2563.7 1505.9C2561.4 1503.7 2558.8 1501.5 2556.7 1499.3C2554.5 1497 2552.2 1494.7 2550.8 1492.3C2549.4 1489.9 2548.3 1487.4 2548.2 1484.8Z" fill="none" stroke="#5570BE" stroke-opacity="0.6" stroke-width="2.2"/>
</g>
<clipPath id="cR21"><rect x="2861.4" y="1191.7" width="588" height="592.8"/></clipPath>
<g clip-path="url(#cR21)">
<path d="M2899.7 1244.6C2900.2 1241.7 2901.2 1238.3 2903.1 1236.3C2904.9 1234.4 2908.1 1233.3 2910.8 1232.9C2913.5 1232.5 2916.6 1233 2919.4 1233.8C2922.2 1234.5 2925 1236 2927.8 1237.4C2930.5 1238.8 2933.2 1240.6 2935.8 1242.3C2938.4 1244 2941 1245.8 2943.4 1247.6C2945.9 1249.4 2948.3 1251.3 2950.6 1253.2C2953 1255.2 2955.3 1257.2 2957.5 1259.2C2959.8 1261.2 2961.9 1263.3 2964.1 1265.4C2966.3 1267.5 2968.4 1269.6 2970.5 1271.7C2972.6 1273.9 2974.6 1276.1 2976.7 1278.3C2978.7 1280.4 2980.7 1282.7 2982.8 1284.9C2984.8 1287.1 2986.8 1289.3 2988.8 1291.5C2990.8 1293.8 2992.8 1296 2994.8 1298.2C2996.8 1300.5 2998.9 1302.7 3000.9 1304.9C3002.9 1307.1 3004.9 1309.4 3006.9 1311.6C3008.9 1313.8 3010.9 1316.1 3012.9 1318.3C3015 1320.5 3017 1322.8 3019 1325C3021 1327.2 3023 1329.5 3025 1331.7C3027.1 1333.9 3029.1 1336.2 3031.1 1338.4C3033.1 1340.6 3035.2 1342.9 3037.2 1345.1C3039.2 1347.3 3041.2 1349.5 3043.3 1351.8C3045.3 1354 3047.3 1356.2 3049.3 1358.5C3051.4 1360.7 3053.4 1362.9 3055.4 1365.2C3057.4 1367.4 3059.5 1369.6 3061.5 1371.8C3063.5 1374.1 3065.6 1376.3 3067.6 1378.5C3069.7 1380.7 3071.7 1383 3073.7 1385.2C3075.8 1387.4 3077.8 1389.6 3079.8 1391.9C3081.9 1394.1 3083.9 1396.3 3086 1398.5C3088 1400.7 3090.1 1402.9 3092.1 1405.2C3094.2 1407.4 3096.2 1409.6 3098.3 1411.8C3100.3 1414 3102.4 1416.2 3104.4 1418.4C3106.5 1420.6 3108.5 1422.8 3110.6 1425.1C3112.6 1427.3 3114.7 1429.5 3116.7 1431.7C3118.8 1433.9 3120.8 1436.1 3122.9 1438.3C3124.9 1440.5 3127 1442.7 3129 1444.9C3131.1 1447.1 3133.1 1449.3 3135.2 1451.6C3137.2 1453.8 3139.3 1456 3141.3 1458.2C3143.4 1460.4 3145.4 1462.6 3147.5 1464.8C3149.5 1467 3151.5 1469.3 3153.6 1471.5C3155.6 1473.7 3157.7 1475.9 3159.7 1478.1C3161.7 1480.3 3163.7 1482.6 3165.8 1484.8C3167.8 1487 3169.8 1489.2 3171.8 1491.5C3173.9 1493.7 3175.9 1495.9 3177.9 1498.2C3179.9 1500.4 3181.9 1502.6 3183.9 1504.9C3185.9 1507.1 3187.9 1509.4 3189.9 1511.6C3191.9 1513.9 3193.9 1516.1 3195.9 1518.4C3197.9 1520.6 3199.8 1522.9 3201.8 1525.2C3203.8 1527.4 3205.8 1529.7 3207.7 1531.9C3209.7 1534.2 3211.7 1536.5 3213.6 1538.8C3215.6 1541 3217.6 1543.3 3219.6 1545.6C3221.5 1547.8 3223.5 1550.1 3225.5 1552.4C3227.5 1554.7 3229.4 1556.9 3231.4 1559.2C3233.4 1561.5 3235.4 1563.7 3237.4 1566C3239.4 1568.3 3241.4 1570.6 3243.4 1572.8C3245.4 1575.1 3247.4 1577.3 3249.5 1579.6C3251.5 1581.9 3253.5 1584.1 3255.6 1586.4C3257.6 1588.6 3259.7 1590.9 3261.8 1593.1C3263.9 1595.4 3266 1597.6 3268 1599.8C3270.1 1602.1 3272.2 1604.3 3274.3 1606.5C3276.3 1608.8 3278.4 1611 3280.4 1613.2C3282.4 1615.4 3284.5 1617.7 3286.4 1619.9C3288.4 1622.1 3290.7 1624.7 3292.1 1626.5C3293.6 1628.4 3295.2 1630.5 3294.9 1630.9C3294.7 1631.4 3292.8 1630.5 3290.7 1629.3C3288.7 1628 3285.3 1625.4 3282.4 1623.4C3279.6 1621.3 3276.4 1618.8 3273.6 1616.8C3270.8 1614.7 3268.1 1612.7 3265.6 1610.8C3263 1608.9 3260.6 1607.1 3258.1 1605.3C3255.7 1603.6 3253.4 1601.9 3251.1 1600.1C3248.8 1598.4 3246.5 1596.7 3244.2 1595C3241.8 1593.3 3239.5 1591.5 3237.2 1589.8C3234.8 1588 3232.5 1586.2 3230.1 1584.5C3227.8 1582.7 3225.4 1580.9 3223.1 1579C3220.7 1577.2 3218.3 1575.4 3215.9 1573.5C3213.6 1571.7 3211.2 1569.8 3208.8 1567.9C3206.5 1566 3204.1 1564.1 3201.7 1562.2C3199.4 1560.3 3197 1558.4 3194.7 1556.5C3192.3 1554.5 3190 1552.6 3187.6 1550.6C3185.3 1548.7 3183 1546.7 3180.7 1544.7C3178.4 1542.8 3176.1 1540.8 3173.8 1538.8C3171.5 1536.8 3169.2 1534.8 3166.9 1532.8C3164.7 1530.8 3162.4 1528.8 3160.2 1526.7C3157.9 1524.7 3155.7 1522.7 3153.5 1520.7C3151.3 1518.6 3149.1 1516.6 3146.8 1514.5C3144.6 1512.5 3142.4 1510.4 3140.2 1508.4C3138 1506.3 3135.9 1504.3 3133.7 1502.2C3131.5 1500.1 3129.3 1498.1 3127.1 1496C3125 1493.9 3122.8 1491.9 3120.6 1489.8C3118.4 1487.7 3116.3 1485.6 3114.1 1483.5C3111.9 1481.5 3109.8 1479.4 3107.6 1477.3C3105.5 1475.2 3103.3 1473.1 3101.1 1471.1C3099 1469 3096.8 1466.9 3094.6 1464.8C3092.5 1462.7 3090.3 1460.7 3088.1 1458.6C3086 1456.5 3083.8 1454.4 3081.6 1452.4C3079.4 1450.3 3077.2 1448.2 3075.1 1446.2C3072.9 1444.1 3070.7 1442 3068.5 1440C3066.3 1437.9 3064.1 1435.9 3061.9 1433.8C3059.7 1431.8 3057.4 1429.7 3055.2 1427.7C3053 1425.6 3050.8 1423.6 3048.5 1421.5C3046.3 1419.5 3044.1 1417.5 3041.9 1415.4C3039.6 1413.4 3037.4 1411.3 3035.2 1409.3C3033 1407.3 3030.7 1405.2 3028.5 1403.2C3026.3 1401.1 3024.1 1399.1 3021.8 1397C3019.6 1395 3017.4 1392.9 3015.2 1390.9C3013 1388.8 3010.8 1386.8 3008.6 1384.7C3006.4 1382.6 3004.2 1380.6 3002 1378.5C2999.8 1376.4 2997.6 1374.4 2995.4 1372.3C2993.2 1370.2 2991.1 1368.1 2988.9 1366C2986.8 1363.9 2984.6 1361.8 2982.5 1359.7C2980.4 1357.5 2978.2 1355.4 2976.1 1353.3C2974 1351.1 2971.9 1349 2969.8 1346.8C2967.8 1344.7 2965.7 1342.5 2963.6 1340.3C2961.6 1338.1 2959.5 1335.9 2957.5 1333.7C2955.5 1331.5 2953.5 1329.3 2951.5 1327.1C2949.5 1324.8 2947.5 1322.6 2945.6 1320.3C2943.6 1318.1 2941.7 1315.8 2939.7 1313.5C2937.8 1311.2 2935.9 1308.9 2934 1306.5C2932.1 1304.2 2930.2 1301.8 2928.3 1299.4C2926.4 1297.1 2924.5 1294.7 2922.7 1292.2C2920.8 1289.8 2919 1287.4 2917.2 1284.9C2915.3 1282.4 2913.5 1279.9 2911.7 1277.4C2910 1274.9 2908.1 1272.3 2906.5 1269.7C2905 1267.1 2903.4 1264.5 2902.3 1261.8C2901.2 1259.1 2900.2 1256.3 2899.8 1253.4C2899.3 1250.6 2899.1 1247.4 2899.7 1244.6Z" fill="#F4ADA7"/>
<path d="M2922.7 1259.4C2923.7 1257.5 2926.6 1256 2929.2 1255.7C2931.7 1255.3 2935.2 1256.5 2938 1257.5C2940.8 1258.4 2943.5 1259.9 2946.1 1261.5C2948.7 1263.1 2951.2 1265 2953.6 1266.9C2956 1268.9 2958.3 1271 2960.6 1273.1C2962.8 1275.2 2965.1 1277.4 2967.3 1279.5C2969.5 1281.7 2971.7 1283.8 2973.8 1286C2976 1288.2 2978.1 1290.4 2980.2 1292.5C2982.3 1294.7 2984.3 1296.9 2986.4 1299.1C2988.5 1301.4 2990.5 1303.6 2992.5 1305.8C2994.5 1308 2996.5 1310.3 2998.6 1312.5C3000.6 1314.8 3002.5 1317 3004.5 1319.3C3006.5 1321.6 3008.5 1323.8 3010.5 1326.1C3012.5 1328.4 3014.5 1330.7 3016.4 1333C3018.4 1335.3 3020.4 1337.6 3022.4 1339.9C3024.4 1342.2 3026.4 1344.5 3028.4 1346.8C3030.5 1349.1 3032.5 1351.4 3034.5 1353.7C3036.5 1356 3038.5 1358.4 3040.5 1360.7C3042.5 1363 3044.5 1365.3 3046.6 1367.6C3048.6 1369.9 3050.6 1372.2 3052.6 1374.5C3054.6 1376.8 3056.6 1379.1 3058.6 1381.4C3060.6 1383.7 3062.6 1385.9 3064.5 1388.2C3066.5 1390.5 3068.5 1392.7 3070.5 1395C3072.4 1397.2 3074.4 1399.4 3076.3 1401.7C3078.3 1403.9 3080.2 1406.1 3082.1 1408.4C3084.1 1410.7 3086 1412.9 3087.9 1415.3C3089.8 1417.7 3091.7 1420.1 3093.6 1422.7C3095.5 1425.3 3097.5 1427.9 3099.3 1430.7C3101.2 1433.5 3103.5 1436.8 3104.8 1439.5C3106.1 1442.1 3107.5 1445 3107.1 1446.4C3106.8 1447.9 3104.7 1448.4 3102.6 1448.1C3100.4 1447.9 3097.1 1446.2 3094.3 1444.7C3091.6 1443.2 3088.6 1441 3085.8 1439.1C3083.1 1437.3 3080.6 1435.4 3078.1 1433.5C3075.6 1431.6 3073.2 1429.7 3070.8 1427.8C3068.5 1425.8 3066.2 1423.9 3064 1422C3061.7 1420.1 3059.5 1418.1 3057.2 1416.2C3055 1414.2 3052.7 1412.2 3050.5 1410.2C3048.3 1408.3 3046 1406.2 3043.8 1404.2C3041.6 1402.2 3039.3 1400.2 3037.1 1398.1C3034.9 1396.1 3032.7 1394 3030.4 1391.9C3028.2 1389.9 3026 1387.8 3023.8 1385.7C3021.6 1383.6 3019.4 1381.5 3017.2 1379.3C3015 1377.2 3012.8 1375.1 3010.6 1373C3008.4 1370.8 3006.2 1368.7 3004 1366.5C3001.9 1364.4 2999.7 1362.2 2997.5 1360C2995.4 1357.9 2993.2 1355.7 2991.1 1353.5C2989 1351.3 2986.8 1349.1 2984.7 1346.9C2982.6 1344.7 2980.5 1342.5 2978.4 1340.3C2976.3 1338.1 2974.3 1335.9 2972.2 1333.6C2970.1 1331.4 2968.1 1329.2 2966.1 1326.9C2964 1324.7 2962 1322.4 2960 1320.2C2958.1 1317.9 2956.1 1315.7 2954.1 1313.4C2952.2 1311.1 2950.2 1308.9 2948.3 1306.6C2946.4 1304.3 2944.5 1302 2942.7 1299.7C2940.8 1297.3 2939 1295 2937.2 1292.5C2935.4 1290.1 2933.7 1287.6 2932 1284.9C2930.3 1282.3 2928.6 1279.5 2927.1 1276.6C2925.6 1273.7 2923.6 1270.3 2922.9 1267.5C2922.2 1264.6 2921.7 1261.4 2922.7 1259.4Z" fill="#E03424" stroke="#E03424" stroke-width="1.2"/>
<path d="M2972.6 1432.3C2973.5 1430.6 2976.2 1430.2 2978.9 1430.4C2981.6 1430.6 2985.8 1432.2 2988.9 1433.4C2991.9 1434.5 2994.6 1435.9 2997.3 1437.3C3000 1438.6 3002.3 1440 3004.8 1441.5C3007.3 1443 3009.8 1444.5 3012.3 1446.2C3014.8 1447.8 3017.3 1449.5 3019.8 1451.2C3022.2 1453 3024.7 1454.8 3027.1 1456.7C3029.5 1458.6 3031.9 1460.5 3034.2 1462.4C3036.5 1464.4 3038.8 1466.4 3041 1468.5C3043.2 1470.5 3045.4 1472.6 3047.4 1474.7C3049.5 1476.8 3051.6 1478.9 3053.6 1481.1C3055.6 1483.2 3057.6 1485.4 3059.5 1487.6C3061.5 1489.8 3063.4 1492.1 3065.4 1494.3C3067.3 1496.6 3069.2 1498.9 3071.2 1501.2C3073.1 1503.5 3075.1 1505.8 3077.1 1508.1C3079.1 1510.4 3081.1 1512.8 3083.1 1515.2C3085.1 1517.5 3087.1 1519.9 3089.1 1522.3C3091 1524.7 3092.9 1527.1 3094.7 1529.6C3096.5 1532.1 3098.2 1534.5 3099.8 1537.1C3101.3 1539.6 3102.9 1542.2 3104 1544.7C3105.2 1547.2 3107.1 1550.7 3106.6 1552.1C3106.1 1553.5 3103.3 1553.3 3100.8 1553C3098.4 1552.6 3094.6 1551 3091.7 1549.8C3088.8 1548.6 3086 1547.2 3083.3 1545.8C3080.6 1544.3 3078.1 1542.8 3075.5 1541.1C3072.9 1539.5 3070.4 1537.9 3067.9 1536.2C3065.4 1534.4 3063 1532.7 3060.5 1530.9C3058.1 1529.2 3055.7 1527.4 3053.3 1525.5C3050.9 1523.7 3048.5 1521.8 3046.2 1520C3043.8 1518.1 3041.5 1516.2 3039.2 1514.2C3036.9 1512.3 3034.7 1510.3 3032.5 1508.3C3030.2 1506.3 3028 1504.3 3025.9 1502.3C3023.7 1500.2 3021.6 1498.2 3019.4 1496.1C3017.3 1494 3015.2 1491.9 3013.2 1489.8C3011.1 1487.7 3009 1485.5 3007 1483.3C3004.9 1481.1 3002.9 1478.9 3000.8 1476.7C2998.8 1474.5 2996.8 1472.2 2994.8 1470C2992.7 1467.7 2990.7 1465.4 2988.7 1463C2986.7 1460.7 2984.6 1458.4 2982.7 1455.9C2980.8 1453.5 2979 1451 2977.5 1448.5C2975.9 1445.9 2974.5 1443.1 2973.7 1440.4C2972.9 1437.7 2971.8 1434 2972.6 1432.3ZM2990.3 1448.7C2991.1 1446.8 2994.3 1445.3 2996.9 1445.1C2999.5 1444.8 3003.2 1446 3006.1 1447.2C3009 1448.4 3011.6 1450.3 3014.1 1452.1C3016.7 1453.8 3019.1 1455.8 3021.5 1457.7C3023.9 1459.6 3026.2 1461.6 3028.5 1463.5C3030.8 1465.5 3033.1 1467.5 3035.3 1469.5C3037.5 1471.6 3039.7 1473.5 3041.8 1475.6C3043.9 1477.7 3046 1479.7 3048 1481.9C3050.1 1484.2 3052.1 1486.5 3053.9 1489.1C3055.8 1491.7 3058 1494.9 3059.3 1497.6C3060.5 1500.4 3062 1503.9 3061.4 1505.8C3060.8 1507.7 3058.1 1508.9 3055.7 1509C3053.3 1509.1 3049.8 1507.5 3047 1506.1C3044.2 1504.7 3041.5 1502.5 3038.8 1500.7C3036.2 1498.8 3033.7 1497 3031.3 1495.1C3028.8 1493.3 3026.5 1491.4 3024.2 1489.5C3021.9 1487.6 3019.7 1485.7 3017.6 1483.8C3015.4 1481.8 3013.3 1479.8 3011.2 1477.8C3009.1 1475.7 3007 1473.6 3004.9 1471.3C3002.8 1469 3000.7 1466.6 2998.6 1464.1C2996.5 1461.6 2993.6 1458.7 2992.3 1456.1C2990.9 1453.6 2989.5 1450.5 2990.3 1448.7Z" fill="#A9C7EE" fill-opacity="0.8" fill-rule="evenodd" stroke="none"/>
<path d="M2990.3 1448.7C2991.1 1446.8 2994.3 1445.3 2996.9 1445.1C2999.5 1444.8 3003.2 1446 3006.1 1447.2C3009 1448.4 3011.6 1450.3 3014.1 1452.1C3016.7 1453.8 3019.1 1455.8 3021.5 1457.7C3023.9 1459.6 3026.2 1461.6 3028.5 1463.5C3030.8 1465.5 3033.1 1467.5 3035.3 1469.5C3037.5 1471.6 3039.7 1473.5 3041.8 1475.6C3043.9 1477.7 3046 1479.7 3048 1481.9C3050.1 1484.2 3052.1 1486.5 3053.9 1489.1C3055.8 1491.7 3058 1494.9 3059.3 1497.6C3060.5 1500.4 3062 1503.9 3061.4 1505.8C3060.8 1507.7 3058.1 1508.9 3055.7 1509C3053.3 1509.1 3049.8 1507.5 3047 1506.1C3044.2 1504.7 3041.5 1502.5 3038.8 1500.7C3036.2 1498.8 3033.7 1497 3031.3 1495.1C3028.8 1493.3 3026.5 1491.4 3024.2 1489.5C3021.9 1487.6 3019.7 1485.7 3017.6 1483.8C3015.4 1481.8 3013.3 1479.8 3011.2 1477.8C3009.1 1475.7 3007 1473.6 3004.9 1471.3C3002.8 1469 3000.7 1466.6 2998.6 1464.1C2996.5 1461.6 2993.6 1458.7 2992.3 1456.1C2990.9 1453.6 2989.5 1450.5 2990.3 1448.7Z" fill="#3A5BB0" fill-opacity="0.8"/>
<path d="M2899.7 1244.6C2900.2 1241.7 2901.2 1238.3 2903.1 1236.3C2904.9 1234.4 2908.1 1233.3 2910.8 1232.9C2913.5 1232.5 2916.6 1233 2919.4 1233.8C2922.2 1234.5 2925 1236 2927.8 1237.4C2930.5 1238.8 2933.2 1240.6 2935.8 1242.3C2938.4 1244 2941 1245.8 2943.4 1247.6C2945.9 1249.4 2948.3 1251.3 2950.6 1253.2C2953 1255.2 2955.3 1257.2 2957.5 1259.2C2959.8 1261.2 2961.9 1263.3 2964.1 1265.4C2966.3 1267.5 2968.4 1269.6 2970.5 1271.7C2972.6 1273.9 2974.6 1276.1 2976.7 1278.3C2978.7 1280.4 2980.7 1282.7 2982.8 1284.9C2984.8 1287.1 2986.8 1289.3 2988.8 1291.5C2990.8 1293.8 2992.8 1296 2994.8 1298.2C2996.8 1300.5 2998.9 1302.7 3000.9 1304.9C3002.9 1307.1 3004.9 1309.4 3006.9 1311.6C3008.9 1313.8 3010.9 1316.1 3012.9 1318.3C3015 1320.5 3017 1322.8 3019 1325C3021 1327.2 3023 1329.5 3025 1331.7C3027.1 1333.9 3029.1 1336.2 3031.1 1338.4C3033.1 1340.6 3035.2 1342.9 3037.2 1345.1C3039.2 1347.3 3041.2 1349.5 3043.3 1351.8C3045.3 1354 3047.3 1356.2 3049.3 1358.5C3051.4 1360.7 3053.4 1362.9 3055.4 1365.2C3057.4 1367.4 3059.5 1369.6 3061.5 1371.8C3063.5 1374.1 3065.6 1376.3 3067.6 1378.5C3069.7 1380.7 3071.7 1383 3073.7 1385.2C3075.8 1387.4 3077.8 1389.6 3079.8 1391.9C3081.9 1394.1 3083.9 1396.3 3086 1398.5C3088 1400.7 3090.1 1402.9 3092.1 1405.2C3094.2 1407.4 3096.2 1409.6 3098.3 1411.8C3100.3 1414 3102.4 1416.2 3104.4 1418.4C3106.5 1420.6 3108.5 1422.8 3110.6 1425.1C3112.6 1427.3 3114.7 1429.5 3116.7 1431.7C3118.8 1433.9 3120.8 1436.1 3122.9 1438.3C3124.9 1440.5 3127 1442.7 3129 1444.9C3131.1 1447.1 3133.1 1449.3 3135.2 1451.6C3137.2 1453.8 3139.3 1456 3141.3 1458.2C3143.4 1460.4 3145.4 1462.6 3147.5 1464.8C3149.5 1467 3151.5 1469.3 3153.6 1471.5C3155.6 1473.7 3157.7 1475.9 3159.7 1478.1C3161.7 1480.3 3163.7 1482.6 3165.8 1484.8C3167.8 1487 3169.8 1489.2 3171.8 1491.5C3173.9 1493.7 3175.9 1495.9 3177.9 1498.2C3179.9 1500.4 3181.9 1502.6 3183.9 1504.9C3185.9 1507.1 3187.9 1509.4 3189.9 1511.6C3191.9 1513.9 3193.9 1516.1 3195.9 1518.4C3197.9 1520.6 3199.8 1522.9 3201.8 1525.2C3203.8 1527.4 3205.8 1529.7 3207.7 1531.9C3209.7 1534.2 3211.7 1536.5 3213.6 1538.8C3215.6 1541 3217.6 1543.3 3219.6 1545.6C3221.5 1547.8 3223.5 1550.1 3225.5 1552.4C3227.5 1554.7 3229.4 1556.9 3231.4 1559.2C3233.4 1561.5 3235.4 1563.7 3237.4 1566C3239.4 1568.3 3241.4 1570.6 3243.4 1572.8C3245.4 1575.1 3247.4 1577.3 3249.5 1579.6C3251.5 1581.9 3253.5 1584.1 3255.6 1586.4C3257.6 1588.6 3259.7 1590.9 3261.8 1593.1C3263.9 1595.4 3266 1597.6 3268 1599.8C3270.1 1602.1 3272.2 1604.3 3274.3 1606.5C3276.3 1608.8 3278.4 1611 3280.4 1613.2C3282.4 1615.4 3284.5 1617.7 3286.4 1619.9C3288.4 1622.1 3290.7 1624.7 3292.1 1626.5C3293.6 1628.4 3295.2 1630.5 3294.9 1630.9C3294.7 1631.4 3292.8 1630.5 3290.7 1629.3C3288.7 1628 3285.3 1625.4 3282.4 1623.4C3279.6 1621.3 3276.4 1618.8 3273.6 1616.8C3270.8 1614.7 3268.1 1612.7 3265.6 1610.8C3263 1608.9 3260.6 1607.1 3258.1 1605.3C3255.7 1603.6 3253.4 1601.9 3251.1 1600.1C3248.8 1598.4 3246.5 1596.7 3244.2 1595C3241.8 1593.3 3239.5 1591.5 3237.2 1589.8C3234.8 1588 3232.5 1586.2 3230.1 1584.5C3227.8 1582.7 3225.4 1580.9 3223.1 1579C3220.7 1577.2 3218.3 1575.4 3215.9 1573.5C3213.6 1571.7 3211.2 1569.8 3208.8 1567.9C3206.5 1566 3204.1 1564.1 3201.7 1562.2C3199.4 1560.3 3197 1558.4 3194.7 1556.5C3192.3 1554.5 3190 1552.6 3187.6 1550.6C3185.3 1548.7 3183 1546.7 3180.7 1544.7C3178.4 1542.8 3176.1 1540.8 3173.8 1538.8C3171.5 1536.8 3169.2 1534.8 3166.9 1532.8C3164.7 1530.8 3162.4 1528.8 3160.2 1526.7C3157.9 1524.7 3155.7 1522.7 3153.5 1520.7C3151.3 1518.6 3149.1 1516.6 3146.8 1514.5C3144.6 1512.5 3142.4 1510.4 3140.2 1508.4C3138 1506.3 3135.9 1504.3 3133.7 1502.2C3131.5 1500.1 3129.3 1498.1 3127.1 1496C3125 1493.9 3122.8 1491.9 3120.6 1489.8C3118.4 1487.7 3116.3 1485.6 3114.1 1483.5C3111.9 1481.5 3109.8 1479.4 3107.6 1477.3C3105.5 1475.2 3103.3 1473.1 3101.1 1471.1C3099 1469 3096.8 1466.9 3094.6 1464.8C3092.5 1462.7 3090.3 1460.7 3088.1 1458.6C3086 1456.5 3083.8 1454.4 3081.6 1452.4C3079.4 1450.3 3077.2 1448.2 3075.1 1446.2C3072.9 1444.1 3070.7 1442 3068.5 1440C3066.3 1437.9 3064.1 1435.9 3061.9 1433.8C3059.7 1431.8 3057.4 1429.7 3055.2 1427.7C3053 1425.6 3050.8 1423.6 3048.5 1421.5C3046.3 1419.5 3044.1 1417.5 3041.9 1415.4C3039.6 1413.4 3037.4 1411.3 3035.2 1409.3C3033 1407.3 3030.7 1405.2 3028.5 1403.2C3026.3 1401.1 3024.1 1399.1 3021.8 1397C3019.6 1395 3017.4 1392.9 3015.2 1390.9C3013 1388.8 3010.8 1386.8 3008.6 1384.7C3006.4 1382.6 3004.2 1380.6 3002 1378.5C2999.8 1376.4 2997.6 1374.4 2995.4 1372.3C2993.2 1370.2 2991.1 1368.1 2988.9 1366C2986.8 1363.9 2984.6 1361.8 2982.5 1359.7C2980.4 1357.5 2978.2 1355.4 2976.1 1353.3C2974 1351.1 2971.9 1349 2969.8 1346.8C2967.8 1344.7 2965.7 1342.5 2963.6 1340.3C2961.6 1338.1 2959.5 1335.9 2957.5 1333.7C2955.5 1331.5 2953.5 1329.3 2951.5 1327.1C2949.5 1324.8 2947.5 1322.6 2945.6 1320.3C2943.6 1318.1 2941.7 1315.8 2939.7 1313.5C2937.8 1311.2 2935.9 1308.9 2934 1306.5C2932.1 1304.2 2930.2 1301.8 2928.3 1299.4C2926.4 1297.1 2924.5 1294.7 2922.7 1292.2C2920.8 1289.8 2919 1287.4 2917.2 1284.9C2915.3 1282.4 2913.5 1279.9 2911.7 1277.4C2910 1274.9 2908.1 1272.3 2906.5 1269.7C2905 1267.1 2903.4 1264.5 2902.3 1261.8C2901.2 1259.1 2900.2 1256.3 2899.8 1253.4C2899.3 1250.6 2899.1 1247.4 2899.7 1244.6Z" fill="none" stroke="#D63C0C" stroke-opacity="0.55" stroke-width="2.2"/>
<path d="M2972.6 1432.3C2973.5 1430.6 2976.2 1430.2 2978.9 1430.4C2981.6 1430.6 2985.8 1432.2 2988.9 1433.4C2991.9 1434.5 2994.6 1435.9 2997.3 1437.3C3000 1438.6 3002.3 1440 3004.8 1441.5C3007.3 1443 3009.8 1444.5 3012.3 1446.2C3014.8 1447.8 3017.3 1449.5 3019.8 1451.2C3022.2 1453 3024.7 1454.8 3027.1 1456.7C3029.5 1458.6 3031.9 1460.5 3034.2 1462.4C3036.5 1464.4 3038.8 1466.4 3041 1468.5C3043.2 1470.5 3045.4 1472.6 3047.4 1474.7C3049.5 1476.8 3051.6 1478.9 3053.6 1481.1C3055.6 1483.2 3057.6 1485.4 3059.5 1487.6C3061.5 1489.8 3063.4 1492.1 3065.4 1494.3C3067.3 1496.6 3069.2 1498.9 3071.2 1501.2C3073.1 1503.5 3075.1 1505.8 3077.1 1508.1C3079.1 1510.4 3081.1 1512.8 3083.1 1515.2C3085.1 1517.5 3087.1 1519.9 3089.1 1522.3C3091 1524.7 3092.9 1527.1 3094.7 1529.6C3096.5 1532.1 3098.2 1534.5 3099.8 1537.1C3101.3 1539.6 3102.9 1542.2 3104 1544.7C3105.2 1547.2 3107.1 1550.7 3106.6 1552.1C3106.1 1553.5 3103.3 1553.3 3100.8 1553C3098.4 1552.6 3094.6 1551 3091.7 1549.8C3088.8 1548.6 3086 1547.2 3083.3 1545.8C3080.6 1544.3 3078.1 1542.8 3075.5 1541.1C3072.9 1539.5 3070.4 1537.9 3067.9 1536.2C3065.4 1534.4 3063 1532.7 3060.5 1530.9C3058.1 1529.2 3055.7 1527.4 3053.3 1525.5C3050.9 1523.7 3048.5 1521.8 3046.2 1520C3043.8 1518.1 3041.5 1516.2 3039.2 1514.2C3036.9 1512.3 3034.7 1510.3 3032.5 1508.3C3030.2 1506.3 3028 1504.3 3025.9 1502.3C3023.7 1500.2 3021.6 1498.2 3019.4 1496.1C3017.3 1494 3015.2 1491.9 3013.2 1489.8C3011.1 1487.7 3009 1485.5 3007 1483.3C3004.9 1481.1 3002.9 1478.9 3000.8 1476.7C2998.8 1474.5 2996.8 1472.2 2994.8 1470C2992.7 1467.7 2990.7 1465.4 2988.7 1463C2986.7 1460.7 2984.6 1458.4 2982.7 1455.9C2980.8 1453.5 2979 1451 2977.5 1448.5C2975.9 1445.9 2974.5 1443.1 2973.7 1440.4C2972.9 1437.7 2971.8 1434 2972.6 1432.3Z" fill="none" stroke="#5570BE" stroke-opacity="0.6" stroke-width="2.2"/>
</g>
<clipPath id="cR22"><rect x="3449.4" y="1191.7" width="588.1" height="592.8"/></clipPath>
<g clip-path="url(#cR22)">
<path d="M3449 1784.3C3450.5 1784.2 3455 1783.9 3458 1783.7C3461 1783.5 3464 1783.3 3467 1783.2C3470 1783 3473 1782.9 3476 1782.9C3479.1 1782.8 3482.1 1782.8 3485.1 1782.7C3488.1 1782.7 3491.2 1782.7 3494.2 1782.7C3497.2 1782.6 3500.2 1782.6 3503.2 1782.5C3506.3 1782.4 3509.3 1782.3 3512.3 1782.1C3515.3 1781.9 3518.3 1781.7 3521.3 1781.3C3524.3 1781 3527.3 1780.6 3530.2 1780.1C3533.2 1779.6 3536.2 1779 3539.1 1778.3C3542.1 1777.7 3545 1776.9 3548 1776.3C3551 1775.7 3553.9 1775.1 3556.9 1774.6C3559.8 1774 3562.8 1773.5 3565.8 1773C3568.7 1772.5 3571.7 1772 3574.7 1771.6C3577.7 1771.1 3580.7 1770.7 3583.7 1770.2C3586.6 1769.8 3589.6 1769.3 3592.6 1768.8C3595.5 1768.3 3598.5 1767.7 3601.4 1767.2C3604.4 1766.6 3607.3 1766 3610.2 1765.3C3613.1 1764.6 3616 1763.9 3618.9 1763.1C3621.8 1762.4 3624.7 1761.6 3627.6 1760.7C3630.5 1759.8 3633.4 1758.9 3636.2 1757.9C3639.1 1756.9 3641.9 1755.9 3644.8 1754.9C3647.6 1753.8 3650.4 1752.7 3653.3 1751.6C3656.1 1750.5 3658.9 1749.4 3661.7 1748.3C3664.5 1747.2 3667.3 1746 3670.1 1744.9C3672.8 1743.7 3675.6 1742.6 3678.3 1741.4C3681.1 1740.2 3683.8 1739 3686.5 1737.7C3689.3 1736.5 3692 1735.2 3694.6 1733.9C3697.3 1732.6 3700 1731.2 3702.6 1729.8C3705.3 1728.4 3707.9 1727 3710.5 1725.5C3713.1 1724 3715.7 1722.5 3718.2 1720.8C3720.7 1719.2 3723.3 1717.6 3725.7 1715.8C3728.2 1714.1 3730.7 1712.3 3733.1 1710.5C3735.5 1708.7 3737.9 1706.8 3740.2 1704.8C3742.6 1702.9 3744.8 1700.9 3747.1 1698.8C3749.3 1696.8 3751.5 1694.7 3753.6 1692.6C3755.7 1690.4 3757.8 1688.2 3759.8 1686C3761.8 1683.8 3763.8 1681.5 3765.7 1679.1C3767.5 1676.8 3769.4 1674.4 3771.1 1672C3772.8 1669.6 3774.5 1667.1 3776.1 1664.5C3777.7 1662 3779.2 1659.4 3780.7 1656.8C3782.2 1654.1 3783.5 1651.5 3785 1648.8C3786.4 1646.1 3787.7 1643.4 3789.2 1640.7C3790.6 1638.1 3792 1635.4 3793.5 1632.8C3795 1630.1 3796.5 1627.5 3798.1 1624.9C3799.6 1622.3 3801.2 1619.8 3802.7 1617.2C3804.3 1614.6 3805.8 1612 3807.4 1609.4C3808.9 1606.8 3810.4 1604.3 3811.9 1601.6C3813.4 1599 3814.9 1596.4 3816.3 1593.8C3817.8 1591.1 3819.2 1588.5 3820.6 1585.8C3821.9 1583.1 3823.3 1580.5 3824.7 1577.8C3826 1575.1 3827.3 1572.4 3828.7 1569.7C3830 1567 3831.3 1564.3 3832.6 1561.5C3833.9 1558.8 3835.2 1556.1 3836.5 1553.4C3837.8 1550.7 3839.1 1548 3840.4 1545.2C3841.7 1542.5 3843 1539.8 3844.3 1537.1C3845.7 1534.4 3847 1531.7 3848.3 1528.9C3849.6 1526.2 3850.9 1523.5 3852.2 1520.8C3853.5 1518.1 3854.8 1515.3 3856.1 1512.6C3857.3 1509.9 3858.6 1507.1 3859.8 1504.4C3860.9 1501.6 3862.1 1498.8 3863.2 1496C3864.3 1493.2 3865.3 1490.4 3866.3 1487.6C3867.3 1484.8 3868.2 1481.9 3869.1 1479C3870 1476.2 3870.9 1473.3 3871.7 1470.4C3872.5 1467.5 3873.3 1464.6 3874 1461.7C3874.8 1458.8 3875.5 1455.9 3876.2 1452.9C3876.9 1450 3877.6 1447.1 3878.2 1444.1C3878.9 1441.2 3879.5 1438.2 3880.2 1435.3C3880.8 1432.3 3881.4 1429.4 3882 1426.4C3882.6 1423.5 3883.2 1420.5 3883.8 1417.5C3884.5 1414.6 3885 1411.6 3885.6 1408.7C3886.2 1405.7 3886.8 1402.7 3887.4 1399.8C3888 1396.8 3888.6 1393.9 3889.2 1390.9C3889.8 1387.9 3890.3 1385 3890.9 1382C3891.5 1379.1 3892.1 1376.1 3892.6 1373.1C3893.2 1370.2 3893.8 1367.2 3894.4 1364.3C3894.9 1361.3 3895.5 1358.3 3896.1 1355.4C3896.7 1352.4 3897.2 1349.5 3897.8 1346.5C3898.4 1343.6 3898.9 1340.6 3899.5 1337.7C3900.1 1334.7 3900.7 1331.8 3901.2 1328.8C3901.8 1325.9 3902.4 1322.9 3903 1320C3903.6 1317 3904.2 1314.1 3904.7 1311.2C3905.3 1308.2 3905.9 1305.3 3906.5 1302.3C3907.1 1299.4 3907.7 1296.5 3908.3 1293.5C3908.9 1290.6 3909.6 1287.7 3910.2 1284.8C3910.9 1281.8 3911.5 1278.9 3912.2 1276C3913 1273.1 3913.7 1270.1 3914.5 1267.2C3915.3 1264.3 3915.9 1261.3 3917.1 1258.5C3918.2 1255.6 3919.5 1252.1 3921.4 1249.9C3923.3 1247.8 3926.3 1245.2 3928.5 1245.7C3930.6 1246.2 3932.9 1250.1 3934.3 1252.9C3935.7 1255.6 3936 1259.2 3936.7 1262.2C3937.4 1265.3 3937.9 1268.3 3938.5 1271.2C3939.1 1274.1 3939.8 1276.8 3940.3 1279.7C3940.9 1282.5 3941.4 1285.4 3941.9 1288.3C3942.4 1291.2 3942.8 1294.1 3943.3 1297.1C3943.7 1300 3944.1 1303 3944.5 1306C3944.8 1309 3945.2 1312 3945.5 1315C3945.9 1318 3946.2 1321 3946.5 1324.1C3946.8 1327.1 3947.2 1330.1 3947.5 1333.1C3947.8 1336.1 3948.1 1339.1 3948.4 1342.1C3948.7 1345.2 3949 1348.2 3949.2 1351.2C3949.5 1354.2 3949.8 1357.2 3950.1 1360.2C3950.4 1363.2 3950.6 1366.2 3950.9 1369.2C3951.2 1372.2 3951.4 1375.2 3951.7 1378.2C3951.9 1381.2 3952.2 1384.2 3952.4 1387.2C3952.7 1390.2 3952.9 1393.2 3953.2 1396.2C3953.4 1399.2 3953.7 1402.2 3953.9 1405.2C3954.1 1408.2 3954.4 1411.2 3954.6 1414.2C3954.8 1417.2 3955.1 1420.2 3955.3 1423.2C3955.5 1426.2 3955.7 1429.2 3956 1432.2C3956.2 1435.2 3956.4 1438.2 3956.6 1441.2C3956.8 1444.2 3957.1 1447.2 3957.3 1450.2C3957.5 1453.2 3957.7 1456.2 3957.9 1459.2C3958.1 1462.2 3958.3 1465.2 3958.6 1468.2C3958.8 1471.2 3959 1474.2 3959.2 1477.2C3959.4 1480.2 3959.6 1483.3 3959.8 1486.3C3960 1489.3 3960.2 1492.3 3960.5 1495.3C3960.7 1498.3 3960.9 1501.3 3961.1 1504.3C3961.3 1507.3 3961.5 1510.3 3961.7 1513.3C3962 1516.3 3962.2 1519.3 3962.4 1522.3C3962.6 1525.3 3962.8 1528.3 3963.1 1531.3C3963.3 1534.3 3963.5 1537.3 3963.7 1540.3C3964 1543.3 3964.2 1546.4 3964.4 1549.4C3964.7 1552.4 3964.9 1555.4 3965.1 1558.4C3965.4 1561.4 3965.6 1564.4 3965.9 1567.4C3966.1 1570.4 3966.4 1573.4 3966.6 1576.4C3966.9 1579.4 3967.1 1582.4 3967.4 1585.4C3967.6 1588.4 3967.9 1591.4 3968.2 1594.4C3968.4 1597.4 3968.7 1600.4 3969 1603.4C3969.3 1606.4 3969.6 1609.4 3969.9 1612.4C3970.1 1615.4 3970.4 1618.4 3970.7 1621.4C3971 1624.4 3971.3 1627.4 3971.7 1630.4C3972 1633.4 3972.3 1636.4 3972.6 1639.4C3972.9 1642.4 3973.3 1645.4 3973.6 1648.4C3973.9 1651.4 3974.3 1654.4 3974.6 1657.3C3975 1660.3 3975.3 1663.3 3975.7 1666.3C3976.1 1669.3 3976.4 1672.3 3976.8 1675.3C3977.2 1678.3 3977.6 1681.3 3978 1684.3C3978.4 1687.2 3978.8 1690.2 3979.2 1693.2C3979.6 1696.2 3980 1699.2 3980.5 1702.2C3980.9 1705.2 3981.3 1708.1 3981.8 1711.1C3982.3 1714.1 3982.8 1717.1 3983.3 1720C3983.8 1723 3984.4 1725.9 3985 1728.9C3985.6 1731.8 3986.2 1734.8 3986.9 1737.7C3987.6 1740.6 3988.4 1743.5 3989.2 1746.4C3990 1749.3 3990.9 1752.2 3991.9 1755.1C3992.9 1757.9 3993.9 1760.8 3995 1763.6C3996.2 1766.4 3997.3 1769.3 3998.7 1772C4000.1 1774.7 4001.5 1777.9 4003.6 1779.9C4005.8 1782 4008.5 1783.6 4011.5 1784.3C4014.5 1785 4018.5 1784.3 4021.6 1784.3C4024.7 1784.3 4028.6 1784.3 4030 1784.3" fill="none" stroke="#D1392B" stroke-width="3.3" stroke-linejoin="round"/>
<path d="M3610 1784.3C3611.6 1784.3 3616.5 1784.5 3619.5 1784.3C3622.5 1784.1 3625.1 1784 3628 1783.3C3630.9 1782.7 3633.7 1781 3636.7 1780.4C3639.7 1779.7 3642.9 1779.8 3646 1779.4C3649 1779.1 3652.2 1779 3655.1 1778.2C3658 1777.4 3660.8 1776.2 3663.3 1774.7C3665.9 1773.2 3668.3 1771.4 3670.6 1769.4C3672.8 1767.4 3675 1765.1 3677 1762.8C3679 1760.5 3681 1758.1 3682.8 1755.7C3684.6 1753.3 3686.4 1750.8 3688.1 1748.3C3689.7 1745.8 3691.3 1743.2 3692.8 1740.6C3694.3 1738.1 3695.7 1735.4 3697.1 1732.8C3698.4 1730.1 3699.7 1727.4 3700.9 1724.6C3702.1 1721.9 3703.2 1719.1 3704.3 1716.4C3705.4 1713.6 3706.4 1710.7 3707.4 1707.9C3708.3 1705 3709.2 1702.2 3710.1 1699.3C3711 1696.4 3711.8 1693.5 3712.5 1690.6C3713.3 1687.6 3714 1684.7 3714.7 1681.7C3715.4 1678.8 3716 1675.8 3716.7 1672.8C3717.3 1669.9 3717.9 1666.9 3718.4 1663.9C3719 1660.9 3719.5 1657.9 3720 1654.9C3720.6 1651.9 3721.1 1648.9 3721.5 1645.9C3722 1642.9 3722.5 1639.9 3722.9 1636.9C3723.4 1633.9 3723.8 1630.9 3724.3 1627.9C3724.7 1624.9 3725.1 1621.9 3725.5 1618.9C3725.9 1615.9 3726.3 1612.9 3726.6 1609.9C3727 1606.9 3727.3 1603.9 3727.7 1600.9C3728 1597.9 3728.4 1594.9 3728.7 1591.9C3729 1588.9 3729.3 1585.9 3729.6 1583C3729.9 1580 3730.2 1577 3730.5 1574C3730.8 1570.9 3731.1 1567.9 3731.4 1564.9C3731.6 1561.9 3731.9 1558.9 3732.2 1555.9C3732.4 1552.9 3732.7 1549.9 3732.9 1546.9C3733.2 1543.9 3733.4 1540.9 3733.7 1537.9C3733.9 1534.9 3734.2 1531.9 3734.4 1528.9C3734.6 1525.9 3734.9 1522.9 3735.1 1519.9C3735.3 1516.9 3735.6 1513.9 3735.8 1510.9C3736 1507.9 3736.3 1504.9 3736.5 1501.9C3736.7 1498.9 3737 1495.9 3737.2 1492.8C3737.4 1489.8 3737.7 1486.8 3737.9 1483.8C3738.1 1480.8 3738.4 1477.8 3738.6 1474.8C3738.9 1471.8 3739.1 1468.8 3739.4 1465.8C3739.6 1462.8 3739.9 1459.7 3740.2 1456.7C3740.4 1453.7 3740.7 1450.7 3741 1447.7C3741.2 1444.7 3741.5 1441.7 3741.8 1438.7C3742 1435.6 3742.3 1432.6 3742.6 1429.6C3742.8 1426.6 3743.1 1423.6 3743.4 1420.6C3743.6 1417.6 3743.9 1414.5 3744.1 1411.5C3744.4 1408.5 3744.6 1405.5 3744.8 1402.5C3745.1 1399.5 3745.3 1396.4 3745.5 1393.4C3745.7 1390.4 3745.9 1387.4 3746.1 1384.4C3746.3 1381.4 3746.5 1378.4 3746.6 1375.3C3746.8 1372.3 3747 1369.3 3747.1 1366.3C3747.3 1363.3 3747.4 1360.3 3747.6 1357.3C3747.7 1354.2 3747.9 1351.2 3748 1348.2C3748.1 1345.2 3748.3 1342.2 3748.4 1339.2C3748.6 1336.2 3748.8 1333.1 3748.9 1330.1C3749.1 1327.1 3749.3 1324.1 3749.5 1321.1C3749.7 1318.1 3749.9 1315.1 3750.1 1312.1C3750.3 1309 3750.6 1306 3750.9 1303C3751.1 1300 3751.4 1297 3751.7 1294C3752 1291 3752.4 1288 3752.7 1285C3753.1 1282 3753.4 1279 3753.7 1276.1C3753.9 1273.2 3754.1 1270.5 3754.4 1267.5C3754.7 1264.6 3754.7 1261.8 3755.3 1258.5C3756 1255.3 3756.9 1249.6 3758 1248C3759.1 1246.3 3760.9 1246.6 3762 1248.5C3763 1250.3 3763.9 1255.8 3764.4 1259.1C3765 1262.3 3764.9 1265.1 3765.1 1268C3765.3 1271 3765.4 1273.7 3765.7 1276.7C3765.9 1279.6 3766.2 1282.6 3766.5 1285.6C3766.8 1288.6 3767.2 1291.6 3767.4 1294.6C3767.7 1297.6 3767.9 1300.6 3768.1 1303.6C3768.3 1306.6 3768.5 1309.6 3768.6 1312.6C3768.8 1315.7 3768.9 1318.7 3769.1 1321.7C3769.2 1324.7 3769.3 1327.7 3769.5 1330.7C3769.6 1333.7 3769.8 1336.7 3769.9 1339.7C3770.1 1342.7 3770.2 1345.8 3770.3 1348.8C3770.5 1351.8 3770.6 1354.8 3770.8 1357.8C3770.9 1360.8 3771.1 1363.9 3771.2 1366.9C3771.4 1369.9 3771.5 1372.9 3771.7 1375.9C3771.8 1378.9 3772 1382 3772.1 1385C3772.3 1388 3772.4 1391 3772.6 1394C3772.7 1397.1 3772.9 1400.1 3773 1403.1C3773.2 1406.1 3773.3 1409.1 3773.5 1412.2C3773.6 1415.2 3773.8 1418.2 3773.9 1421.2C3774.1 1424.2 3774.2 1427.3 3774.4 1430.3C3774.6 1433.3 3774.7 1436.3 3774.9 1439.4C3775 1442.4 3775.2 1445.4 3775.3 1448.4C3775.5 1451.4 3775.6 1454.5 3775.8 1457.5C3776 1460.5 3776.1 1463.5 3776.3 1466.5C3776.4 1469.6 3776.6 1472.6 3776.8 1475.6C3776.9 1478.6 3777.1 1481.6 3777.2 1484.7C3777.4 1487.7 3777.6 1490.7 3777.7 1493.7C3777.9 1496.7 3778.1 1499.8 3778.2 1502.8C3778.4 1505.8 3778.5 1508.8 3778.7 1511.8C3778.9 1514.8 3779 1517.9 3779.2 1520.9C3779.4 1523.9 3779.5 1526.9 3779.7 1529.9C3779.9 1532.9 3780 1535.9 3780.2 1539C3780.4 1542 3780.5 1545 3780.7 1548C3780.9 1551 3781.1 1554 3781.2 1557C3781.4 1560 3781.6 1563 3781.7 1566C3781.9 1569 3782.1 1572 3782.3 1575.1C3782.4 1578.1 3782.6 1581.1 3782.8 1584.1C3783 1587.1 3783.1 1590.1 3783.3 1593.1C3783.5 1596.1 3783.7 1599.1 3783.9 1602.1C3784.1 1605.1 3784.3 1608.1 3784.5 1611.1C3784.7 1614.1 3784.9 1617.1 3785.1 1620.1C3785.3 1623.1 3785.5 1626.1 3785.7 1629.1C3785.9 1632.1 3786.1 1635.2 3786.3 1638.2C3786.5 1641.2 3786.7 1644.2 3786.9 1647.2C3787.2 1650.2 3787.4 1653.2 3787.6 1656.2C3787.9 1659.2 3788.1 1662.2 3788.3 1665.3C3788.6 1668.3 3788.8 1671.3 3789.1 1674.3C3789.3 1677.3 3789.6 1680.3 3789.9 1683.4C3790.1 1686.4 3790.4 1689.4 3790.7 1692.4C3790.9 1695.4 3791.2 1698.5 3791.5 1701.5C3791.8 1704.5 3792.1 1707.6 3792.4 1710.6C3792.7 1713.6 3793 1716.7 3793.3 1719.7C3793.6 1722.7 3794 1725.8 3794.3 1728.8C3794.6 1731.9 3795 1734.9 3795.3 1737.9C3795.7 1741 3796 1744.1 3796.4 1747.1C3796.8 1750.1 3797.1 1753.2 3797.7 1756.2C3798.2 1759.1 3798.8 1762.1 3799.7 1764.8C3800.6 1767.5 3801.7 1770.1 3803.2 1772.6C3804.7 1775.2 3806.4 1778.1 3808.6 1780C3810.9 1781.9 3813.6 1783.7 3816.6 1784.3C3819.6 1784.9 3823.4 1783.7 3826.5 1783.7C3829.6 1783.7 3833.6 1784.2 3835 1784.3" fill="none" stroke="#0A6CE0" stroke-width="3.3" stroke-linejoin="round"/>
</g>
<g stroke="#000" fill="none" stroke-linecap="butt">
<rect x="2273.4" y="6.4" width="588" height="592.6" stroke-width="4.0"/>
<line x1="2279.5" x2="2279.5" y1="585" y2="599" stroke-width="4.0"/>
<line x1="2309.9" x2="2309.9" y1="575.2" y2="599" stroke-width="4.0"/>
<line x1="2340.4" x2="2340.4" y1="585" y2="599" stroke-width="4.0"/>
<line x1="2370.9" x2="2370.9" y1="585" y2="599" stroke-width="4.0"/>
<line x1="2401.4" x2="2401.4" y1="585" y2="599" stroke-width="4.0"/>
<line x1="2431.9" x2="2431.9" y1="585" y2="599" stroke-width="4.0"/>
<line x1="2462.4" x2="2462.4" y1="575.2" y2="599" stroke-width="4.0"/>
<line x1="2492.9" x2="2492.9" y1="585" y2="599" stroke-width="4.0"/>
<line x1="2523.4" x2="2523.4" y1="585" y2="599" stroke-width="4.0"/>
<line x1="2553.9" x2="2553.9" y1="585" y2="599" stroke-width="4.0"/>
<line x1="2584.4" x2="2584.4" y1="585" y2="599" stroke-width="4.0"/>
<line x1="2614.9" x2="2614.9" y1="575.2" y2="599" stroke-width="4.0"/>
<line x1="2645.3" x2="2645.3" y1="585" y2="599" stroke-width="4.0"/>
<line x1="2675.8" x2="2675.8" y1="585" y2="599" stroke-width="4.0"/>
<line x1="2706.3" x2="2706.3" y1="585" y2="599" stroke-width="4.0"/>
<line x1="2736.8" x2="2736.8" y1="585" y2="599" stroke-width="4.0"/>
<line x1="2767.3" x2="2767.3" y1="575.2" y2="599" stroke-width="4.0"/>
<line x1="2797.8" x2="2797.8" y1="585" y2="599" stroke-width="4.0"/>
<line x1="2828.3" x2="2828.3" y1="585" y2="599" stroke-width="4.0"/>
<line x1="2858.8" x2="2858.8" y1="585" y2="599" stroke-width="4.0"/>
<line x1="2273.4" x2="2287.4" y1="572.1" y2="572.1" stroke-width="4.0"/>
<line x1="2273.4" x2="2287.4" y1="545.1" y2="545.1" stroke-width="4.0"/>
<line x1="2273.4" x2="2287.4" y1="518.2" y2="518.2" stroke-width="4.0"/>
<line x1="2273.4" x2="2287.4" y1="464.3" y2="464.3" stroke-width="4.0"/>
<line x1="2273.4" x2="2287.4" y1="437.4" y2="437.4" stroke-width="4.0"/>
<line x1="2273.4" x2="2287.4" y1="410.4" y2="410.4" stroke-width="4.0"/>
<line x1="2273.4" x2="2287.4" y1="356.5" y2="356.5" stroke-width="4.0"/>
<line x1="2273.4" x2="2287.4" y1="329.6" y2="329.6" stroke-width="4.0"/>
<line x1="2273.4" x2="2287.4" y1="302.7" y2="302.7" stroke-width="4.0"/>
<line x1="2273.4" x2="2287.4" y1="248.8" y2="248.8" stroke-width="4.0"/>
<line x1="2273.4" x2="2287.4" y1="221.8" y2="221.8" stroke-width="4.0"/>
<line x1="2273.4" x2="2287.4" y1="194.9" y2="194.9" stroke-width="4.0"/>
<line x1="2273.4" x2="2287.4" y1="141" y2="141" stroke-width="4.0"/>
<line x1="2273.4" x2="2287.4" y1="114.1" y2="114.1" stroke-width="4.0"/>
<line x1="2273.4" x2="2287.4" y1="87.1" y2="87.1" stroke-width="4.0"/>
<line x1="2273.4" x2="2287.4" y1="33.3" y2="33.3" stroke-width="4.0"/>
<rect x="2273.4" y="599" width="588" height="592.7" stroke-width="4.0"/>
<line x1="2279.5" x2="2279.5" y1="1177.7" y2="1191.7" stroke-width="4.0"/>
<line x1="2279.5" x2="2279.5" y1="599" y2="613" stroke-width="4.0"/>
<line x1="2309.9" x2="2309.9" y1="1167.9" y2="1191.7" stroke-width="4.0"/>
<line x1="2309.9" x2="2309.9" y1="599" y2="622.8" stroke-width="4.0"/>
<line x1="2340.4" x2="2340.4" y1="1177.7" y2="1191.7" stroke-width="4.0"/>
<line x1="2340.4" x2="2340.4" y1="599" y2="613" stroke-width="4.0"/>
<line x1="2370.9" x2="2370.9" y1="1177.7" y2="1191.7" stroke-width="4.0"/>
<line x1="2370.9" x2="2370.9" y1="599" y2="613" stroke-width="4.0"/>
<line x1="2401.4" x2="2401.4" y1="1177.7" y2="1191.7" stroke-width="4.0"/>
<line x1="2401.4" x2="2401.4" y1="599" y2="613" stroke-width="4.0"/>
<line x1="2431.9" x2="2431.9" y1="1177.7" y2="1191.7" stroke-width="4.0"/>
<line x1="2431.9" x2="2431.9" y1="599" y2="613" stroke-width="4.0"/>
<line x1="2462.4" x2="2462.4" y1="1167.9" y2="1191.7" stroke-width="4.0"/>
<line x1="2462.4" x2="2462.4" y1="599" y2="622.8" stroke-width="4.0"/>
<line x1="2492.9" x2="2492.9" y1="1177.7" y2="1191.7" stroke-width="4.0"/>
<line x1="2492.9" x2="2492.9" y1="599" y2="613" stroke-width="4.0"/>
<line x1="2523.4" x2="2523.4" y1="1177.7" y2="1191.7" stroke-width="4.0"/>
<line x1="2523.4" x2="2523.4" y1="599" y2="613" stroke-width="4.0"/>
<line x1="2553.9" x2="2553.9" y1="1177.7" y2="1191.7" stroke-width="4.0"/>
<line x1="2553.9" x2="2553.9" y1="599" y2="613" stroke-width="4.0"/>
<line x1="2584.4" x2="2584.4" y1="1177.7" y2="1191.7" stroke-width="4.0"/>
<line x1="2584.4" x2="2584.4" y1="599" y2="613" stroke-width="4.0"/>
<line x1="2614.9" x2="2614.9" y1="1167.9" y2="1191.7" stroke-width="4.0"/>
<line x1="2614.9" x2="2614.9" y1="599" y2="622.8" stroke-width="4.0"/>
<line x1="2645.3" x2="2645.3" y1="1177.7" y2="1191.7" stroke-width="4.0"/>
<line x1="2645.3" x2="2645.3" y1="599" y2="613" stroke-width="4.0"/>
<line x1="2675.8" x2="2675.8" y1="1177.7" y2="1191.7" stroke-width="4.0"/>
<line x1="2675.8" x2="2675.8" y1="599" y2="613" stroke-width="4.0"/>
<line x1="2706.3" x2="2706.3" y1="1177.7" y2="1191.7" stroke-width="4.0"/>
<line x1="2706.3" x2="2706.3" y1="599" y2="613" stroke-width="4.0"/>
<line x1="2736.8" x2="2736.8" y1="1177.7" y2="1191.7" stroke-width="4.0"/>
<line x1="2736.8" x2="2736.8" y1="599" y2="613" stroke-width="4.0"/>
<line x1="2767.3" x2="2767.3" y1="1167.9" y2="1191.7" stroke-width="4.0"/>
<line x1="2767.3" x2="2767.3" y1="599" y2="622.8" stroke-width="4.0"/>
<line x1="2797.8" x2="2797.8" y1="1177.7" y2="1191.7" stroke-width="4.0"/>
<line x1="2797.8" x2="2797.8" y1="599" y2="613" stroke-width="4.0"/>
<line x1="2828.3" x2="2828.3" y1="1177.7" y2="1191.7" stroke-width="4.0"/>
<line x1="2828.3" x2="2828.3" y1="599" y2="613" stroke-width="4.0"/>
<line x1="2858.8" x2="2858.8" y1="1177.7" y2="1191.7" stroke-width="4.0"/>
<line x1="2858.8" x2="2858.8" y1="599" y2="613" stroke-width="4.0"/>
<line x1="2273.4" x2="2287.4" y1="1166.8" y2="1166.8" stroke-width="4.0"/>
<line x1="2847.4" x2="2861.4" y1="1166.8" y2="1166.8" stroke-width="4.0"/>
<line x1="2273.4" x2="2297.2" y1="1125.8" y2="1125.8" stroke-width="4.0"/>
<line x1="2837.6" x2="2861.4" y1="1125.8" y2="1125.8" stroke-width="4.0"/>
<line x1="2273.4" x2="2287.4" y1="1084.8" y2="1084.8" stroke-width="4.0"/>
<line x1="2847.4" x2="2861.4" y1="1084.8" y2="1084.8" stroke-width="4.0"/>
<line x1="2273.4" x2="2287.4" y1="1043.8" y2="1043.8" stroke-width="4.0"/>
<line x1="2847.4" x2="2861.4" y1="1043.8" y2="1043.8" stroke-width="4.0"/>
<line x1="2273.4" x2="2287.4" y1="1002.7" y2="1002.7" stroke-width="4.0"/>
<line x1="2847.4" x2="2861.4" y1="1002.7" y2="1002.7" stroke-width="4.0"/>
<line x1="2273.4" x2="2297.2" y1="961.7" y2="961.7" stroke-width="4.0"/>
<line x1="2837.6" x2="2861.4" y1="961.7" y2="961.7" stroke-width="4.0"/>
<line x1="2273.4" x2="2287.4" y1="920.7" y2="920.7" stroke-width="4.0"/>
<line x1="2847.4" x2="2861.4" y1="920.7" y2="920.7" stroke-width="4.0"/>
<line x1="2273.4" x2="2287.4" y1="879.6" y2="879.6" stroke-width="4.0"/>
<line x1="2847.4" x2="2861.4" y1="879.6" y2="879.6" stroke-width="4.0"/>
<line x1="2273.4" x2="2287.4" y1="838.6" y2="838.6" stroke-width="4.0"/>
<line x1="2847.4" x2="2861.4" y1="838.6" y2="838.6" stroke-width="4.0"/>
<line x1="2273.4" x2="2297.2" y1="797.6" y2="797.6" stroke-width="4.0"/>
<line x1="2837.6" x2="2861.4" y1="797.6" y2="797.6" stroke-width="4.0"/>
<line x1="2273.4" x2="2287.4" y1="756.6" y2="756.6" stroke-width="4.0"/>
<line x1="2847.4" x2="2861.4" y1="756.6" y2="756.6" stroke-width="4.0"/>
<line x1="2273.4" x2="2287.4" y1="715.6" y2="715.6" stroke-width="4.0"/>
<line x1="2847.4" x2="2861.4" y1="715.6" y2="715.6" stroke-width="4.0"/>
<line x1="2273.4" x2="2287.4" y1="674.5" y2="674.5" stroke-width="4.0"/>
<line x1="2847.4" x2="2861.4" y1="674.5" y2="674.5" stroke-width="4.0"/>
<line x1="2273.4" x2="2297.2" y1="633.5" y2="633.5" stroke-width="4.0"/>
<line x1="2837.6" x2="2861.4" y1="633.5" y2="633.5" stroke-width="4.0"/>
<rect x="2861.4" y="599" width="588" height="592.7" stroke-width="4.0"/>
<line x1="2885.8" x2="2885.8" y1="1177.7" y2="1191.7" stroke-width="4.0"/>
<line x1="2926.5" x2="2926.5" y1="1167.9" y2="1191.7" stroke-width="4.0"/>
<line x1="2967.2" x2="2967.2" y1="1177.7" y2="1191.7" stroke-width="4.0"/>
<line x1="3008" x2="3008" y1="1177.7" y2="1191.7" stroke-width="4.0"/>
<line x1="3048.8" x2="3048.8" y1="1177.7" y2="1191.7" stroke-width="4.0"/>
<line x1="3089.5" x2="3089.5" y1="1167.9" y2="1191.7" stroke-width="4.0"/>
<line x1="3130.2" x2="3130.2" y1="1177.7" y2="1191.7" stroke-width="4.0"/>
<line x1="3171" x2="3171" y1="1177.7" y2="1191.7" stroke-width="4.0"/>
<line x1="3211.8" x2="3211.8" y1="1177.7" y2="1191.7" stroke-width="4.0"/>
<line x1="3252.5" x2="3252.5" y1="1167.9" y2="1191.7" stroke-width="4.0"/>
<line x1="3293.3" x2="3293.3" y1="1177.7" y2="1191.7" stroke-width="4.0"/>
<line x1="3334" x2="3334" y1="1177.7" y2="1191.7" stroke-width="4.0"/>
<line x1="3374.8" x2="3374.8" y1="1177.7" y2="1191.7" stroke-width="4.0"/>
<line x1="3415.5" x2="3415.5" y1="1167.9" y2="1191.7" stroke-width="4.0"/>
<line x1="2861.4" x2="2875.4" y1="1164.8" y2="1164.8" stroke-width="4.0"/>
<line x1="2861.4" x2="2875.4" y1="1137.8" y2="1137.8" stroke-width="4.0"/>
<line x1="2861.4" x2="2875.4" y1="1110.9" y2="1110.9" stroke-width="4.0"/>
<line x1="2861.4" x2="2875.4" y1="1057" y2="1057" stroke-width="4.0"/>
<line x1="2861.4" x2="2875.4" y1="1030.1" y2="1030.1" stroke-width="4.0"/>
<line x1="2861.4" x2="2875.4" y1="1003.1" y2="1003.1" stroke-width="4.0"/>
<line x1="2861.4" x2="2875.4" y1="949.2" y2="949.2" stroke-width="4.0"/>
<line x1="2861.4" x2="2875.4" y1="922.3" y2="922.3" stroke-width="4.0"/>
<line x1="2861.4" x2="2875.4" y1="895.4" y2="895.4" stroke-width="4.0"/>
<line x1="2861.4" x2="2875.4" y1="841.5" y2="841.5" stroke-width="4.0"/>
<line x1="2861.4" x2="2875.4" y1="814.5" y2="814.5" stroke-width="4.0"/>
<line x1="2861.4" x2="2875.4" y1="787.6" y2="787.6" stroke-width="4.0"/>
<line x1="2861.4" x2="2875.4" y1="733.7" y2="733.7" stroke-width="4.0"/>
<line x1="2861.4" x2="2875.4" y1="706.8" y2="706.8" stroke-width="4.0"/>
<line x1="2861.4" x2="2875.4" y1="679.8" y2="679.8" stroke-width="4.0"/>
<line x1="2861.4" x2="2875.4" y1="626" y2="626" stroke-width="4.0"/>
<rect x="2273.4" y="1191.7" width="588" height="592.8" stroke-width="4.0"/>
<line x1="2279.5" x2="2279.5" y1="1770.5" y2="1784.5" stroke-width="4.0"/>
<line x1="2279.5" x2="2279.5" y1="1191.7" y2="1205.7" stroke-width="4.0"/>
<line x1="2309.9" x2="2309.9" y1="1760.7" y2="1784.5" stroke-width="4.0"/>
<line x1="2309.9" x2="2309.9" y1="1191.7" y2="1215.5" stroke-width="4.0"/>
<line x1="2340.4" x2="2340.4" y1="1770.5" y2="1784.5" stroke-width="4.0"/>
<line x1="2340.4" x2="2340.4" y1="1191.7" y2="1205.7" stroke-width="4.0"/>
<line x1="2370.9" x2="2370.9" y1="1770.5" y2="1784.5" stroke-width="4.0"/>
<line x1="2370.9" x2="2370.9" y1="1191.7" y2="1205.7" stroke-width="4.0"/>
<line x1="2401.4" x2="2401.4" y1="1770.5" y2="1784.5" stroke-width="4.0"/>
<line x1="2401.4" x2="2401.4" y1="1191.7" y2="1205.7" stroke-width="4.0"/>
<line x1="2431.9" x2="2431.9" y1="1770.5" y2="1784.5" stroke-width="4.0"/>
<line x1="2431.9" x2="2431.9" y1="1191.7" y2="1205.7" stroke-width="4.0"/>
<line x1="2462.4" x2="2462.4" y1="1760.7" y2="1784.5" stroke-width="4.0"/>
<line x1="2462.4" x2="2462.4" y1="1191.7" y2="1215.5" stroke-width="4.0"/>
<line x1="2492.9" x2="2492.9" y1="1770.5" y2="1784.5" stroke-width="4.0"/>
<line x1="2492.9" x2="2492.9" y1="1191.7" y2="1205.7" stroke-width="4.0"/>
<line x1="2523.4" x2="2523.4" y1="1770.5" y2="1784.5" stroke-width="4.0"/>
<line x1="2523.4" x2="2523.4" y1="1191.7" y2="1205.7" stroke-width="4.0"/>
<line x1="2553.9" x2="2553.9" y1="1770.5" y2="1784.5" stroke-width="4.0"/>
<line x1="2553.9" x2="2553.9" y1="1191.7" y2="1205.7" stroke-width="4.0"/>
<line x1="2584.4" x2="2584.4" y1="1770.5" y2="1784.5" stroke-width="4.0"/>
<line x1="2584.4" x2="2584.4" y1="1191.7" y2="1205.7" stroke-width="4.0"/>
<line x1="2614.9" x2="2614.9" y1="1760.7" y2="1784.5" stroke-width="4.0"/>
<line x1="2614.9" x2="2614.9" y1="1191.7" y2="1215.5" stroke-width="4.0"/>
<line x1="2645.3" x2="2645.3" y1="1770.5" y2="1784.5" stroke-width="4.0"/>
<line x1="2645.3" x2="2645.3" y1="1191.7" y2="1205.7" stroke-width="4.0"/>
<line x1="2675.8" x2="2675.8" y1="1770.5" y2="1784.5" stroke-width="4.0"/>
<line x1="2675.8" x2="2675.8" y1="1191.7" y2="1205.7" stroke-width="4.0"/>
<line x1="2706.3" x2="2706.3" y1="1770.5" y2="1784.5" stroke-width="4.0"/>
<line x1="2706.3" x2="2706.3" y1="1191.7" y2="1205.7" stroke-width="4.0"/>
<line x1="2736.8" x2="2736.8" y1="1770.5" y2="1784.5" stroke-width="4.0"/>
<line x1="2736.8" x2="2736.8" y1="1191.7" y2="1205.7" stroke-width="4.0"/>
<line x1="2767.3" x2="2767.3" y1="1760.7" y2="1784.5" stroke-width="4.0"/>
<line x1="2767.3" x2="2767.3" y1="1191.7" y2="1215.5" stroke-width="4.0"/>
<line x1="2797.8" x2="2797.8" y1="1770.5" y2="1784.5" stroke-width="4.0"/>
<line x1="2797.8" x2="2797.8" y1="1191.7" y2="1205.7" stroke-width="4.0"/>
<line x1="2828.3" x2="2828.3" y1="1770.5" y2="1784.5" stroke-width="4.0"/>
<line x1="2828.3" x2="2828.3" y1="1191.7" y2="1205.7" stroke-width="4.0"/>
<line x1="2858.8" x2="2858.8" y1="1770.5" y2="1784.5" stroke-width="4.0"/>
<line x1="2858.8" x2="2858.8" y1="1191.7" y2="1205.7" stroke-width="4.0"/>
<line x1="2273.4" x2="2287.4" y1="1759.9" y2="1759.9" stroke-width="4.0"/>
<line x1="2847.4" x2="2861.4" y1="1759.9" y2="1759.9" stroke-width="4.0"/>
<line x1="2273.4" x2="2297.2" y1="1732" y2="1732" stroke-width="4.0"/>
<line x1="2837.6" x2="2861.4" y1="1732" y2="1732" stroke-width="4.0"/>
<line x1="2273.4" x2="2287.4" y1="1704.1" y2="1704.1" stroke-width="4.0"/>
<line x1="2847.4" x2="2861.4" y1="1704.1" y2="1704.1" stroke-width="4.0"/>
<line x1="2273.4" x2="2287.4" y1="1676.3" y2="1676.3" stroke-width="4.0"/>
<line x1="2847.4" x2="2861.4" y1="1676.3" y2="1676.3" stroke-width="4.0"/>
<line x1="2273.4" x2="2287.4" y1="1648.4" y2="1648.4" stroke-width="4.0"/>
<line x1="2847.4" x2="2861.4" y1="1648.4" y2="1648.4" stroke-width="4.0"/>
<line x1="2273.4" x2="2297.2" y1="1620.5" y2="1620.5" stroke-width="4.0"/>
<line x1="2837.6" x2="2861.4" y1="1620.5" y2="1620.5" stroke-width="4.0"/>
<line x1="2273.4" x2="2287.4" y1="1592.7" y2="1592.7" stroke-width="4.0"/>
<line x1="2847.4" x2="2861.4" y1="1592.7" y2="1592.7" stroke-width="4.0"/>
<line x1="2273.4" x2="2287.4" y1="1564.8" y2="1564.8" stroke-width="4.0"/>
<line x1="2847.4" x2="2861.4" y1="1564.8" y2="1564.8" stroke-width="4.0"/>
<line x1="2273.4" x2="2287.4" y1="1536.9" y2="1536.9" stroke-width="4.0"/>
<line x1="2847.4" x2="2861.4" y1="1536.9" y2="1536.9" stroke-width="4.0"/>
<line x1="2273.4" x2="2297.2" y1="1509" y2="1509" stroke-width="4.0"/>
<line x1="2837.6" x2="2861.4" y1="1509" y2="1509" stroke-width="4.0"/>
<line x1="2273.4" x2="2287.4" y1="1481.2" y2="1481.2" stroke-width="4.0"/>
<line x1="2847.4" x2="2861.4" y1="1481.2" y2="1481.2" stroke-width="4.0"/>
<line x1="2273.4" x2="2287.4" y1="1453.3" y2="1453.3" stroke-width="4.0"/>
<line x1="2847.4" x2="2861.4" y1="1453.3" y2="1453.3" stroke-width="4.0"/>
<line x1="2273.4" x2="2287.4" y1="1425.4" y2="1425.4" stroke-width="4.0"/>
<line x1="2847.4" x2="2861.4" y1="1425.4" y2="1425.4" stroke-width="4.0"/>
<line x1="2273.4" x2="2297.2" y1="1397.6" y2="1397.6" stroke-width="4.0"/>
<line x1="2837.6" x2="2861.4" y1="1397.6" y2="1397.6" stroke-width="4.0"/>
<line x1="2273.4" x2="2287.4" y1="1369.7" y2="1369.7" stroke-width="4.0"/>
<line x1="2847.4" x2="2861.4" y1="1369.7" y2="1369.7" stroke-width="4.0"/>
<line x1="2273.4" x2="2287.4" y1="1341.8" y2="1341.8" stroke-width="4.0"/>
<line x1="2847.4" x2="2861.4" y1="1341.8" y2="1341.8" stroke-width="4.0"/>
<line x1="2273.4" x2="2287.4" y1="1314" y2="1314" stroke-width="4.0"/>
<line x1="2847.4" x2="2861.4" y1="1314" y2="1314" stroke-width="4.0"/>
<line x1="2273.4" x2="2297.2" y1="1286.1" y2="1286.1" stroke-width="4.0"/>
<line x1="2837.6" x2="2861.4" y1="1286.1" y2="1286.1" stroke-width="4.0"/>
<line x1="2273.4" x2="2287.4" y1="1258.2" y2="1258.2" stroke-width="4.0"/>
<line x1="2847.4" x2="2861.4" y1="1258.2" y2="1258.2" stroke-width="4.0"/>
<line x1="2273.4" x2="2287.4" y1="1230.3" y2="1230.3" stroke-width="4.0"/>
<line x1="2847.4" x2="2861.4" y1="1230.3" y2="1230.3" stroke-width="4.0"/>
<line x1="2273.4" x2="2287.4" y1="1202.5" y2="1202.5" stroke-width="4.0"/>
<line x1="2847.4" x2="2861.4" y1="1202.5" y2="1202.5" stroke-width="4.0"/>
<rect x="2861.4" y="1191.7" width="588" height="592.8" stroke-width="4.0"/>
<line x1="2885.8" x2="2885.8" y1="1770.5" y2="1784.5" stroke-width="4.0"/>
<line x1="2885.8" x2="2885.8" y1="1191.7" y2="1205.7" stroke-width="4.0"/>
<line x1="2926.5" x2="2926.5" y1="1760.7" y2="1784.5" stroke-width="4.0"/>
<line x1="2926.5" x2="2926.5" y1="1191.7" y2="1215.5" stroke-width="4.0"/>
<line x1="2967.2" x2="2967.2" y1="1770.5" y2="1784.5" stroke-width="4.0"/>
<line x1="2967.2" x2="2967.2" y1="1191.7" y2="1205.7" stroke-width="4.0"/>
<line x1="3008" x2="3008" y1="1770.5" y2="1784.5" stroke-width="4.0"/>
<line x1="3008" x2="3008" y1="1191.7" y2="1205.7" stroke-width="4.0"/>
<line x1="3048.8" x2="3048.8" y1="1770.5" y2="1784.5" stroke-width="4.0"/>
<line x1="3048.8" x2="3048.8" y1="1191.7" y2="1205.7" stroke-width="4.0"/>
<line x1="3089.5" x2="3089.5" y1="1760.7" y2="1784.5" stroke-width="4.0"/>
<line x1="3089.5" x2="3089.5" y1="1191.7" y2="1215.5" stroke-width="4.0"/>
<line x1="3130.2" x2="3130.2" y1="1770.5" y2="1784.5" stroke-width="4.0"/>
<line x1="3130.2" x2="3130.2" y1="1191.7" y2="1205.7" stroke-width="4.0"/>
<line x1="3171" x2="3171" y1="1770.5" y2="1784.5" stroke-width="4.0"/>
<line x1="3171" x2="3171" y1="1191.7" y2="1205.7" stroke-width="4.0"/>
<line x1="3211.8" x2="3211.8" y1="1770.5" y2="1784.5" stroke-width="4.0"/>
<line x1="3211.8" x2="3211.8" y1="1191.7" y2="1205.7" stroke-width="4.0"/>
<line x1="3252.5" x2="3252.5" y1="1760.7" y2="1784.5" stroke-width="4.0"/>
<line x1="3252.5" x2="3252.5" y1="1191.7" y2="1215.5" stroke-width="4.0"/>
<line x1="3293.3" x2="3293.3" y1="1770.5" y2="1784.5" stroke-width="4.0"/>
<line x1="3293.3" x2="3293.3" y1="1191.7" y2="1205.7" stroke-width="4.0"/>
<line x1="3334" x2="3334" y1="1770.5" y2="1784.5" stroke-width="4.0"/>
<line x1="3334" x2="3334" y1="1191.7" y2="1205.7" stroke-width="4.0"/>
<line x1="3374.8" x2="3374.8" y1="1770.5" y2="1784.5" stroke-width="4.0"/>
<line x1="3374.8" x2="3374.8" y1="1191.7" y2="1205.7" stroke-width="4.0"/>
<line x1="3415.5" x2="3415.5" y1="1760.7" y2="1784.5" stroke-width="4.0"/>
<line x1="3415.5" x2="3415.5" y1="1191.7" y2="1215.5" stroke-width="4.0"/>
<line x1="2861.4" x2="2875.4" y1="1759.9" y2="1759.9" stroke-width="4.0"/>
<line x1="3435.4" x2="3449.4" y1="1759.9" y2="1759.9" stroke-width="4.0"/>
<line x1="2861.4" x2="2885.2" y1="1732" y2="1732" stroke-width="4.0"/>
<line x1="3425.6" x2="3449.4" y1="1732" y2="1732" stroke-width="4.0"/>
<line x1="2861.4" x2="2875.4" y1="1704.1" y2="1704.1" stroke-width="4.0"/>
<line x1="3435.4" x2="3449.4" y1="1704.1" y2="1704.1" stroke-width="4.0"/>
<line x1="2861.4" x2="2875.4" y1="1676.3" y2="1676.3" stroke-width="4.0"/>
<line x1="3435.4" x2="3449.4" y1="1676.3" y2="1676.3" stroke-width="4.0"/>
<line x1="2861.4" x2="2875.4" y1="1648.4" y2="1648.4" stroke-width="4.0"/>
<line x1="3435.4" x2="3449.4" y1="1648.4" y2="1648.4" stroke-width="4.0"/>
<line x1="2861.4" x2="2885.2" y1="1620.5" y2="1620.5" stroke-width="4.0"/>
<line x1="3425.6" x2="3449.4" y1="1620.5" y2="1620.5" stroke-width="4.0"/>
<line x1="2861.4" x2="2875.4" y1="1592.7" y2="1592.7" stroke-width="4.0"/>
<line x1="3435.4" x2="3449.4" y1="1592.7" y2="1592.7" stroke-width="4.0"/>
<line x1="2861.4" x2="2875.4" y1="1564.8" y2="1564.8" stroke-width="4.0"/>
<line x1="3435.4" x2="3449.4" y1="1564.8" y2="1564.8" stroke-width="4.0"/>
<line x1="2861.4" x2="2875.4" y1="1536.9" y2="1536.9" stroke-width="4.0"/>
<line x1="3435.4" x2="3449.4" y1="1536.9" y2="1536.9" stroke-width="4.0"/>
<line x1="2861.4" x2="2885.2" y1="1509" y2="1509" stroke-width="4.0"/>
<line x1="3425.6" x2="3449.4" y1="1509" y2="1509" stroke-width="4.0"/>
<line x1="2861.4" x2="2875.4" y1="1481.2" y2="1481.2" stroke-width="4.0"/>
<line x1="3435.4" x2="3449.4" y1="1481.2" y2="1481.2" stroke-width="4.0"/>
<line x1="2861.4" x2="2875.4" y1="1453.3" y2="1453.3" stroke-width="4.0"/>
<line x1="3435.4" x2="3449.4" y1="1453.3" y2="1453.3" stroke-width="4.0"/>
<line x1="2861.4" x2="2875.4" y1="1425.4" y2="1425.4" stroke-width="4.0"/>
<line x1="3435.4" x2="3449.4" y1="1425.4" y2="1425.4" stroke-width="4.0"/>
<line x1="2861.4" x2="2885.2" y1="1397.6" y2="1397.6" stroke-width="4.0"/>
<line x1="3425.6" x2="3449.4" y1="1397.6" y2="1397.6" stroke-width="4.0"/>
<line x1="2861.4" x2="2875.4" y1="1369.7" y2="1369.7" stroke-width="4.0"/>
<line x1="3435.4" x2="3449.4" y1="1369.7" y2="1369.7" stroke-width="4.0"/>
<line x1="2861.4" x2="2875.4" y1="1341.8" y2="1341.8" stroke-width="4.0"/>
<line x1="3435.4" x2="3449.4" y1="1341.8" y2="1341.8" stroke-width="4.0"/>
<line x1="2861.4" x2="2875.4" y1="1314" y2="1314" stroke-width="4.0"/>
<line x1="3435.4" x2="3449.4" y1="1314" y2="1314" stroke-width="4.0"/>
<line x1="2861.4" x2="2885.2" y1="1286.1" y2="1286.1" stroke-width="4.0"/>
<line x1="3425.6" x2="3449.4" y1="1286.1" y2="1286.1" stroke-width="4.0"/>
<line x1="2861.4" x2="2875.4" y1="1258.2" y2="1258.2" stroke-width="4.0"/>
<line x1="3435.4" x2="3449.4" y1="1258.2" y2="1258.2" stroke-width="4.0"/>
<line x1="2861.4" x2="2875.4" y1="1230.3" y2="1230.3" stroke-width="4.0"/>
<line x1="3435.4" x2="3449.4" y1="1230.3" y2="1230.3" stroke-width="4.0"/>
<line x1="2861.4" x2="2875.4" y1="1202.5" y2="1202.5" stroke-width="4.0"/>
<line x1="3435.4" x2="3449.4" y1="1202.5" y2="1202.5" stroke-width="4.0"/>
<rect x="3449.4" y="1191.7" width="588.1" height="592.8" stroke-width="4.0"/>
<line x1="3474.2" x2="3474.2" y1="1770.5" y2="1784.5" stroke-width="4.0"/>
<line x1="3501.8" x2="3501.8" y1="1760.7" y2="1784.5" stroke-width="4.0"/>
<line x1="3529.4" x2="3529.4" y1="1770.5" y2="1784.5" stroke-width="4.0"/>
<line x1="3557" x2="3557" y1="1770.5" y2="1784.5" stroke-width="4.0"/>
<line x1="3584.6" x2="3584.6" y1="1770.5" y2="1784.5" stroke-width="4.0"/>
<line x1="3612.2" x2="3612.2" y1="1760.7" y2="1784.5" stroke-width="4.0"/>
<line x1="3639.9" x2="3639.9" y1="1770.5" y2="1784.5" stroke-width="4.0"/>
<line x1="3667.5" x2="3667.5" y1="1770.5" y2="1784.5" stroke-width="4.0"/>
<line x1="3695.1" x2="3695.1" y1="1770.5" y2="1784.5" stroke-width="4.0"/>
<line x1="3722.7" x2="3722.7" y1="1760.7" y2="1784.5" stroke-width="4.0"/>
<line x1="3750.3" x2="3750.3" y1="1770.5" y2="1784.5" stroke-width="4.0"/>
<line x1="3777.9" x2="3777.9" y1="1770.5" y2="1784.5" stroke-width="4.0"/>
<line x1="3805.5" x2="3805.5" y1="1770.5" y2="1784.5" stroke-width="4.0"/>
<line x1="3833.1" x2="3833.1" y1="1760.7" y2="1784.5" stroke-width="4.0"/>
<line x1="3860.7" x2="3860.7" y1="1770.5" y2="1784.5" stroke-width="4.0"/>
<line x1="3888.3" x2="3888.3" y1="1770.5" y2="1784.5" stroke-width="4.0"/>
<line x1="3916" x2="3916" y1="1770.5" y2="1784.5" stroke-width="4.0"/>
<line x1="3943.6" x2="3943.6" y1="1760.7" y2="1784.5" stroke-width="4.0"/>
<line x1="3971.2" x2="3971.2" y1="1770.5" y2="1784.5" stroke-width="4.0"/>
<line x1="3998.8" x2="3998.8" y1="1770.5" y2="1784.5" stroke-width="4.0"/>
<line x1="4026.4" x2="4026.4" y1="1770.5" y2="1784.5" stroke-width="4.0"/>
<line x1="3449.4" x2="3463.4" y1="1757.6" y2="1757.6" stroke-width="4.0"/>
<line x1="3449.4" x2="3463.4" y1="1730.6" y2="1730.6" stroke-width="4.0"/>
<line x1="3449.4" x2="3463.4" y1="1703.7" y2="1703.7" stroke-width="4.0"/>
<line x1="3449.4" x2="3463.4" y1="1649.8" y2="1649.8" stroke-width="4.0"/>
<line x1="3449.4" x2="3463.4" y1="1622.9" y2="1622.9" stroke-width="4.0"/>
<line x1="3449.4" x2="3463.4" y1="1595.9" y2="1595.9" stroke-width="4.0"/>
<line x1="3449.4" x2="3463.4" y1="1542" y2="1542" stroke-width="4.0"/>
<line x1="3449.4" x2="3463.4" y1="1515.1" y2="1515.1" stroke-width="4.0"/>
<line x1="3449.4" x2="3463.4" y1="1488.2" y2="1488.2" stroke-width="4.0"/>
<line x1="3449.4" x2="3463.4" y1="1434.3" y2="1434.3" stroke-width="4.0"/>
<line x1="3449.4" x2="3463.4" y1="1407.3" y2="1407.3" stroke-width="4.0"/>
<line x1="3449.4" x2="3463.4" y1="1380.4" y2="1380.4" stroke-width="4.0"/>
<line x1="3449.4" x2="3463.4" y1="1326.5" y2="1326.5" stroke-width="4.0"/>
<line x1="3449.4" x2="3463.4" y1="1299.6" y2="1299.6" stroke-width="4.0"/>
<line x1="3449.4" x2="3463.4" y1="1272.6" y2="1272.6" stroke-width="4.0"/>
<line x1="3449.4" x2="3463.4" y1="1218.8" y2="1218.8" stroke-width="4.0"/>
</g>
<text font-family="'Liberation Serif', serif" font-size="43.5" x="2424.4" y="1831">0.13</text>
<text font-family="'Liberation Serif', serif" font-size="43.5" x="2576.3" y="1831">0.14</text>
<text font-family="'Liberation Serif', serif" font-size="43.5" x="2729.3" y="1831">0.15</text>
<text font-family="'Liberation Serif', serif" font-size="43.5" x="2887.9" y="1831">0.24</text>
<text font-family="'Liberation Serif', serif" font-size="43.5" x="3051.3" y="1831">0.26</text>
<text font-family="'Liberation Serif', serif" font-size="43.5" x="3214.4" y="1831">0.28</text>
<text font-family="'Liberation Serif', serif" font-size="43.5" x="3479.5" y="1831.3">78</text>
<text font-family="'Liberation Serif', serif" font-size="43.5" x="3590.5" y="1831.3">80</text>
<text font-family="'Liberation Serif', serif" font-size="43.5" x="3701.3" y="1831.3">82</text>
<text font-family="'Liberation Serif', serif" font-size="43.5" x="3810.9" y="1831.3">84</text>
<text font-family="'Liberation Serif', serif" font-size="43.5" x="3921.6" y="1831.3">86</text>
<text font-family="'Liberation Serif', serif" font-size="43.5" x="2179.6" y="1140.9">0.24</text>
<text font-family="'Liberation Serif', serif" font-size="43.5" x="2180.3" y="976.8">0.26</text>
<text font-family="'Liberation Serif', serif" font-size="43.5" x="2180.6" y="812.7">0.28</text>
<text font-family="'Liberation Serif', serif" font-size="43.5" x="2180.6" y="648.6">0.30</text>
<text font-family="'Liberation Serif', serif" font-size="43.5" x="2213.2" y="1747.2">78</text>
<text font-family="'Liberation Serif', serif" font-size="43.5" x="2213.2" y="1635.8">80</text>
<text font-family="'Liberation Serif', serif" font-size="43.5" x="2214" y="1524.3">82</text>
<text font-family="'Liberation Serif', serif" font-size="43.5" x="2212.3" y="1412.8">84</text>
<text font-family="'Liberation Serif', serif" font-size="43.5" x="2212.9" y="1301.3">86</text>
<text font-family="'Liberation Serif', serif" font-size="70" transform="matrix(0.9821 0 0 1.0329 1011.39 1927.30)">Ω</text><text font-family="'Liberation Serif', serif" font-size="70" transform="matrix(0.7407 0 0 0.7082 1061.96 1939.00)">m</text>
<text font-family="'Liberation Serif', serif" font-size="70" font-style="italic" transform="matrix(1.0602 0 0 1.0207 1427.54 1927.30)">H</text><text font-family="'Liberation Serif', serif" font-size="70" transform="matrix(0.6891 0 0 0.6307 1480.89 1939.66)">0</text><text font-family="'Liberation Serif', serif" font-size="70" transform="matrix(0.5971 0 0 1.1962 1524.27 1934.00)">[</text><text font-family="'Liberation Serif', serif" font-size="70" transform="matrix(1.0394 0 0 1.0195 1538.94 1927.30)">km</text><text font-family="'Liberation Serif', serif" font-size="70" transform="matrix(1.3900 0 0 1.4712 1636.40 1943.77)">/</text><text font-family="'Liberation Serif', serif" font-size="70" transform="matrix(1.0240 0 0 0.9435 1666.13 1927.34)">s</text><text font-family="'Liberation Serif', serif" font-size="70" transform="matrix(1.3900 0 0 1.4712 1697.90 1943.77)">/</text><text font-family="'Liberation Serif', serif" font-size="70" transform="matrix(1.0423 0 0 1.0589 1729.39 1929.05)">Mpc</text><text font-family="'Liberation Serif', serif" font-size="70" transform="matrix(0.6540 0 0 1.1962 1863.00 1934.00)">]</text>
<text font-family="'Liberation Serif', serif" font-size="70" font-style="italic" transform="matrix(0.9512 0 0 0.9494 448.20 1928.24)">c</text>
<text font-family="'Liberation Serif', serif" font-size="70" font-style="italic" transform="matrix(1.3143 0 0 0.9772 2548.99 1928.96)">γ</text>
<text font-family="'Liberation Serif', serif" font-size="70" transform="matrix(0.9821 0 0 1.0329 3109.69 1927.30)">Ω</text><text font-family="'Liberation Serif', serif" font-size="70" transform="matrix(0.7407 0 0 0.7082 3160.26 1939.00)">m</text>
<text font-family="'Liberation Serif', serif" font-size="70" font-style="italic" transform="matrix(1.0602 0 0 1.0207 3518.54 1927.30)">H</text><text font-family="'Liberation Serif', serif" font-size="70" transform="matrix(0.6891 0 0 0.6307 3571.89 1939.66)">0</text><text font-family="'Liberation Serif', serif" font-size="70" transform="matrix(0.5971 0 0 1.1962 3615.27 1934.00)">[</text><text font-family="'Liberation Serif', serif" font-size="70" transform="matrix(1.0394 0 0 1.0195 3629.94 1927.30)">km</text><text font-family="'Liberation Serif', serif" font-size="70" transform="matrix(1.3900 0 0 1.4712 3727.40 1943.77)">/</text><text font-family="'Liberation Serif', serif" font-size="70" transform="matrix(1.0240 0 0 0.9435 3757.13 1927.34)">s</text><text font-family="'Liberation Serif', serif" font-size="70" transform="matrix(1.3900 0 0 1.4712 3788.90 1943.77)">/</text><text font-family="'Liberation Serif', serif" font-size="70" transform="matrix(1.0423 0 0 1.0589 3820.39 1929.05)">Mpc</text><text font-family="'Liberation Serif', serif" font-size="70" transform="matrix(0.6540 0 0 1.1962 3954.00 1934.00)">]</text>
<g transform="translate(59.3,938) rotate(-90)"><text font-family="'Liberation Serif', serif" font-size="70" transform="matrix(0.9821 0 0 1.0329 -3.61 -0.00)">Ω</text><text font-family="'Liberation Serif', serif" font-size="70" transform="matrix(0.7407 0 0 0.7082 46.96 11.70)">m</text></g>
<g transform="translate(66,1713.8) rotate(-90)"><text font-family="'Liberation Serif', serif" font-size="70" font-style="italic" transform="matrix(1.0602 0 0 1.0207 0.54 0.00)">H</text><text font-family="'Liberation Serif', serif" font-size="70" transform="matrix(0.6891 0 0 0.6307 53.89 12.36)">0</text><text font-family="'Liberation Serif', serif" font-size="70" transform="matrix(0.5971 0 0 1.1962 97.27 6.70)">[</text><text font-family="'Liberation Serif', serif" font-size="70" transform="matrix(1.0394 0 0 1.0195 111.94 0.00)">km</text><text font-family="'Liberation Serif', serif" font-size="70" transform="matrix(1.3900 0 0 1.4712 209.40 16.47)">/</text><text font-family="'Liberation Serif', serif" font-size="70" transform="matrix(1.0240 0 0 0.9435 239.13 0.04)">s</text><text font-family="'Liberation Serif', serif" font-size="70" transform="matrix(1.3900 0 0 1.4712 270.90 16.47)">/</text><text font-family="'Liberation Serif', serif" font-size="70" transform="matrix(1.0423 0 0 1.0589 302.39 1.75)">Mpc</text><text font-family="'Liberation Serif', serif" font-size="70" transform="matrix(0.6540 0 0 1.1962 436.00 6.70)">]</text></g>
<g transform="translate(2146.7,938.2) rotate(-90)"><text font-family="'Liberation Serif', serif" font-size="70" transform="matrix(0.9821 0 0 1.0329 -3.61 -0.00)">Ω</text><text font-family="'Liberation Serif', serif" font-size="70" transform="matrix(0.7407 0 0 0.7082 46.96 11.70)">m</text></g>
<g transform="translate(2176,1713.7) rotate(-90)"><text font-family="'Liberation Serif', serif" font-size="70" font-style="italic" transform="matrix(1.0602 0 0 1.0207 0.54 0.00)">H</text><text font-family="'Liberation Serif', serif" font-size="70" transform="matrix(0.6891 0 0 0.6307 53.89 12.36)">0</text><text font-family="'Liberation Serif', serif" font-size="70" transform="matrix(0.5971 0 0 1.1962 97.27 6.70)">[</text><text font-family="'Liberation Serif', serif" font-size="70" transform="matrix(1.0394 0 0 1.0195 111.94 0.00)">km</text><text font-family="'Liberation Serif', serif" font-size="70" transform="matrix(1.3900 0 0 1.4712 209.40 16.47)">/</text><text font-family="'Liberation Serif', serif" font-size="70" transform="matrix(1.0240 0 0 0.9435 239.13 0.04)">s</text><text font-family="'Liberation Serif', serif" font-size="70" transform="matrix(1.3900 0 0 1.4712 270.90 16.47)">/</text><text font-family="'Liberation Serif', serif" font-size="70" transform="matrix(1.0423 0 0 1.0589 302.39 1.75)">Mpc</text><text font-family="'Liberation Serif', serif" font-size="70" transform="matrix(0.6540 0 0 1.1962 436.00 6.70)">]</text></g>
<rect x="1581.7" y="67.8" width="147" height="54.6" fill="#E03424"/>
<rect x="1581.7" y="166.5" width="147" height="54.7" fill="#617CC0"/>
<rect x="1586.3" y="171.1" width="137.8" height="45.5" fill="none" stroke="#7b92cf" stroke-width="0.5"/>
<text font-family="'Liberation Sans', sans-serif" font-size="70" transform="matrix(0.9447 0 0 1.0096 1784.83 120.09)">ACT</text>
<text font-family="'Liberation Sans', sans-serif" font-size="70" transform="matrix(0.9114 0 0 0.9718 1782.24 218.12)">Planck</text>
<rect x="3668" y="67.8" width="147" height="54.6" fill="#E03424"/>
<rect x="3668" y="166.5" width="147" height="54.7" fill="#617CC0"/>
<rect x="3672.6" y="171.1" width="137.8" height="45.5" fill="none" stroke="#7b92cf" stroke-width="0.5"/>
<text font-family="'Liberation Sans', sans-serif" font-size="70" transform="matrix(0.9447 0 0 1.0096 3870.73 120.09)">ACT</text>
<text font-family="'Liberation Sans', sans-serif" font-size="70" transform="matrix(0.9114 0 0 0.9718 3868.14 218.12)">Planck</text>
</svg>
</body></html>
